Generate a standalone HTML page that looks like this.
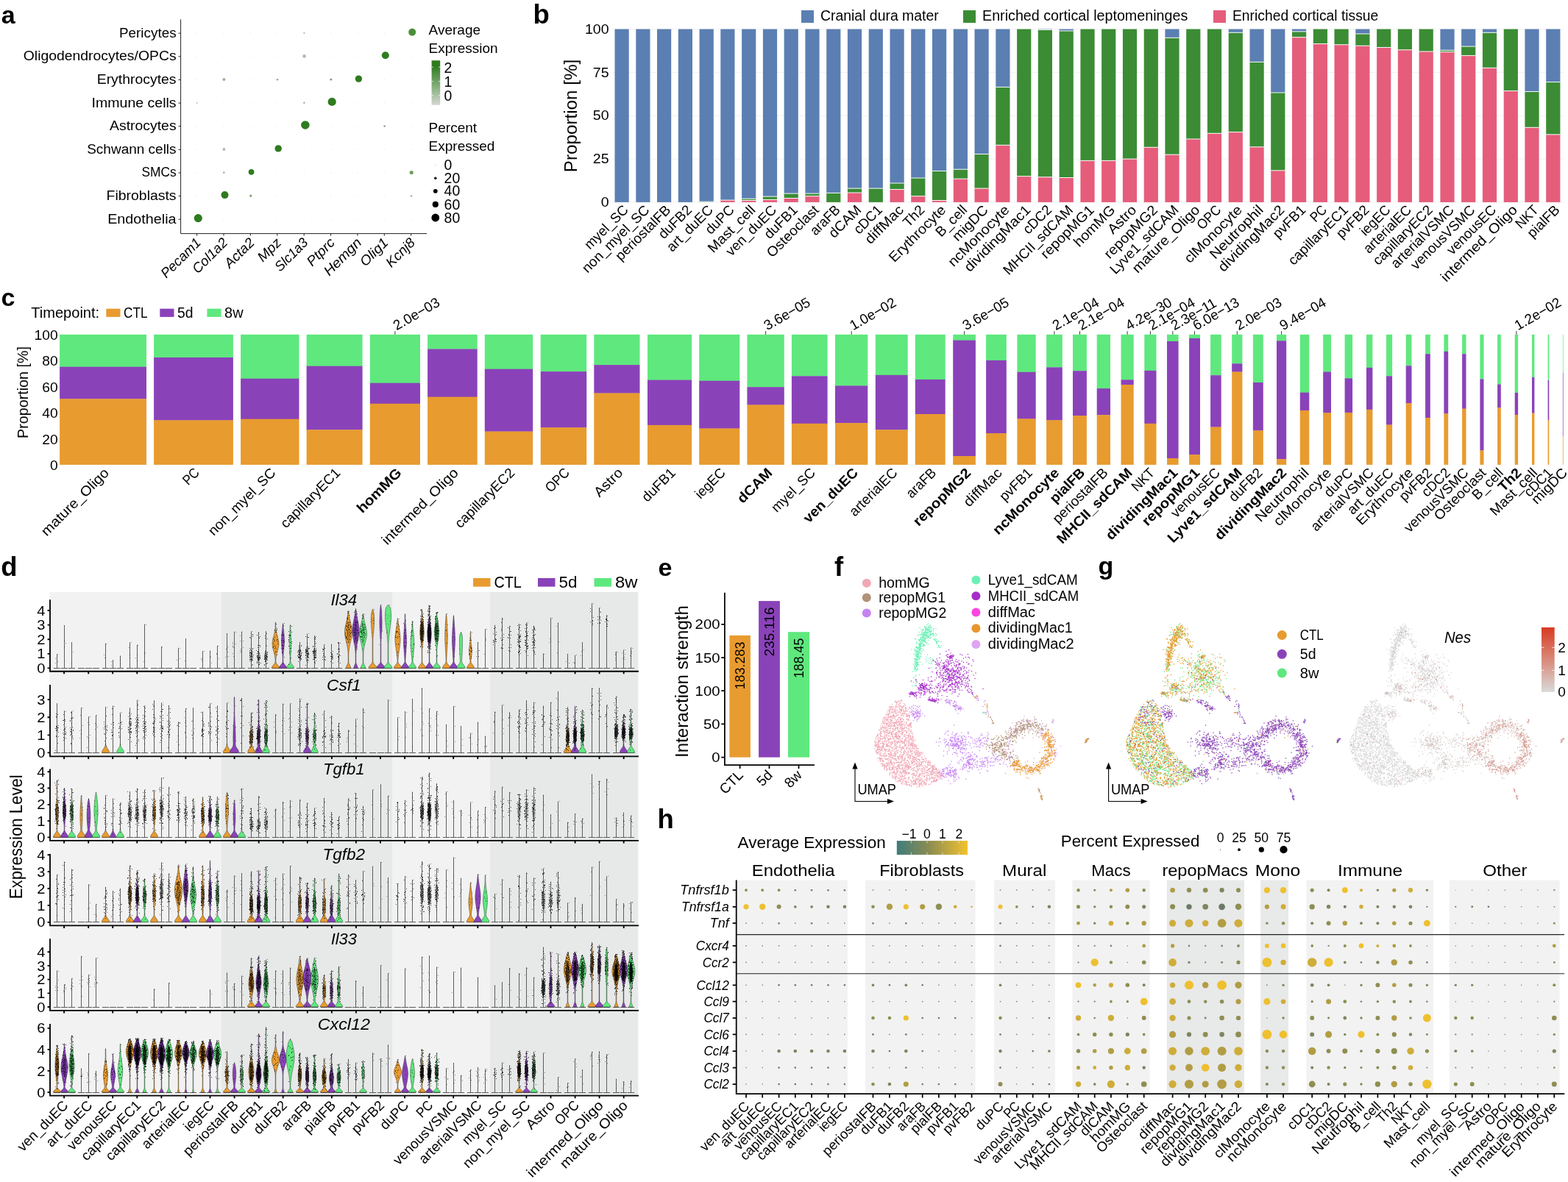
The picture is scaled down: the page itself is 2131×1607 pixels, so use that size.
<!DOCTYPE html><html><head><meta charset="utf-8"><title>Figure</title><style>html,body{margin:0;padding:0;background:#fff}svg{display:block}text{font-family:'Liberation Sans', sans-serif;fill:#000}</style></head><body><svg width="2131" height="1607" viewBox="0 0 2131 1607"><rect width="2131" height="1607" fill="#fff"/><g><text x="1.8" y="32" font-size="34" font-weight="bold">a</text><path d="M267.6 45.2h0M304 45.2h0M340.4 45.2h0M376.8 45.2h0M413.2 45.2h0M449.6 45.2h0M485.9 45.2h0M522.3 45.2h0M558.7 45.2h0M267.6 76.8h0M304 76.8h0M340.4 76.8h0M376.8 76.8h0M413.2 76.8h0M449.6 76.8h0M485.9 76.8h0M522.3 76.8h0M558.7 76.8h0M267.6 108.5h0M304 108.5h0M340.4 108.5h0M376.8 108.5h0M413.2 108.5h0M449.6 108.5h0M485.9 108.5h0M522.3 108.5h0M558.7 108.5h0M267.6 140.1h0M304 140.1h0M340.4 140.1h0M376.8 140.1h0M413.2 140.1h0M449.6 140.1h0M485.9 140.1h0M522.3 140.1h0M558.7 140.1h0M267.6 171.7h0M304 171.7h0M340.4 171.7h0M376.8 171.7h0M413.2 171.7h0M449.6 171.7h0M485.9 171.7h0M522.3 171.7h0M558.7 171.7h0M267.6 203.4h0M304 203.4h0M340.4 203.4h0M376.8 203.4h0M413.2 203.4h0M449.6 203.4h0M485.9 203.4h0M522.3 203.4h0M558.7 203.4h0M267.6 235h0M304 235h0M340.4 235h0M376.8 235h0M413.2 235h0M449.6 235h0M485.9 235h0M522.3 235h0M558.7 235h0M267.6 266.6h0M304 266.6h0M340.4 266.6h0M376.8 266.6h0M413.2 266.6h0M449.6 266.6h0M485.9 266.6h0M522.3 266.6h0M558.7 266.6h0M267.6 298.2h0M304 298.2h0M340.4 298.2h0M376.8 298.2h0M413.2 298.2h0M449.6 298.2h0M485.9 298.2h0M522.3 298.2h0M558.7 298.2h0" stroke="#e4e4e4" stroke-width="1.3" stroke-linecap="round" fill="none"/><circle cx="413.4" cy="45" r="1" fill="#a3a8a1"/><circle cx="413.6" cy="76.4" r="2.3" fill="#abbfa5"/><circle cx="304.4" cy="108.1" r="2" fill="#9fb296"/><circle cx="377" cy="108.2" r="1.3" fill="#98a593"/><circle cx="449.8" cy="108.2" r="1.4" fill="#80997a"/><circle cx="267.8" cy="139.9" r="0.9" fill="#b5b5b5"/><circle cx="413.4" cy="139.8" r="1.2" fill="#a5aaa2"/><circle cx="522.6" cy="171.5" r="1.2" fill="#8f948c"/><circle cx="304.4" cy="203" r="1.9" fill="#b0b6ad"/><circle cx="304.3" cy="234.7" r="1.4" fill="#b4b8b2"/><circle cx="559.2" cy="234.5" r="2.6" fill="#6fa061"/><circle cx="340.7" cy="266.3" r="1.7" fill="#8ba781"/><circle cx="559" cy="266.4" r="1.2" fill="#9aa596"/><circle cx="269.3" cy="296.6" r="5.6" fill="#2f7b1f"/><circle cx="305.5" cy="265.1" r="5" fill="#2f7b1f"/><circle cx="341.6" cy="233.8" r="3.9" fill="#2f7b1f"/><circle cx="378.2" cy="201.9" r="4.7" fill="#2f7b1f"/><circle cx="414.9" cy="170" r="5.8" fill="#2f7b1f"/><circle cx="451.2" cy="138.4" r="5.6" fill="#2f7b1f"/><circle cx="487.4" cy="107.1" r="4.7" fill="#2f7b1f"/><circle cx="523.8" cy="75.3" r="5" fill="#2f7b1f"/><circle cx="560.2" cy="43.7" r="5" fill="#4a8f38"/><path d="M245.6 26.4V317.6H580" stroke="#222" stroke-width="1" fill="none"/><path d="M245.6 45.2h-3M245.6 76.8h-3M245.6 108.5h-3M245.6 140.1h-3M245.6 171.7h-3M245.6 203.4h-3M245.6 235h-3M245.6 266.6h-3M245.6 298.2h-3M267.6 317.6v3M304 317.6v3M340.4 317.6v3M376.8 317.6v3M413.2 317.6v3M449.6 317.6v3M485.9 317.6v3M522.3 317.6v3M558.7 317.6v3" stroke="#222" stroke-width="1" fill="none"/><text x="239.6" y="50.6" font-size="18.8" text-anchor="end" textLength="77.6" lengthAdjust="spacingAndGlyphs">Pericytes</text><text x="239.6" y="82.2" font-size="18.8" text-anchor="end" textLength="207.8" lengthAdjust="spacingAndGlyphs">Oligodendrocytes/OPCs</text><text x="239.6" y="113.9" font-size="18.8" text-anchor="end" textLength="107.9" lengthAdjust="spacingAndGlyphs">Erythrocytes</text><text x="239.6" y="145.5" font-size="18.8" text-anchor="end" textLength="115" lengthAdjust="spacingAndGlyphs">Immune cells</text><text x="239.6" y="177.1" font-size="18.8" text-anchor="end" textLength="90.5" lengthAdjust="spacingAndGlyphs">Astrocytes</text><text x="239.6" y="208.8" font-size="18.8" text-anchor="end" textLength="121.4" lengthAdjust="spacingAndGlyphs">Schwann cells</text><text x="239.6" y="240.4" font-size="18.8" text-anchor="end" textLength="47.2" lengthAdjust="spacingAndGlyphs">SMCs</text><text x="239.6" y="272" font-size="18.8" text-anchor="end" textLength="95" lengthAdjust="spacingAndGlyphs">Fibroblasts</text><text x="239.6" y="303.6" font-size="18.8" text-anchor="end" textLength="93.4" lengthAdjust="spacingAndGlyphs">Endothelia</text><text x="274.1" y="331" font-size="18.6" text-anchor="end" transform="rotate(-45 274.1 331)" font-style="italic" textLength="67.9" lengthAdjust="spacingAndGlyphs">Pecam1</text><text x="310.5" y="331" font-size="18.6" text-anchor="end" transform="rotate(-45 310.5 331)" font-style="italic" textLength="58.9" lengthAdjust="spacingAndGlyphs">Col1a2</text><text x="346.9" y="331" font-size="18.6" text-anchor="end" transform="rotate(-45 346.9 331)" font-style="italic" textLength="48.9" lengthAdjust="spacingAndGlyphs">Acta2</text><text x="383.3" y="331" font-size="18.6" text-anchor="end" transform="rotate(-45 383.3 331)" font-style="italic" textLength="36.9" lengthAdjust="spacingAndGlyphs">Mpz</text><text x="419.7" y="331" font-size="18.6" text-anchor="end" transform="rotate(-45 419.7 331)" font-style="italic" textLength="55" lengthAdjust="spacingAndGlyphs">Slc1a3</text><text x="456.1" y="331" font-size="18.6" text-anchor="end" transform="rotate(-45 456.1 331)" font-style="italic" textLength="45.2" lengthAdjust="spacingAndGlyphs">Ptprc</text><text x="492.4" y="331" font-size="18.6" text-anchor="end" transform="rotate(-45 492.4 331)" font-style="italic" textLength="63.6" lengthAdjust="spacingAndGlyphs">Hemgn</text><text x="528.8" y="331" font-size="18.6" text-anchor="end" transform="rotate(-45 528.8 331)" font-style="italic" textLength="45.7" lengthAdjust="spacingAndGlyphs">Olig1</text><text x="565.2" y="331" font-size="18.6" text-anchor="end" transform="rotate(-45 565.2 331)" font-style="italic" textLength="47.2" lengthAdjust="spacingAndGlyphs">Kcnj8</text><text x="582.6" y="47" font-size="19">Average</text><text x="582.6" y="71.8" font-size="19">Expression</text><defs><linearGradient id="ga" x1="0" y1="0" x2="0" y2="1"><stop offset="0" stop-color="#2f7b1f"/><stop offset="0.12" stop-color="#2f7b1f"/><stop offset="0.78" stop-color="#a9c3a3"/><stop offset="1" stop-color="#d6d6d6"/></linearGradient></defs><rect x="586.6" y="82.2" width="11.6" height="60.6" fill="url(#ga)"/><path d="M586.6 91.2h2.3M598.2 91.2h-2.3M586.6 110.6h2.3M598.2 110.6h-2.3M586.6 129.6h2.3M598.2 129.6h-2.3" stroke="#fff" stroke-width="0.7" fill="none"/><text x="603.6" y="98.6" font-size="19.4">2</text><text x="603.6" y="117.5" font-size="19.4">1</text><text x="603.6" y="137.1" font-size="19.4">0</text><text x="582.6" y="180.3" font-size="19">Percent</text><text x="582.6" y="205.3" font-size="19">Expressed</text><circle cx="591.8" cy="224.1" r="0.6" fill="#aaa"/><text x="603.6" y="230.7" font-size="19.4">0</text><circle cx="591.8" cy="242.2" r="1.7" fill="#000"/><text x="603.6" y="248.8" font-size="19.4">20</text><circle cx="591.8" cy="259.8" r="2.9" fill="#000"/><text x="603.6" y="266.4" font-size="19.4">40</text><circle cx="591.8" cy="277.9" r="4.1" fill="#000"/><text x="603.6" y="284.5" font-size="19.4">60</text><circle cx="591.8" cy="296" r="5.4" fill="#000"/><text x="603.6" y="302.6" font-size="19.4">80</text></g>
<g><text x="724.6" y="32" font-size="36.5" font-weight="bold">b</text><path d="M832 274.9H2126M832 216.1H2126M832 157.2H2126M832 98.4H2126M832 39.6H2126" stroke="#ececec" stroke-width="0.8" fill="none"/><rect x="835.5" y="39.6" width="19.2" height="235.3" fill="#5b7fb2"/><rect x="864.3" y="39.6" width="19.2" height="235.3" fill="#5b7fb2"/><rect x="893" y="39.6" width="19.2" height="235.3" fill="#5b7fb2"/><rect x="921.8" y="39.6" width="19.2" height="235.3" fill="#5b7fb2"/><rect x="950.6" y="39.6" width="19.2" height="234.6" fill="#5b7fb2"/><rect x="950.6" y="274.2" width="19.2" height="0.7" fill="#3b8c34"/><path d="M950.6 274.2h19.2" stroke="#fff" stroke-width="1" fill="none" opacity="0.95"/><rect x="979.3" y="39.6" width="19.2" height="232.5" fill="#5b7fb2"/><rect x="979.3" y="272.1" width="19.2" height="2.8" fill="#e55d7b"/><path d="M979.3 272.1h19.2" stroke="#fff" stroke-width="1" fill="none" opacity="0.95"/><rect x="1008.1" y="39.6" width="19.2" height="230.6" fill="#5b7fb2"/><rect x="1008.1" y="270.2" width="19.2" height="2.4" fill="#3b8c34"/><rect x="1008.1" y="272.5" width="19.2" height="2.4" fill="#e55d7b"/><path d="M1008.1 270.2h19.2M1008.1 272.5h19.2" stroke="#fff" stroke-width="1" fill="none" opacity="0.95"/><rect x="1036.9" y="39.6" width="19.2" height="227.5" fill="#5b7fb2"/><rect x="1036.9" y="267.1" width="19.2" height="4.2" fill="#3b8c34"/><rect x="1036.9" y="271.4" width="19.2" height="3.5" fill="#e55d7b"/><path d="M1036.9 267.1h19.2M1036.9 271.4h19.2" stroke="#fff" stroke-width="1" fill="none" opacity="0.95"/><rect x="1065.6" y="39.6" width="19.2" height="223.5" fill="#5b7fb2"/><rect x="1065.6" y="263.1" width="19.2" height="6.4" fill="#3b8c34"/><rect x="1065.6" y="269.5" width="19.2" height="5.4" fill="#e55d7b"/><path d="M1065.6 263.1h19.2M1065.6 269.5h19.2" stroke="#fff" stroke-width="1" fill="none" opacity="0.95"/><rect x="1094.4" y="39.6" width="19.2" height="223.5" fill="#5b7fb2"/><rect x="1094.4" y="263.1" width="19.2" height="3.5" fill="#3b8c34"/><rect x="1094.4" y="266.7" width="19.2" height="8.2" fill="#e55d7b"/><path d="M1094.4 263.1h19.2M1094.4 266.7h19.2" stroke="#fff" stroke-width="1" fill="none" opacity="0.95"/><rect x="1123.2" y="39.6" width="19.2" height="222.8" fill="#5b7fb2"/><rect x="1123.2" y="262.4" width="19.2" height="12.5" fill="#3b8c34"/><path d="M1123.2 262.4h19.2" stroke="#fff" stroke-width="1" fill="none" opacity="0.95"/><rect x="1151.9" y="39.6" width="19.2" height="216.5" fill="#5b7fb2"/><rect x="1151.9" y="256.1" width="19.2" height="5.9" fill="#3b8c34"/><rect x="1151.9" y="262" width="19.2" height="12.9" fill="#e55d7b"/><path d="M1151.9 256.1h19.2M1151.9 262h19.2" stroke="#fff" stroke-width="1" fill="none" opacity="0.95"/><rect x="1180.7" y="39.6" width="19.2" height="216.5" fill="#5b7fb2"/><rect x="1180.7" y="256.1" width="19.2" height="18.8" fill="#3b8c34"/><path d="M1180.7 256.1h19.2" stroke="#fff" stroke-width="1" fill="none" opacity="0.95"/><rect x="1209.5" y="39.6" width="19.2" height="209.4" fill="#5b7fb2"/><rect x="1209.5" y="249" width="19.2" height="8.5" fill="#3b8c34"/><rect x="1209.5" y="257.5" width="19.2" height="17.4" fill="#e55d7b"/><path d="M1209.5 249h19.2M1209.5 257.5h19.2" stroke="#fff" stroke-width="1" fill="none" opacity="0.95"/><rect x="1238.2" y="39.6" width="19.2" height="202.4" fill="#5b7fb2"/><rect x="1238.2" y="242" width="19.2" height="24.7" fill="#3b8c34"/><rect x="1238.2" y="266.7" width="19.2" height="8.2" fill="#e55d7b"/><path d="M1238.2 242h19.2M1238.2 266.7h19.2" stroke="#fff" stroke-width="1" fill="none" opacity="0.95"/><rect x="1267" y="39.6" width="19.2" height="192.9" fill="#5b7fb2"/><rect x="1267" y="232.5" width="19.2" height="40" fill="#3b8c34"/><rect x="1267" y="272.5" width="19.2" height="2.4" fill="#e55d7b"/><path d="M1267 232.5h19.2M1267 272.5h19.2" stroke="#fff" stroke-width="1" fill="none" opacity="0.95"/><rect x="1295.8" y="39.6" width="19.2" height="190.6" fill="#5b7fb2"/><rect x="1295.8" y="230.2" width="19.2" height="12.9" fill="#3b8c34"/><rect x="1295.8" y="243.1" width="19.2" height="31.8" fill="#e55d7b"/><path d="M1295.8 230.2h19.2M1295.8 243.1h19.2" stroke="#fff" stroke-width="1" fill="none" opacity="0.95"/><rect x="1324.5" y="39.6" width="19.2" height="169.9" fill="#5b7fb2"/><rect x="1324.5" y="209.5" width="19.2" height="46.6" fill="#3b8c34"/><rect x="1324.5" y="256.1" width="19.2" height="18.8" fill="#e55d7b"/><path d="M1324.5 209.5h19.2M1324.5 256.1h19.2" stroke="#fff" stroke-width="1" fill="none" opacity="0.95"/><rect x="1353.3" y="39.6" width="19.2" height="78.8" fill="#5b7fb2"/><rect x="1353.3" y="118.4" width="19.2" height="78.8" fill="#3b8c34"/><rect x="1353.3" y="197.3" width="19.2" height="77.6" fill="#e55d7b"/><path d="M1353.3 118.4h19.2M1353.3 197.3h19.2" stroke="#fff" stroke-width="1" fill="none" opacity="0.95"/><rect x="1382.1" y="39.6" width="19.2" height="200" fill="#3b8c34"/><rect x="1382.1" y="239.6" width="19.2" height="35.3" fill="#e55d7b"/><path d="M1382.1 239.6h19.2" stroke="#fff" stroke-width="1" fill="none" opacity="0.95"/><rect x="1410.8" y="39.6" width="19.2" height="0.9" fill="#5b7fb2"/><rect x="1410.8" y="40.5" width="19.2" height="200.2" fill="#3b8c34"/><rect x="1410.8" y="240.8" width="19.2" height="34.1" fill="#e55d7b"/><path d="M1410.8 40.5h19.2M1410.8 240.8h19.2" stroke="#fff" stroke-width="1" fill="none" opacity="0.95"/><rect x="1439.6" y="39.6" width="19.2" height="2.4" fill="#5b7fb2"/><rect x="1439.6" y="42" width="19.2" height="199.5" fill="#3b8c34"/><rect x="1439.6" y="241.5" width="19.2" height="33.4" fill="#e55d7b"/><path d="M1439.6 42h19.2M1439.6 241.5h19.2" stroke="#fff" stroke-width="1" fill="none" opacity="0.95"/><rect x="1468.4" y="39.6" width="19.2" height="178.8" fill="#3b8c34"/><rect x="1468.4" y="218.4" width="19.2" height="56.5" fill="#e55d7b"/><path d="M1468.4 218.4h19.2" stroke="#fff" stroke-width="1" fill="none" opacity="0.95"/><rect x="1497.1" y="39.6" width="19.2" height="178.8" fill="#3b8c34"/><rect x="1497.1" y="218.4" width="19.2" height="56.5" fill="#e55d7b"/><path d="M1497.1 218.4h19.2" stroke="#fff" stroke-width="1" fill="none" opacity="0.95"/><rect x="1525.9" y="39.6" width="19.2" height="176.5" fill="#3b8c34"/><rect x="1525.9" y="216.1" width="19.2" height="58.8" fill="#e55d7b"/><path d="M1525.9 216.1h19.2" stroke="#fff" stroke-width="1" fill="none" opacity="0.95"/><rect x="1554.7" y="39.6" width="19.2" height="160.7" fill="#3b8c34"/><rect x="1554.7" y="200.3" width="19.2" height="74.6" fill="#e55d7b"/><path d="M1554.7 200.3h19.2" stroke="#fff" stroke-width="1" fill="none" opacity="0.95"/><rect x="1583.4" y="39.6" width="19.2" height="11.8" fill="#5b7fb2"/><rect x="1583.4" y="51.4" width="19.2" height="158.8" fill="#3b8c34"/><rect x="1583.4" y="210.2" width="19.2" height="64.7" fill="#e55d7b"/><path d="M1583.4 51.4h19.2M1583.4 210.2h19.2" stroke="#fff" stroke-width="1" fill="none" opacity="0.95"/><rect x="1612.2" y="39.6" width="19.2" height="149.4" fill="#3b8c34"/><rect x="1612.2" y="189" width="19.2" height="85.9" fill="#e55d7b"/><path d="M1612.2 189h19.2" stroke="#fff" stroke-width="1" fill="none" opacity="0.95"/><rect x="1640.9" y="39.6" width="19.2" height="141.7" fill="#3b8c34"/><rect x="1640.9" y="181.3" width="19.2" height="93.6" fill="#e55d7b"/><path d="M1640.9 181.3h19.2" stroke="#fff" stroke-width="1" fill="none" opacity="0.95"/><rect x="1669.7" y="39.6" width="19.2" height="4.7" fill="#5b7fb2"/><rect x="1669.7" y="44.3" width="19.2" height="135.3" fill="#3b8c34"/><rect x="1669.7" y="179.6" width="19.2" height="95.3" fill="#e55d7b"/><path d="M1669.7 44.3h19.2M1669.7 179.6h19.2" stroke="#fff" stroke-width="1" fill="none" opacity="0.95"/><rect x="1698.5" y="39.6" width="19.2" height="44.7" fill="#5b7fb2"/><rect x="1698.5" y="84.3" width="19.2" height="115.5" fill="#3b8c34"/><rect x="1698.5" y="199.8" width="19.2" height="75.1" fill="#e55d7b"/><path d="M1698.5 84.3h19.2M1698.5 199.8h19.2" stroke="#fff" stroke-width="1" fill="none" opacity="0.95"/><rect x="1727.2" y="39.6" width="19.2" height="86.4" fill="#5b7fb2"/><rect x="1727.2" y="126" width="19.2" height="105.9" fill="#3b8c34"/><rect x="1727.2" y="231.8" width="19.2" height="43.1" fill="#e55d7b"/><path d="M1727.2 126h19.2M1727.2 231.8h19.2" stroke="#fff" stroke-width="1" fill="none" opacity="0.95"/><rect x="1756" y="39.6" width="19.2" height="3.3" fill="#5b7fb2"/><rect x="1756" y="42.9" width="19.2" height="7.8" fill="#3b8c34"/><rect x="1756" y="50.7" width="19.2" height="224.2" fill="#e55d7b"/><path d="M1756 42.9h19.2M1756 50.7h19.2" stroke="#fff" stroke-width="1" fill="none" opacity="0.95"/><rect x="1784.8" y="39.6" width="19.2" height="20" fill="#3b8c34"/><rect x="1784.8" y="59.6" width="19.2" height="215.3" fill="#e55d7b"/><path d="M1784.8 59.6h19.2" stroke="#fff" stroke-width="1" fill="none" opacity="0.95"/><rect x="1813.5" y="39.6" width="19.2" height="21.2" fill="#3b8c34"/><rect x="1813.5" y="60.8" width="19.2" height="214.1" fill="#e55d7b"/><path d="M1813.5 60.8h19.2" stroke="#fff" stroke-width="1" fill="none" opacity="0.95"/><rect x="1842.3" y="39.6" width="19.2" height="6.4" fill="#5b7fb2"/><rect x="1842.3" y="46" width="19.2" height="16.2" fill="#3b8c34"/><rect x="1842.3" y="62.2" width="19.2" height="212.7" fill="#e55d7b"/><path d="M1842.3 46h19.2M1842.3 62.2h19.2" stroke="#fff" stroke-width="1" fill="none" opacity="0.95"/><rect x="1871.1" y="39.6" width="19.2" height="24.9" fill="#3b8c34"/><rect x="1871.1" y="64.5" width="19.2" height="210.4" fill="#e55d7b"/><path d="M1871.1 64.5h19.2" stroke="#fff" stroke-width="1" fill="none" opacity="0.95"/><rect x="1899.8" y="39.6" width="19.2" height="28.2" fill="#3b8c34"/><rect x="1899.8" y="67.8" width="19.2" height="207.1" fill="#e55d7b"/><path d="M1899.8 67.8h19.2" stroke="#fff" stroke-width="1" fill="none" opacity="0.95"/><rect x="1928.6" y="39.6" width="19.2" height="30.4" fill="#3b8c34"/><rect x="1928.6" y="70" width="19.2" height="204.9" fill="#e55d7b"/><path d="M1928.6 70h19.2" stroke="#fff" stroke-width="1" fill="none" opacity="0.95"/><rect x="1957.4" y="39.6" width="19.2" height="28.7" fill="#5b7fb2"/><rect x="1957.4" y="68.3" width="19.2" height="2.4" fill="#3b8c34"/><rect x="1957.4" y="70.7" width="19.2" height="204.2" fill="#e55d7b"/><path d="M1957.4 68.3h19.2M1957.4 70.7h19.2" stroke="#fff" stroke-width="1" fill="none" opacity="0.95"/><rect x="1986.1" y="39.6" width="19.2" height="23.5" fill="#5b7fb2"/><rect x="1986.1" y="63.1" width="19.2" height="12.5" fill="#3b8c34"/><rect x="1986.1" y="75.6" width="19.2" height="199.3" fill="#e55d7b"/><path d="M1986.1 63.1h19.2M1986.1 75.6h19.2" stroke="#fff" stroke-width="1" fill="none" opacity="0.95"/><rect x="2014.9" y="39.6" width="19.2" height="4.7" fill="#5b7fb2"/><rect x="2014.9" y="44.3" width="19.2" height="48" fill="#3b8c34"/><rect x="2014.9" y="92.3" width="19.2" height="182.6" fill="#e55d7b"/><path d="M2014.9 44.3h19.2M2014.9 92.3h19.2" stroke="#fff" stroke-width="1" fill="none" opacity="0.95"/><rect x="2043.7" y="39.6" width="19.2" height="84" fill="#3b8c34"/><rect x="2043.7" y="123.6" width="19.2" height="151.3" fill="#e55d7b"/><path d="M2043.7 123.6h19.2" stroke="#fff" stroke-width="1" fill="none" opacity="0.95"/><rect x="2072.4" y="39.6" width="19.2" height="84.9" fill="#5b7fb2"/><rect x="2072.4" y="124.5" width="19.2" height="48.7" fill="#3b8c34"/><rect x="2072.4" y="173.3" width="19.2" height="101.6" fill="#e55d7b"/><path d="M2072.4 124.5h19.2M2072.4 173.3h19.2" stroke="#fff" stroke-width="1" fill="none" opacity="0.95"/><rect x="2101.2" y="39.6" width="19.2" height="72" fill="#5b7fb2"/><rect x="2101.2" y="111.6" width="19.2" height="71.3" fill="#3b8c34"/><rect x="2101.2" y="182.9" width="19.2" height="92" fill="#e55d7b"/><path d="M2101.2 111.6h19.2M2101.2 182.9h19.2" stroke="#fff" stroke-width="1" fill="none" opacity="0.95"/><text x="827.6" y="281.1" font-size="18.2" text-anchor="end" textLength="10.9" lengthAdjust="spacingAndGlyphs">0</text><text x="827.6" y="222.3" font-size="18.2" text-anchor="end" textLength="21.8" lengthAdjust="spacingAndGlyphs">25</text><text x="827.6" y="163.4" font-size="18.2" text-anchor="end" textLength="21.8" lengthAdjust="spacingAndGlyphs">50</text><text x="827.6" y="104.6" font-size="18.2" text-anchor="end" textLength="21.8" lengthAdjust="spacingAndGlyphs">75</text><text x="827.6" y="45.8" font-size="18.2" text-anchor="end" textLength="32.7" lengthAdjust="spacingAndGlyphs">100</text><text x="784" y="157.5" font-size="24.2" text-anchor="middle" transform="rotate(-90 784 157.5)">Proportion [%]</text><text x="855.1" y="286.6" font-size="18.9" text-anchor="end" transform="rotate(-45 855.1 286.6)" textLength="75.6" lengthAdjust="spacingAndGlyphs">myel_SC</text><text x="883.9" y="286.6" font-size="18.9" text-anchor="end" transform="rotate(-45 883.9 286.6)" textLength="120.7" lengthAdjust="spacingAndGlyphs">non_myel_SC</text><text x="912.6" y="286.6" font-size="18.9" text-anchor="end" transform="rotate(-45 912.6 286.6)" textLength="97.3" lengthAdjust="spacingAndGlyphs">periostalFB</text><text x="941.4" y="286.6" font-size="18.9" text-anchor="end" transform="rotate(-45 941.4 286.6)" textLength="55.5" lengthAdjust="spacingAndGlyphs">duFB2</text><text x="970.2" y="286.6" font-size="18.9" text-anchor="end" transform="rotate(-45 970.2 286.6)" textLength="80" lengthAdjust="spacingAndGlyphs">art_duEC</text><text x="998.9" y="286.6" font-size="18.9" text-anchor="end" transform="rotate(-45 998.9 286.6)" textLength="46.5" lengthAdjust="spacingAndGlyphs">duPC</text><text x="1027.7" y="286.6" font-size="18.9" text-anchor="end" transform="rotate(-45 1027.7 286.6)" textLength="82.2" lengthAdjust="spacingAndGlyphs">Mast_cell</text><text x="1056.5" y="286.6" font-size="18.9" text-anchor="end" transform="rotate(-45 1056.5 286.6)" textLength="88.3" lengthAdjust="spacingAndGlyphs">ven_duEC</text><text x="1085.2" y="286.6" font-size="18.9" text-anchor="end" transform="rotate(-45 1085.2 286.6)" textLength="55.5" lengthAdjust="spacingAndGlyphs">duFB1</text><text x="1114" y="286.6" font-size="18.9" text-anchor="end" transform="rotate(-45 1114 286.6)" textLength="91.1" lengthAdjust="spacingAndGlyphs">Osteoclast</text><text x="1142.8" y="286.6" font-size="18.9" text-anchor="end" transform="rotate(-45 1142.8 286.6)" textLength="48.5" lengthAdjust="spacingAndGlyphs">araFB</text><text x="1171.5" y="286.6" font-size="18.9" text-anchor="end" transform="rotate(-45 1171.5 286.6)" textLength="53.5" lengthAdjust="spacingAndGlyphs">dCAM</text><text x="1200.3" y="286.6" font-size="18.9" text-anchor="end" transform="rotate(-45 1200.3 286.6)" textLength="46.1" lengthAdjust="spacingAndGlyphs">cDC1</text><text x="1229.1" y="286.6" font-size="18.9" text-anchor="end" transform="rotate(-45 1229.1 286.6)" textLength="65.1" lengthAdjust="spacingAndGlyphs">diffMac</text><text x="1257.8" y="286.6" font-size="18.9" text-anchor="end" transform="rotate(-45 1257.8 286.6)" textLength="32.7" lengthAdjust="spacingAndGlyphs">Th2</text><text x="1286.6" y="286.6" font-size="18.9" text-anchor="end" transform="rotate(-45 1286.6 286.6)" textLength="100.4" lengthAdjust="spacingAndGlyphs">Erythrocyte</text><text x="1315.4" y="286.6" font-size="18.9" text-anchor="end" transform="rotate(-45 1315.4 286.6)" textLength="51.5" lengthAdjust="spacingAndGlyphs">B_cell</text><text x="1344.1" y="286.6" font-size="18.9" text-anchor="end" transform="rotate(-45 1344.1 286.6)" textLength="60" lengthAdjust="spacingAndGlyphs">migDC</text><text x="1372.9" y="286.6" font-size="18.9" text-anchor="end" transform="rotate(-45 1372.9 286.6)" textLength="108.9" lengthAdjust="spacingAndGlyphs">ncMonocyte</text><text x="1401.7" y="286.6" font-size="18.9" text-anchor="end" transform="rotate(-45 1401.7 286.6)" textLength="118.5" lengthAdjust="spacingAndGlyphs">dividingMac1</text><text x="1430.4" y="286.6" font-size="18.9" text-anchor="end" transform="rotate(-45 1430.4 286.6)" textLength="46.1" lengthAdjust="spacingAndGlyphs">cDC2</text><text x="1459.2" y="286.6" font-size="18.9" text-anchor="end" transform="rotate(-45 1459.2 286.6)" textLength="124.8" lengthAdjust="spacingAndGlyphs">MHCII_sdCAM</text><text x="1488" y="286.6" font-size="18.9" text-anchor="end" transform="rotate(-45 1488 286.6)" textLength="93.6" lengthAdjust="spacingAndGlyphs">repopMG1</text><text x="1516.7" y="286.6" font-size="18.9" text-anchor="end" transform="rotate(-45 1516.7 286.6)" textLength="70.8" lengthAdjust="spacingAndGlyphs">homMG</text><text x="1545.5" y="286.6" font-size="18.9" text-anchor="end" transform="rotate(-45 1545.5 286.6)" textLength="46.3" lengthAdjust="spacingAndGlyphs">Astro</text><text x="1574.2" y="286.6" font-size="18.9" text-anchor="end" transform="rotate(-45 1574.2 286.6)" textLength="93.6" lengthAdjust="spacingAndGlyphs">repopMG2</text><text x="1603" y="286.6" font-size="18.9" text-anchor="end" transform="rotate(-45 1603 286.6)" textLength="123.2" lengthAdjust="spacingAndGlyphs">Lyve1_sdCAM</text><text x="1631.8" y="286.6" font-size="18.9" text-anchor="end" transform="rotate(-45 1631.8 286.6)" textLength="121.1" lengthAdjust="spacingAndGlyphs">mature_Oligo</text><text x="1660.5" y="286.6" font-size="18.9" text-anchor="end" transform="rotate(-45 1660.5 286.6)" textLength="37.6" lengthAdjust="spacingAndGlyphs">OPC</text><text x="1689.3" y="286.6" font-size="18.9" text-anchor="end" transform="rotate(-45 1689.3 286.6)" textLength="102.2" lengthAdjust="spacingAndGlyphs">clMonocyte</text><text x="1718.1" y="286.6" font-size="18.9" text-anchor="end" transform="rotate(-45 1718.1 286.6)" textLength="94.3" lengthAdjust="spacingAndGlyphs">Neutrophil</text><text x="1746.8" y="286.6" font-size="18.9" text-anchor="end" transform="rotate(-45 1746.8 286.6)" textLength="118.5" lengthAdjust="spacingAndGlyphs">dividingMac2</text><text x="1775.6" y="286.6" font-size="18.9" text-anchor="end" transform="rotate(-45 1775.6 286.6)" textLength="54.2" lengthAdjust="spacingAndGlyphs">pvFB1</text><text x="1804.4" y="286.6" font-size="18.9" text-anchor="end" transform="rotate(-45 1804.4 286.6)" textLength="23.2" lengthAdjust="spacingAndGlyphs">PC</text><text x="1833.1" y="286.6" font-size="18.9" text-anchor="end" transform="rotate(-45 1833.1 286.6)" textLength="106" lengthAdjust="spacingAndGlyphs">capillaryEC1</text><text x="1861.9" y="286.6" font-size="18.9" text-anchor="end" transform="rotate(-45 1861.9 286.6)" textLength="54.2" lengthAdjust="spacingAndGlyphs">pvFB2</text><text x="1890.7" y="286.6" font-size="18.9" text-anchor="end" transform="rotate(-45 1890.7 286.6)" textLength="49.4" lengthAdjust="spacingAndGlyphs">iegEC</text><text x="1919.4" y="286.6" font-size="18.9" text-anchor="end" transform="rotate(-45 1919.4 286.6)" textLength="83.4" lengthAdjust="spacingAndGlyphs">arterialEC</text><text x="1948.2" y="286.6" font-size="18.9" text-anchor="end" transform="rotate(-45 1948.2 286.6)" textLength="106" lengthAdjust="spacingAndGlyphs">capillaryEC2</text><text x="1977" y="286.6" font-size="18.9" text-anchor="end" transform="rotate(-45 1977 286.6)" textLength="111.9" lengthAdjust="spacingAndGlyphs">arterialVSMC</text><text x="2005.7" y="286.6" font-size="18.9" text-anchor="end" transform="rotate(-45 2005.7 286.6)" textLength="114.3" lengthAdjust="spacingAndGlyphs">venousVSMC</text><text x="2034.5" y="286.6" font-size="18.9" text-anchor="end" transform="rotate(-45 2034.5 286.6)" textLength="85.8" lengthAdjust="spacingAndGlyphs">venousEC</text><text x="2063.3" y="286.6" font-size="18.9" text-anchor="end" transform="rotate(-45 2063.3 286.6)" textLength="138.2" lengthAdjust="spacingAndGlyphs">intermed_Oligo</text><text x="2092" y="286.6" font-size="18.9" text-anchor="end" transform="rotate(-45 2092 286.6)" textLength="35.5" lengthAdjust="spacingAndGlyphs">NKT</text><text x="2120.8" y="286.6" font-size="18.9" text-anchor="end" transform="rotate(-45 2120.8 286.6)" textLength="53.3" lengthAdjust="spacingAndGlyphs">pialFB</text><rect x="1089" y="14" width="17" height="17" fill="#5b7fb2"/><text x="1115" y="28.4" font-size="19.3" textLength="160.7" lengthAdjust="spacingAndGlyphs">Cranial dura mater</text><rect x="1309" y="14" width="17" height="17" fill="#3b8c34"/><text x="1335" y="28.4" font-size="19.3" textLength="279.3" lengthAdjust="spacingAndGlyphs">Enriched cortical leptomeninges</text><rect x="1649" y="14" width="17" height="17" fill="#e55d7b"/><text x="1675" y="28.4" font-size="19.3" textLength="198.3" lengthAdjust="spacingAndGlyphs">Enriched cortical tissue</text></g>
<g><text x="1.5" y="415.5" font-size="34" font-weight="bold">c</text><rect x="81.1" y="454.8" width="117.9" height="44.2" fill="#5fe87e"/><rect x="81.1" y="498.7" width="117.9" height="43.9" fill="#8a42b9"/><rect x="81.1" y="542.3" width="117.9" height="89.6" fill="#e89b2f"/><text x="149.2" y="644" font-size="18.9" text-anchor="end" transform="rotate(-45 149.2 644)" textLength="121.1" lengthAdjust="spacingAndGlyphs">mature_Oligo</text><rect x="209.1" y="454.8" width="107.8" height="31.5" fill="#5fe87e"/><rect x="209.1" y="486" width="107.8" height="85.7" fill="#8a42b9"/><rect x="209.1" y="571.3" width="107.8" height="60.6" fill="#e89b2f"/><text x="272.1" y="644" font-size="18.9" text-anchor="end" transform="rotate(-45 272.1 644)" textLength="23.2" lengthAdjust="spacingAndGlyphs">PC</text><rect x="327.1" y="454.8" width="79.4" height="60.2" fill="#5fe87e"/><rect x="327.1" y="514.7" width="79.4" height="55.4" fill="#8a42b9"/><rect x="327.1" y="569.7" width="79.4" height="62.2" fill="#e89b2f"/><text x="375.9" y="644" font-size="18.9" text-anchor="end" transform="rotate(-45 375.9 644)" textLength="120.7" lengthAdjust="spacingAndGlyphs">non_myel_SC</text><rect x="416.6" y="454.8" width="76" height="43.2" fill="#5fe87e"/><rect x="416.6" y="497.7" width="76" height="86.9" fill="#8a42b9"/><rect x="416.6" y="584.3" width="76" height="47.6" fill="#e89b2f"/><text x="463.7" y="644" font-size="18.9" text-anchor="end" transform="rotate(-45 463.7 644)" textLength="106" lengthAdjust="spacingAndGlyphs">capillaryEC1</text><rect x="502.8" y="454.8" width="68.2" height="66.2" fill="#5fe87e"/><rect x="502.8" y="520.7" width="68.2" height="28.5" fill="#8a42b9"/><rect x="502.8" y="548.8" width="68.2" height="83.1" fill="#e89b2f"/><text x="547" y="644" font-size="18.9" text-anchor="end" transform="rotate(-45 547 644)" font-weight="bold" textLength="77.2" lengthAdjust="spacingAndGlyphs">homMG</text><path d="M536.9 450.2L536.9 454.8" stroke="#222" stroke-width="0.9" fill="none"/><text x="539.1" y="449.6" font-size="19" transform="rotate(-30 539.1 449.6)">2.0e−03</text><rect x="581.1" y="454.8" width="67.6" height="20" fill="#5fe87e"/><rect x="581.1" y="474.5" width="67.6" height="65.5" fill="#8a42b9"/><rect x="581.1" y="539.6" width="67.6" height="92.3" fill="#e89b2f"/><text x="624" y="644" font-size="18.9" text-anchor="end" transform="rotate(-45 624 644)" textLength="138.2" lengthAdjust="spacingAndGlyphs">intermed_Oligo</text><rect x="658.8" y="454.8" width="65.4" height="47.2" fill="#5fe87e"/><rect x="658.8" y="501.7" width="65.4" height="85.1" fill="#8a42b9"/><rect x="658.8" y="586.6" width="65.4" height="45.3" fill="#e89b2f"/><text x="700.6" y="644" font-size="18.9" text-anchor="end" transform="rotate(-45 700.6 644)" textLength="106" lengthAdjust="spacingAndGlyphs">capillaryEC2</text><rect x="734.7" y="454.8" width="62.5" height="50.6" fill="#5fe87e"/><rect x="734.7" y="505.1" width="62.5" height="76.5" fill="#8a42b9"/><rect x="734.7" y="581.2" width="62.5" height="50.7" fill="#e89b2f"/><text x="775.1" y="644" font-size="18.9" text-anchor="end" transform="rotate(-45 775.1 644)" textLength="37.6" lengthAdjust="spacingAndGlyphs">OPC</text><rect x="807.3" y="454.8" width="62.2" height="41.6" fill="#5fe87e"/><rect x="807.3" y="496.1" width="62.2" height="38.7" fill="#8a42b9"/><rect x="807.3" y="534.5" width="62.2" height="97.4" fill="#e89b2f"/><text x="847.5" y="644" font-size="18.9" text-anchor="end" transform="rotate(-45 847.5 644)" textLength="46.3" lengthAdjust="spacingAndGlyphs">Astro</text><rect x="880" y="454.8" width="60.1" height="62.1" fill="#5fe87e"/><rect x="880" y="516.6" width="60.1" height="61.6" fill="#8a42b9"/><rect x="880" y="577.9" width="60.1" height="54" fill="#e89b2f"/><text x="919.1" y="644" font-size="18.9" text-anchor="end" transform="rotate(-45 919.1 644)" textLength="55.5" lengthAdjust="spacingAndGlyphs">duFB1</text><rect x="950.2" y="454.8" width="55.1" height="63.2" fill="#5fe87e"/><rect x="950.2" y="517.7" width="55.1" height="65.1" fill="#8a42b9"/><rect x="950.2" y="582.5" width="55.1" height="49.4" fill="#e89b2f"/><text x="986.9" y="644" font-size="18.9" text-anchor="end" transform="rotate(-45 986.9 644)" textLength="49.4" lengthAdjust="spacingAndGlyphs">iegEC</text><rect x="1015.4" y="454.8" width="50.4" height="71.7" fill="#5fe87e"/><rect x="1015.4" y="526.2" width="50.4" height="24.6" fill="#8a42b9"/><rect x="1015.4" y="550.4" width="50.4" height="81.5" fill="#e89b2f"/><text x="1050.7" y="644" font-size="18.9" text-anchor="end" transform="rotate(-45 1050.7 644)" font-weight="bold" textLength="58.3" lengthAdjust="spacingAndGlyphs">dCAM</text><path d="M1040.6 450.2L1040.6 454.8" stroke="#222" stroke-width="0.9" fill="none"/><text x="1042.8" y="449.6" font-size="19" transform="rotate(-30 1042.8 449.6)">3.6e−05</text><rect x="1075.9" y="454.8" width="48.7" height="56.8" fill="#5fe87e"/><rect x="1075.9" y="511.3" width="48.7" height="64.8" fill="#8a42b9"/><rect x="1075.9" y="575.8" width="48.7" height="56.1" fill="#e89b2f"/><text x="1109.3" y="644" font-size="18.9" text-anchor="end" transform="rotate(-45 1109.3 644)" textLength="75.6" lengthAdjust="spacingAndGlyphs">myel_SC</text><rect x="1135" y="454.8" width="44.3" height="69.9" fill="#5fe87e"/><rect x="1135" y="524.4" width="44.3" height="51" fill="#8a42b9"/><rect x="1135" y="575.1" width="44.3" height="56.8" fill="#e89b2f"/><text x="1167.2" y="644" font-size="18.9" text-anchor="end" transform="rotate(-45 1167.2 644)" font-weight="bold" textLength="96.2" lengthAdjust="spacingAndGlyphs">ven_duEC</text><path d="M1157.2 450.2L1157.2 454.8" stroke="#222" stroke-width="0.9" fill="none"/><text x="1159.4" y="449.6" font-size="19" transform="rotate(-30 1159.4 449.6)">1.0e−02</text><rect x="1189.8" y="454.8" width="43.9" height="55.4" fill="#5fe87e"/><rect x="1189.8" y="509.9" width="43.9" height="74.7" fill="#8a42b9"/><rect x="1189.8" y="584.3" width="43.9" height="47.6" fill="#e89b2f"/><text x="1220.8" y="644" font-size="18.9" text-anchor="end" transform="rotate(-45 1220.8 644)" textLength="83.4" lengthAdjust="spacingAndGlyphs">arterialEC</text><rect x="1243.8" y="454.8" width="40.9" height="61.4" fill="#5fe87e"/><rect x="1243.8" y="515.9" width="40.9" height="47.4" fill="#8a42b9"/><rect x="1243.8" y="563" width="40.9" height="68.9" fill="#e89b2f"/><text x="1273.3" y="644" font-size="18.9" text-anchor="end" transform="rotate(-45 1273.3 644)" textLength="48.5" lengthAdjust="spacingAndGlyphs">araFB</text><rect x="1295.2" y="454.8" width="30.7" height="8.1" fill="#5fe87e"/><rect x="1295.2" y="462.6" width="30.7" height="157.7" fill="#8a42b9"/><rect x="1295.2" y="620" width="30.7" height="11.9" fill="#e89b2f"/><text x="1320.7" y="644" font-size="18.9" text-anchor="end" transform="rotate(-45 1320.7 644)" font-weight="bold" textLength="102" lengthAdjust="spacingAndGlyphs">repopMG2</text><path d="M1310.6 450.2L1310.6 454.8" stroke="#222" stroke-width="0.9" fill="none"/><text x="1312.8" y="449.6" font-size="19" transform="rotate(-30 1312.8 449.6)">3.6e−05</text><rect x="1340.1" y="454.8" width="27.7" height="35.4" fill="#5fe87e"/><rect x="1340.1" y="489.9" width="27.7" height="99.5" fill="#8a42b9"/><rect x="1340.1" y="589" width="27.7" height="42.9" fill="#e89b2f"/><text x="1363" y="644" font-size="18.9" text-anchor="end" transform="rotate(-45 1363 644)" textLength="65.1" lengthAdjust="spacingAndGlyphs">diffMac</text><rect x="1382.4" y="454.8" width="25.3" height="51.3" fill="#5fe87e"/><rect x="1382.4" y="505.8" width="25.3" height="63.9" fill="#8a42b9"/><rect x="1382.4" y="569.4" width="25.3" height="62.5" fill="#e89b2f"/><text x="1404.2" y="644" font-size="18.9" text-anchor="end" transform="rotate(-45 1404.2 644)" textLength="54.2" lengthAdjust="spacingAndGlyphs">pvFB1</text><rect x="1422.1" y="454.8" width="21.7" height="44.9" fill="#5fe87e"/><rect x="1422.1" y="499.4" width="21.7" height="72.2" fill="#8a42b9"/><rect x="1422.1" y="571.3" width="21.7" height="60.6" fill="#e89b2f"/><text x="1440.8" y="644" font-size="18.9" text-anchor="end" transform="rotate(-45 1440.8 644)" font-weight="bold" textLength="118.7" lengthAdjust="spacingAndGlyphs">ncMonocyte</text><path d="M1432.9 450.2L1432.9 454.8" stroke="#222" stroke-width="0.9" fill="none"/><text x="1435.1" y="449.6" font-size="19" transform="rotate(-30 1435.1 449.6)">2.1e−04</text><rect x="1458" y="454.8" width="18.9" height="49.7" fill="#5fe87e"/><rect x="1458" y="504.2" width="18.9" height="61" fill="#8a42b9"/><rect x="1458" y="565" width="18.9" height="66.9" fill="#e89b2f"/><text x="1475.4" y="644" font-size="18.9" text-anchor="end" transform="rotate(-45 1475.4 644)" font-weight="bold" textLength="58.1" lengthAdjust="spacingAndGlyphs">pialFB</text><path d="M1467.5 450.2L1467.5 454.8" stroke="#222" stroke-width="0.9" fill="none"/><text x="1469.7" y="449.6" font-size="19" transform="rotate(-30 1469.7 449.6)">2.1e−04</text><rect x="1490.7" y="454.8" width="18.3" height="73.6" fill="#5fe87e"/><rect x="1490.7" y="528.1" width="18.3" height="36.4" fill="#8a42b9"/><rect x="1490.7" y="564.2" width="18.3" height="67.7" fill="#e89b2f"/><text x="1506.8" y="644" font-size="18.9" text-anchor="end" transform="rotate(-45 1506.8 644)" textLength="97.3" lengthAdjust="spacingAndGlyphs">periostalFB</text><rect x="1523.5" y="454.8" width="17.2" height="61.8" fill="#5fe87e"/><rect x="1523.5" y="516.3" width="17.2" height="7" fill="#8a42b9"/><rect x="1523.5" y="523" width="17.2" height="108.9" fill="#e89b2f"/><text x="1540" y="644" font-size="18.9" text-anchor="end" transform="rotate(-45 1540 644)" font-weight="bold" textLength="136" lengthAdjust="spacingAndGlyphs">MHCII_sdCAM</text><path d="M1532.1 450.2L1532.1 454.8" stroke="#222" stroke-width="0.9" fill="none"/><text x="1534.3" y="449.6" font-size="19" transform="rotate(-30 1534.3 449.6)">4.2e−30</text><rect x="1555.3" y="454.8" width="16.2" height="49.4" fill="#5fe87e"/><rect x="1555.3" y="503.9" width="16.2" height="72.2" fill="#8a42b9"/><rect x="1555.3" y="575.8" width="16.2" height="56.1" fill="#e89b2f"/><text x="1570.3" y="644" font-size="18.9" text-anchor="end" transform="rotate(-45 1570.3 644)" textLength="35.5" lengthAdjust="spacingAndGlyphs">NKT</text><path d="M1563.4 450.2L1563.4 454.8" stroke="#222" stroke-width="0.9" fill="none"/><text x="1565.6" y="449.6" font-size="19" transform="rotate(-30 1565.6 449.6)">2.1e−04</text><rect x="1586" y="454.8" width="15.6" height="9.5" fill="#5fe87e"/><rect x="1586" y="464" width="15.6" height="159.3" fill="#8a42b9"/><rect x="1586" y="623" width="15.6" height="8.9" fill="#e89b2f"/><text x="1601.7" y="644" font-size="18.9" text-anchor="end" transform="rotate(-45 1601.7 644)" font-weight="bold" textLength="129.2" lengthAdjust="spacingAndGlyphs">dividingMac1</text><path d="M1593.8 450.2L1593.8 454.8" stroke="#222" stroke-width="0.9" fill="none"/><text x="1596" y="449.6" font-size="19" transform="rotate(-30 1596 449.6)">2.3e−11</text><rect x="1616.1" y="454.8" width="14.9" height="5.4" fill="#5fe87e"/><rect x="1616.1" y="459.9" width="14.9" height="158.5" fill="#8a42b9"/><rect x="1616.1" y="618.1" width="14.9" height="13.8" fill="#e89b2f"/><text x="1631.5" y="644" font-size="18.9" text-anchor="end" transform="rotate(-45 1631.5 644)" font-weight="bold" textLength="102" lengthAdjust="spacingAndGlyphs">repopMG1</text><path d="M1623.5 450.2L1623.5 454.8" stroke="#222" stroke-width="0.9" fill="none"/><text x="1625.8" y="449.6" font-size="19" transform="rotate(-30 1625.8 449.6)">6.0e−13</text><rect x="1645.1" y="454.8" width="14.6" height="55.7" fill="#5fe87e"/><rect x="1645.1" y="510.2" width="14.6" height="70.6" fill="#8a42b9"/><rect x="1645.1" y="580.5" width="14.6" height="51.4" fill="#e89b2f"/><text x="1659.3" y="644" font-size="18.9" text-anchor="end" transform="rotate(-45 1659.3 644)" textLength="85.8" lengthAdjust="spacingAndGlyphs">venousEC</text><rect x="1674.2" y="454.8" width="14.2" height="39.8" fill="#5fe87e"/><rect x="1674.2" y="494.3" width="14.2" height="11.5" fill="#8a42b9"/><rect x="1674.2" y="505.5" width="14.2" height="126.4" fill="#e89b2f"/><text x="1689.2" y="644" font-size="18.9" text-anchor="end" transform="rotate(-45 1689.2 644)" font-weight="bold" textLength="134.3" lengthAdjust="spacingAndGlyphs">Lyve1_sdCAM</text><path d="M1681.3 450.2L1681.3 454.8" stroke="#222" stroke-width="0.9" fill="none"/><text x="1683.5" y="449.6" font-size="19" transform="rotate(-30 1683.5 449.6)">2.0e−03</text><rect x="1702.9" y="454.8" width="13.9" height="65.5" fill="#5fe87e"/><rect x="1702.9" y="520" width="13.9" height="65.6" fill="#8a42b9"/><rect x="1702.9" y="585.3" width="13.9" height="46.6" fill="#e89b2f"/><text x="1716.8" y="644" font-size="18.9" text-anchor="end" transform="rotate(-45 1716.8 644)" textLength="55.5" lengthAdjust="spacingAndGlyphs">duFB2</text><rect x="1735" y="454.8" width="13.2" height="8.8" fill="#5fe87e"/><rect x="1735" y="463.3" width="13.2" height="161.1" fill="#8a42b9"/><rect x="1735" y="624.1" width="13.2" height="7.8" fill="#e89b2f"/><text x="1749.5" y="644" font-size="18.9" text-anchor="end" transform="rotate(-45 1749.5 644)" font-weight="bold" textLength="129.2" lengthAdjust="spacingAndGlyphs">dividingMac2</text><path d="M1741.6 450.2L1741.6 454.8" stroke="#222" stroke-width="0.9" fill="none"/><text x="1743.8" y="449.6" font-size="19" transform="rotate(-30 1743.8 449.6)">9.4e−04</text><rect x="1766.8" y="454.8" width="12.5" height="79.1" fill="#5fe87e"/><rect x="1766.8" y="533.6" width="12.5" height="24.6" fill="#8a42b9"/><rect x="1766.8" y="557.9" width="12.5" height="74" fill="#e89b2f"/><text x="1780" y="644" font-size="18.9" text-anchor="end" transform="rotate(-45 1780 644)" textLength="94.3" lengthAdjust="spacingAndGlyphs">Neutrophil</text><rect x="1798.2" y="454.8" width="10.8" height="51" fill="#5fe87e"/><rect x="1798.2" y="505.5" width="10.8" height="56.1" fill="#8a42b9"/><rect x="1798.2" y="561.2" width="10.8" height="70.7" fill="#e89b2f"/><text x="1810.5" y="644" font-size="18.9" text-anchor="end" transform="rotate(-45 1810.5 644)" textLength="102.2" lengthAdjust="spacingAndGlyphs">clMonocyte</text><rect x="1827.6" y="454.8" width="10.5" height="59.8" fill="#5fe87e"/><rect x="1827.6" y="514.3" width="10.5" height="46.9" fill="#8a42b9"/><rect x="1827.6" y="560.9" width="10.5" height="71" fill="#e89b2f"/><text x="1839.8" y="644" font-size="18.9" text-anchor="end" transform="rotate(-45 1839.8 644)" textLength="46.5" lengthAdjust="spacingAndGlyphs">duPC</text><rect x="1857" y="454.8" width="8.4" height="45.3" fill="#5fe87e"/><rect x="1857" y="499.8" width="8.4" height="57.3" fill="#8a42b9"/><rect x="1857" y="556.8" width="8.4" height="75.1" fill="#e89b2f"/><text x="1868.1" y="644" font-size="18.9" text-anchor="end" transform="rotate(-45 1868.1 644)" textLength="111.9" lengthAdjust="spacingAndGlyphs">arterialVSMC</text><rect x="1884" y="454.8" width="8.1" height="56.8" fill="#5fe87e"/><rect x="1884" y="511.3" width="8.1" height="66.5" fill="#8a42b9"/><rect x="1884" y="577.5" width="8.1" height="54.4" fill="#e89b2f"/><text x="1895" y="644" font-size="18.9" text-anchor="end" transform="rotate(-45 1895 644)" textLength="80" lengthAdjust="spacingAndGlyphs">art_duEC</text><rect x="1910.7" y="454.8" width="7.8" height="42.8" fill="#5fe87e"/><rect x="1910.7" y="497.3" width="7.8" height="51.1" fill="#8a42b9"/><rect x="1910.7" y="548.1" width="7.8" height="83.8" fill="#e89b2f"/><text x="1921.5" y="644" font-size="18.9" text-anchor="end" transform="rotate(-45 1921.5 644)" textLength="100.4" lengthAdjust="spacingAndGlyphs">Erythrocyte</text><rect x="1937.1" y="454.8" width="6.7" height="26.7" fill="#5fe87e"/><rect x="1937.1" y="481.2" width="6.7" height="87.1" fill="#8a42b9"/><rect x="1937.1" y="568" width="6.7" height="63.9" fill="#e89b2f"/><text x="1947.3" y="644" font-size="18.9" text-anchor="end" transform="rotate(-45 1947.3 644)" textLength="54.2" lengthAdjust="spacingAndGlyphs">pvFB2</text><rect x="1962.4" y="454.8" width="5.8" height="23.3" fill="#5fe87e"/><rect x="1962.4" y="477.8" width="5.8" height="84.8" fill="#8a42b9"/><rect x="1962.4" y="562.3" width="5.8" height="69.6" fill="#e89b2f"/><text x="1972.2" y="644" font-size="18.9" text-anchor="end" transform="rotate(-45 1972.2 644)" textLength="46.1" lengthAdjust="spacingAndGlyphs">cDC2</text><rect x="1987.1" y="454.8" width="5.4" height="26.7" fill="#5fe87e"/><rect x="1987.1" y="481.2" width="5.4" height="74.7" fill="#8a42b9"/><rect x="1987.1" y="555.6" width="5.4" height="76.3" fill="#e89b2f"/><text x="1996.7" y="644" font-size="18.9" text-anchor="end" transform="rotate(-45 1996.7 644)" textLength="114.3" lengthAdjust="spacingAndGlyphs">venousVSMC</text><rect x="2011.4" y="454.8" width="5.1" height="60.9" fill="#5fe87e"/><rect x="2011.4" y="515.4" width="5.1" height="97.2" fill="#8a42b9"/><rect x="2011.4" y="612.2" width="5.1" height="19.7" fill="#e89b2f"/><text x="2020.9" y="644" font-size="18.9" text-anchor="end" transform="rotate(-45 2020.9 644)" textLength="91.1" lengthAdjust="spacingAndGlyphs">Osteoclast</text><rect x="2035.1" y="454.8" width="4.7" height="68" fill="#5fe87e"/><rect x="2035.1" y="522.5" width="4.7" height="32" fill="#8a42b9"/><rect x="2035.1" y="554.2" width="4.7" height="77.7" fill="#e89b2f"/><text x="2044.3" y="644" font-size="18.9" text-anchor="end" transform="rotate(-45 2044.3 644)" textLength="51.5" lengthAdjust="spacingAndGlyphs">B_cell</text><rect x="2058.7" y="454.8" width="4.4" height="79.5" fill="#5fe87e"/><rect x="2058.7" y="534" width="4.4" height="30.2" fill="#8a42b9"/><rect x="2058.7" y="563.9" width="4.4" height="68" fill="#e89b2f"/><text x="2068.8" y="644" font-size="18.9" text-anchor="end" transform="rotate(-45 2068.8 644)" font-weight="bold" textLength="35.7" lengthAdjust="spacingAndGlyphs">Th2</text><path d="M2060.9 450.2L2060.9 454.8" stroke="#222" stroke-width="0.9" fill="none"/><text x="2063.1" y="449.6" font-size="19" transform="rotate(-30 2063.1 449.6)">1.2e−02</text><rect x="2082" y="454.8" width="3.4" height="58.4" fill="#5fe87e"/><rect x="2082" y="512.9" width="3.4" height="49" fill="#8a42b9"/><rect x="2082" y="561.6" width="3.4" height="70.3" fill="#e89b2f"/><text x="2090.6" y="644" font-size="18.9" text-anchor="end" transform="rotate(-45 2090.6 644)" textLength="82.2" lengthAdjust="spacingAndGlyphs">Mast_cell</text><rect x="2103.6" y="454.8" width="1.7" height="62.5" fill="#5fe87e"/><rect x="2103.6" y="517" width="1.7" height="54.1" fill="#8a42b9"/><rect x="2103.6" y="570.8" width="1.7" height="61.1" fill="#e89b2f"/><text x="2111.3" y="644" font-size="18.9" text-anchor="end" transform="rotate(-45 2111.3 644)" textLength="46.1" lengthAdjust="spacingAndGlyphs">cDC1</text><rect x="2123.9" y="454.8" width="0.7" height="52.4" fill="#5fe87e"/><rect x="2123.9" y="506.9" width="0.7" height="86.2" fill="#8a42b9"/><rect x="2123.9" y="592.8" width="0.7" height="39.1" fill="#e89b2f"/><text x="2131.2" y="644" font-size="18.9" text-anchor="end" transform="rotate(-45 2131.2 644)" textLength="60" lengthAdjust="spacingAndGlyphs">migDC</text><text x="78.6" y="639.1" font-size="18.2" text-anchor="end" textLength="10.7" lengthAdjust="spacingAndGlyphs">0</text><text x="78.6" y="603.7" font-size="18.2" text-anchor="end" textLength="21.4" lengthAdjust="spacingAndGlyphs">20</text><text x="78.6" y="568.3" font-size="18.2" text-anchor="end" textLength="21.4" lengthAdjust="spacingAndGlyphs">40</text><text x="78.6" y="532.8" font-size="18.2" text-anchor="end" textLength="21.4" lengthAdjust="spacingAndGlyphs">60</text><text x="78.6" y="497.4" font-size="18.2" text-anchor="end" textLength="21.4" lengthAdjust="spacingAndGlyphs">80</text><text x="78.6" y="462" font-size="18.2" text-anchor="end" textLength="32.1" lengthAdjust="spacingAndGlyphs">100</text><text x="38" y="533.5" font-size="19.7" text-anchor="middle" transform="rotate(-90 38 533.5)">Proportion [%]</text><text x="42.2" y="431.5" font-size="19.8" textLength="93" lengthAdjust="spacingAndGlyphs">Timepoint:</text><rect x="144.3" y="419.7" width="19.2" height="11.2" fill="#e89b2f"/><text x="168" y="431.5" font-size="19.4" textLength="32.5" lengthAdjust="spacingAndGlyphs">CTL</text><rect x="217.3" y="419.7" width="19.2" height="11.2" fill="#8a42b9"/><text x="241" y="431.5" font-size="19.4" textLength="21.5" lengthAdjust="spacingAndGlyphs">5d</text><rect x="281.4" y="419.7" width="19.2" height="11.2" fill="#5fe87e"/><text x="305.1" y="431.5" font-size="19.4" textLength="25.5" lengthAdjust="spacingAndGlyphs">8w</text></g>
<g><text x="1.2" y="782.5" font-size="36.5" font-weight="bold">d</text><rect x="67.5" y="805" width="233.3" height="685.2" fill="#f2f2f2"/><rect x="300.8" y="805" width="232.2" height="685.2" fill="#e7e8e8"/><rect x="533" y="805" width="132.7" height="685.2" fill="#f2f2f2"/><rect x="665.7" y="805" width="201.6" height="685.2" fill="#e7e8e8"/><path d="M77.5 908.4V889.4M87.5 908.4V850.2M97.5 908.4V873.5M143.5 908.4V874.7M153.5 908.4V897.2M163.5 908.4V891.5M176.5 908.4V873.3M186.5 908.4V876.5M196.5 908.4V848.4M219.5 908.4V879M242.5 908.4V880.8M252.5 908.4V868.4M275.5 908.4V885.1M285.5 908.4V884.5M295.5 908.4V877.8M308.5 908.4V861.2M318.5 908.4V858.6M328.5 908.4V858.6M341.5 908.4V858.6M351.5 908.4V859M361.5 908.4V858.2M407.5 908.4V873.1M417.5 908.4V861.6M427.5 908.4V863.9M440.5 908.4V876.5M450.5 908.4V875.7M460.5 908.4V873.5M649.5 908.4V873.1M659.5 908.4V855.1M672.5 908.4V849.8M682.5 908.4V839.8M692.5 908.4V850.8M705.5 908.4V848M715.5 908.4V846.3M725.5 908.4V850.8M738.5 908.4V888.4M748.5 908.4V839.8M758.5 908.4V846.7M771.5 908.4V889M781.5 908.4V890.6M791.5 908.4V873.5M804.5 908.4V820.2M814.5 908.4V826.3M824.5 908.4V836.1M837.5 908.4V885.5M847.5 908.4V883.5M857.5 908.4V880.2M77.5 1023.4V956.6M87.5 1023.4V966M97.5 1023.4V966.8M110.5 1023.4V961.9M120.5 1023.4V974M130.5 1023.4V972.3M143.5 1023.4V961M153.5 1023.4V959.5M163.5 1023.4V968.7M176.5 1023.4V962.7M186.5 1023.4V951.6M196.5 1023.4V959.8M209.5 1023.4V952.3M219.5 1023.4V955.4M229.5 1023.4V958.8M242.5 1023.4V981.2M252.5 1023.4V963.1M262.5 1023.4V962.7M275.5 1023.4V967.5M285.5 1023.4V956.2M295.5 1023.4V959.5M308.5 1023.4V955.4M328.5 1023.4V948.9M374.5 1023.4V970.9M384.5 1023.4V956.6M394.5 1023.4V956.6M407.5 1023.4V949.7M440.5 1023.4V966.5M450.5 1023.4V973M460.5 1023.4V982.9M473.5 1023.4V992.3M483.5 1023.4V977.4M493.5 1023.4V963.1M527.5 1023.4V951.1M540.5 1023.4V975.2M550.5 1023.4V967M560.5 1023.4V950.4M573.5 1023.4V935.2M583.5 1023.4V963.1M593.5 1023.4V966.8M606.5 1023.4V985.1M616.5 1023.4V959.8M626.5 1023.4V987.2M639.5 1023.4V996.4M649.5 1023.4V981.7M659.5 1023.4V1000.5M672.5 1023.4V967.5M682.5 1023.4V958.3M692.5 1023.4V968.2M705.5 1023.4V964.4M715.5 1023.4V952.3M725.5 1023.4V954.5M738.5 1023.4V959.5M748.5 1023.4V954.7M758.5 1023.4V940.3M804.5 1023.4V935.2M814.5 1023.4V935.2M824.5 1023.4V958.8M837.5 1023.4V946.8M143.5 1138.4V1080.9M153.5 1138.4V1085.5M163.5 1138.4V1091.3M176.5 1138.4V1076.4M186.5 1138.4V1071.7M196.5 1138.4V1073.7M219.5 1138.4V1057.2M229.5 1138.4V1069.7M242.5 1138.4V1076M252.5 1138.4V1082.9M262.5 1138.4V1085.5M328.5 1138.4V1071.5M341.5 1138.4V1098.3M351.5 1138.4V1082.2M361.5 1138.4V1098.7M374.5 1138.4V1099.6M384.5 1138.4V1090M394.5 1138.4V1087.6M407.5 1138.4V1086.7M417.5 1138.4V1091.6M427.5 1138.4V1098.3M440.5 1138.4V1084.9M450.5 1138.4V1104.1M460.5 1138.4V1110.5M473.5 1138.4V1085.5M483.5 1138.4V1078.4M493.5 1138.4V1095.8M506.5 1138.4V1073.7M517.5 1138.4V1066.4M527.5 1138.4V1081.8M540.5 1138.4V1090M550.5 1138.4V1088.4M560.5 1138.4V1076.6M573.5 1138.4V1056.3M583.5 1138.4V1050.5M593.5 1138.4V1065M606.5 1138.4V1076.2M616.5 1138.4V1088.4M626.5 1138.4V1101.4M639.5 1138.4V1090.5M649.5 1138.4V1102.1M659.5 1138.4V1097.1M672.5 1138.4V1075.1M682.5 1138.4V1069.7M692.5 1138.4V1077.1M705.5 1138.4V1079.3M715.5 1138.4V1073.1M725.5 1138.4V1070.4M738.5 1138.4V1080.6M748.5 1138.4V1107.2M758.5 1138.4V1089.6M771.5 1138.4V1117.9M781.5 1138.4V1106.3M791.5 1138.4V1112.5M804.5 1138.4V1052.8M814.5 1138.4V1061.7M824.5 1138.4V1058.6M837.5 1138.4V1111.6M847.5 1138.4V1104.7M857.5 1138.4V1108.5M77.5 1253.8V1189M87.5 1253.8V1171.4M97.5 1253.8V1181.4M120.5 1253.8V1202M130.5 1253.8V1229.3M143.5 1253.8V1206.4M153.5 1253.8V1211.4M163.5 1253.8V1208M219.5 1253.8V1172.3M229.5 1253.8V1187.4M308.5 1253.8V1209.8M318.5 1253.8V1190.1M328.5 1253.8V1187.4M374.5 1253.8V1193.3M384.5 1253.8V1187.4M394.5 1253.8V1177.1M473.5 1253.8V1189M483.5 1253.8V1196.1M493.5 1253.8V1184M506.5 1253.8V1177.8M517.5 1253.8V1172M527.5 1253.8V1193.3M540.5 1253.8V1201.6M550.5 1253.8V1190.8M560.5 1253.8V1196.1M573.5 1253.8V1170.9M583.5 1253.8V1174.8M593.5 1253.8V1180.3M606.5 1253.8V1182.1M616.5 1253.8V1165.4M626.5 1253.8V1193.8M672.5 1253.8V1214.9M682.5 1253.8V1195.2M692.5 1253.8V1207.1M705.5 1253.8V1189.7M715.5 1253.8V1186.2M725.5 1253.8V1193.3M738.5 1253.8V1180.7M748.5 1253.8V1198.8M758.5 1253.8V1185.1M771.5 1253.8V1227.2M781.5 1253.8V1219.9M791.5 1253.8V1228.8M804.5 1253.8V1178.5M814.5 1253.8V1170.9M824.5 1253.8V1191.3M837.5 1253.8V1222.4M847.5 1253.8V1228.4M857.5 1253.8V1226.1M77.5 1369V1319.4M87.5 1369V1338.3M97.5 1369V1330.1M110.5 1369V1299.8M120.5 1369V1324.9M130.5 1369V1302.1M209.5 1369V1344.5M229.5 1369V1336.1M285.5 1369V1345.4M308.5 1369V1322.4M318.5 1369V1337.2M328.5 1369V1326.4M374.5 1369V1319.4M384.5 1369V1319.8M394.5 1369V1315.5M483.5 1369V1332.9M493.5 1369V1341.1M517.5 1369V1312.3M527.5 1369V1323.2M550.5 1369V1316.6M573.5 1369V1300.7M583.5 1369V1299.2M593.5 1369V1314.4M616.5 1369V1320.9M626.5 1369V1315.5M649.5 1369V1328.6M672.5 1369V1339.5M682.5 1369V1335.5M692.5 1369V1315.9M705.5 1369V1323.2M715.5 1369V1315.1M725.5 1369V1328.6M738.5 1369V1287.7M758.5 1369V1296.6M110.5 1485V1452.5M120.5 1485V1432M130.5 1485V1456.2M473.5 1485V1440M483.5 1485V1444.3M506.5 1485V1431.2M517.5 1485V1438.9M527.5 1485V1420.3M606.5 1485V1452M616.5 1485V1445.3M626.5 1485V1462M639.5 1485V1454.2M649.5 1485V1451M659.5 1485V1453.2M672.5 1485V1452M682.5 1485V1444.6M692.5 1485V1448.2M738.5 1485V1431.2M758.5 1485V1464.4M771.5 1485V1472.1M781.5 1485V1439.4M791.5 1485V1454.2M804.5 1485V1429.8M814.5 1485V1429.2M824.5 1485V1433.4M837.5 1485V1466.8M847.5 1485V1470M857.5 1485V1469" stroke="#5e5e5e" stroke-width="1" fill="none"/><path d="M72.9 908.5h9.2M82.9 908.5h9.2M92.9 908.5h9.2M105.9 908.5h9.2M115.9 908.5h9.2M125.9 908.5h9.2M138.9 908.5h9.2M148.9 908.5h9.2M158.9 908.5h9.2M171.9 908.5h9.2M181.9 908.5h9.2M191.9 908.5h9.2M204.9 908.5h9.2M214.9 908.5h9.2M224.9 908.5h9.2M237.9 908.5h9.2M247.9 908.5h9.2M257.9 908.5h9.2M270.9 908.5h9.2M280.9 908.5h9.2M290.9 908.5h9.2M303.9 908.5h9.2M313.9 908.5h9.2M323.9 908.5h9.2M336.9 908.5h9.2M346.9 908.5h9.2M356.9 908.5h9.2M369.9 908.5h9.2M379.9 908.5h9.2M389.9 908.5h9.2M402.9 908.5h9.2M412.9 908.5h9.2M422.9 908.5h9.2M435.9 908.5h9.2M445.9 908.5h9.2M455.9 908.5h9.2M468.9 908.5h9.2M478.9 908.5h9.2M488.9 908.5h9.2M501.9 908.5h9.2M512.9 908.5h9.2M522.9 908.5h9.2M535.9 908.5h9.2M545.9 908.5h9.2M555.9 908.5h9.2M568.9 908.5h9.2M578.9 908.5h9.2M588.9 908.5h9.2M601.9 908.5h9.2M611.9 908.5h9.2M621.9 908.5h9.2M634.9 908.5h9.2M644.9 908.5h9.2M654.9 908.5h9.2M667.9 908.5h9.2M677.9 908.5h9.2M687.9 908.5h9.2M700.9 908.5h9.2M710.9 908.5h9.2M720.9 908.5h9.2M733.9 908.5h9.2M743.9 908.5h9.2M753.9 908.5h9.2M766.9 908.5h9.2M776.9 908.5h9.2M786.9 908.5h9.2M799.9 908.5h9.2M809.9 908.5h9.2M819.9 908.5h9.2M832.9 908.5h9.2M842.9 908.5h9.2M852.9 908.5h9.2M72.9 1023.5h9.2M82.9 1023.5h9.2M92.9 1023.5h9.2M105.9 1023.5h9.2M115.9 1023.5h9.2M125.9 1023.5h9.2M138.9 1023.5h9.2M148.9 1023.5h9.2M158.9 1023.5h9.2M171.9 1023.5h9.2M181.9 1023.5h9.2M191.9 1023.5h9.2M204.9 1023.5h9.2M214.9 1023.5h9.2M224.9 1023.5h9.2M237.9 1023.5h9.2M247.9 1023.5h9.2M257.9 1023.5h9.2M270.9 1023.5h9.2M280.9 1023.5h9.2M290.9 1023.5h9.2M303.9 1023.5h9.2M313.9 1023.5h9.2M323.9 1023.5h9.2M336.9 1023.5h9.2M346.9 1023.5h9.2M356.9 1023.5h9.2M369.9 1023.5h9.2M379.9 1023.5h9.2M389.9 1023.5h9.2M402.9 1023.5h9.2M412.9 1023.5h9.2M422.9 1023.5h9.2M435.9 1023.5h9.2M445.9 1023.5h9.2M455.9 1023.5h9.2M468.9 1023.5h9.2M478.9 1023.5h9.2M488.9 1023.5h9.2M501.9 1023.5h9.2M512.9 1023.5h9.2M522.9 1023.5h9.2M535.9 1023.5h9.2M545.9 1023.5h9.2M555.9 1023.5h9.2M568.9 1023.5h9.2M578.9 1023.5h9.2M588.9 1023.5h9.2M601.9 1023.5h9.2M611.9 1023.5h9.2M621.9 1023.5h9.2M634.9 1023.5h9.2M644.9 1023.5h9.2M654.9 1023.5h9.2M667.9 1023.5h9.2M677.9 1023.5h9.2M687.9 1023.5h9.2M700.9 1023.5h9.2M710.9 1023.5h9.2M720.9 1023.5h9.2M733.9 1023.5h9.2M743.9 1023.5h9.2M753.9 1023.5h9.2M766.9 1023.5h9.2M776.9 1023.5h9.2M786.9 1023.5h9.2M799.9 1023.5h9.2M809.9 1023.5h9.2M819.9 1023.5h9.2M832.9 1023.5h9.2M842.9 1023.5h9.2M852.9 1023.5h9.2M72.9 1138.5h9.2M82.9 1138.5h9.2M92.9 1138.5h9.2M105.9 1138.5h9.2M115.9 1138.5h9.2M125.9 1138.5h9.2M138.9 1138.5h9.2M148.9 1138.5h9.2M158.9 1138.5h9.2M171.9 1138.5h9.2M181.9 1138.5h9.2M191.9 1138.5h9.2M204.9 1138.5h9.2M214.9 1138.5h9.2M224.9 1138.5h9.2M237.9 1138.5h9.2M247.9 1138.5h9.2M257.9 1138.5h9.2M270.9 1138.5h9.2M280.9 1138.5h9.2M290.9 1138.5h9.2M303.9 1138.5h9.2M313.9 1138.5h9.2M323.9 1138.5h9.2M336.9 1138.5h9.2M346.9 1138.5h9.2M356.9 1138.5h9.2M369.9 1138.5h9.2M379.9 1138.5h9.2M389.9 1138.5h9.2M402.9 1138.5h9.2M412.9 1138.5h9.2M422.9 1138.5h9.2M435.9 1138.5h9.2M445.9 1138.5h9.2M455.9 1138.5h9.2M468.9 1138.5h9.2M478.9 1138.5h9.2M488.9 1138.5h9.2M501.9 1138.5h9.2M512.9 1138.5h9.2M522.9 1138.5h9.2M535.9 1138.5h9.2M545.9 1138.5h9.2M555.9 1138.5h9.2M568.9 1138.5h9.2M578.9 1138.5h9.2M588.9 1138.5h9.2M601.9 1138.5h9.2M611.9 1138.5h9.2M621.9 1138.5h9.2M634.9 1138.5h9.2M644.9 1138.5h9.2M654.9 1138.5h9.2M667.9 1138.5h9.2M677.9 1138.5h9.2M687.9 1138.5h9.2M700.9 1138.5h9.2M710.9 1138.5h9.2M720.9 1138.5h9.2M733.9 1138.5h9.2M743.9 1138.5h9.2M753.9 1138.5h9.2M766.9 1138.5h9.2M776.9 1138.5h9.2M786.9 1138.5h9.2M799.9 1138.5h9.2M809.9 1138.5h9.2M819.9 1138.5h9.2M832.9 1138.5h9.2M842.9 1138.5h9.2M852.9 1138.5h9.2M72.9 1253.5h9.2M82.9 1253.5h9.2M92.9 1253.5h9.2M105.9 1253.5h9.2M115.9 1253.5h9.2M125.9 1253.5h9.2M138.9 1253.5h9.2M148.9 1253.5h9.2M158.9 1253.5h9.2M171.9 1253.5h9.2M181.9 1253.5h9.2M191.9 1253.5h9.2M204.9 1253.5h9.2M214.9 1253.5h9.2M224.9 1253.5h9.2M237.9 1253.5h9.2M247.9 1253.5h9.2M257.9 1253.5h9.2M270.9 1253.5h9.2M280.9 1253.5h9.2M290.9 1253.5h9.2M303.9 1253.5h9.2M313.9 1253.5h9.2M323.9 1253.5h9.2M336.9 1253.5h9.2M346.9 1253.5h9.2M356.9 1253.5h9.2M369.9 1253.5h9.2M379.9 1253.5h9.2M389.9 1253.5h9.2M402.9 1253.5h9.2M412.9 1253.5h9.2M422.9 1253.5h9.2M435.9 1253.5h9.2M445.9 1253.5h9.2M455.9 1253.5h9.2M468.9 1253.5h9.2M478.9 1253.5h9.2M488.9 1253.5h9.2M501.9 1253.5h9.2M512.9 1253.5h9.2M522.9 1253.5h9.2M535.9 1253.5h9.2M545.9 1253.5h9.2M555.9 1253.5h9.2M568.9 1253.5h9.2M578.9 1253.5h9.2M588.9 1253.5h9.2M601.9 1253.5h9.2M611.9 1253.5h9.2M621.9 1253.5h9.2M634.9 1253.5h9.2M644.9 1253.5h9.2M654.9 1253.5h9.2M667.9 1253.5h9.2M677.9 1253.5h9.2M687.9 1253.5h9.2M700.9 1253.5h9.2M710.9 1253.5h9.2M720.9 1253.5h9.2M733.9 1253.5h9.2M743.9 1253.5h9.2M753.9 1253.5h9.2M766.9 1253.5h9.2M776.9 1253.5h9.2M786.9 1253.5h9.2M799.9 1253.5h9.2M809.9 1253.5h9.2M819.9 1253.5h9.2M832.9 1253.5h9.2M842.9 1253.5h9.2M852.9 1253.5h9.2M72.9 1369.5h9.2M82.9 1369.5h9.2M92.9 1369.5h9.2M105.9 1369.5h9.2M115.9 1369.5h9.2M125.9 1369.5h9.2M138.9 1369.5h9.2M148.9 1369.5h9.2M158.9 1369.5h9.2M171.9 1369.5h9.2M181.9 1369.5h9.2M191.9 1369.5h9.2M204.9 1369.5h9.2M214.9 1369.5h9.2M224.9 1369.5h9.2M237.9 1369.5h9.2M247.9 1369.5h9.2M257.9 1369.5h9.2M270.9 1369.5h9.2M280.9 1369.5h9.2M290.9 1369.5h9.2M303.9 1369.5h9.2M313.9 1369.5h9.2M323.9 1369.5h9.2M336.9 1369.5h9.2M346.9 1369.5h9.2M356.9 1369.5h9.2M369.9 1369.5h9.2M379.9 1369.5h9.2M389.9 1369.5h9.2M402.9 1369.5h9.2M412.9 1369.5h9.2M422.9 1369.5h9.2M435.9 1369.5h9.2M445.9 1369.5h9.2M455.9 1369.5h9.2M468.9 1369.5h9.2M478.9 1369.5h9.2M488.9 1369.5h9.2M501.9 1369.5h9.2M512.9 1369.5h9.2M522.9 1369.5h9.2M535.9 1369.5h9.2M545.9 1369.5h9.2M555.9 1369.5h9.2M568.9 1369.5h9.2M578.9 1369.5h9.2M588.9 1369.5h9.2M601.9 1369.5h9.2M611.9 1369.5h9.2M621.9 1369.5h9.2M634.9 1369.5h9.2M644.9 1369.5h9.2M654.9 1369.5h9.2M667.9 1369.5h9.2M677.9 1369.5h9.2M687.9 1369.5h9.2M700.9 1369.5h9.2M710.9 1369.5h9.2M720.9 1369.5h9.2M733.9 1369.5h9.2M743.9 1369.5h9.2M753.9 1369.5h9.2M766.9 1369.5h9.2M776.9 1369.5h9.2M786.9 1369.5h9.2M799.9 1369.5h9.2M809.9 1369.5h9.2M819.9 1369.5h9.2M832.9 1369.5h9.2M842.9 1369.5h9.2M852.9 1369.5h9.2M72.9 1485.5h9.2M82.9 1485.5h9.2M92.9 1485.5h9.2M105.9 1485.5h9.2M115.9 1485.5h9.2M125.9 1485.5h9.2M138.9 1485.5h9.2M148.9 1485.5h9.2M158.9 1485.5h9.2M171.9 1485.5h9.2M181.9 1485.5h9.2M191.9 1485.5h9.2M204.9 1485.5h9.2M214.9 1485.5h9.2M224.9 1485.5h9.2M237.9 1485.5h9.2M247.9 1485.5h9.2M257.9 1485.5h9.2M270.9 1485.5h9.2M280.9 1485.5h9.2M290.9 1485.5h9.2M303.9 1485.5h9.2M313.9 1485.5h9.2M323.9 1485.5h9.2M336.9 1485.5h9.2M346.9 1485.5h9.2M356.9 1485.5h9.2M369.9 1485.5h9.2M379.9 1485.5h9.2M389.9 1485.5h9.2M402.9 1485.5h9.2M412.9 1485.5h9.2M422.9 1485.5h9.2M435.9 1485.5h9.2M445.9 1485.5h9.2M455.9 1485.5h9.2M468.9 1485.5h9.2M478.9 1485.5h9.2M488.9 1485.5h9.2M501.9 1485.5h9.2M512.9 1485.5h9.2M522.9 1485.5h9.2M535.9 1485.5h9.2M545.9 1485.5h9.2M555.9 1485.5h9.2M568.9 1485.5h9.2M578.9 1485.5h9.2M588.9 1485.5h9.2M601.9 1485.5h9.2M611.9 1485.5h9.2M621.9 1485.5h9.2M634.9 1485.5h9.2M644.9 1485.5h9.2M654.9 1485.5h9.2M667.9 1485.5h9.2M677.9 1485.5h9.2M687.9 1485.5h9.2M700.9 1485.5h9.2M710.9 1485.5h9.2M720.9 1485.5h9.2M733.9 1485.5h9.2M743.9 1485.5h9.2M753.9 1485.5h9.2M766.9 1485.5h9.2M776.9 1485.5h9.2M786.9 1485.5h9.2M799.9 1485.5h9.2M809.9 1485.5h9.2M819.9 1485.5h9.2M832.9 1485.5h9.2M842.9 1485.5h9.2M852.9 1485.5h9.2" stroke="#5c5c5c" stroke-width="1" fill="none"/><path d="M369.3 908.4l.7-2.3l1.9-2.3l1.7-2.3l.6-2.4l-.1-2.3l-.2-2.3l-.4-2.3l-.4-2.3l-.6-2.3l-.6-2.4l-.6-2.3l-.6-2.3l-.4-2.3l-.2-2.3l0-2.3l.3-2.4l.5-2.3l.5-2.3l.7-2.3l.6-2.3l.5-2.3l.4-2.3l.3-2.4l.3-2.3l0-2.3l0-2.3l.3-2.3l.3 2.3l0 2.3l0 2.3l.3 2.3l.3 2.4l.4 2.3l.5 2.3l.6 2.3l.7 2.3l.5 2.3l.5 2.3l.3 2.4l0 2.3l-.2 2.3l-.4 2.3l-.6 2.3l-.6 2.3l-.6 2.4l-.6 2.3l-.4 2.3l-.4 2.3l-.2 2.3l-.1 2.3l.6 2.4l1.7 2.3l1.9 2.3l.7 2.3zM470.4 908.4l.4-2.3l1.1-2.3l1.1-2.3l.2-2.3l0-2.3l0-2.3l0-2.3l0-2.3l-.1-2.3l-.2-2.3l-.3-2.3l-.3-2.3l-.4-2.3l-.5-2.3l-.5-2.3l-.6-2.3l-.5-2.3l-.5-2.3l-.4-2.3l-.3-2.3l-.1-2.3l0-2.3l.2-2.3l.4-2.3l.4-2.3l.5-2.3l.6-2.3l.5-2.3l.5-2.3l.4-2.3l.4-2.3l.4-2.3l.4-2.3l.3-2.3l.3 2.3l.4 2.3l.4 2.3l.4 2.3l.4 2.3l.5 2.3l.5 2.3l.6 2.3l.5 2.3l.4 2.3l.4 2.3l.2 2.3l0 2.3l-.1 2.3l-.3 2.3l-.4 2.3l-.5 2.3l-.5 2.3l-.6 2.3l-.5 2.3l-.5 2.3l-.4 2.3l-.3 2.3l-.3 2.3l-.2 2.3l-.1 2.3l0 2.3l0 2.3l0 2.3l0 2.3l.2 2.3l1.1 2.3l1.1 2.3l.4 2.3zM500.8 908.4l.9-2.4l2.1-2.3l2-2.4l.4-2.4l0-2.3l0-2.4l0-2.3l0-2.4l0-2.4l0-2.3l0-2.4l0-2.4l0-2.3l0-2.4l0-2.4l0-2.3l-.1-2.4l-.2-2.3l-.2-2.4l-.2-2.4l-.2-2.3l-.2-2.4l-.3-2.4l-.2-2.3l-.1-2.4l-.1-2.4l-.1-2.3l0-2.4l.1-2.3l.1-2.4l.2-2.4l.3-2.3l.6-2.4l.9-2.4l.9 2.4l.6 2.4l.3 2.3l.2 2.4l.1 2.4l.1 2.3l0 2.4l-.1 2.3l-.1 2.4l-.1 2.4l-.2 2.3l-.3 2.4l-.2 2.4l-.2 2.3l-.2 2.4l-.2 2.4l-.2 2.3l-.1 2.4l0 2.3l0 2.4l0 2.4l0 2.3l0 2.4l0 2.4l0 2.3l0 2.4l0 2.4l0 2.3l0 2.4l0 2.3l.4 2.4l2 2.4l2.1 2.3l.9 2.4zM535.2 908.4l.8-2.3l1.8-2.4l1.8-2.3l.6-2.4l-.2-2.3l-.2-2.4l-.2-2.3l-.3-2.4l-.3-2.3l-.4-2.4l-.3-2.3l-.4-2.3l-.3-2.4l-.3-2.3l-.2-2.4l-.2-2.3l0-2.4l.1-2.3l.2-2.4l.2-2.3l.3-2.4l.4-2.3l.4-2.3l.3-2.4l.4-2.3l.3-2.4l.3-2.3l.3-2.4l.4-2.3l.4 2.3l.3 2.4l.3 2.3l.3 2.4l.4 2.3l.3 2.4l.4 2.3l.4 2.3l.3 2.4l.2 2.3l.2 2.4l.1 2.3l0 2.4l-.2 2.3l-.2 2.4l-.3 2.3l-.3 2.4l-.4 2.3l-.3 2.3l-.4 2.4l-.3 2.3l-.3 2.4l-.2 2.3l-.2 2.4l-.2 2.3l.6 2.4l1.8 2.3l1.8 2.4l.8 2.3zM568.3 908.4l.8-2.4l1.9-2.3l1.8-2.4l.4-2.3l0-2.4l0-2.3l0-2.4l0-2.3l0-2.4l0-2.3l-.1-2.4l-.2-2.3l-.2-2.4l-.3-2.3l-.3-2.4l-.4-2.3l-.3-2.4l-.3-2.3l-.2-2.4l-.2-2.3l0-2.4l.1-2.3l.2-2.4l.2-2.3l.3-2.4l.4-2.4l.3-2.3l.3-2.4l.3-2.3l.2-2.4l.1-2.3l.1-2.4l0-2.3l.3-2.4l.3 2.4l0 2.3l.1 2.4l.1 2.3l.2 2.4l.3 2.3l.3 2.4l.3 2.3l.4 2.4l.3 2.4l.2 2.3l.2 2.4l.1 2.3l0 2.4l-.2 2.3l-.2 2.4l-.3 2.3l-.3 2.4l-.4 2.3l-.3 2.4l-.3 2.3l-.2 2.4l-.2 2.3l-.1 2.4l0 2.3l0 2.4l0 2.3l0 2.4l0 2.3l0 2.4l.4 2.3l1.8 2.4l1.9 2.3l.8 2.4zM601.2 908.4l.7-2.3l1.8-2.3l1.8-2.3l.7-2.3l-.1-2.3l-.1-2.4l-.1-2.3l-.1-2.3l-.1-2.3l-.1-2.3l-.2-2.3l-.1-2.3l-.2-2.3l-.1-2.3l-.1-2.3l-.1-2.3l-.1-2.4l0-2.3l0-2.3l0-2.3l.1-2.3l.1-2.3l.1-2.3l.1-2.3l.1-2.3l.2-2.3l.1-2.3l.1-2.4l.2-2.3l.1-2.3l.3-2.3l.3-2.3l.3 2.3l.3 2.3l.1 2.3l.2 2.3l.1 2.4l.1 2.3l.2 2.3l.1 2.3l.1 2.3l.1 2.3l.1 2.3l.1 2.3l0 2.3l0 2.3l0 2.3l-.1 2.4l-.1 2.3l-.1 2.3l-.1 2.3l-.2 2.3l-.1 2.3l-.2 2.3l-.1 2.3l-.1 2.3l-.1 2.3l-.1 2.3l-.1 2.4l-.1 2.3l.7 2.3l1.8 2.3l1.8 2.3l.7 2.3zM634.3 908.4l.8-2.4l1.8-2.4l1.8-2.4l.4-2.4l-.3-2.3l-.3-2.4l-.4-2.4l-.3-2.4l-.2-2.4l-.1-2.4l.1-2.4l.3-2.4l.3-2.4l.4-2.4l.3-2.3l.3-2.4l0-2.4l0-2.4l0-2.4l0-2.4l.3-2.4l.3 2.4l0 2.4l0 2.4l0 2.4l0 2.4l.3 2.4l.3 2.3l.4 2.4l.3 2.4l.3 2.4l.1 2.4l-.1 2.4l-.2 2.4l-.3 2.4l-.4 2.4l-.3 2.4l-.3 2.3l.4 2.4l1.8 2.4l1.8 2.4l.8 2.4zM138.3 1023.4l.4-2l1-2l1.4-2l1.3-2l.8-2l0-2l.6 0l0 2l.8 2l1.3 2l1.4 2l1 2l.4 2zM303.3 1023.4l.4-2l1-2l1.4-2l1.3-2l.8-2l0-2l.6 0l0 2l.8 2l1.3 2l1.4 2l1 2l.4 2zM336.7 1023.4l.4-2.4l1.1-2.4l1.4-2.3l.9-2.4l0-2.4l-.2-2.4l-.2-2.3l-.1-2.4l-.1-2.4l0-2.4l.2-2.4l.2-2.3l.2-2.4l.2-2.4l.2-2.4l.2-2.4l.1-2.3l0-2.4l0-2.4l0-2.4l0-2.3l0-2.4l.3-2.4l.3 2.4l0 2.4l0 2.3l0 2.4l0 2.4l0 2.4l.1 2.3l.2 2.4l.2 2.4l.2 2.4l.2 2.4l.2 2.3l.2 2.4l0 2.4l-.1 2.4l-.1 2.4l-.2 2.3l-.2 2.4l0 2.4l.9 2.4l1.4 2.3l1.1 2.4l.4 2.4zM766.2 1023.4l.4-2.4l1.3-2.3l1.5-2.4l1-2.4l.1-2.3l-.2-2.4l-.2-2.3l-.1-2.4l-.1-2.4l0-2.3l.2-2.4l.1-2.4l.3-2.3l.2-2.4l.2-2.4l.2-2.3l.1-2.4l0-2.3l0-2.4l0-2.4l0-2.3l0-2.4l0-2.4l0-2.3l0-2.4l.3-2.4l.3 2.4l0 2.4l0 2.3l0 2.4l0 2.4l0 2.3l0 2.4l0 2.4l0 2.3l.1 2.4l.2 2.3l.2 2.4l.2 2.4l.3 2.3l.1 2.4l.2 2.4l0 2.3l-.1 2.4l-.1 2.4l-.2 2.3l-.2 2.4l.1 2.3l1 2.4l1.5 2.4l1.3 2.3l.4 2.4zM72.3 1138.4l.6-2.4l1.5-2.3l1.7-2.4l1.1-2.3l0-2.4l-.1-2.4l-.1-2.3l-.2-2.4l-.2-2.3l-.2-2.4l-.2-2.3l-.1-2.4l-.2-2.4l0-2.3l0-2.4l.1-2.3l.1-2.4l.2-2.4l.2-2.3l.2-2.4l.2-2.3l.2-2.4l.1-2.3l0-2.4l0-2.4l0-2.3l0-2.4l0-2.3l0-2.4l0-2.4l0-2.3l0-2.4l.3-2.3l.3 2.3l0 2.4l0 2.3l0 2.4l0 2.4l0 2.3l0 2.4l0 2.3l0 2.4l0 2.4l.1 2.3l.2 2.4l.2 2.3l.2 2.4l.2 2.3l.2 2.4l.1 2.4l.1 2.3l0 2.4l0 2.3l-.2 2.4l-.1 2.4l-.2 2.3l-.2 2.4l-.2 2.3l-.2 2.4l-.1 2.3l-.1 2.4l0 2.4l1.1 2.3l1.7 2.4l1.5 2.3l.6 2.4zM105 1138.4l.6-2.4l1.4-2.4l1.7-2.3l1-2.4l-.1-2.4l-.1-2.4l-.2-2.4l-.1-2.3l-.1-2.4l-.1-2.4l-.1-2.4l0-2.3l0-2.4l.1-2.4l0-2.4l.1-2.4l.2-2.3l.1-2.4l.2-2.4l.1-2.4l.2-2.4l.1-2.3l.2-2.4l.3-2.4l.3 2.4l.2 2.4l.1 2.3l.2 2.4l.1 2.4l.2 2.4l.1 2.4l.2 2.3l.1 2.4l0 2.4l.1 2.4l0 2.4l0 2.3l-.1 2.4l-.1 2.4l-.1 2.4l-.1 2.3l-.2 2.4l-.1 2.4l-.1 2.4l1 2.4l1.7 2.3l1.4 2.4l.6 2.4zM138.3 1138.4l.5-2.2l1.4-2.3l1.6-2.2l1.2-2.2l.2-2.3l.6 0l.2 2.3l1.2 2.2l1.6 2.2l1.4 2.3l.5 2.2zM204.3 1138.4l.6-2.4l1.6-2.4l1.7-2.3l1-2.4l0-2.4l0-2.4l-.1-2.4l-.2-2.3l-.2-2.4l-.2-2.4l-.2-2.4l-.2-2.3l-.2-2.4l0-2.4l0-2.4l.2-2.4l.1-2.3l.2-2.4l.3-2.4l.2-2.4l.2-2.4l.1-2.3l0-2.4l0-2.4l0-2.4l0-2.3l.3-2.4l.3 2.4l0 2.3l0 2.4l0 2.4l0 2.4l.1 2.3l.2 2.4l.2 2.4l.3 2.4l.2 2.4l.1 2.3l.2 2.4l0 2.4l0 2.4l-.2 2.4l-.2 2.3l-.2 2.4l-.2 2.4l-.2 2.4l-.2 2.3l-.1 2.4l0 2.4l0 2.4l1 2.4l1.7 2.3l1.6 2.4l.6 2.4zM270.3 1138.4l.6-2.4l1.6-2.4l1.7-2.4l1-2.4l0-2.4l-.2-2.4l-.2-2.4l-.2-2.4l-.2-2.4l-.2-2.3l-.2-2.4l-.1-2.4l0-2.4l.1-2.4l.1-2.4l.2-2.4l.3-2.4l.2-2.4l.2-2.4l.1-2.4l.1-2.4l0-2.4l.3-2.4l.3 2.4l0 2.4l.1 2.4l.1 2.4l.2 2.4l.2 2.4l.3 2.4l.2 2.4l.1 2.4l.1 2.4l0 2.4l-.1 2.4l-.2 2.4l-.2 2.3l-.2 2.4l-.2 2.4l-.2 2.4l-.2 2.4l0 2.4l1 2.4l1.7 2.4l1.6 2.4l.6 2.4zM303.3 1138.4l.6-2.3l1.5-2.4l1.7-2.3l1.1-2.4l0-2.3l-.1-2.3l-.1-2.4l-.2-2.3l-.2-2.4l-.2-2.3l-.2-2.4l-.2-2.3l-.2-2.3l-.2-2.4l-.1-2.3l0-2.4l0-2.3l.1-2.3l.1-2.4l.2-2.3l.2-2.4l.2-2.3l.2-2.4l.2-2.3l.4-2.3l.4-2.4l.4 2.4l.4 2.3l.2 2.3l.2 2.4l.2 2.3l.2 2.4l.2 2.3l.1 2.4l.1 2.3l0 2.3l0 2.4l-.1 2.3l-.2 2.4l-.2 2.3l-.2 2.3l-.2 2.4l-.2 2.3l-.2 2.4l-.2 2.3l-.1 2.4l-.1 2.3l0 2.3l1.1 2.4l1.7 2.3l1.5 2.4l.6 2.3zM138.3 1253.8l.3-1.9l1.1-1.9l1.4-1.9l1.2-1.9l.8-1.9l.1-2l.6 0l.1 2l.8 1.9l1.2 1.9l1.4 1.9l1.1 1.9l.3 1.9zM171.3 1253.8l.5-2.3l1.5-2.4l1.7-2.3l1.1-2.4l.1-2.3l-.1-2.3l-.1-2.4l-.1-2.3l-.2-2.3l-.2-2.4l-.1-2.3l-.2-2.4l-.1-2.3l-.1-2.3l-.1-2.4l0-2.3l0-2.4l.1-2.3l.2-2.3l.1-2.4l.2-2.3l.1-2.3l.2-2.4l.2-2.3l.1-2.4l.1-2.3l0-2.3l0-2.4l0-2.3l0-2.4l0-2.3l0-2.3l.3-2.4l.3 2.4l0 2.3l0 2.3l0 2.4l0 2.3l0 2.4l0 2.3l.1 2.3l.1 2.4l.2 2.3l.2 2.4l.1 2.3l.2 2.3l.1 2.4l.2 2.3l.1 2.3l0 2.4l0 2.3l-.1 2.4l-.1 2.3l-.1 2.3l-.2 2.4l-.1 2.3l-.2 2.4l-.2 2.3l-.1 2.3l-.1 2.4l-.1 2.3l.1 2.3l1.1 2.4l1.7 2.3l1.5 2.4l.5 2.3zM204.3 1253.8l.6-2.4l1.5-2.3l1.7-2.4l1.1-2.4l0-2.4l0-2.3l0-2.4l-.1-2.4l-.1-2.3l-.2-2.4l-.2-2.4l-.2-2.4l-.2-2.3l-.1-2.4l-.1-2.4l-.1-2.3l0-2.4l.1-2.4l.1-2.4l.2-2.3l.2-2.4l.1-2.4l.2-2.4l.2-2.3l.1-2.4l.1-2.4l0-2.3l.3-2.4l.3 2.4l0 2.3l.1 2.4l.1 2.4l.2 2.3l.2 2.4l.1 2.4l.2 2.4l.2 2.3l.1 2.4l.1 2.4l0 2.4l-.1 2.3l-.1 2.4l-.1 2.4l-.2 2.3l-.2 2.4l-.2 2.4l-.2 2.4l-.1 2.3l-.1 2.4l0 2.4l0 2.3l0 2.4l1.1 2.4l1.7 2.4l1.5 2.3l.6 2.4zM237.3 1253.8l.5-2.3l1.4-2.3l1.7-2.3l1.1-2.3l.2-2.3l-.2-2.3l-.2-2.3l-.3-2.3l-.3-2.3l-.4-2.3l-.5-2.3l-.5-2.3l-.5-2.3l-.5-2.3l-.5-2.4l-.4-2.3l-.3-2.3l-.2-2.3l-.1-2.3l.1-2.3l.2-2.3l.4-2.3l.4-2.3l.5-2.3l.5-2.3l.5-2.3l.5-2.3l.5-2.3l.4-2.3l.3-2.3l.2-2.3l.3-2.3l.1-2.3l.3-2.3l.3 2.3l.1 2.3l.3 2.3l.2 2.3l.3 2.3l.4 2.3l.5 2.3l.5 2.3l.5 2.3l.5 2.3l.5 2.3l.4 2.3l.4 2.3l.2 2.3l.1 2.3l-.1 2.3l-.2 2.3l-.3 2.3l-.4 2.3l-.5 2.4l-.5 2.3l-.5 2.3l-.5 2.3l-.5 2.3l-.4 2.3l-.3 2.3l-.3 2.3l-.2 2.3l-.2 2.3l.2 2.3l1.1 2.3l1.7 2.3l1.4 2.3l.5 2.3zM270.2 1253.8l.6-2.3l1.4-2.4l1.7-2.3l1.1-2.4l.1-2.3l-.1-2.3l-.1-2.4l-.1-2.3l-.2-2.3l-.2-2.4l-.1-2.3l-.1-2.4l-.2-2.3l0-2.3l-.1-2.4l0-2.3l0-2.4l.1-2.3l.1-2.3l.1-2.4l.2-2.3l.2-2.3l.1-2.4l.2-2.3l.1-2.4l.1-2.3l.1-2.3l0-2.4l0-2.3l0-2.4l0-2.3l0-2.3l.3-2.4l.3 2.4l0 2.3l0 2.3l0 2.4l0 2.3l0 2.4l.1 2.3l.1 2.3l.1 2.4l.2 2.3l.1 2.4l.2 2.3l.2 2.3l.1 2.4l.1 2.3l.1 2.3l0 2.4l0 2.3l-.1 2.4l0 2.3l-.2 2.3l-.1 2.4l-.1 2.3l-.2 2.4l-.2 2.3l-.1 2.3l-.1 2.4l-.1 2.3l.1 2.3l1.1 2.4l1.7 2.3l1.4 2.4l.6 2.3zM336.1 1253.8l.5-2.4l1.4-2.3l1.6-2.4l1-2.4l0-2.3l-.2-2.4l-.2-2.4l-.2-2.4l-.1-2.3l0-2.4l0-2.4l.1-2.3l.1-2.4l.2-2.4l.2-2.3l.2-2.4l.2-2.4l.1-2.3l.2-2.4l0-2.4l0-2.3l0-2.4l0-2.4l0-2.4l0-2.3l0-2.4l0-2.4l0-2.3l.3-2.4l.3 2.4l0 2.3l0 2.4l0 2.4l0 2.3l0 2.4l0 2.4l0 2.4l0 2.3l0 2.4l.2 2.4l.1 2.3l.2 2.4l.2 2.4l.2 2.3l.2 2.4l.1 2.4l.1 2.3l0 2.4l0 2.4l-.1 2.3l-.2 2.4l-.2 2.4l-.2 2.4l0 2.3l1 2.4l1.6 2.4l1.4 2.3l.5 2.4zM402.1 1253.8l.6-2.4l1.4-2.4l1.6-2.3l1-2.4l-.1-2.4l-.1-2.4l-.2-2.3l-.2-2.4l-.1-2.4l-.1-2.4l0-2.4l.1-2.3l.1-2.4l.1-2.4l.2-2.4l.2-2.3l.2-2.4l.2-2.4l.1-2.4l.1-2.4l0-2.3l0-2.4l0-2.4l0-2.4l0-2.4l.3-2.3l.3 2.3l0 2.4l0 2.4l0 2.4l0 2.4l0 2.3l.1 2.4l.1 2.4l.2 2.4l.2 2.4l.2 2.3l.2 2.4l.1 2.4l.1 2.4l.1 2.3l0 2.4l-.1 2.4l-.1 2.4l-.2 2.4l-.2 2.3l-.1 2.4l-.1 2.4l1 2.4l1.6 2.3l1.4 2.4l.6 2.4zM435.1 1253.8l.5-2.4l1.4-2.3l1.6-2.4l.9-2.4l0-2.4l-.2-2.3l-.2-2.4l-.1-2.4l-.1-2.4l0-2.3l.1-2.4l.2-2.4l.2-2.3l.2-2.4l.2-2.4l.2-2.4l.2-2.3l0-2.4l0-2.4l0-2.3l0-2.4l0-2.4l0-2.4l0-2.3l.3-2.4l.3 2.4l0 2.3l0 2.4l0 2.4l0 2.4l0 2.3l0 2.4l0 2.4l.2 2.3l.2 2.4l.2 2.4l.2 2.4l.2 2.3l.2 2.4l.1 2.4l0 2.3l-.1 2.4l-.1 2.4l-.2 2.4l-.2 2.3l0 2.4l.9 2.4l1.6 2.4l1.4 2.3l.5 2.4zM634.2 1253.8l.5-2.4l1.3-2.3l1.6-2.4l1-2.3l-.1-2.4l-.3-2.4l-.3-2.3l-.4-2.4l-.2-2.3l-.3-2.4l-.1-2.4l0-2.3l.1-2.4l.2-2.3l.3-2.4l.3-2.4l.3-2.3l.3-2.4l.3-2.3l.2-2.4l.2-2.4l.1-2.3l.3-2.4l.3 2.4l.1 2.3l.2 2.4l.2 2.4l.3 2.3l.3 2.4l.3 2.3l.3 2.4l.3 2.4l.2 2.3l.1 2.4l0 2.3l-.1 2.4l-.3 2.4l-.2 2.3l-.4 2.4l-.3 2.3l-.3 2.4l-.1 2.4l1 2.3l1.6 2.4l1.3 2.3l.5 2.4zM336.2 1369l.9-2.4l1.9-2.4l1.7-2.3l.3-2.4l-.2-2.4l-.4-2.4l-.3-2.3l-.5-2.4l-.4-2.4l-.5-2.4l-.4-2.4l-.3-2.3l-.1-2.4l0-2.4l.2-2.4l.3-2.3l.4-2.4l.5-2.4l.4-2.4l.5-2.4l.3-2.3l.3-2.4l.3-2.4l.1-2.4l0-2.3l0-2.4l0-2.4l.3-2.4l.3 2.4l0 2.4l0 2.4l0 2.3l.1 2.4l.3 2.4l.3 2.4l.3 2.3l.5 2.4l.4 2.4l.5 2.4l.4 2.4l.3 2.3l.2 2.4l0 2.4l-.1 2.4l-.3 2.3l-.4 2.4l-.5 2.4l-.4 2.4l-.5 2.4l-.3 2.3l-.4 2.4l-.2 2.4l.3 2.4l1.7 2.3l1.9 2.4l.9 2.4zM402.2 1369l.7-2.3l1.9-2.3l1.7-2.3l.4-2.3l-.2-2.3l-.3-2.3l-.4-2.3l-.3-2.4l-.5-2.3l-.4-2.3l-.5-2.3l-.4-2.3l-.4-2.3l-.3-2.3l-.2-2.3l-.1-2.3l0-2.3l.2-2.3l.3-2.3l.3-2.3l.4-2.3l.5-2.3l.4-2.3l.5-2.4l.4-2.3l.3-2.3l.3-2.3l.3-2.3l.4-2.3l.3-2.3l.3 2.3l.4 2.3l.3 2.3l.3 2.3l.3 2.3l.4 2.3l.5 2.4l.4 2.3l.5 2.3l.4 2.3l.3 2.3l.3 2.3l.2 2.3l0 2.3l-.1 2.3l-.2 2.3l-.3 2.3l-.4 2.3l-.4 2.3l-.5 2.3l-.4 2.3l-.5 2.3l-.3 2.4l-.4 2.3l-.3 2.3l-.2 2.3l.4 2.3l1.7 2.3l1.9 2.3l.7 2.3zM435.2 1369l.8-2.3l1.8-2.3l1.7-2.4l.4-2.3l-.3-2.3l-.2-2.3l-.2-2.4l-.2-2.3l-.1-2.3l0-2.3l.1-2.4l.1-2.3l.2-2.3l.3-2.3l.2-2.3l.2-2.4l.2-2.3l0-2.3l.3-2.3l.3 2.3l0 2.3l.2 2.3l.2 2.4l.2 2.3l.3 2.3l.2 2.3l.1 2.3l.1 2.4l0 2.3l-.1 2.3l-.2 2.3l-.2 2.4l-.2 2.3l-.3 2.3l.4 2.3l1.7 2.4l1.8 2.3l.8 2.3zM769.2 1369l.4-2.3l.9-2.4l.7-2.3l0-2.3l0-2.4l0-2.3l0-2.4l0-2.3l0-2.3l-.1-2.4l-.3-2.3l-.2-2.3l-.4-2.4l-.5-2.3l-.5-2.4l-.6-2.3l-.6-2.3l-.6-2.4l-.5-2.3l-.4-2.4l-.2-2.3l0-2.3l.2-2.4l.3-2.3l.5-2.3l.6-2.4l.6-2.3l.6-2.4l.5-2.3l.5-2.3l.8-2.4l.6-2.3l.6 2.3l.8 2.4l.5 2.3l.5 2.3l.6 2.4l.6 2.3l.6 2.4l.5 2.3l.3 2.3l.2 2.4l0 2.3l-.2 2.3l-.4 2.4l-.5 2.3l-.6 2.4l-.6 2.3l-.6 2.3l-.5 2.4l-.5 2.3l-.4 2.4l-.2 2.3l-.3 2.3l-.1 2.4l0 2.3l0 2.3l0 2.4l0 2.3l0 2.4l0 2.3l.7 2.3l.9 2.4l.4 2.3zM798.8 1369l.9-2.3l2.2-2.3l2-2.3l.3-2.3l0-2.3l0-2.3l0-2.4l0-2.3l0-2.3l0-2.3l0-2.3l0-2.3l0-2.3l0-2.3l0-2.3l-.1-2.3l-.2-2.3l-.1-2.3l-.2-2.4l-.2-2.3l-.1-2.3l-.2-2.3l-.1-2.3l-.1-2.3l0-2.3l0-2.3l.1-2.3l.1-2.3l.1-2.3l.2-2.3l.2-2.3l.2-2.4l.1-2.3l.1-2.3l.2-2.3l0-2.3l0-2.3l.3-2.3l.3 2.3l0 2.3l0 2.3l.2 2.3l.1 2.3l.1 2.3l.2 2.4l.2 2.3l.2 2.3l.1 2.3l.1 2.3l.1 2.3l0 2.3l0 2.3l-.1 2.3l-.1 2.3l-.2 2.3l-.1 2.3l-.2 2.3l-.2 2.4l-.1 2.3l-.2 2.3l-.1 2.3l0 2.3l0 2.3l0 2.3l0 2.3l0 2.3l0 2.3l0 2.3l0 2.3l0 2.4l0 2.3l0 2.3l.3 2.3l2 2.3l2.2 2.3l.9 2.3zM835 1369l.4-2.3l1-2.3l.8-2.4l0-2.3l0-2.3l0-2.3l0-2.4l0-2.3l0-2.3l-.1-2.3l-.3-2.3l-.3-2.4l-.5-2.3l-.5-2.3l-.6-2.3l-.7-2.4l-.7-2.3l-.7-2.3l-.5-2.3l-.3-2.3l-.1-2.4l.1-2.3l.4-2.3l.5-2.3l.7-2.4l.7-2.3l.7-2.3l.6-2.3l.6-2.4l.7-2.3l.6-2.3l.6 2.3l.7 2.3l.6 2.4l.6 2.3l.7 2.3l.7 2.3l.7 2.4l.5 2.3l.4 2.3l.1 2.3l-.1 2.4l-.3 2.3l-.5 2.3l-.7 2.3l-.7 2.3l-.7 2.4l-.6 2.3l-.5 2.3l-.5 2.3l-.3 2.4l-.3 2.3l-.1 2.3l0 2.3l0 2.3l0 2.4l0 2.3l0 2.3l0 2.3l.8 2.4l1 2.3l.4 2.3zM72.2 1485l1.4-2.4l2.7-2.4l.9-2.3l0-2.4l-.2-2.4l-.1-2.4l-.2-2.4l-.3-2.3l-.3-2.4l-.2-2.4l-.3-2.4l-.3-2.3l-.2-2.4l-.1-2.4l-.1-2.4l0-2.4l.1-2.3l.2-2.4l.2-2.4l.3-2.4l.3-2.4l.3-2.3l.2-2.4l.3-2.4l.2-2.4l.2-2.3l.3-2.4l.3 2.4l.2 2.3l.2 2.4l.3 2.4l.2 2.4l.3 2.3l.3 2.4l.3 2.4l.2 2.4l.2 2.4l.1 2.3l0 2.4l-.1 2.4l-.1 2.4l-.2 2.4l-.3 2.3l-.3 2.4l-.2 2.4l-.3 2.4l-.3 2.3l-.2 2.4l-.1 2.4l-.2 2.4l0 2.4l.9 2.3l2.7 2.4l1.4 2.4zM137.9 1485l1.2-2.4l2.4-2.3l.9-2.4l-.4-2.4l-.4-2.4l-.3-2.3l-.3-2.4l-.3-2.4l-.2-2.3l0-2.4l.1-2.4l.2-2.4l.3-2.3l.3-2.4l.4-2.4l.4-2.3l.3-2.4l.3-2.4l.2-2.4l.2-2.3l0-2.4l0-2.4l0-2.3l0-2.4l.3-2.4l.3 2.4l0 2.4l0 2.3l0 2.4l0 2.4l.2 2.3l.2 2.4l.3 2.4l.3 2.4l.4 2.3l.4 2.4l.3 2.4l.3 2.3l.2 2.4l.1 2.4l0 2.4l-.2 2.3l-.3 2.4l-.3 2.4l-.3 2.3l-.4 2.4l-.4 2.4l.9 2.4l2.4 2.3l1.2 2.4zM174.4 1485l.6-2.4l1-2.3l.2-2.4l0-2.3l0-2.4l0-2.3l0-2.4l0-2.4l0-2.3l0-2.4l0-2.3l0-2.4l0-2.3l-.2-2.4l-.3-2.4l-.4-2.3l-.5-2.4l-.7-2.3l-.7-2.4l-.7-2.4l-.6-2.3l-.5-2.4l-.3-2.3l0-2.4l.3-2.3l.6-2.4l.6-2.4l.7-2.3l.8-2.4l1.2-2.3l1-2.4l1 2.4l1.2 2.3l.8 2.4l.7 2.3l.6 2.4l.6 2.4l.3 2.3l0 2.4l-.3 2.3l-.5 2.4l-.6 2.3l-.7 2.4l-.7 2.4l-.7 2.3l-.5 2.4l-.4 2.3l-.3 2.4l-.2 2.4l0 2.3l0 2.4l0 2.3l0 2.4l0 2.3l0 2.4l0 2.4l0 2.3l0 2.4l0 2.3l.2 2.4l1 2.3l.6 2.4zM207 1485l.7-2.4l1.3-2.3l.2-2.4l0-2.3l0-2.4l0-2.3l0-2.4l0-2.4l0-2.3l0-2.4l0-2.3l0-2.4l-.2-2.3l-.3-2.4l-.4-2.4l-.5-2.3l-.6-2.4l-.6-2.3l-.7-2.4l-.6-2.4l-.4-2.3l-.3-2.4l-.1-2.3l.2-2.4l.3-2.3l.6-2.4l.6-2.4l.6-2.3l.7-2.4l1.1-2.3l.9-2.4l.9 2.4l1.1 2.3l.7 2.4l.6 2.3l.6 2.4l.6 2.4l.3 2.3l.2 2.4l-.1 2.3l-.3 2.4l-.4 2.3l-.6 2.4l-.7 2.4l-.6 2.3l-.6 2.4l-.5 2.3l-.4 2.4l-.3 2.4l-.2 2.3l0 2.4l0 2.3l0 2.4l0 2.3l0 2.4l0 2.4l0 2.3l0 2.4l0 2.3l.2 2.4l1.3 2.3l.7 2.4zM241.3 1485l.3-2.4l.6-2.3l0-2.4l0-2.4l0-2.4l0-2.3l0-2.4l0-2.4l0-2.4l0-2.3l0-2.4l0-2.4l0-2.4l-.2-2.3l-.3-2.4l-.4-2.4l-.6-2.3l-.7-2.4l-.8-2.4l-.7-2.4l-.6-2.3l-.3-2.4l-.1-2.4l.3-2.4l.5-2.3l.7-2.4l.7-2.4l.8-2.4l1.1-2.3l.9-2.4l.9 2.4l1.1 2.3l.8 2.4l.7 2.4l.7 2.4l.5 2.3l.3 2.4l-.1 2.4l-.3 2.4l-.6 2.3l-.7 2.4l-.8 2.4l-.7 2.4l-.6 2.3l-.4 2.4l-.3 2.4l-.2 2.3l0 2.4l0 2.4l0 2.4l0 2.3l0 2.4l0 2.4l0 2.4l0 2.3l0 2.4l0 2.4l0 2.4l.6 2.3l.3 2.4zM273.2 1485l.6-2.3l1.2-2.3l.2-2.4l0-2.3l0-2.3l0-2.3l0-2.4l0-2.3l0-2.3l0-2.3l0-2.4l0-2.3l0-2.3l-.3-2.3l-.3-2.4l-.5-2.3l-.7-2.3l-.7-2.3l-.8-2.4l-.7-2.3l-.6-2.3l-.3-2.3l0-2.4l.3-2.3l.6-2.3l.7-2.3l.8-2.4l.8-2.3l1.1-2.3l.9-2.3l.9 2.3l1.1 2.3l.8 2.3l.8 2.4l.7 2.3l.6 2.3l.3 2.3l0 2.4l-.3 2.3l-.6 2.3l-.7 2.3l-.8 2.4l-.7 2.3l-.7 2.3l-.5 2.3l-.3 2.4l-.3 2.3l0 2.3l0 2.3l0 2.4l0 2.3l0 2.3l0 2.3l0 2.4l0 2.3l0 2.3l0 2.3l.2 2.4l1.2 2.3l.6 2.3zM303.2 1485l1.3-2.3l2.5-2.3l1.1-2.3l-.2-2.4l-.2-2.3l-.2-2.3l-.2-2.3l-.2-2.3l-.2-2.3l0-2.3l0-2.3l.2-2.4l.1-2.3l.2-2.3l.3-2.3l.2-2.3l.2-2.3l.1-2.3l0-2.3l0-2.4l0-2.3l0-2.3l0-2.3l.3-2.3l.3 2.3l0 2.3l0 2.3l0 2.3l0 2.4l0 2.3l.1 2.3l.2 2.3l.2 2.3l.3 2.3l.2 2.3l.1 2.3l.2 2.4l0 2.3l0 2.3l-.2 2.3l-.2 2.3l-.2 2.3l-.2 2.3l-.2 2.3l-.2 2.4l1.1 2.3l2.5 2.3l1.3 2.3zM336.2 1485l1.2-2.4l2.6-2.3l.9-2.4l-.3-2.4l-.4-2.3l-.4-2.4l-.5-2.4l-.4-2.3l-.4-2.4l-.4-2.4l-.2-2.3l0-2.4l.1-2.4l.3-2.3l.4-2.4l.5-2.4l.5-2.3l.4-2.4l.4-2.4l.3-2.3l.2-2.4l.2-2.4l0-2.3l0-2.4l0-2.4l0-2.3l0-2.4l.3-2.4l.3 2.4l0 2.4l0 2.3l0 2.4l0 2.4l0 2.3l.2 2.4l.2 2.4l.3 2.3l.4 2.4l.4 2.4l.5 2.3l.5 2.4l.4 2.4l.3 2.3l.1 2.4l0 2.4l-.2 2.3l-.4 2.4l-.4 2.4l-.4 2.3l-.5 2.4l-.4 2.4l-.4 2.3l-.3 2.4l.9 2.4l2.6 2.3l1.2 2.4zM372.8 1485l.5-2.3l.8-2.3l.1-2.3l0-2.3l0-2.3l0-2.3l0-2.4l0-2.3l0-2.3l0-2.3l-.3-2.3l-.3-2.3l-.6-2.3l-.7-2.3l-.7-2.3l-.8-2.3l-.7-2.3l-.5-2.3l-.1-2.3l.2-2.4l.5-2.3l.7-2.3l.8-2.3l.8-2.3l.6-2.3l.5-2.3l.4-2.3l.2-2.3l0-2.3l0-2.3l0-2.3l0-2.3l0-2.4l.3-2.3l.3 2.3l0 2.4l0 2.3l0 2.3l0 2.3l0 2.3l.2 2.3l.4 2.3l.5 2.3l.6 2.3l.8 2.3l.8 2.3l.7 2.3l.5 2.3l.2 2.4l-.1 2.3l-.5 2.3l-.7 2.3l-.8 2.3l-.7 2.3l-.7 2.3l-.6 2.3l-.3 2.3l-.3 2.3l0 2.3l0 2.3l0 2.3l0 2.4l0 2.3l0 2.3l0 2.3l.1 2.3l.8 2.3l.5 2.3zM402.2 1485l1.3-2.3l2.6-2.4l1-2.3l-.3-2.3l-.3-2.4l-.4-2.3l-.4-2.4l-.3-2.3l-.2-2.3l-.1-2.4l.1-2.3l.2-2.3l.4-2.4l.4-2.3l.3-2.4l.4-2.3l.2-2.3l.1-2.4l0-2.3l0-2.3l0-2.4l0-2.3l.3-2.4l.3 2.4l0 2.3l0 2.4l0 2.3l0 2.3l.1 2.4l.2 2.3l.4 2.3l.3 2.4l.4 2.3l.4 2.4l.2 2.3l.1 2.3l-.1 2.4l-.2 2.3l-.3 2.3l-.4 2.4l-.4 2.3l-.3 2.4l-.3 2.3l1 2.3l2.6 2.4l1.3 2.3zM435.2 1485l1.2-2.3l2.4-2.3l1-2.3l-.4-2.3l-.5-2.4l-.6-2.3l-.4-2.3l-.3-2.3l-.1-2.3l.2-2.3l.3-2.3l.5-2.3l.6-2.3l.4-2.3l.4-2.4l.3-2.3l0-2.3l0-2.3l0-2.3l.3-2.3l.3 2.3l0 2.3l0 2.3l0 2.3l.3 2.3l.4 2.4l.4 2.3l.6 2.3l.5 2.3l.3 2.3l.2 2.3l-.1 2.3l-.3 2.3l-.4 2.3l-.6 2.3l-.5 2.4l-.4 2.3l1 2.3l2.4 2.3l1.2 2.3zM536.3 1485l1.1-2.4l2.2-2.3l.6-2.4l0-2.4l-.2-2.4l-.4-2.3l-.7-2.4l-.9-2.4l-.9-2.3l-.9-2.4l-.6-2.4l-.1-2.3l.5-2.4l.8-2.4l1-2.4l.9-2.3l.7-2.4l.7-2.4l.4-2.3l.4 2.3l.7 2.4l.7 2.4l.9 2.3l1 2.4l.8 2.4l.5 2.4l-.1 2.3l-.6 2.4l-.9 2.4l-.9 2.3l-.9 2.4l-.7 2.4l-.4 2.3l-.2 2.4l0 2.4l.6 2.4l2.2 2.3l1.1 2.4zM568.3 1485l1.3-2.3l2.6-2.4l1-2.3l0-2.4l-.2-2.3l-.1-2.4l-.3-2.3l-.2-2.4l-.2-2.3l-.2-2.4l-.1-2.3l0-2.4l.1-2.3l.1-2.4l.2-2.3l.2-2.4l.2-2.3l.3-2.4l.1-2.3l.1-2.4l0-2.3l0-2.4l0-2.3l0-2.4l.3-2.3l.3 2.3l0 2.4l0 2.3l0 2.4l0 2.3l.1 2.4l.1 2.3l.3 2.4l.2 2.3l.2 2.4l.2 2.3l.1 2.4l.1 2.3l0 2.4l-.1 2.3l-.2 2.4l-.2 2.3l-.2 2.4l-.3 2.3l-.1 2.4l-.2 2.3l0 2.4l1 2.3l2.6 2.4l1.3 2.3zM700.3 1485l1.3-2.3l2.7-2.4l.9-2.3l0-2.4l0-2.3l-.1-2.4l-.2-2.3l-.2-2.3l-.2-2.4l-.2-2.3l-.2-2.4l-.2-2.3l0-2.4l0-2.3l.2-2.3l.1-2.4l.3-2.3l.2-2.4l.2-2.3l.2-2.4l.1-2.3l0-2.3l0-2.4l.3-2.3l.3 2.3l0 2.4l0 2.3l.1 2.3l.2 2.4l.2 2.3l.2 2.4l.3 2.3l.1 2.4l.2 2.3l0 2.3l0 2.4l-.2 2.3l-.2 2.4l-.2 2.3l-.2 2.4l-.2 2.3l-.2 2.3l-.1 2.4l0 2.3l0 2.4l.9 2.3l2.7 2.4l1.3 2.3z" fill="#e89b2f" stroke="#111" stroke-width="0.4" stroke-linejoin="round"/><path d="M379.3 908.4l.8-2.3l1.8-2.4l1.8-2.3l.5-2.3l0-2.4l0-2.3l-.1-2.4l-.2-2.3l-.2-2.3l-.2-2.4l-.2-2.3l-.3-2.3l-.2-2.4l-.2-2.3l-.1-2.4l0-2.3l0-2.3l.2-2.4l.1-2.3l.3-2.3l.2-2.4l.2-2.3l.3-2.3l.2-2.4l.2-2.3l.3-2.4l.3 2.4l.2 2.3l.2 2.4l.3 2.3l.2 2.3l.2 2.4l.3 2.3l.1 2.3l.2 2.4l0 2.3l0 2.3l-.1 2.4l-.2 2.3l-.2 2.4l-.3 2.3l-.2 2.3l-.2 2.4l-.2 2.3l-.2 2.3l-.1 2.4l0 2.3l0 2.4l.5 2.3l1.8 2.3l1.8 2.4l.8 2.3zM480.9 908.4l.4-2.3l.9-2.3l.9-2.3l.1-2.4l0-2.3l0-2.3l0-2.3l0-2.3l-.1-2.3l-.2-2.3l-.2-2.3l-.3-2.4l-.3-2.3l-.4-2.3l-.5-2.3l-.4-2.3l-.5-2.3l-.5-2.3l-.3-2.3l-.3-2.4l-.2-2.3l-.1-2.3l.1-2.3l.1-2.3l.3-2.3l.4-2.3l.5-2.3l.4-2.4l.5-2.3l.4-2.3l.4-2.3l.4-2.3l.3-2.3l.4-2.3l.4-2.3l.4 2.3l.4 2.3l.3 2.3l.4 2.3l.4 2.3l.4 2.3l.5 2.3l.4 2.4l.5 2.3l.4 2.3l.3 2.3l.1 2.3l.1 2.3l-.1 2.3l-.2 2.3l-.3 2.4l-.3 2.3l-.5 2.3l-.5 2.3l-.4 2.3l-.5 2.3l-.4 2.3l-.3 2.3l-.3 2.4l-.2 2.3l-.2 2.3l-.1 2.3l0 2.3l0 2.3l0 2.3l0 2.3l.1 2.4l.9 2.3l.9 2.3l.4 2.3zM511.8 908.4l.8-2.3l2.1-2.4l2-2.3l.5-2.3l0-2.4l0-2.3l0-2.3l0-2.3l0-2.4l0-2.3l0-2.3l0-2.4l0-2.3l0-2.3l0-2.4l-.1-2.3l-.1-2.3l-.2-2.4l-.1-2.3l-.1-2.3l-.2-2.3l-.1-2.4l-.2-2.3l-.1-2.3l0-2.4l-.1-2.3l0-2.3l0-2.4l.1-2.3l.1-2.3l.1-2.4l.1-2.3l.1-2.3l.2-2.3l.2-2.4l.3-2.3l.4-2.3l.4 2.3l.3 2.3l.2 2.4l.2 2.3l.1 2.3l.1 2.3l.1 2.4l.1 2.3l.1 2.3l0 2.4l0 2.3l-.1 2.3l0 2.4l-.1 2.3l-.2 2.3l-.1 2.4l-.2 2.3l-.1 2.3l-.1 2.3l-.2 2.4l-.1 2.3l-.1 2.3l0 2.4l0 2.3l0 2.3l0 2.4l0 2.3l0 2.3l0 2.4l0 2.3l0 2.3l0 2.3l0 2.4l.5 2.3l2 2.3l2.1 2.4l.8 2.3zM545.2 908.4l.7-2.3l1.8-2.3l1.7-2.3l.7-2.3l-.1-2.3l-.2-2.4l-.1-2.3l-.2-2.3l-.2-2.3l-.1-2.3l-.2-2.3l-.2-2.3l-.1-2.3l-.1-2.3l-.1-2.3l0-2.3l0-2.4l.1-2.3l.1-2.3l.1-2.3l.2-2.3l.1-2.3l.2-2.3l.2-2.3l.1-2.3l.2-2.3l.1-2.3l.2-2.4l.1-2.3l0-2.3l0-2.3l.3-2.3l.3 2.3l0 2.3l0 2.3l.1 2.3l.2 2.4l.1 2.3l.2 2.3l.1 2.3l.2 2.3l.2 2.3l.1 2.3l.2 2.3l.1 2.3l.1 2.3l.1 2.3l0 2.4l0 2.3l-.1 2.3l-.1 2.3l-.1 2.3l-.2 2.3l-.2 2.3l-.1 2.3l-.2 2.3l-.2 2.3l-.1 2.3l-.2 2.4l-.1 2.3l.7 2.3l1.7 2.3l1.8 2.3l.7 2.3zM578.3 908.4l.8-2.3l1.8-2.3l1.8-2.3l.5-2.3l0-2.3l0-2.4l0-2.3l0-2.3l0-2.3l-.1-2.3l-.1-2.3l-.2-2.3l-.3-2.3l-.3-2.3l-.3-2.3l-.3-2.4l-.4-2.3l-.2-2.3l-.2-2.3l-.1-2.3l0-2.3l.1-2.3l.3-2.3l.2-2.3l.3-2.3l.4-2.4l.3-2.3l.3-2.3l.2-2.3l.2-2.3l.2-2.3l0-2.3l0-2.3l0-2.3l0-2.3l0-2.3l.3-2.4l.3 2.4l0 2.3l0 2.3l0 2.3l0 2.3l0 2.3l.2 2.3l.2 2.3l.2 2.3l.3 2.3l.3 2.3l.4 2.4l.3 2.3l.2 2.3l.3 2.3l.1 2.3l0 2.3l-.1 2.3l-.2 2.3l-.2 2.3l-.4 2.3l-.3 2.4l-.3 2.3l-.3 2.3l-.3 2.3l-.2 2.3l-.1 2.3l-.1 2.3l0 2.3l0 2.3l0 2.3l0 2.4l0 2.3l.5 2.3l1.8 2.3l1.8 2.3l.8 2.3zM611.1 908.4l.7-2.3l1.8-2.3l1.8-2.3l.6-2.4l-.1-2.3l-.1-2.3l-.2-2.3l-.1-2.3l-.2-2.3l-.1-2.3l-.2-2.4l-.1-2.3l-.1-2.3l-.2-2.3l0-2.3l-.1-2.3l0-2.3l0-2.4l.1-2.3l.1-2.3l.1-2.3l.1-2.3l.1-2.3l.2-2.3l.2-2.4l.1-2.3l.2-2.3l.1-2.3l.2-2.3l.2-2.3l.3-2.3l.3 2.3l.2 2.3l.2 2.3l.1 2.3l.2 2.3l.1 2.3l.2 2.4l.2 2.3l.1 2.3l.1 2.3l.1 2.3l.1 2.3l.1 2.3l0 2.4l0 2.3l-.1 2.3l0 2.3l-.2 2.3l-.1 2.3l-.1 2.3l-.2 2.4l-.1 2.3l-.2 2.3l-.1 2.3l-.2 2.3l-.1 2.3l-.1 2.3l.6 2.4l1.8 2.3l1.8 2.3l.7 2.3zM312.3 1023.4l.4-2.3l1.2-2.3l1.6-2.3l1.2-2.3l.3-2.3l0-2.3l-.1-2.3l0-2.3l0-2.3l0-2.3l.1-2.3l0-2.3l.1-2.3l.1-2.3l.1-2.3l.1-2.3l.2-2.3l.1-2.3l.1-2.3l.1-2.3l.1-2.3l.1-2.3l.1-2.3l0-2.3l0-2.3l0-2.3l0-2.3l0-2.3l0-2.3l0-2.3l0-2.3l0-2.3l.3-2.3l.3 2.3l0 2.3l0 2.3l0 2.3l0 2.3l0 2.3l0 2.3l0 2.3l0 2.3l0 2.3l.1 2.3l.1 2.3l.1 2.3l.1 2.3l.1 2.3l.1 2.3l.2 2.3l.1 2.3l.1 2.3l.1 2.3l.1 2.3l0 2.3l.1 2.3l0 2.3l0 2.3l0 2.3l-.1 2.3l0 2.3l.3 2.3l1.2 2.3l1.6 2.3l1.2 2.3l.4 2.3zM346.6 1023.4l.4-2.3l1.1-2.4l1.3-2.3l1-2.3l.1-2.4l-.2-2.3l-.1-2.3l-.2-2.4l-.1-2.3l0-2.3l0-2.4l.2-2.3l.1-2.3l.2-2.4l.2-2.3l.2-2.3l.2-2.3l.1-2.4l.1-2.3l0-2.3l0-2.4l0-2.3l0-2.3l0-2.4l0-2.3l0-2.3l0-2.4l0-2.3l0-2.3l0-2.4l.3-2.3l.3 2.3l0 2.4l0 2.3l0 2.3l0 2.4l0 2.3l0 2.3l0 2.4l0 2.3l0 2.3l0 2.4l0 2.3l.1 2.3l.1 2.4l.2 2.3l.2 2.3l.2 2.3l.2 2.4l.1 2.3l.2 2.3l0 2.4l0 2.3l-.1 2.3l-.2 2.4l-.1 2.3l-.2 2.3l.1 2.4l1 2.3l1.3 2.3l1.1 2.4l.4 2.3zM412.2 1023.4l.5-2.3l1.2-2.4l1.5-2.3l1.1-2.4l.2-2.3l-.3-2.4l-.2-2.3l-.2-2.3l-.1-2.4l0-2.3l.1-2.4l.1-2.3l.2-2.4l.3-2.3l.2-2.4l.2-2.3l.2-2.3l0-2.4l0-2.3l0-2.4l0-2.3l0-2.4l0-2.3l0-2.3l0-2.4l0-2.3l0-2.4l0-2.3l.3-2.4l.3 2.4l0 2.3l0 2.4l0 2.3l0 2.4l0 2.3l0 2.3l0 2.4l0 2.3l0 2.4l0 2.3l0 2.4l.2 2.3l.2 2.3l.2 2.4l.3 2.3l.2 2.4l.1 2.3l.1 2.4l0 2.3l-.1 2.4l-.2 2.3l-.2 2.3l-.3 2.4l.2 2.3l1.1 2.4l1.5 2.3l1.2 2.4l.5 2.3zM776.2 1023.4l.5-2.4l1.3-2.3l1.5-2.4l1.1-2.3l.2-2.4l-.2-2.3l-.3-2.4l-.2-2.4l-.1-2.3l-.1-2.4l0-2.3l.1-2.4l.2-2.3l.2-2.4l.3-2.3l.2-2.4l.2-2.4l.1-2.3l0-2.4l0-2.3l0-2.4l0-2.3l0-2.4l0-2.4l0-2.3l0-2.4l.3-2.3l.3 2.3l0 2.4l0 2.3l0 2.4l0 2.4l0 2.3l0 2.4l0 2.3l0 2.4l.1 2.3l.2 2.4l.2 2.4l.3 2.3l.2 2.4l.2 2.3l.1 2.4l0 2.3l-.1 2.4l-.1 2.3l-.2 2.4l-.3 2.4l-.2 2.3l.2 2.4l1.1 2.3l1.5 2.4l1.3 2.3l.5 2.4zM842.3 1023.4l.5-2.4l1.4-2.4l1.7-2.4l1.1-2.4l.2-2.3l-.1-2.4l-.3-2.4l-.2-2.4l-.3-2.4l-.2-2.4l-.2-2.4l0-2.4l.1-2.3l.2-2.4l.3-2.4l.3-2.4l.2-2.4l.2-2.4l0-2.4l0-2.4l0-2.3l.3-2.4l.3 2.4l0 2.3l0 2.4l0 2.4l.2 2.4l.2 2.4l.3 2.4l.3 2.4l.2 2.4l.1 2.3l0 2.4l-.2 2.4l-.2 2.4l-.3 2.4l-.2 2.4l-.3 2.4l-.1 2.4l.2 2.3l1.1 2.4l1.7 2.4l1.4 2.4l.5 2.4zM82.3 1138.4l.6-2.4l1.6-2.4l1.7-2.3l1-2.4l0-2.4l0-2.4l-.2-2.4l-.2-2.4l-.2-2.3l-.2-2.4l-.3-2.4l-.2-2.4l-.2-2.4l-.2-2.3l0-2.4l0-2.4l.2-2.4l.2-2.4l.2-2.3l.3-2.4l.2-2.4l.2-2.4l.2-2.4l.2-2.4l0-2.3l0-2.4l0-2.4l.3-2.4l.3 2.4l0 2.4l0 2.4l0 2.3l.2 2.4l.2 2.4l.2 2.4l.2 2.4l.3 2.4l.2 2.3l.2 2.4l.2 2.4l0 2.4l0 2.4l-.2 2.3l-.2 2.4l-.2 2.4l-.3 2.4l-.2 2.4l-.2 2.3l-.2 2.4l-.2 2.4l0 2.4l0 2.4l1 2.4l1.7 2.3l1.6 2.4l.6 2.4zM114.9 1138.4l.5-2.4l1.4-2.4l1.6-2.4l.9-2.4l-.1-2.4l-.3-2.4l-.2-2.4l-.2-2.4l-.1-2.4l-.2-2.4l-.1-2.4l0-2.4l0-2.4l.1-2.4l.1-2.4l.2-2.4l.2-2.4l.2-2.4l.2-2.4l.3-2.4l.5-2.4l.6-2.5l.6 2.5l.5 2.4l.3 2.4l.2 2.4l.2 2.4l.2 2.4l.2 2.4l.1 2.4l.1 2.4l0 2.4l0 2.4l-.1 2.4l-.2 2.4l-.1 2.4l-.2 2.4l-.2 2.4l-.3 2.4l-.1 2.4l.9 2.4l1.6 2.4l1.4 2.4l.5 2.4zM149.3 1138.4l.4-2.2l1.2-2.3l1.3-2.2l.9-2.2l.1-2.3l.6 0l.1 2.3l.9 2.2l1.3 2.2l1.2 2.3l.4 2.2zM280.3 1138.4l.6-2.4l1.5-2.3l1.7-2.4l1.1-2.3l0-2.4l-.2-2.3l-.2-2.4l-.2-2.3l-.2-2.4l-.2-2.3l-.2-2.4l-.1-2.3l0-2.4l.1-2.3l.1-2.4l.2-2.3l.2-2.4l.2-2.3l.2-2.4l.2-2.3l.1-2.4l0-2.3l0-2.4l.3-2.3l.3 2.3l0 2.4l0 2.3l.1 2.4l.2 2.3l.2 2.4l.2 2.3l.2 2.4l.2 2.3l.1 2.4l.1 2.3l0 2.4l-.1 2.3l-.2 2.4l-.2 2.3l-.2 2.4l-.2 2.3l-.2 2.4l-.2 2.3l0 2.4l1.1 2.3l1.7 2.4l1.5 2.3l.6 2.4zM313.2 1138.4l.5-2.3l1.5-2.3l1.6-2.3l1.1-2.3l0-2.4l-.1-2.3l-.2-2.3l-.1-2.3l-.2-2.3l-.1-2.3l-.1-2.3l0-2.3l0-2.3l0-2.4l.1-2.3l.1-2.3l.2-2.3l.1-2.3l.1-2.3l.2-2.3l.3-2.3l.3-2.3l.3 2.3l.3 2.3l.2 2.3l.1 2.3l.1 2.3l.2 2.3l.1 2.3l.1 2.3l0 2.4l0 2.3l0 2.3l-.1 2.3l-.1 2.3l-.2 2.3l-.1 2.3l-.2 2.3l-.1 2.3l0 2.4l1.1 2.3l1.6 2.3l1.5 2.3l.5 2.3zM181.3 1253.8l.6-2.4l1.5-2.3l1.7-2.4l1.1-2.3l0-2.4l0-2.4l-.1-2.3l-.1-2.4l-.2-2.3l-.2-2.4l-.2-2.3l-.1-2.4l-.2-2.4l-.1-2.3l-.1-2.4l0-2.3l.1-2.4l.1-2.4l.1-2.3l.2-2.4l.2-2.3l.2-2.4l.2-2.4l.1-2.3l.1-2.4l0-2.3l0-2.4l0-2.3l0-2.4l.3-2.4l.3 2.4l0 2.4l0 2.3l0 2.4l0 2.3l.1 2.4l.1 2.3l.2 2.4l.2 2.4l.2 2.3l.2 2.4l.1 2.3l.1 2.4l.1 2.4l0 2.3l-.1 2.4l-.1 2.3l-.2 2.4l-.1 2.4l-.2 2.3l-.2 2.4l-.2 2.3l-.1 2.4l-.1 2.3l0 2.4l0 2.4l1.1 2.3l1.7 2.4l1.5 2.3l.6 2.4zM247.3 1253.8l.6-2.3l1.4-2.3l1.7-2.4l1.2-2.3l0-2.3l0-2.3l0-2.4l0-2.3l-.2-2.3l-.2-2.3l-.2-2.4l-.3-2.3l-.3-2.3l-.3-2.3l-.3-2.4l-.4-2.3l-.3-2.3l-.3-2.3l-.2-2.3l-.1-2.4l0-2.3l.1-2.3l.1-2.3l.3-2.4l.3-2.3l.3-2.3l.4-2.3l.3-2.4l.3-2.3l.3-2.3l.3-2.3l.2-2.4l.2-2.3l.3-2.3l.3 2.3l.2 2.3l.2 2.4l.3 2.3l.3 2.3l.3 2.3l.3 2.4l.4 2.3l.3 2.3l.3 2.3l.3 2.4l.1 2.3l.1 2.3l0 2.3l-.1 2.4l-.2 2.3l-.3 2.3l-.3 2.3l-.4 2.3l-.3 2.4l-.3 2.3l-.3 2.3l-.3 2.3l-.2 2.4l-.2 2.3l-.2 2.3l0 2.3l0 2.4l0 2.3l0 2.3l1.2 2.3l1.7 2.4l1.4 2.3l.6 2.3zM280.3 1253.8l.5-2.3l1.5-2.4l1.6-2.3l1.2-2.3l.1-2.3l-.1-2.4l-.1-2.3l-.1-2.3l-.1-2.4l-.2-2.3l-.1-2.3l-.2-2.3l-.1-2.4l-.2-2.3l0-2.3l-.1-2.4l0-2.3l0-2.3l.1-2.3l.1-2.4l.1-2.3l.2-2.3l.1-2.3l.2-2.4l.1-2.3l.2-2.3l.1-2.4l.1-2.3l0-2.3l0-2.3l0-2.4l0-2.3l0-2.3l0-2.4l0-2.3l.3-2.3l.3 2.3l0 2.3l0 2.4l0 2.3l0 2.3l0 2.4l0 2.3l0 2.3l.1 2.3l.1 2.4l.2 2.3l.1 2.3l.2 2.4l.1 2.3l.2 2.3l.1 2.3l.1 2.4l.1 2.3l0 2.3l0 2.3l-.1 2.4l0 2.3l-.2 2.3l-.1 2.4l-.2 2.3l-.1 2.3l-.2 2.3l-.1 2.4l-.1 2.3l-.1 2.3l-.1 2.4l.1 2.3l1.2 2.3l1.6 2.3l1.5 2.4l.5 2.3zM346.1 1253.8l.5-2.4l1.4-2.3l1.6-2.4l1-2.3l0-2.4l-.2-2.4l-.2-2.3l-.2-2.4l-.1-2.3l0-2.4l0-2.3l.1-2.4l.1-2.4l.2-2.3l.2-2.4l.2-2.3l.2-2.4l.1-2.4l.2-2.3l0-2.4l0-2.3l0-2.4l0-2.4l0-2.3l0-2.4l0-2.3l0-2.4l0-2.3l0-2.4l.3-2.4l.3 2.4l0 2.4l0 2.3l0 2.4l0 2.3l0 2.4l0 2.3l0 2.4l0 2.4l0 2.3l0 2.4l.2 2.3l.1 2.4l.2 2.4l.2 2.3l.2 2.4l.2 2.3l.1 2.4l.1 2.4l0 2.3l0 2.4l-.1 2.3l-.2 2.4l-.2 2.3l-.2 2.4l0 2.4l1 2.3l1.6 2.4l1.4 2.3l.5 2.4zM412.2 1253.8l.5-2.3l1.4-2.4l1.6-2.3l1.1-2.4l0-2.3l-.2-2.3l-.2-2.4l-.2-2.3l-.2-2.4l-.1-2.3l0-2.3l.1-2.4l.1-2.3l.2-2.4l.2-2.3l.2-2.3l.2-2.4l.2-2.3l.1-2.4l0-2.3l0-2.3l0-2.4l.3-2.3l.3 2.3l0 2.4l0 2.3l0 2.3l.1 2.4l.2 2.3l.2 2.4l.2 2.3l.2 2.3l.2 2.4l.1 2.3l.1 2.4l0 2.3l-.1 2.3l-.2 2.4l-.2 2.3l-.2 2.4l-.2 2.3l0 2.3l1.1 2.4l1.6 2.3l1.4 2.4l.5 2.3zM445.1 1253.8l.4-2.4l1.4-2.4l1.6-2.4l.9-2.4l0-2.3l-.2-2.4l-.2-2.4l-.1-2.4l0-2.4l.1-2.4l.1-2.4l.2-2.4l.2-2.3l.2-2.4l.2-2.4l.2-2.4l.1-2.4l0-2.4l0-2.4l0-2.4l.3-2.4l.3 2.4l0 2.4l0 2.4l0 2.4l.1 2.4l.2 2.4l.2 2.4l.2 2.4l.2 2.3l.2 2.4l.1 2.4l.1 2.4l0 2.4l-.1 2.4l-.2 2.4l-.2 2.4l0 2.3l.9 2.4l1.6 2.4l1.4 2.4l.4 2.4zM644.1 1253.8l.5-2.3l1.4-2.4l1.6-2.3l1-2.4l0-2.3l-.3-2.3l-.3-2.4l-.4-2.3l-.4-2.4l-.3-2.3l-.4-2.3l-.2-2.4l-.3-2.3l-.1-2.3l0-2.4l.1-2.3l.2-2.4l.2-2.3l.4-2.3l.3-2.4l.4-2.3l.3-2.4l.4-2.3l.3-2.3l.2-2.4l.3-2.3l.2-2.4l.3-2.3l.3 2.3l.2 2.4l.3 2.3l.2 2.4l.3 2.3l.4 2.3l.3 2.4l.4 2.3l.3 2.4l.4 2.3l.2 2.3l.2 2.4l.1 2.3l0 2.4l-.1 2.3l-.3 2.3l-.2 2.4l-.4 2.3l-.3 2.3l-.4 2.4l-.4 2.3l-.3 2.4l-.3 2.3l0 2.3l1 2.4l1.6 2.3l1.4 2.4l.5 2.3zM346.3 1369l.8-2.3l1.9-2.3l1.7-2.3l.5-2.4l-.2-2.3l-.3-2.3l-.3-2.3l-.3-2.3l-.5-2.3l-.4-2.3l-.5-2.3l-.3-2.4l-.3-2.3l-.2-2.3l0-2.3l.2-2.3l.2-2.3l.4-2.3l.4-2.3l.5-2.4l.4-2.3l.4-2.3l.3-2.3l.3-2.3l.1-2.3l.1-2.3l0-2.3l0-2.4l0-2.3l.3-2.3l.3 2.3l0 2.3l0 2.4l0 2.3l.1 2.3l.1 2.3l.3 2.3l.3 2.3l.4 2.3l.4 2.3l.5 2.4l.4 2.3l.4 2.3l.2 2.3l.2 2.3l0 2.3l-.2 2.3l-.3 2.3l-.3 2.4l-.5 2.3l-.4 2.3l-.5 2.3l-.3 2.3l-.3 2.3l-.3 2.3l-.2 2.3l.5 2.4l1.7 2.3l1.9 2.3l.8 2.3zM412.2 1369l.9-2.4l2-2.4l1.7-2.3l.3-2.4l-.2-2.4l-.3-2.4l-.4-2.3l-.4-2.4l-.5-2.4l-.6-2.4l-.6-2.4l-.6-2.3l-.6-2.4l-.4-2.4l-.4-2.4l-.2-2.3l0-2.4l.2-2.4l.3-2.4l.5-2.4l.6-2.3l.6-2.4l.6-2.4l.6-2.4l.5-2.3l.5-2.4l.6-2.4l.6-2.4l.6 2.4l.6 2.4l.5 2.4l.5 2.3l.6 2.4l.6 2.4l.6 2.4l.6 2.3l.5 2.4l.3 2.4l.2 2.4l0 2.4l-.2 2.3l-.4 2.4l-.4 2.4l-.6 2.4l-.6 2.3l-.6 2.4l-.6 2.4l-.5 2.4l-.4 2.4l-.4 2.3l-.3 2.4l-.2 2.4l.3 2.4l1.7 2.3l2 2.4l.9 2.4zM445.1 1369l.8-2.4l1.9-2.3l1.7-2.4l.2-2.4l-.2-2.3l-.2-2.4l-.2-2.4l-.1-2.3l-.1-2.4l0-2.4l.1-2.4l.1-2.3l.2-2.4l.2-2.4l.2-2.3l.2-2.4l.2-2.4l.1-2.3l0-2.4l0-2.4l.3-2.3l.3 2.3l0 2.4l0 2.4l.1 2.3l.2 2.4l.2 2.4l.2 2.3l.2 2.4l.2 2.4l.1 2.3l.1 2.4l0 2.4l-.1 2.4l-.1 2.3l-.2 2.4l-.2 2.4l-.2 2.3l.2 2.4l1.7 2.4l1.9 2.3l.8 2.4zM743.1 1369l.8-2.3l2-2.4l1.7-2.3l.3-2.3l-.1-2.4l-.2-2.3l-.2-2.4l-.1-2.3l-.2-2.3l-.1-2.4l-.1-2.3l0-2.3l0-2.4l.1-2.3l.1-2.4l.2-2.3l.1-2.3l.2-2.4l.2-2.3l.1-2.4l.2-2.3l.1-2.3l0-2.4l0-2.3l0-2.3l0-2.4l0-2.3l0-2.4l0-2.3l0-2.3l0-2.4l.3-2.3l.3 2.3l0 2.4l0 2.3l0 2.3l0 2.4l0 2.3l0 2.4l0 2.3l0 2.3l0 2.4l.1 2.3l.2 2.3l.1 2.4l.2 2.3l.2 2.4l.1 2.3l.2 2.3l.1 2.4l.1 2.3l0 2.4l0 2.3l-.1 2.3l-.1 2.4l-.2 2.3l-.1 2.3l-.2 2.4l-.2 2.3l-.1 2.4l.3 2.3l1.7 2.3l2 2.4l.8 2.3zM779.2 1369l.4-2.3l.9-2.4l.7-2.3l0-2.4l0-2.3l0-2.4l0-2.3l0-2.4l-.1-2.3l-.2-2.4l-.2-2.3l-.4-2.4l-.4-2.3l-.4-2.4l-.5-2.3l-.6-2.4l-.5-2.3l-.5-2.4l-.4-2.3l-.3-2.4l-.2-2.3l0-2.4l.2-2.3l.3-2.4l.4-2.3l.5-2.4l.5-2.3l.6-2.4l.5-2.3l.5-2.4l.8-2.3l.7-2.4l.7 2.4l.8 2.3l.5 2.4l.5 2.3l.6 2.4l.5 2.3l.5 2.4l.4 2.3l.3 2.4l.2 2.3l0 2.4l-.2 2.3l-.3 2.4l-.4 2.3l-.5 2.4l-.5 2.3l-.6 2.4l-.5 2.3l-.4 2.4l-.4 2.3l-.4 2.4l-.2 2.3l-.2 2.4l-.1 2.3l0 2.4l0 2.3l0 2.4l0 2.3l0 2.4l.7 2.3l.9 2.4l.4 2.3zM808.8 1369l.9-2.3l2.2-2.4l2-2.3l.3-2.4l0-2.3l0-2.4l0-2.3l0-2.3l0-2.4l0-2.3l0-2.4l0-2.3l0-2.4l0-2.3l-.1-2.3l-.1-2.4l-.2-2.3l-.1-2.4l-.2-2.3l-.2-2.4l-.1-2.3l-.1-2.3l-.1-2.4l-.1-2.3l0-2.4l0-2.3l.1-2.4l.1-2.3l.2-2.3l.1-2.4l.2-2.3l.1-2.4l.2-2.3l.1-2.4l.2-2.3l.3-2.3l.3 2.3l.2 2.3l.1 2.4l.2 2.3l.1 2.4l.2 2.3l.1 2.4l.2 2.3l.1 2.3l.1 2.4l0 2.3l0 2.4l-.1 2.3l-.1 2.4l-.1 2.3l-.1 2.3l-.2 2.4l-.2 2.3l-.1 2.4l-.2 2.3l-.1 2.4l-.1 2.3l0 2.3l0 2.4l0 2.3l0 2.4l0 2.3l0 2.4l0 2.3l0 2.3l0 2.4l0 2.3l.3 2.4l2 2.3l2.2 2.4l.9 2.3zM845.2 1369l.4-2.3l.9-2.3l.7-2.4l0-2.3l0-2.3l0-2.3l0-2.4l0-2.3l0-2.3l0-2.3l-.1-2.4l-.3-2.3l-.3-2.3l-.4-2.3l-.6-2.3l-.6-2.4l-.6-2.3l-.7-2.3l-.5-2.3l-.5-2.4l-.2-2.3l-.1-2.3l.2-2.3l.3-2.4l.6-2.3l.6-2.3l.6-2.3l.7-2.4l.5-2.3l.5-2.3l.4-2.3l.5-2.3l.3-2.4l.3 2.4l.5 2.3l.4 2.3l.5 2.3l.5 2.3l.7 2.4l.6 2.3l.6 2.3l.6 2.3l.3 2.4l.2 2.3l-.1 2.3l-.2 2.3l-.5 2.4l-.5 2.3l-.7 2.3l-.6 2.3l-.6 2.4l-.6 2.3l-.4 2.3l-.3 2.3l-.3 2.3l-.1 2.4l0 2.3l0 2.3l0 2.3l0 2.4l0 2.3l0 2.3l0 2.3l.7 2.4l.9 2.3l.4 2.3zM82.1 1485l1.3-2.4l2.6-2.3l.9-2.4l-.3-2.4l-.3-2.3l-.4-2.4l-.4-2.4l-.5-2.3l-.5-2.4l-.5-2.4l-.4-2.3l-.4-2.4l-.2-2.4l-.1-2.3l.1-2.4l.2-2.4l.3-2.3l.4-2.4l.5-2.4l.5-2.3l.5-2.4l.4-2.4l.4-2.3l.4-2.4l.2-2.4l.3-2.3l.1-2.4l.3-2.4l.3 2.4l.1 2.4l.3 2.3l.2 2.4l.4 2.4l.4 2.3l.4 2.4l.5 2.4l.5 2.3l.5 2.4l.4 2.4l.3 2.3l.2 2.4l.1 2.4l-.1 2.3l-.2 2.4l-.4 2.4l-.4 2.3l-.5 2.4l-.5 2.4l-.5 2.3l-.4 2.4l-.4 2.4l-.3 2.3l-.3 2.4l.9 2.4l2.6 2.3l1.3 2.4zM148.1 1485l1.2-2.4l2.5-2.4l.8-2.3l-.3-2.4l-.4-2.4l-.4-2.4l-.4-2.3l-.4-2.4l-.2-2.4l0-2.4l.1-2.4l.3-2.3l.3-2.4l.5-2.4l.4-2.4l.4-2.3l.3-2.4l.2-2.4l.2-2.4l0-2.4l0-2.3l.3-2.4l.3 2.4l0 2.3l0 2.4l.2 2.4l.2 2.4l.3 2.4l.4 2.3l.4 2.4l.5 2.4l.3 2.4l.3 2.3l.1 2.4l0 2.4l-.2 2.4l-.4 2.4l-.4 2.3l-.4 2.4l-.4 2.4l-.3 2.4l.8 2.3l2.5 2.4l1.2 2.4zM184 1485l.7-2.4l1.3-2.3l.2-2.4l0-2.4l0-2.4l0-2.3l0-2.4l0-2.4l0-2.3l0-2.4l0-2.4l-.1-2.4l-.2-2.3l-.3-2.4l-.4-2.4l-.5-2.3l-.6-2.4l-.7-2.4l-.7-2.4l-.6-2.3l-.5-2.4l-.2-2.4l-.1-2.3l.2-2.4l.4-2.4l.6-2.4l.7-2.3l.6-2.4l.8-2.4l1-2.4l.9-2.3l.9 2.3l1 2.4l.8 2.4l.6 2.4l.7 2.3l.6 2.4l.4 2.4l.2 2.4l-.1 2.3l-.2 2.4l-.5 2.4l-.6 2.3l-.7 2.4l-.7 2.4l-.6 2.4l-.5 2.3l-.4 2.4l-.3 2.4l-.2 2.3l-.1 2.4l0 2.4l0 2.4l0 2.3l0 2.4l0 2.4l0 2.3l0 2.4l0 2.4l.2 2.4l1.3 2.3l.7 2.4zM216.8 1485l.7-2.3l1.4-2.3l.3-2.3l0-2.4l0-2.3l0-2.3l0-2.3l0-2.3l0-2.3l0-2.4l0-2.3l-.1-2.3l-.3-2.3l-.3-2.3l-.4-2.3l-.6-2.4l-.6-2.3l-.6-2.3l-.7-2.3l-.6-2.3l-.4-2.3l-.3-2.3l0-2.4l.2-2.3l.4-2.3l.6-2.3l.6-2.3l.7-2.3l.6-2.4l.7-2.3l.7-2.3l.7-2.3l.7 2.3l.7 2.3l.7 2.3l.6 2.4l.7 2.3l.6 2.3l.6 2.3l.4 2.3l.2 2.3l0 2.4l-.3 2.3l-.4 2.3l-.6 2.3l-.7 2.3l-.6 2.3l-.6 2.3l-.6 2.4l-.4 2.3l-.3 2.3l-.3 2.3l-.1 2.3l0 2.3l0 2.4l0 2.3l0 2.3l0 2.3l0 2.3l0 2.3l0 2.4l.3 2.3l1.4 2.3l.7 2.3zM251 1485l.4-2.3l.8-2.3l0-2.3l0-2.4l0-2.3l0-2.3l0-2.3l0-2.3l0-2.3l0-2.4l0-2.3l0-2.3l0-2.3l0-2.3l-.1-2.3l-.3-2.3l-.5-2.4l-.6-2.3l-.7-2.3l-.7-2.3l-.7-2.3l-.5-2.3l-.2-2.3l.1-2.4l.4-2.3l.6-2.3l.7-2.3l.8-2.3l1.1-2.3l.9-2.4l.9 2.4l1.1 2.3l.8 2.3l.7 2.3l.6 2.3l.4 2.3l.1 2.4l-.2 2.3l-.5 2.3l-.7 2.3l-.7 2.3l-.7 2.3l-.6 2.3l-.5 2.4l-.3 2.3l-.1 2.3l0 2.3l0 2.3l0 2.3l0 2.3l0 2.4l0 2.3l0 2.3l0 2.3l0 2.3l0 2.3l0 2.4l0 2.3l.8 2.3l.4 2.3zM283.6 1485l.5-2.3l1-2.3l.1-2.4l0-2.3l0-2.3l0-2.3l0-2.4l0-2.3l0-2.3l0-2.3l0-2.4l0-2.3l0-2.3l-.3-2.3l-.3-2.4l-.5-2.3l-.6-2.3l-.7-2.3l-.7-2.4l-.7-2.3l-.6-2.3l-.3-2.3l0-2.4l.3-2.3l.6-2.3l.7-2.3l.7-2.4l.7-2.3l.7-2.3l.7-2.3l.6-2.4l.6 2.4l.7 2.3l.7 2.3l.7 2.3l.7 2.4l.7 2.3l.6 2.3l.3 2.3l0 2.4l-.3 2.3l-.6 2.3l-.7 2.3l-.7 2.4l-.7 2.3l-.6 2.3l-.5 2.3l-.3 2.4l-.3 2.3l0 2.3l0 2.3l0 2.4l0 2.3l0 2.3l0 2.3l0 2.4l0 2.3l0 2.3l0 2.3l.1 2.4l1 2.3l.5 2.3zM313.1 1485l1.3-2.4l2.5-2.4l.9-2.3l-.2-2.4l-.3-2.4l-.3-2.4l-.2-2.3l-.3-2.4l-.1-2.4l-.1-2.4l0-2.3l.1-2.4l.2-2.4l.2-2.4l.3-2.3l.7-2.4l.7-2.4l.7 2.4l.7 2.4l.3 2.3l.2 2.4l.2 2.4l.1 2.4l0 2.3l-.1 2.4l-.1 2.4l-.3 2.4l-.2 2.3l-.3 2.4l-.3 2.4l-.2 2.4l.9 2.3l2.5 2.4l1.3 2.4zM346.1 1485l1.3-2.4l2.4-2.3l.9-2.4l-.4-2.3l-.4-2.4l-.5-2.3l-.5-2.4l-.4-2.3l-.4-2.4l-.2-2.3l0-2.4l.2-2.3l.3-2.4l.5-2.3l.5-2.4l.5-2.3l.4-2.4l.4-2.3l.3-2.4l.2-2.3l0-2.4l0-2.3l0-2.4l0-2.3l0-2.4l0-2.3l0-2.4l0-2.3l0-2.4l0-2.3l0-2.4l0-2.3l0-2.4l.3-2.3l.3 2.3l0 2.4l0 2.3l0 2.4l0 2.3l0 2.4l0 2.3l0 2.4l0 2.3l0 2.4l0 2.3l0 2.4l0 2.3l0 2.4l.2 2.3l.3 2.4l.4 2.3l.4 2.4l.5 2.3l.5 2.4l.5 2.3l.3 2.4l.2 2.3l0 2.4l-.2 2.3l-.4 2.4l-.4 2.3l-.5 2.4l-.5 2.3l-.4 2.4l-.4 2.3l.9 2.4l2.4 2.3l1.3 2.4zM382.8 1485l.5-2.3l.8-2.3l.1-2.3l0-2.3l0-2.3l0-2.3l0-2.3l0-2.3l0-2.3l0-2.3l-.1-2.3l-.2-2.3l-.4-2.3l-.6-2.3l-.6-2.3l-.7-2.3l-.7-2.3l-.6-2.3l-.3-2.3l-.1-2.3l.3-2.3l.5-2.3l.7-2.3l.8-2.3l.6-2.3l.6-2.3l.4-2.3l.3-2.3l.1-2.3l0-2.3l0-2.3l0-2.3l0-2.3l0-2.3l0-2.3l.3-2.3l.3 2.3l0 2.3l0 2.3l0 2.3l0 2.3l0 2.3l0 2.3l.1 2.3l.3 2.3l.4 2.3l.6 2.3l.6 2.3l.8 2.3l.7 2.3l.5 2.3l.3 2.3l-.1 2.3l-.3 2.3l-.6 2.3l-.7 2.3l-.7 2.3l-.6 2.3l-.6 2.3l-.4 2.3l-.2 2.3l-.1 2.3l0 2.3l0 2.3l0 2.3l0 2.3l0 2.3l0 2.3l0 2.3l.1 2.3l.8 2.3l.5 2.3zM412.2 1485l1.3-2.4l2.6-2.4l.9-2.3l-.3-2.4l-.4-2.4l-.3-2.4l-.4-2.4l-.2-2.4l-.1-2.3l.1-2.4l.2-2.4l.3-2.4l.3-2.4l.4-2.4l.3-2.3l.2-2.4l.1-2.4l0-2.4l0-2.4l.3-2.4l.3 2.4l0 2.4l0 2.4l.1 2.4l.2 2.4l.3 2.3l.4 2.4l.3 2.4l.3 2.4l.2 2.4l.1 2.4l-.1 2.3l-.2 2.4l-.4 2.4l-.3 2.4l-.4 2.4l-.3 2.4l.9 2.3l2.6 2.4l1.3 2.4zM445 1485l1.2-2.4l2.4-2.4l.7-2.3l-.5-2.4l-.5-2.4l-.4-2.4l-.3-2.3l-.1-2.4l.1-2.4l.3-2.4l.5-2.4l.5-2.3l.4-2.4l.4-2.4l.3-2.4l.2-2.3l0-2.4l0-2.4l0-2.4l0-2.4l0-2.3l.3-2.4l.3 2.4l0 2.3l0 2.4l0 2.4l0 2.4l0 2.4l.2 2.3l.3 2.4l.4 2.4l.4 2.4l.5 2.3l.5 2.4l.3 2.4l.1 2.4l-.1 2.4l-.3 2.3l-.4 2.4l-.5 2.4l-.5 2.4l.7 2.3l2.4 2.4l1.2 2.4zM544.9 1485l1.2-2.4l2.4-2.3l.7-2.4l-.4-2.4l-.5-2.4l-.5-2.3l-.4-2.4l-.4-2.4l-.3-2.4l-.2-2.3l0-2.4l.2-2.4l.3-2.4l.4-2.3l.5-2.4l.5-2.4l.5-2.3l.4-2.4l.4-2.4l.4-2.4l.4-2.3l.4 2.3l.4 2.4l.4 2.4l.4 2.4l.5 2.3l.5 2.4l.5 2.4l.4 2.3l.3 2.4l.2 2.4l0 2.4l-.2 2.3l-.3 2.4l-.4 2.4l-.4 2.4l-.5 2.3l-.5 2.4l-.4 2.4l.7 2.4l2.4 2.3l1.2 2.4zM578.3 1485l1.3-2.3l2.6-2.3l1-2.3l0-2.3l-.2-2.3l-.2-2.3l-.2-2.3l-.2-2.3l-.2-2.4l-.2-2.3l-.1-2.3l0-2.3l.1-2.3l.2-2.3l.2-2.3l.3-2.3l.2-2.3l.2-2.3l.1-2.3l0-2.3l0-2.3l0-2.3l.3-2.3l.3 2.3l0 2.3l0 2.3l0 2.3l.1 2.3l.2 2.3l.2 2.3l.3 2.3l.2 2.3l.2 2.3l.1 2.3l0 2.3l-.1 2.3l-.2 2.3l-.2 2.4l-.2 2.3l-.2 2.3l-.2 2.3l-.2 2.3l0 2.3l1 2.3l2.6 2.3l1.3 2.3zM710.3 1485l1.3-2.3l2.7-2.4l.9-2.3l0-2.4l-.1-2.3l-.1-2.4l-.2-2.3l-.2-2.3l-.3-2.4l-.2-2.3l-.1-2.4l-.1-2.3l0-2.4l.1-2.3l.2-2.3l.2-2.4l.2-2.3l.2-2.4l.2-2.3l.2-2.4l0-2.3l0-2.3l0-2.4l.3-2.3l.3 2.3l0 2.4l0 2.3l0 2.3l.2 2.4l.2 2.3l.2 2.4l.2 2.3l.2 2.4l.2 2.3l.1 2.3l0 2.4l-.1 2.3l-.1 2.4l-.2 2.3l-.3 2.4l-.2 2.3l-.2 2.3l-.1 2.4l-.1 2.3l0 2.4l.9 2.3l2.7 2.4l1.3 2.3z" fill="#8a42b9" stroke="#111" stroke-width="0.4" stroke-linejoin="round"/><path d="M389.3 908.4l.8-2.4l1.8-2.3l1.8-2.4l.5-2.3l0-2.4l0-2.3l-.1-2.4l-.2-2.3l-.1-2.4l-.1-2.3l-.2-2.4l-.1-2.3l-.1-2.4l0-2.3l0-2.4l.1-2.3l.1-2.4l.1-2.3l.1-2.4l.2-2.3l.1-2.4l.1-2.3l.1-2.4l0-2.3l.3-2.4l.3 2.4l0 2.3l.1 2.4l.1 2.3l.1 2.4l.2 2.3l.1 2.4l.1 2.3l.1 2.4l.1 2.3l0 2.4l0 2.3l-.1 2.4l-.1 2.3l-.2 2.4l-.1 2.3l-.1 2.4l-.2 2.3l-.1 2.4l0 2.3l0 2.4l.5 2.3l1.8 2.4l1.8 2.3l.8 2.4zM490.4 908.4l.4-2.3l1.2-2.4l1.1-2.3l.1-2.3l0-2.3l0-2.4l0-2.3l0-2.3l-.1-2.3l-.2-2.4l-.3-2.3l-.4-2.3l-.5-2.4l-.5-2.3l-.6-2.3l-.6-2.3l-.6-2.4l-.4-2.3l-.4-2.3l-.1-2.3l.1-2.4l.2-2.3l.4-2.3l.5-2.4l.6-2.3l.6-2.3l.6-2.3l.5-2.4l.4-2.3l.4-2.3l.4-2.4l.3-2.3l.3 2.3l.4 2.4l.4 2.3l.4 2.3l.5 2.4l.6 2.3l.6 2.3l.6 2.3l.5 2.4l.4 2.3l.2 2.3l.1 2.4l-.1 2.3l-.4 2.3l-.4 2.3l-.6 2.4l-.6 2.3l-.6 2.3l-.5 2.3l-.5 2.4l-.4 2.3l-.3 2.3l-.2 2.4l-.1 2.3l0 2.3l0 2.3l0 2.4l0 2.3l.1 2.3l1.1 2.3l1.2 2.4l.4 2.3zM521.8 908.4l.8-2.3l2.1-2.4l2-2.3l.5-2.3l0-2.4l0-2.3l0-2.3l0-2.3l0-2.4l0-2.3l0-2.3l0-2.4l0-2.3l-.1-2.3l-.1-2.4l-.2-2.3l-.2-2.3l-.2-2.4l-.2-2.3l-.3-2.3l-.3-2.3l-.3-2.4l-.3-2.3l-.3-2.3l-.3-2.4l-.3-2.3l-.2-2.3l-.2-2.4l-.1-2.3l-.1-2.3l0-2.4l.1-2.3l.2-2.3l.2-2.3l.3-2.4l1.3-2.3l1.9-2.3l1.9 2.3l1.3 2.3l.3 2.4l.2 2.3l.2 2.3l.1 2.3l0 2.4l-.1 2.3l-.1 2.3l-.2 2.4l-.2 2.3l-.3 2.3l-.3 2.4l-.3 2.3l-.3 2.3l-.3 2.4l-.3 2.3l-.3 2.3l-.2 2.3l-.2 2.4l-.2 2.3l-.2 2.3l-.1 2.4l-.1 2.3l0 2.3l0 2.4l0 2.3l0 2.3l0 2.4l0 2.3l0 2.3l0 2.3l0 2.4l.5 2.3l2 2.3l2.1 2.4l.8 2.3zM555.2 908.4l.7-2.4l1.9-2.3l1.7-2.4l.5-2.4l-.2-2.4l-.2-2.3l-.2-2.4l-.3-2.4l-.2-2.4l-.3-2.3l-.2-2.4l-.2-2.4l-.1-2.4l0-2.3l0-2.4l.1-2.4l.2-2.4l.2-2.3l.2-2.4l.3-2.4l.2-2.3l.3-2.4l.2-2.4l.2-2.4l.1-2.3l.1-2.4l.3-2.4l.3 2.4l.1 2.4l.1 2.3l.2 2.4l.2 2.4l.3 2.4l.2 2.3l.3 2.4l.2 2.4l.2 2.3l.2 2.4l.1 2.4l0 2.4l0 2.3l-.1 2.4l-.2 2.4l-.2 2.4l-.3 2.3l-.2 2.4l-.3 2.4l-.2 2.4l-.2 2.3l-.2 2.4l.5 2.4l1.7 2.4l1.9 2.3l.7 2.4zM588.3 908.4l.8-2.3l1.8-2.3l1.9-2.3l.4-2.4l0-2.3l0-2.3l0-2.3l0-2.3l0-2.3l0-2.4l-.1-2.3l-.2-2.3l-.3-2.3l-.3-2.3l-.3-2.3l-.4-2.4l-.4-2.3l-.3-2.3l-.3-2.3l-.2-2.3l-.1-2.3l0-2.4l.2-2.3l.3-2.3l.3-2.3l.4-2.3l.4-2.3l.3-2.4l.3-2.3l.3-2.3l.2-2.3l.2-2.3l.3-2.3l.3 2.3l.2 2.3l.2 2.3l.3 2.3l.3 2.3l.3 2.4l.4 2.3l.4 2.3l.3 2.3l.3 2.3l.2 2.3l0 2.4l-.1 2.3l-.2 2.3l-.3 2.3l-.3 2.3l-.4 2.3l-.4 2.4l-.3 2.3l-.3 2.3l-.3 2.3l-.2 2.3l-.1 2.3l0 2.4l0 2.3l0 2.3l0 2.3l0 2.3l0 2.3l.4 2.4l1.9 2.3l1.8 2.3l.8 2.3zM620.7 908.4l.6-2.3l1.8-2.4l1.7-2.3l.6-2.3l-.1-2.4l-.1-2.3l-.1-2.3l-.2-2.4l-.1-2.3l-.1-2.3l0-2.4l-.1-2.3l-.1-2.3l0-2.4l0-2.3l0-2.3l0-2.4l.1-2.3l.1-2.3l.7-2.4l1.1-2.3l1.1 2.3l.7 2.4l.1 2.3l.1 2.3l0 2.4l0 2.3l0 2.3l0 2.4l-.1 2.3l-.1 2.3l0 2.4l-.1 2.3l-.1 2.3l-.2 2.4l-.1 2.3l-.1 2.3l-.1 2.4l.6 2.3l1.7 2.3l1.8 2.4l.6 2.3zM158.3 1023.4l.4-2l1.1-2l1.4-2l1.3-2l.7-2l0-2l.6 0l0 2l.7 2l1.3 2l1.4 2l1.1 2l.4 2zM356.6 1023.4l.4-2.4l1.1-2.3l1.3-2.4l.9-2.4l.1-2.3l-.2-2.4l-.1-2.4l-.2-2.4l0-2.3l0-2.4l.1-2.4l.2-2.3l.2-2.4l.2-2.4l.2-2.3l.2-2.4l.1-2.4l.1-2.4l0-2.3l0-2.4l0-2.4l0-2.3l0-2.4l0-2.4l0-2.3l0-2.4l0-2.4l0-2.4l0-2.3l.3-2.4l.3 2.4l0 2.3l0 2.4l0 2.4l0 2.4l0 2.3l0 2.4l0 2.4l0 2.3l0 2.4l0 2.4l0 2.3l.1 2.4l.1 2.4l.2 2.4l.2 2.3l.2 2.4l.2 2.4l.2 2.3l.1 2.4l0 2.4l0 2.3l-.2 2.4l-.1 2.4l-.2 2.4l.1 2.3l.9 2.4l1.3 2.4l1.1 2.3l.4 2.4zM422.8 1023.4l.4-2.3l1.1-2.4l1.4-2.3l.9-2.3l.1-2.4l-.2-2.3l-.3-2.4l-.2-2.3l-.1-2.3l0-2.4l.2-2.3l.2-2.3l.3-2.4l.2-2.3l.3-2.3l.1-2.4l0-2.3l0-2.4l0-2.3l0-2.3l0-2.4l0-2.3l.3-2.3l.3 2.3l0 2.3l0 2.4l0 2.3l0 2.3l0 2.4l0 2.3l.1 2.4l.3 2.3l.2 2.3l.3 2.4l.2 2.3l.2 2.3l0 2.4l-.1 2.3l-.2 2.3l-.3 2.4l-.2 2.3l.1 2.4l.9 2.3l1.4 2.3l1.1 2.4l.4 2.3zM786.2 1023.4l.5-2.3l1.3-2.4l1.5-2.3l1.1-2.4l.2-2.3l-.2-2.4l-.3-2.3l-.2-2.3l-.1-2.4l-.1-2.3l0-2.4l.1-2.3l.2-2.4l.2-2.3l.3-2.3l.2-2.4l.2-2.3l.1-2.4l0-2.3l0-2.4l0-2.3l0-2.3l0-2.4l0-2.3l.3-2.4l.3 2.4l0 2.3l0 2.4l0 2.3l0 2.3l0 2.4l0 2.3l.1 2.4l.2 2.3l.2 2.4l.3 2.3l.2 2.3l.2 2.4l.1 2.3l0 2.4l-.1 2.3l-.1 2.4l-.2 2.3l-.3 2.3l-.2 2.4l.2 2.3l1.1 2.4l1.5 2.3l1.3 2.4l.5 2.3zM852.3 1023.4l.5-2.4l1.4-2.3l1.6-2.4l1.2-2.3l.2-2.4l-.2-2.4l-.3-2.3l-.3-2.4l-.2-2.4l-.2-2.3l-.1-2.4l0-2.3l.2-2.4l.2-2.4l.3-2.3l.3-2.4l.2-2.4l.1-2.3l0-2.4l0-2.3l0-2.4l0-2.4l0-2.3l0-2.4l.3-2.3l.3 2.3l0 2.4l0 2.3l0 2.4l0 2.4l0 2.3l0 2.4l.1 2.3l.2 2.4l.3 2.4l.3 2.3l.2 2.4l.2 2.4l0 2.3l-.1 2.4l-.2 2.3l-.2 2.4l-.3 2.4l-.3 2.3l-.2 2.4l.2 2.4l1.2 2.3l1.6 2.4l1.4 2.3l.5 2.4zM92.3 1138.4l.6-2.4l1.5-2.3l1.8-2.4l1-2.4l0-2.3l-.1-2.4l-.1-2.4l-.2-2.3l-.2-2.4l-.2-2.4l-.2-2.3l-.2-2.4l-.1-2.4l0-2.3l0-2.4l.1-2.3l.2-2.4l.1-2.4l.2-2.3l.2-2.4l.2-2.4l.2-2.3l.1-2.4l0-2.4l0-2.3l0-2.4l0-2.4l.3-2.3l.3 2.3l0 2.4l0 2.4l0 2.3l0 2.4l.1 2.4l.2 2.3l.2 2.4l.2 2.4l.2 2.3l.1 2.4l.2 2.4l.1 2.3l0 2.4l0 2.3l-.1 2.4l-.2 2.4l-.2 2.3l-.2 2.4l-.2 2.4l-.2 2.3l-.1 2.4l-.1 2.4l0 2.3l1 2.4l1.8 2.4l1.5 2.3l.6 2.4zM125.1 1138.4l.6-2.4l1.4-2.3l1.7-2.4l.9-2.3l0-2.4l-.2-2.4l-.2-2.3l-.3-2.4l-.2-2.3l-.2-2.4l-.2-2.3l-.2-2.4l-.2-2.4l-.1-2.3l0-2.4l0-2.3l.1-2.4l.1-2.4l.2-2.3l.2-2.4l.2-2.3l.3-2.4l.2-2.3l.3-2.4l.5-2.4l.5-2.3l.5 2.3l.5 2.4l.3 2.4l.2 2.3l.3 2.4l.2 2.3l.2 2.4l.2 2.3l.1 2.4l.1 2.4l0 2.3l0 2.4l-.1 2.3l-.2 2.4l-.2 2.4l-.2 2.3l-.2 2.4l-.2 2.3l-.3 2.4l-.2 2.3l-.2 2.4l0 2.4l.9 2.3l1.7 2.4l1.4 2.3l.6 2.4zM158.3 1138.4l.5-2.2l1.4-2.3l1.6-2.2l1.2-2.2l.2-2.3l.6 0l.2 2.3l1.2 2.2l1.6 2.2l1.4 2.3l.5 2.2zM290.3 1138.4l.6-2.4l1.6-2.4l1.7-2.4l.9-2.4l0-2.4l-.2-2.4l-.2-2.4l-.2-2.4l-.2-2.4l-.2-2.3l-.1-2.4l-.1-2.4l0-2.4l.1-2.4l.2-2.4l.2-2.4l.3-2.4l.2-2.4l.2-2.4l.1-2.4l0-2.4l0-2.4l.3-2.4l.3 2.4l0 2.4l0 2.4l.1 2.4l.2 2.4l.2 2.4l.3 2.4l.2 2.4l.2 2.4l.1 2.4l0 2.4l-.1 2.4l-.1 2.4l-.2 2.3l-.2 2.4l-.2 2.4l-.2 2.4l-.2 2.4l0 2.4l.9 2.4l1.7 2.4l1.6 2.4l.6 2.4zM323.3 1138.4l.5-2.2l1.5-2.3l1.7-2.2l1.2-2.2l0-2.3l.6 0l0 2.3l1.2 2.2l1.7 2.2l1.5 2.3l.5 2.2zM191.3 1253.8l.6-2.4l1.5-2.3l1.7-2.4l1.1-2.4l0-2.4l0-2.3l-.1-2.4l-.2-2.4l-.1-2.4l-.3-2.3l-.2-2.4l-.2-2.4l-.1-2.3l-.1-2.4l0-2.4l.1-2.4l.1-2.3l.2-2.4l.2-2.4l.3-2.3l.2-2.4l.1-2.4l.1-2.4l0-2.3l.3-2.4l.3 2.4l0 2.3l.1 2.4l.1 2.4l.2 2.4l.3 2.3l.2 2.4l.2 2.4l.1 2.3l.1 2.4l0 2.4l-.1 2.4l-.1 2.3l-.2 2.4l-.2 2.4l-.3 2.3l-.1 2.4l-.2 2.4l-.1 2.4l0 2.3l0 2.4l1.1 2.4l1.7 2.4l1.5 2.3l.6 2.4zM257.2 1253.8l.6-2.4l1.4-2.3l1.7-2.4l1-2.3l0-2.4l-.2-2.4l-.3-2.3l-.4-2.4l-.4-2.4l-.4-2.3l-.5-2.4l-.4-2.3l-.4-2.4l-.2-2.4l-.2-2.3l0-2.4l.2-2.3l.2-2.4l.4-2.4l.4-2.3l.4-2.4l.5-2.4l.4-2.3l.4-2.4l.3-2.3l.2-2.4l.2-2.4l.1-2.3l0-2.4l0-2.3l0-2.4l.3-2.4l.3 2.4l0 2.4l0 2.3l0 2.4l.1 2.3l.2 2.4l.2 2.4l.3 2.3l.4 2.4l.4 2.3l.5 2.4l.4 2.4l.4 2.3l.4 2.4l.2 2.4l.2 2.3l0 2.4l-.2 2.3l-.2 2.4l-.4 2.4l-.4 2.3l-.5 2.4l-.4 2.3l-.4 2.4l-.4 2.4l-.3 2.3l-.2 2.4l0 2.4l1 2.3l1.7 2.4l1.4 2.3l.6 2.4zM290.3 1253.8l.5-2.3l1.5-2.4l1.7-2.3l1.1-2.4l.1-2.3l-.1-2.4l-.1-2.3l-.1-2.3l-.2-2.4l-.2-2.3l-.1-2.4l-.2-2.3l-.1-2.4l-.1-2.3l-.1-2.4l0-2.3l0-2.3l.1-2.4l.2-2.3l.1-2.4l.2-2.3l.2-2.4l.1-2.3l.2-2.3l.1-2.4l.1-2.3l0-2.4l0-2.3l0-2.4l.3-2.3l.3 2.3l0 2.4l0 2.3l0 2.4l.1 2.3l.1 2.4l.2 2.3l.1 2.3l.2 2.4l.2 2.3l.1 2.4l.2 2.3l.1 2.4l0 2.3l0 2.3l-.1 2.4l-.1 2.3l-.1 2.4l-.2 2.3l-.1 2.4l-.2 2.3l-.2 2.4l-.1 2.3l-.1 2.3l-.1 2.4l.1 2.3l1.1 2.4l1.7 2.3l1.5 2.4l.5 2.3zM356 1253.8l.5-2.4l1.4-2.3l1.6-2.4l1-2.3l0-2.4l-.1-2.4l-.2-2.3l-.1-2.4l-.1-2.4l-.1-2.3l0-2.4l0-2.3l.1-2.4l.2-2.4l.1-2.3l.2-2.4l.2-2.3l.1-2.4l.2-2.4l.1-2.3l.1-2.4l0-2.4l0-2.3l0-2.4l0-2.3l0-2.4l0-2.4l0-2.3l0-2.4l0-2.3l0-2.4l.3-2.4l.3 2.4l0 2.4l0 2.3l0 2.4l0 2.3l0 2.4l0 2.4l0 2.3l0 2.4l0 2.3l0 2.4l.1 2.4l.1 2.3l.2 2.4l.1 2.4l.2 2.3l.2 2.4l.1 2.3l.2 2.4l.1 2.4l0 2.3l0 2.4l-.1 2.3l-.1 2.4l-.1 2.4l-.2 2.3l-.1 2.4l0 2.4l1 2.3l1.6 2.4l1.4 2.3l.5 2.4zM422.1 1253.8l.5-2.3l1.4-2.3l1.5-2.3l1.1-2.3l.1-2.3l-.2-2.3l-.2-2.4l-.2-2.3l-.1-2.3l-.1-2.3l0-2.3l0-2.3l.1-2.3l.2-2.3l.1-2.3l.2-2.3l.2-2.3l.2-2.3l.1-2.3l.2-2.4l0-2.3l0-2.3l0-2.3l0-2.3l0-2.3l.3-2.3l.3 2.3l0 2.3l0 2.3l0 2.3l0 2.3l0 2.3l.2 2.4l.1 2.3l.2 2.3l.2 2.3l.2 2.3l.1 2.3l.2 2.3l.1 2.3l0 2.3l0 2.3l-.1 2.3l-.1 2.3l-.2 2.3l-.2 2.4l-.2 2.3l.1 2.3l1.1 2.3l1.5 2.3l1.4 2.3l.5 2.3zM455.1 1253.8l.4-2.4l1.4-2.3l1.5-2.4l1-2.3l0-2.4l-.2-2.3l-.2-2.4l-.1-2.3l0-2.4l.1-2.4l.1-2.3l.2-2.4l.2-2.3l.2-2.4l.2-2.3l.2-2.4l.1-2.3l0-2.4l0-2.4l0-2.3l0-2.4l0-2.3l0-2.4l0-2.3l0-2.4l0-2.3l0-2.4l.3-2.4l.3 2.4l0 2.4l0 2.3l0 2.4l0 2.3l0 2.4l0 2.3l0 2.4l0 2.3l0 2.4l0 2.4l.1 2.3l.2 2.4l.2 2.3l.2 2.4l.2 2.3l.2 2.4l.1 2.3l.1 2.4l0 2.4l-.1 2.3l-.2 2.4l-.2 2.3l0 2.4l1 2.3l1.5 2.4l1.4 2.3l.4 2.4zM654.1 1253.8l.5-2.4l1.4-2.3l1.6-2.4l.9-2.4l-.1-2.4l-.3-2.3l-.3-2.4l-.4-2.4l-.3-2.4l-.3-2.3l-.2-2.4l-.1-2.4l0-2.4l.1-2.3l.2-2.4l.3-2.4l.3-2.4l.3-2.3l.4-2.4l.3-2.4l.3-2.4l.2-2.3l.2-2.4l.1-2.4l0-2.4l0-2.3l.3-2.4l.3 2.4l0 2.3l0 2.4l.1 2.4l.2 2.4l.2 2.3l.3 2.4l.3 2.4l.4 2.4l.3 2.3l.3 2.4l.3 2.4l.2 2.4l.1 2.3l0 2.4l-.1 2.4l-.2 2.4l-.3 2.3l-.3 2.4l-.4 2.4l-.3 2.4l-.3 2.3l-.1 2.4l.9 2.4l1.6 2.4l1.4 2.3l.5 2.4zM356.2 1369l.9-2.4l2-2.4l1.7-2.3l.2-2.4l-.2-2.4l-.3-2.4l-.4-2.4l-.4-2.4l-.4-2.3l-.4-2.4l-.4-2.4l-.3-2.4l-.1-2.4l0-2.4l.2-2.3l.3-2.4l.4-2.4l.4-2.4l.4-2.4l.4-2.4l.4-2.3l.3-2.4l.2-2.4l.1-2.4l0-2.4l0-2.3l.3-2.4l.3 2.4l0 2.3l0 2.4l.1 2.4l.2 2.4l.3 2.4l.4 2.3l.4 2.4l.4 2.4l.4 2.4l.4 2.4l.3 2.4l.2 2.3l0 2.4l-.1 2.4l-.3 2.4l-.4 2.4l-.4 2.4l-.4 2.3l-.4 2.4l-.4 2.4l-.3 2.4l-.2 2.4l.2 2.4l1.7 2.3l2 2.4l.9 2.4zM422.2 1369l.7-2.3l1.9-2.3l1.7-2.3l.3-2.4l-.2-2.3l-.3-2.3l-.4-2.3l-.4-2.3l-.5-2.3l-.5-2.3l-.5-2.4l-.5-2.3l-.4-2.3l-.3-2.3l-.2-2.3l-.1-2.3l0-2.4l.2-2.3l.3-2.3l.4-2.3l.5-2.3l.5-2.3l.5-2.3l.4-2.4l.5-2.3l.4-2.3l.3-2.3l.5-2.3l.5-2.3l.5 2.3l.5 2.3l.3 2.3l.4 2.3l.5 2.3l.4 2.4l.5 2.3l.5 2.3l.5 2.3l.4 2.3l.3 2.3l.2 2.3l0 2.4l-.1 2.3l-.2 2.3l-.3 2.3l-.4 2.3l-.5 2.3l-.5 2.4l-.5 2.3l-.5 2.3l-.4 2.3l-.4 2.3l-.3 2.3l-.2 2.3l.3 2.4l1.7 2.3l1.9 2.3l.7 2.3zM455.2 1369l.8-2.4l2-2.4l1.6-2.4l.3-2.4l-.2-2.4l-.2-2.3l-.2-2.4l-.2-2.4l-.1-2.4l-.1-2.4l0-2.4l.1-2.4l.2-2.4l.2-2.4l.2-2.4l.2-2.3l.2-2.4l.1-2.4l.1-2.4l0-2.4l0-2.4l0-2.4l.3-2.4l.3 2.4l0 2.4l0 2.4l0 2.4l.1 2.4l.1 2.4l.2 2.4l.2 2.3l.2 2.4l.2 2.4l.2 2.4l.1 2.4l0 2.4l-.1 2.4l-.1 2.4l-.2 2.4l-.2 2.4l-.2 2.3l-.2 2.4l.3 2.4l1.6 2.4l2 2.4l.8 2.4zM789.2 1369l.4-2.4l.9-2.3l.7-2.4l0-2.3l0-2.4l0-2.4l0-2.3l0-2.4l0-2.4l0-2.3l-.2-2.4l-.2-2.3l-.4-2.4l-.4-2.4l-.5-2.3l-.6-2.4l-.7-2.4l-.6-2.3l-.5-2.4l-.4-2.3l-.2-2.4l0-2.4l.3-2.3l.4-2.4l.6-2.4l.6-2.3l.6-2.4l.7-2.3l.9-2.4l.9-2.4l.9 2.4l.9 2.4l.7 2.3l.6 2.4l.6 2.3l.6 2.4l.4 2.4l.3 2.3l0 2.4l-.2 2.4l-.4 2.3l-.5 2.4l-.6 2.3l-.7 2.4l-.6 2.4l-.5 2.3l-.4 2.4l-.4 2.4l-.2 2.3l-.2 2.4l0 2.3l0 2.4l0 2.4l0 2.3l0 2.4l0 2.4l0 2.3l.7 2.4l.9 2.3l.4 2.4zM818.8 1369l.9-2.3l2.2-2.3l2-2.4l.3-2.3l0-2.3l0-2.3l0-2.4l0-2.3l0-2.3l0-2.3l0-2.4l0-2.3l-.1-2.3l-.1-2.3l-.1-2.4l-.1-2.3l-.2-2.3l-.1-2.3l-.2-2.4l-.1-2.3l-.1-2.3l-.1-2.3l-.1-2.4l0-2.3l0-2.3l.1-2.3l0-2.4l.2-2.3l.1-2.3l.1-2.3l.2-2.3l.1-2.4l.2-2.3l.3-2.3l.3-2.3l.3 2.3l.3 2.3l.2 2.3l.1 2.4l.2 2.3l.1 2.3l.1 2.3l.2 2.3l0 2.4l.1 2.3l0 2.3l0 2.3l-.1 2.4l-.1 2.3l-.1 2.3l-.1 2.3l-.2 2.4l-.1 2.3l-.2 2.3l-.1 2.3l-.1 2.4l-.1 2.3l-.1 2.3l0 2.3l0 2.4l0 2.3l0 2.3l0 2.3l0 2.4l0 2.3l0 2.3l.3 2.3l2 2.4l2.2 2.3l.9 2.3zM855.2 1369l.4-2.3l.9-2.3l.7-2.4l0-2.3l0-2.3l0-2.3l0-2.3l0-2.4l0-2.3l-.1-2.3l-.2-2.3l-.4-2.3l-.4-2.4l-.5-2.3l-.6-2.3l-.7-2.3l-.7-2.3l-.6-2.4l-.5-2.3l-.3-2.3l-.1-2.3l.1-2.3l.4-2.4l.5-2.3l.6-2.3l.7-2.3l.6-2.3l.6-2.4l.5-2.3l.5-2.3l.5-2.3l.4-2.3l.4 2.3l.5 2.3l.5 2.3l.5 2.3l.6 2.4l.6 2.3l.7 2.3l.6 2.3l.5 2.3l.4 2.4l.1 2.3l-.1 2.3l-.3 2.3l-.5 2.3l-.6 2.4l-.7 2.3l-.7 2.3l-.6 2.3l-.5 2.3l-.4 2.4l-.4 2.3l-.2 2.3l-.1 2.3l0 2.3l0 2.4l0 2.3l0 2.3l0 2.3l0 2.3l.7 2.4l.9 2.3l.4 2.3zM92.2 1485l1.3-2.3l2.6-2.4l1.1-2.3l-.1-2.4l-.2-2.3l-.2-2.4l-.3-2.3l-.4-2.3l-.3-2.4l-.4-2.3l-.4-2.4l-.4-2.3l-.3-2.4l-.2-2.3l-.1-2.3l0-2.4l.1-2.3l.2-2.4l.3-2.3l.4-2.3l.4-2.4l.4-2.3l.3-2.4l.4-2.3l.3-2.4l.2-2.3l.2-2.3l.1-2.4l0-2.3l0-2.4l0-2.3l0-2.4l.3-2.3l.3 2.3l0 2.4l0 2.3l0 2.4l0 2.3l.1 2.4l.2 2.3l.2 2.3l.3 2.4l.4 2.3l.3 2.4l.4 2.3l.4 2.4l.4 2.3l.3 2.3l.2 2.4l.1 2.3l0 2.4l-.1 2.3l-.2 2.3l-.3 2.4l-.4 2.3l-.4 2.4l-.4 2.3l-.3 2.4l-.4 2.3l-.3 2.3l-.2 2.4l-.2 2.3l-.1 2.4l1.1 2.3l2.6 2.4l1.3 2.3zM158 1485l1.3-2.4l2.5-2.3l.9-2.4l-.2-2.3l-.3-2.4l-.4-2.4l-.3-2.3l-.4-2.4l-.3-2.4l-.2-2.3l-.2-2.4l-.1-2.3l0-2.4l.1-2.4l.3-2.3l.2-2.4l.4-2.3l.3-2.4l.4-2.4l.3-2.3l.3-2.4l.2-2.3l.2-2.4l.2-2.4l0-2.3l0-2.4l0-2.4l.3-2.3l.3 2.3l0 2.4l0 2.4l0 2.3l.2 2.4l.2 2.4l.2 2.3l.3 2.4l.3 2.3l.4 2.4l.3 2.4l.4 2.3l.2 2.4l.3 2.3l.1 2.4l0 2.4l-.1 2.3l-.2 2.4l-.2 2.3l-.3 2.4l-.4 2.4l-.3 2.3l-.4 2.4l-.3 2.4l-.2 2.3l.9 2.4l2.5 2.3l1.3 2.4zM194.2 1485l.6-2.3l1.2-2.4l.2-2.3l0-2.4l0-2.3l0-2.3l0-2.4l0-2.3l0-2.3l0-2.4l0-2.3l0-2.4l-.1-2.3l-.2-2.3l-.3-2.4l-.5-2.3l-.5-2.4l-.7-2.3l-.7-2.3l-.6-2.4l-.6-2.3l-.4-2.4l-.1-2.3l.1-2.3l.4-2.4l.6-2.3l.6-2.3l.7-2.4l.8-2.3l.9-2.4l.9-2.3l.9 2.3l.9 2.4l.8 2.3l.7 2.4l.6 2.3l.6 2.3l.4 2.4l.1 2.3l-.1 2.3l-.4 2.4l-.6 2.3l-.6 2.4l-.7 2.3l-.7 2.3l-.5 2.4l-.5 2.3l-.3 2.4l-.2 2.3l-.1 2.3l0 2.4l0 2.3l0 2.4l0 2.3l0 2.3l0 2.4l0 2.3l0 2.3l0 2.4l.2 2.3l1.2 2.4l.6 2.3zM227 1485l.7-2.3l1.2-2.4l.3-2.3l0-2.4l0-2.3l0-2.3l0-2.4l0-2.3l0-2.3l0-2.4l0-2.3l-.1-2.4l-.3-2.3l-.3-2.3l-.5-2.4l-.5-2.3l-.7-2.4l-.7-2.3l-.6-2.3l-.6-2.4l-.4-2.3l-.2-2.4l0-2.3l.3-2.3l.5-2.4l.6-2.3l.6-2.3l.7-2.4l.7-2.3l.9-2.4l.9-2.3l.9 2.3l.9 2.4l.7 2.3l.7 2.4l.6 2.3l.6 2.3l.5 2.4l.3 2.3l0 2.3l-.2 2.4l-.4 2.3l-.6 2.4l-.6 2.3l-.7 2.3l-.7 2.4l-.5 2.3l-.5 2.4l-.3 2.3l-.3 2.3l-.1 2.4l0 2.3l0 2.4l0 2.3l0 2.3l0 2.4l0 2.3l0 2.3l0 2.4l.3 2.3l1.2 2.4l.7 2.3zM261.5 1485l.2-2.3l.5-2.3l0-2.3l0-2.4l0-2.3l0-2.3l0-2.3l0-2.3l0-2.3l0-2.4l0-2.3l0-2.3l0-2.3l0-2.3l-.3-2.3l-.4-2.3l-.5-2.4l-.7-2.3l-.7-2.3l-.7-2.3l-.6-2.3l-.3-2.3l-.1-2.3l.3-2.4l.5-2.3l.7-2.3l.8-2.3l.7-2.3l.9-2.3l.7-2.4l.7 2.4l.9 2.3l.7 2.3l.8 2.3l.7 2.3l.5 2.3l.3 2.4l-.1 2.3l-.3 2.3l-.6 2.3l-.7 2.3l-.7 2.3l-.7 2.3l-.5 2.4l-.4 2.3l-.3 2.3l0 2.3l0 2.3l0 2.3l0 2.3l0 2.4l0 2.3l0 2.3l0 2.3l0 2.3l0 2.3l0 2.4l0 2.3l.5 2.3l.2 2.3zM293.4 1485l.6-2.3l1-2.4l.2-2.3l0-2.4l0-2.3l0-2.4l0-2.3l0-2.4l0-2.3l0-2.3l0-2.4l0-2.3l-.1-2.4l-.2-2.3l-.4-2.4l-.5-2.3l-.7-2.4l-.7-2.3l-.8-2.3l-.7-2.4l-.5-2.3l-.3-2.4l.1-2.3l.3-2.4l.6-2.3l.8-2.3l.8-2.4l.8-2.3l1-2.4l.8-2.3l.8 2.3l1 2.4l.8 2.3l.8 2.4l.8 2.3l.6 2.3l.3 2.4l.1 2.3l-.3 2.4l-.5 2.3l-.7 2.4l-.8 2.3l-.7 2.3l-.7 2.4l-.5 2.3l-.4 2.4l-.2 2.3l-.1 2.4l0 2.3l0 2.4l0 2.3l0 2.3l0 2.4l0 2.3l0 2.4l0 2.3l0 2.4l.2 2.3l1 2.4l.6 2.3zM323.2 1485l1.3-2.3l2.5-2.3l1.1-2.3l-.2-2.3l-.2-2.4l-.2-2.3l-.2-2.3l-.2-2.3l-.2-2.3l0-2.3l0-2.3l.2-2.3l.1-2.4l.2-2.3l.3-2.3l.2-2.3l.2-2.3l.1-2.3l0-2.3l0-2.3l0-2.3l.3-2.4l.3 2.4l0 2.3l0 2.3l0 2.3l.1 2.3l.2 2.3l.2 2.3l.3 2.3l.2 2.3l.1 2.4l.2 2.3l0 2.3l0 2.3l-.2 2.3l-.2 2.3l-.2 2.3l-.2 2.3l-.2 2.4l-.2 2.3l1.1 2.3l2.5 2.3l1.3 2.3zM356 1485l1.2-2.3l2.5-2.4l.9-2.3l-.3-2.3l-.4-2.4l-.4-2.3l-.4-2.3l-.4-2.4l-.3-2.3l-.2-2.3l-.1-2.4l0-2.3l.2-2.3l.3-2.4l.4-2.3l.4-2.3l.4-2.4l.4-2.3l.3-2.3l.3-2.3l.2-2.4l.2-2.3l0-2.3l0-2.4l0-2.3l0-2.3l0-2.4l0-2.3l0-2.3l0-2.4l0-2.3l0-2.3l0-2.4l0-2.3l0-2.3l0-2.4l0-2.3l.3-2.3l.3 2.3l0 2.3l0 2.4l0 2.3l0 2.3l0 2.4l0 2.3l0 2.3l0 2.4l0 2.3l0 2.3l0 2.4l0 2.3l0 2.3l0 2.4l0 2.3l.2 2.3l.2 2.4l.3 2.3l.3 2.3l.4 2.3l.4 2.4l.4 2.3l.4 2.3l.3 2.4l.2 2.3l0 2.3l-.1 2.4l-.2 2.3l-.3 2.3l-.4 2.4l-.4 2.3l-.4 2.3l-.4 2.4l-.3 2.3l.9 2.3l2.5 2.4l1.2 2.3zM391.1 1485l.9-2.3l1.6-2.4l.6-2.3l0-2.4l-.1-2.3l-.2-2.4l-.2-2.3l-.3-2.3l-.3-2.4l-.3-2.3l-.4-2.4l-.5-2.3l-.5-2.4l-.5-2.3l-.5-2.4l-.4-2.3l-.4-2.3l-.3-2.4l-.3-2.3l-.1-2.4l0-2.3l.1-2.4l.3-2.3l.3-2.3l.4-2.4l.5-2.3l.5-2.4l.5-2.3l.5-2.4l1.2-2.3l1.3-2.4l1.3 2.4l1.2 2.3l.5 2.4l.5 2.3l.5 2.4l.5 2.3l.4 2.4l.3 2.3l.3 2.3l.1 2.4l0 2.3l-.1 2.4l-.3 2.3l-.3 2.4l-.4 2.3l-.4 2.3l-.5 2.4l-.5 2.3l-.5 2.4l-.5 2.3l-.4 2.4l-.3 2.3l-.3 2.4l-.3 2.3l-.2 2.3l-.2 2.4l-.1 2.3l0 2.4l.6 2.3l1.6 2.4l.9 2.3zM422.2 1485l1.3-2.3l2.5-2.4l1-2.3l-.3-2.3l-.3-2.4l-.4-2.3l-.3-2.3l-.3-2.4l-.1-2.3l0-2.3l.2-2.3l.3-2.4l.3-2.3l.4-2.3l.3-2.4l.2-2.3l.2-2.3l0-2.4l0-2.3l0-2.3l0-2.4l.3-2.3l.3 2.3l0 2.4l0 2.3l0 2.3l0 2.4l.2 2.3l.2 2.3l.3 2.4l.4 2.3l.3 2.3l.3 2.4l.2 2.3l0 2.3l-.1 2.3l-.3 2.4l-.3 2.3l-.4 2.3l-.3 2.4l-.3 2.3l1 2.3l2.5 2.4l1.3 2.3zM455.2 1485l1.4-2.4l2.6-2.4l.8-2.5l-.4-2.4l-.5-2.4l-.5-2.4l-.4-2.5l-.3-2.4l.1-2.4l.2-2.4l.5-2.5l.5-2.4l.5-2.4l.4-2.4l.1-2.5l.3-2.4l.3 2.4l.1 2.5l.4 2.4l.5 2.4l.5 2.4l.5 2.5l.2 2.4l.1 2.4l-.3 2.4l-.4 2.5l-.5 2.4l-.5 2.4l-.4 2.4l.8 2.5l2.6 2.4l1.4 2.4zM488.3 1485l1.4-2.4l2.7-2.4l.8-2.4l0-2.4l-.1-2.3l-.2-2.4l-.2-2.4l-.3-2.4l-.3-2.4l-.1-2.4l-.1-2.4l.1-2.4l.2-2.4l.2-2.4l.3-2.3l.3-2.4l.2-2.4l.3-2.4l.3 2.4l.2 2.4l.3 2.4l.3 2.3l.2 2.4l.2 2.4l.1 2.4l-.1 2.4l-.1 2.4l-.3 2.4l-.3 2.4l-.2 2.4l-.2 2.4l-.1 2.3l0 2.4l.8 2.4l2.7 2.4l1.4 2.4zM555.1 1485l1.3-2.4l2.5-2.4l.8-2.4l-.3-2.4l-.3-2.4l-.4-2.4l-.4-2.4l-.3-2.4l-.3-2.4l-.1-2.4l-.1-2.4l.1-2.4l.2-2.4l.3-2.4l.3-2.4l.4-2.4l.4-2.4l.6-2.4l.7-2.4l.7 2.4l.6 2.4l.4 2.4l.4 2.4l.3 2.4l.3 2.4l.2 2.4l.1 2.4l-.1 2.4l-.1 2.4l-.3 2.4l-.3 2.4l-.4 2.4l-.4 2.4l-.3 2.4l-.3 2.4l.8 2.4l2.5 2.4l1.3 2.4zM588.3 1485l1.3-2.3l2.7-2.4l.9-2.3l0-2.3l-.1-2.4l-.1-2.3l-.3-2.4l-.2-2.3l-.2-2.3l-.2-2.4l-.2-2.3l0-2.3l.1-2.4l.1-2.3l.2-2.4l.3-2.3l.2-2.3l.2-2.4l.2-2.3l0-2.3l0-2.4l0-2.3l.3-2.4l.3 2.4l0 2.3l0 2.4l0 2.3l.2 2.3l.2 2.4l.2 2.3l.3 2.3l.2 2.4l.1 2.3l.1 2.4l0 2.3l-.2 2.3l-.2 2.4l-.2 2.3l-.2 2.3l-.3 2.4l-.1 2.3l-.1 2.4l0 2.3l.9 2.3l2.7 2.4l1.3 2.3zM720.3 1485l1.3-2.3l2.6-2.3l1-2.3l0-2.3l0-2.3l-.1-2.3l-.2-2.3l-.2-2.3l-.2-2.3l-.2-2.3l-.2-2.3l-.1-2.3l-.1-2.3l0-2.3l.1-2.3l.2-2.3l.2-2.3l.2-2.3l.2-2.3l.2-2.3l.2-2.3l0-2.3l0-2.3l.3-2.3l.3 2.3l0 2.3l0 2.3l.2 2.3l.2 2.3l.2 2.3l.2 2.3l.2 2.3l.2 2.3l.1 2.3l0 2.3l-.1 2.3l-.1 2.3l-.2 2.3l-.2 2.3l-.2 2.3l-.2 2.3l-.2 2.3l-.1 2.3l0 2.3l0 2.3l1 2.3l2.6 2.3l1.3 2.3z" fill="#5fe87e" stroke="#111" stroke-width="0.4" stroke-linejoin="round"/><ellipse cx="341.5" cy="892.7" rx="2.3" ry="7.1" fill="#000" opacity="0.22"/><ellipse cx="351.5" cy="892.7" rx="2.3" ry="7.1" fill="#000" opacity="0.22"/><ellipse cx="361.5" cy="892.7" rx="2.3" ry="7.1" fill="#000" opacity="0.22"/><ellipse cx="407.5" cy="888.8" rx="2.3" ry="7.1" fill="#000" opacity="0.22"/><ellipse cx="417.5" cy="888.8" rx="2.3" ry="7.1" fill="#000" opacity="0.22"/><ellipse cx="427.5" cy="888.8" rx="2.3" ry="7.1" fill="#000" opacity="0.22"/><ellipse cx="473.5" cy="859.4" rx="2.3" ry="14.1" fill="#000" opacity="0.22"/><ellipse cx="483.5" cy="857.4" rx="2.3" ry="14.1" fill="#000" opacity="0.27"/><ellipse cx="493.5" cy="861.4" rx="2.3" ry="14.1" fill="#000" opacity="0.22"/><ellipse cx="573.5" cy="859.4" rx="2.3" ry="12.9" fill="#000" opacity="0.65"/><ellipse cx="583.5" cy="861.4" rx="2.3" ry="12.9" fill="#000" opacity="0.85"/><ellipse cx="593.5" cy="859.4" rx="2.3" ry="12.9" fill="#000" opacity="0.55"/><ellipse cx="341.5" cy="1001.7" rx="2.3" ry="10.1" fill="#000" opacity="0.37"/><ellipse cx="351.5" cy="1000.5" rx="2.3" ry="11.6" fill="#000" opacity="0.47"/><ellipse cx="361.5" cy="1001.7" rx="2.3" ry="11.6" fill="#000" opacity="0.42"/><ellipse cx="407.5" cy="999.3" rx="2.3" ry="10.1" fill="#000" opacity="0.22"/><ellipse cx="417.5" cy="1000.5" rx="2.3" ry="10.1" fill="#000" opacity="0.27"/><ellipse cx="427.5" cy="1001.7" rx="2.3" ry="8.7" fill="#000" opacity="0.25"/><ellipse cx="771.5" cy="1001.7" rx="2.3" ry="10.1" fill="#000" opacity="0.60"/><ellipse cx="781.5" cy="999.3" rx="2.3" ry="10.1" fill="#000" opacity="0.70"/><ellipse cx="791.5" cy="999.3" rx="2.3" ry="10.1" fill="#000" opacity="0.60"/><ellipse cx="837.5" cy="995.7" rx="2.3" ry="8.7" fill="#000" opacity="0.65"/><ellipse cx="847.5" cy="995.7" rx="2.3" ry="8.7" fill="#000" opacity="0.65"/><ellipse cx="857.5" cy="996.9" rx="2.3" ry="8.7" fill="#000" opacity="0.60"/><ellipse cx="77.5" cy="1105" rx="2.3" ry="12" fill="#000" opacity="0.37"/><ellipse cx="87.5" cy="1102.7" rx="2.3" ry="12" fill="#000" opacity="0.40"/><ellipse cx="97.5" cy="1105" rx="2.3" ry="12" fill="#000" opacity="0.37"/><ellipse cx="176.5" cy="1106.1" rx="2.3" ry="10.7" fill="#000" opacity="0.35"/><ellipse cx="186.5" cy="1106.1" rx="2.3" ry="10.7" fill="#000" opacity="0.35"/><ellipse cx="196.5" cy="1106.1" rx="2.3" ry="10.7" fill="#000" opacity="0.35"/><ellipse cx="209.5" cy="1105" rx="2.3" ry="10.7" fill="#000" opacity="0.30"/><ellipse cx="219.5" cy="1100.5" rx="2.3" ry="12" fill="#000" opacity="0.40"/><ellipse cx="275.5" cy="1108.3" rx="2.3" ry="10.7" fill="#000" opacity="0.35"/><ellipse cx="285.5" cy="1108.3" rx="2.3" ry="10.7" fill="#000" opacity="0.40"/><ellipse cx="295.5" cy="1109.4" rx="2.3" ry="10.7" fill="#000" opacity="0.35"/><ellipse cx="341.5" cy="1120.6" rx="2.3" ry="6.7" fill="#000" opacity="0.22"/><ellipse cx="351.5" cy="1120.6" rx="2.3" ry="6.7" fill="#000" opacity="0.22"/><ellipse cx="361.5" cy="1120.6" rx="2.3" ry="6.7" fill="#000" opacity="0.22"/><ellipse cx="573.5" cy="1103.8" rx="2.3" ry="12" fill="#000" opacity="0.50"/><ellipse cx="583.5" cy="1103.8" rx="2.3" ry="13.4" fill="#000" opacity="0.75"/><ellipse cx="593.5" cy="1100.5" rx="2.3" ry="13.4" fill="#000" opacity="0.30"/><ellipse cx="705.5" cy="1102.7" rx="2.3" ry="13.4" fill="#000" opacity="0.22"/><ellipse cx="715.5" cy="1102.7" rx="2.3" ry="13.4" fill="#000" opacity="0.22"/><ellipse cx="725.5" cy="1102.7" rx="2.3" ry="13.4" fill="#000" opacity="0.22"/><ellipse cx="176.5" cy="1217.2" rx="2.3" ry="13.7" fill="#000" opacity="0.45"/><ellipse cx="186.5" cy="1217.2" rx="2.3" ry="12.4" fill="#000" opacity="0.60"/><ellipse cx="196.5" cy="1219.5" rx="2.3" ry="11" fill="#000" opacity="0.35"/><ellipse cx="209.5" cy="1214.9" rx="2.3" ry="12.4" fill="#000" opacity="0.25"/><ellipse cx="219.5" cy="1210.3" rx="2.3" ry="13.7" fill="#000" opacity="0.35"/><ellipse cx="242.5" cy="1212.6" rx="2.3" ry="15.1" fill="#000" opacity="0.35"/><ellipse cx="252.5" cy="1208" rx="2.3" ry="15.1" fill="#000" opacity="0.35"/><ellipse cx="262.5" cy="1214.9" rx="2.3" ry="13.7" fill="#000" opacity="0.30"/><ellipse cx="275.5" cy="1217.2" rx="2.3" ry="15.1" fill="#000" opacity="0.35"/><ellipse cx="285.5" cy="1214.9" rx="2.3" ry="15.1" fill="#000" opacity="0.35"/><ellipse cx="295.5" cy="1217.2" rx="2.3" ry="13.7" fill="#000" opacity="0.35"/><ellipse cx="341.5" cy="1229.8" rx="2.3" ry="12.4" fill="#000" opacity="0.55"/><ellipse cx="351.5" cy="1229.8" rx="2.3" ry="12.4" fill="#000" opacity="0.60"/><ellipse cx="361.5" cy="1228.6" rx="2.3" ry="13.7" fill="#000" opacity="0.55"/><ellipse cx="407.5" cy="1228.6" rx="2.3" ry="12.4" fill="#000" opacity="0.35"/><ellipse cx="417.5" cy="1228.6" rx="2.3" ry="11" fill="#000" opacity="0.35"/><ellipse cx="427.5" cy="1228.6" rx="2.3" ry="12.4" fill="#000" opacity="0.35"/><ellipse cx="440.5" cy="1232" rx="2.3" ry="11" fill="#000" opacity="0.25"/><ellipse cx="450.5" cy="1233.2" rx="2.3" ry="11" fill="#000" opacity="0.25"/><ellipse cx="460.5" cy="1233.2" rx="2.3" ry="11" fill="#000" opacity="0.22"/><ellipse cx="573.5" cy="1214.9" rx="2.3" ry="13.7" fill="#000" opacity="0.40"/><ellipse cx="583.5" cy="1217.2" rx="2.3" ry="12.4" fill="#000" opacity="0.50"/><ellipse cx="593.5" cy="1214.9" rx="2.3" ry="12.4" fill="#000" opacity="0.27"/><ellipse cx="738.5" cy="1222.9" rx="2.3" ry="12.4" fill="#000" opacity="0.35"/><ellipse cx="748.5" cy="1224" rx="2.3" ry="11" fill="#000" opacity="0.25"/><ellipse cx="758.5" cy="1221.7" rx="2.3" ry="13.7" fill="#000" opacity="0.22"/><ellipse cx="341.5" cy="1335.3" rx="2.3" ry="13.5" fill="#000" opacity="0.55"/><ellipse cx="351.5" cy="1333.5" rx="2.3" ry="13.5" fill="#000" opacity="0.65"/><ellipse cx="361.5" cy="1335.3" rx="2.3" ry="13.5" fill="#000" opacity="0.50"/><ellipse cx="407.5" cy="1331.6" rx="2.3" ry="15.7" fill="#000" opacity="0.30"/><ellipse cx="417.5" cy="1331.6" rx="2.3" ry="15.7" fill="#000" opacity="0.25"/><ellipse cx="427.5" cy="1331.6" rx="2.3" ry="15.7" fill="#000" opacity="0.35"/><ellipse cx="440.5" cy="1346.6" rx="2.3" ry="10.1" fill="#000" opacity="0.25"/><ellipse cx="450.5" cy="1346.6" rx="2.3" ry="11.2" fill="#000" opacity="0.25"/><ellipse cx="460.5" cy="1344.7" rx="2.3" ry="11.2" fill="#000" opacity="0.25"/><ellipse cx="738.5" cy="1342.8" rx="2.3" ry="11.2" fill="#000" opacity="0.65"/><ellipse cx="748.5" cy="1341" rx="2.3" ry="13.5" fill="#000" opacity="0.30"/><ellipse cx="758.5" cy="1342.8" rx="2.3" ry="11.2" fill="#000" opacity="0.35"/><ellipse cx="771.5" cy="1320.4" rx="2.3" ry="14.6" fill="#000" opacity="0.65"/><ellipse cx="781.5" cy="1320.4" rx="2.3" ry="14.6" fill="#000" opacity="0.75"/><ellipse cx="791.5" cy="1320.4" rx="2.3" ry="13.5" fill="#000" opacity="0.55"/><ellipse cx="804.5" cy="1311" rx="2.3" ry="13.5" fill="#000" opacity="0.50"/><ellipse cx="814.5" cy="1311" rx="2.3" ry="14.6" fill="#000" opacity="0.50"/><ellipse cx="824.5" cy="1312.9" rx="2.3" ry="15.7" fill="#000" opacity="0.22"/><ellipse cx="837.5" cy="1322.2" rx="2.3" ry="12.3" fill="#000" opacity="0.90"/><ellipse cx="847.5" cy="1320.4" rx="2.3" ry="13.5" fill="#000" opacity="0.85"/><ellipse cx="857.5" cy="1322.2" rx="2.3" ry="13.5" fill="#000" opacity="0.90"/><ellipse cx="77.5" cy="1448.7" rx="2.3" ry="14.8" fill="#000" opacity="0.45"/><ellipse cx="87.5" cy="1450.1" rx="2.3" ry="13.9" fill="#000" opacity="0.35"/><ellipse cx="97.5" cy="1447.2" rx="2.3" ry="15.7" fill="#000" opacity="0.50"/><ellipse cx="176.5" cy="1432.7" rx="2.3" ry="13.1" fill="#000" opacity="0.90"/><ellipse cx="186.5" cy="1434.1" rx="2.3" ry="13.9" fill="#000" opacity="0.90"/><ellipse cx="196.5" cy="1434.1" rx="2.3" ry="13.9" fill="#000" opacity="0.75"/><ellipse cx="209.5" cy="1434.1" rx="2.3" ry="13.9" fill="#000" opacity="0.85"/><ellipse cx="219.5" cy="1435.6" rx="2.3" ry="13.9" fill="#000" opacity="0.90"/><ellipse cx="229.5" cy="1435.6" rx="2.3" ry="13.9" fill="#000" opacity="0.75"/><ellipse cx="242.5" cy="1432.7" rx="2.3" ry="12.2" fill="#000" opacity="0.65"/><ellipse cx="252.5" cy="1432.7" rx="2.3" ry="12.2" fill="#000" opacity="0.75"/><ellipse cx="262.5" cy="1434.1" rx="2.3" ry="11.3" fill="#000" opacity="0.55"/><ellipse cx="275.5" cy="1434.1" rx="2.3" ry="12.2" fill="#000" opacity="0.75"/><ellipse cx="285.5" cy="1435.6" rx="2.3" ry="13.1" fill="#000" opacity="0.90"/><ellipse cx="295.5" cy="1435.6" rx="2.3" ry="12.2" fill="#000" opacity="0.65"/><ellipse cx="308.5" cy="1461.8" rx="2.3" ry="10.5" fill="#000" opacity="0.27"/><ellipse cx="328.5" cy="1461.8" rx="2.3" ry="10.5" fill="#000" opacity="0.25"/><ellipse cx="341.5" cy="1457.4" rx="2.3" ry="13.1" fill="#000" opacity="0.65"/><ellipse cx="351.5" cy="1458.8" rx="2.3" ry="13.1" fill="#000" opacity="0.85"/><ellipse cx="361.5" cy="1457.4" rx="2.3" ry="15.7" fill="#000" opacity="0.75"/><ellipse cx="407.5" cy="1461.8" rx="2.3" ry="10.5" fill="#000" opacity="0.50"/><ellipse cx="417.5" cy="1461.8" rx="2.3" ry="9.6" fill="#000" opacity="0.50"/><ellipse cx="427.5" cy="1461.8" rx="2.3" ry="10.5" fill="#000" opacity="0.45"/><ellipse cx="440.5" cy="1464.7" rx="2.3" ry="8.7" fill="#000" opacity="0.45"/><ellipse cx="450.5" cy="1464.7" rx="2.3" ry="9.6" fill="#000" opacity="0.35"/><ellipse cx="460.5" cy="1464.7" rx="2.3" ry="8.7" fill="#000" opacity="0.35"/><ellipse cx="573.5" cy="1457.4" rx="2.3" ry="10.5" fill="#000" opacity="0.75"/><ellipse cx="583.5" cy="1458.8" rx="2.3" ry="9.6" fill="#000" opacity="0.90"/><ellipse cx="593.5" cy="1457.4" rx="2.3" ry="9.6" fill="#000" opacity="0.50"/><ellipse cx="705.5" cy="1454.5" rx="2.3" ry="10.5" fill="#000" opacity="0.75"/><ellipse cx="715.5" cy="1455.9" rx="2.3" ry="10.5" fill="#000" opacity="0.55"/><ellipse cx="725.5" cy="1454.5" rx="2.3" ry="10.5" fill="#000" opacity="0.55"/><path d="M.5 .5m78 889h0m-3 6h0m3 4h0m-3 2h0m2 55h0m1 105h0m0 128h0m1 131h0m0 12h0m-2 4h0m-2 4h0m0 2h0m3 0h0m-3 4h0m3 0h0m-1 76h0m10-572h0m0 21h0m2 3h0m-2 5h0m2 88h0m-2 104h0m1 101h0m0 166h0m0 1h0m-1 3h0m2 0h0m0 2h0m-3 2h0m0 2h0m1 0h0m2 72h0m8-547h0m2 13h0m-2 16h0m2 64h0m-1 107h0m1 109h0m-1 148h0m0 6h0m-2 3h0m2 1h0m1 1h0m-3 2h0m0 1h0m1 2h0m1 63h0m14-447h0m-3 10h0m10 10h0m-7 4h0m-2 6h0m-2 1h0m2 4h0m0 1h0m8 3h0m-10 2h0m11 0h0m-1 13h0m-7 66h0m0 10h0m8 0h0m-1 3h0m-9 1h0m3 1h0m-2 1h0m8 2h0m-6 1h0m-2 5h0m0 2h0m0 6h0m9 121h0m-8 65h0m0 27h0m8 4h0m-11 1h0m2 0h0m2 0h0m6 3h0m-10 2h0m11 0h0m-9 2h0m1 2h0m0 13h0m-1 99h0m8 5h0m-6 2h0m7 0h0m-9 2h0m1 0h0m8 0h0m-10 1h0m1 0h0m1 0h0m7 2h0m-8 1h0m8 5h0m1 0h0m12-499h0m-9 2h0m7 9h0m1 1h0m-9 1h0m9 0h0m0 2h0m-1 4h0m-7 8h0m8 5h0m-10 3h0m10 70h0m-10 9h0m0 1h0m8 1h0m-8 8h0m1 0h0m8 0h0m1 6h0m0 3h0m-2 3h0m-8 4h0m0 5h0m9 0h0m0 1h0m-1 4h0m-6 81h0m0 24h0m9 2h0m-10 5h0m7 9h0m2 0h0m1 2h0m-9 80h0m6 3h0m-7 2h0m8 1h0m-8 2h0m0 2h0m10 0h0m-3 1h0m3 0h0m-3 2h0m-6 3h0m6 0h0m-7 91h0m9 24h0m-1 3h0m0 1h0m2 1h0m-2 1h0m-1 2h0m0 3h0m-6 3h0m19-580h0m1 4h0m-10 94h0m0 114h0m0 5h0m11 100h0m-11 95h0m0 34h0m11 90h0m-11 43h0m12-594h0m9 23h0m-2 1h0m0 5h0m4 56h0m-10 1h0m0 120h0m10 5h0m-2 125h0m1 221h0m9-540h0m0 5h0m0 5h0m2 66h0m-1 123h0m-1 117h0m1 212h0m14-547h0m-3 7h0m1 10h0m0 4h0m0 68h0m0 114h0m1 101h0m0 235h0m10-535h0m-1 13h0m-2 4h0m2 4h0m2 54h0m-2 120h0m2 111h0m0 228h0m10-562h0m-1 38h0m-1 2h0m-1 10h0m2 60h0m0 114h0m0 122h0m-1 218h0m13-460h0m2 122h0m0 113h0m-1 157h0m-2 14h0m1 54h0m11-534h0m1 76h0m0 103h0m0 115h0m0 238h0m8-452h0m1 112h0m0 117h0m0 148h0m0 14h0m0 63h0m14-532h0m0 14h0m-4 2h0m11 1h0m0 69h0m-1 8h0m-7 7h0m1 0h0m7 0h0m-7 1h0m-2 1h0m-2 2h0m1 0h0m2 1h0m8 8h0m0 1h0m-10 4h0m1 5h0m-2 3h0m3 4h0m0 64h0m1 100h0m0 238h0m8-546h0m0 19h0m10 75h0m-9 1h0m-1 16h0m8 1h0m1 0h0m-8 7h0m7 6h0m3 3h0m-1 1h0m-2 2h0m1 0h0m-8 3h0m8 1h0m1 1h0m-10 79h0m11 3h0m-9 88h0m8 5h0m-9 237h0m10 0h0m11-521h0m-1 1h0m1 2h0m1 70h0m-11 22h0m11 94h0m0 93h0m0 238h0m2-530h0m8 0h0m0 7h0m1 1h0m1 8h0m0 55h0m-1 127h0m-1 87h0m0 176h0m2 5h0m-2 63h0m11-536h0m-2 10h0m0 1h0m3 6h0m-2 65h0m0 123h0m2 101h0m-1 230h0m12-553h0m1 18h0m-2 3h0m1 0h0m1 4h0m-1 6h0m2 0h0m-4 1h0m2 9h0m1 3h0m1 50h0m-1 123h0m0 132h0m-2 2h0m2 0h0m0 7h0m-3 2h0m1 3h0m3 9h0m-2 90h0m2 10h0m-4 1h0m0 2h0m2 5h0m0 3h0m-2 3h0m3 0h0m-1 2h0m0 81h0m12-571h0m-4 14h0m0 2h0m4 0h0m-4 3h0m0 1h0m1 1h0m-1 8h0m1 4h0m1 56h0m1 11h0m-2 10h0m-1 17h0m4 2h0m-3 1h0m3 18h0m-1 81h0m-3 4h0m3 1h0m-3 13h0m1 7h0m2 4h0m-3 3h0m4 71h0m-2 11h0m-2 4h0m4 1h0m0 3h0m-1 1h0m0 4h0m-3 13h0m2 109h0m1 0h0m-3 4h0m2 0h0m-2 2h0m2 1h0m-1 1h0m2 0h0m-1 9h0m0 91h0m-2 2h0m3 10h0m0 6h0m-1 3h0m-1 1h0m-3 16h0m14-624h0m-2 5h0m0 7h0m4 0h0m0 9h0m-3 2h0m-1 2h0m1 1h0m1 1h0m-2 1h0m2 62h0m2 123h0m-2 115h0m-1 10h0m0 5h0m1 5h0m-2 3h0m2 0h0m1 7h0m-2 12h0m3 98h0m-2 7h0m1 3h0m1 0h0m-2 5h0m0 2h0m-2 4h0m4 4h0m-2 11h0m1 71h0m13-576h0m0 111h0m-1 130h0m1 86h0m0 118h0m0 116h0m9-559h0m0 91h0m1 132h0m1 101h0m-1 115h0m-1 107h0m10-547h0m1 93h0m0 148h0m0 78h0m1 126h0m-2 93h0m13-551h0m1 126h0m-1 6h0m9 1h0m-11 2h0m11 5h0m-11 2h0m2 6h0m1 0h0m8 0h0m-8 2h0m-1 14h0m0 2h0m1 88h0m-1 1h0m-1 1h0m1 4h0m-2 3h0m11 1h0m-9 2h0m2 82h0m-2 2h0m-2 1h0m4 5h0m7 5h0m-8 2h0m7 0h0m-10 9h0m3 4h0m8 0h0m-8 1h0m-2 24h0m2 73h0m7 4h0m-10 7h0m11 2h0m-11 2h0m10 1h0m0 1h0m-10 6h0m1 0h0m2 1h0m-1 4h0m1 1h0m8 0h0m-8 2h0m0 56h0m11-560h0m8 3h0m1 106h0m-10 1h0m-1 9h0m9 4h0m-8 6h0m8 0h0m-1 1h0m-6 3h0m7 8h0m-9 2h0m8 2h0m-6 5h0m-2 94h0m1 0h0m10 5h0m-2 1h0m-7 2h0m-2 1h0m2 5h0m7 7h0m-7 3h0m8 2h0m-2 13h0m3 47h0m-9 11h0m-1 7h0m1 7h0m9 4h0m-1 4h0m0 2h0m-1 1h0m-8 1h0m8 0h0m-9 9h0m1 7h0m10 86h0m-11 3h0m0 9h0m10 1h0m-1 6h0m-1 1h0m0 2h0m2 2h0m-1 3h0m-9 1h0m9 4h0m0 3h0m-7 1h0m-1 51h0m9 10h0m13-540h0m-11 108h0m0 7h0m0 8h0m0 93h0m0 22h0m0 97h0m0 3h0m0 15h0m23-365h0m-10 89h0m10 6h0m-11 132h0m10 4h0m-9 101h0m9 7h0m-10 100h0m10 3h0m-10 129h0m11 6h0m10-573h0m-2 105h0m2 128h0m-1 96h0m1 108h0m-1 132h0m13-558h0m0 90h0m-1 119h0m2 109h0m-1 132h0m1 113h0m8-563h0m1 98h0m-1 130h0m1 100h0m0 116h0m0 113h0m9-560h0m1 110h0m-1 128h0m0 77h0m2 126h0m0 132h0m12-615h0m0 162h0m0 1h0m-2 8h0m-1 2h0m2 3h0m-2 1h0m3 78h0m0 104h0m-1 250h0m10-612h0m2 149h0m-1 10h0m-3 12h0m0 12h0m4 3h0m-1 65h0m-1 118h0m1 137h0m0 27h0m-1 3h0m2 81h0m10-610h0m-2 128h0m1 2h0m0 3h0m1 0h0m-3 19h0m2 2h0m-1 108h0m2 87h0m-2 158h0m-1 8h0m1 3h0m2 90h0m13-615h0m-2 6h0m1 6h0m-3 1h0m2 2h0m1 0h0m-3 2h0m3 2h0m-2 12h0m10 17h0m-8 197h0m-1 16h0m-1 5h0m3 19h0m-2 65h0m0 11h0m1 12h0m1 3h0m7 30h0m0 121h0m-7 77h0m-1 1h0m-1 3h0m0 1h0m9 3h0m-8 1h0m10-619h0m1 9h0m7 4h0m1 5h0m-9 8h0m10 0h0m-9 3h0m0 2h0m1 3h0m7 1h0m-7 1h0m7 1h0m-1 1h0m-7 7h0m-1 200h0m0 21h0m1 5h0m0 3h0m8 4h0m-1 6h0m-7 66h0m9 21h0m-1 6h0m-8 6h0m7 13h0m-6 4h0m8 15h0m-9 75h0m7 20h0m2 22h0m-11 7h0m11 60h0m-2 17h0m-7 1h0m0 3h0m1 0h0m6 4h0m-6 3h0m10-627h0m-1 15h0m2 7h0m-1 108h0m-1 130h0m1 19h0m-1 222h0m1 115h0m0 1h0m21-604h0m-8 6h0m0 134h0m-2 16h0m2 10h0m9 1h0m-10 3h0m-1 86h0m1 110h0m10 116h0m0 118h0m-10 5h0m9 10h0m-1 2h0m1 3h0m1 6h0m-1 6h0m11-622h0m-1 105h0m2 16h0m-10 2h0m0 16h0m8 0h0m-8 4h0m8 27h0m0 62h0m-8 12h0m0 103h0m9 4h0m0 244h0m0 6h0m-9 6h0m8 2h0m-1 1h0m1 2h0m-1 1h0m2 1h0m-3 3h0m4 1h0m-1 1h0m-2 6h0m14-641h0m0 107h0m-1 27h0m2 6h0m-1 5h0m1 7h0m1 3h0m-2 7h0m-2 1h0m2 6h0m0 2h0m1 0h0m0 56h0m0 116h0m0 129h0m-3 12h0m2 4h0m0 5h0m2 1h0m0 10h0m-4 9h0m3 85h0m10-604h0m0 140h0m-1 3h0m2 10h0m-3 7h0m1 3h0m2 0h0m-1 1h0m1 2h0m0 4h0m-2 1h0m1 57h0m1 123h0m-2 126h0m-1 22h0m1 3h0m-1 7h0m0 14h0m2 2h0m0 1h0m0 84h0m11-601h0m-1 135h0m-1 2h0m2 2h0m-3 2h0m0 4h0m1 8h0m2 1h0m-2 7h0m0 2h0m-1 4h0m3 0h0m-2 67h0m1 115h0m1 134h0m0 11h0m-1 7h0m-2 2h0m2 2h0m-1 8h0m1 87h0m13-598h0m-2 14h0m3 1h0m-2 7h0m-1 1h0m1 0h0m0 4h0m1 3h0m-1 10h0m1 0h0m-1 111h0m1 22h0m1 7h0m0 62h0m-3 3h0m1 12h0m2 3h0m-1 2h0m-3 14h0m4 72h0m-1 15h0m0 8h0m-3 9h0m0 6h0m3 13h0m1 219h0m-2 4h0m-2 8h0m4 2h0m0 1h0m-1 7h0m9-637h0m0 12h0m0 5h0m1 6h0m-2 6h0m2 0h0m1 3h0m-3 2h0m0 11h0m2 3h0m0 7h0m1 68h0m0 27h0m0 21h0m-2 80h0m-2 2h0m0 9h0m1 4h0m0 3h0m2 5h0m1 55h0m-2 24h0m-2 10h0m0 8h0m2 11h0m1 0h0m1 102h0m-4 28h0m2 96h0m1 11h0m-2 2h0m3 3h0m0 7h0m-1 4h0m9-612h0m-2 22h0m0 7h0m2 98h0m2 18h0m0 8h0m-2 88h0m-2 1h0m3 0h0m-1 2h0m2 1h0m-1 3h0m-1 86h0m-1 8h0m2 7h0m-1 3h0m-1 2h0m-1 4h0m2 98h0m0 16h0m0 130h0m1 0h0m-1 2h0m0 3h0m0 1h0m2 1h0m13-610h0m6 27h0m0 6h0m-6 105h0m-3 5h0m-1 1h0m4 8h0m0 79h0m-4 18h0m3 3h0m0 1h0m1 2h0m-3 4h0m1 6h0m2 0h0m-1 76h0m1 12h0m0 2h0m-3 7h0m3 1h0m-2 2h0m-1 2h0m2 1h0m-2 3h0m9 4h0m-7 220h0m-2 2h0m9 0h0m-8 5h0m0 1h0m8 0h0m-10 3h0m2 0h0m0 3h0m1 0h0m-1 3h0m0 4h0m10-602h0m10 4h0m-10 4h0m1 3h0m1 0h0m-2 4h0m0 1h0m9 0h0m-9 3h0m1 0h0m-1 3h0m0 87h0m0 12h0m10 7h0m-9 4h0m-2 7h0m10 3h0m-8 87h0m8 5h0m-8 1h0m9 2h0m-11 4h0m1 0h0m8 0h0m2 1h0m-1 1h0m-1 2h0m-7 5h0m-2 2h0m0 6h0m2 58h0m8 16h0m1 8h0m-9 5h0m8 1h0m0 2h0m-10 1h0m3 5h0m-1 6h0m-1 1h0m1 0h0m-2 4h0m1 91h0m0 122h0m2 3h0m8 2h0m-11 2h0m10 2h0m-8 1h0m-2 2h0m3 1h0m6 0h0m2 2h0m0 1h0m-8 1h0m-1 2h0m7 2h0m4-617h0m-1 13h0m0 2h0m11 110h0m0 1h0m0 1h0m-1 14h0m-10 18h0m1 0h0m-1 83h0m1 15h0m-1 77h0m0 23h0m10 7h0m1 1h0m-11 1h0m0 3h0m0 1h0m1 228h0m0 2h0m-1 1h0m1 12h0m22-627h0m-11 10h0m10 115h0m-9 2h0m9 0h0m-10 5h0m11 5h0m-1 1h0m-10 6h0m11 85h0m-10 6h0m7 126h0m-6 13h0m7 0h0m2 5h0m-10 1h0m1 14h0m8 100h0m-10 5h0m10 6h0m0 9h0m-10 2h0m2 1h0m-1 94h0m20-601h0m-9 107h0m8 11h0m1 3h0m-1 2h0m-1 1h0m3 0h0m-3 1h0m-1 10h0m-6 4h0m0 7h0m9 80h0m-9 119h0m9 12h0m1 3h0m0 5h0m-10 4h0m10 6h0m0 7h0m-1 84h0m-2 21h0m3 8h0m-10 99h0m8 4h0m13-600h0m2 115h0m0 116h0m-1 110h0m0 134h0m1 22h0m-4 9h0m3 3h0m0 72h0m11-584h0m-2 107h0m2 121h0m-1 113h0m0 129h0m-3 9h0m4 29h0m-2 8h0m0 67h0m10-578h0m2 104h0m-1 116h0m-1 123h0m1 135h0m-2 17h0m-1 7h0m1 0h0m3 76h0m12-540h0m-1 7h0m0 3h0m0 62h0m0 120h0m0 9h0m1 4h0m-2 7h0m2 79h0m-1 108h0m2 143h0m0 27h0m-1 7h0m1 8h0m10-633h0m-3 28h0m1 3h0m-2 2h0m3 82h0m-1 153h0m2 11h0m-3 6h0m1 3h0m0 71h0m2 96h0m8-448h0m-2 4h0m3 21h0m-2 15h0m1 53h0m2 149h0m-4 14h0m2 5h0m2 7h0m-2 71h0m2 111h0m-1 167h0m-1 9h0m2 4h0m-4 5h0m15-593h0m0 6h0m-2 4h0m10 1h0m-6 1h0m-2 60h0m8 155h0m-8 2h0m1 0h0m7 2h0m-8 4h0m2 0h0m-2 2h0m1 4h0m1 97h0m-1 13h0m1 5h0m-1 2h0m0 47h0m7 149h0m-7 29h0m0 5h0m-2 1h0m1 0h0m20-605h0m-1 12h0m-7 5h0m6 1h0m-9 10h0m1 0h0m2 60h0m-1 145h0m7 10h0m1 0h0m-10 1h0m3 0h0m7 1h0m-9 3h0m9 3h0m-8 97h0m-1 4h0m10 5h0m-1 4h0m-1 3h0m-7 1h0m8 3h0m-9 3h0m2 50h0m8 4h0m-9 141h0m1 7h0m0 4h0m8 4h0m-2 9h0m0 1h0m4-581h0m-1 83h0m10 99h0m-10 48h0m1 6h0m10 66h0m-1 32h0m1 216h0m-1 2h0m1 0h0m-1 2h0m0 3h0m-10 33h0m14-653h0m9 6h0m-10 110h0m9 0h0m-10 117h0m9 9h0m2 0h0m-1 1h0m-1 3h0m-7 3h0m-2 2h0m10 0h0m-10 5h0m2 2h0m8 8h0m1 85h0m-9 8h0m9 26h0m-1 3h0m-10 73h0m1 149h0m9 0h0m-1 5h0m0 2h0m0 3h0m2 0h0m-1 1h0m1 2h0m-3 2h0m-7 4h0m20-612h0m0 123h0m-1 100h0m1 0h0m1 3h0m0 9h0m-4 4h0m3 4h0m1 111h0m-4 5h0m0 21h0m-6 69h0m9 2h0m1 145h0m-1 1h0m-1 2h0m-1 1h0m2 1h0m-1 3h0m-2 2h0m3 2h0m14-559h0m-3 1h0m0 2h0m0 1h0m0 4h0m0 3h0m2 50h0m-3 165h0m3 0h0m0 3h0m1 0h0m-4 2h0m3 2h0m1 0h0m-1 3h0m0 100h0m0 7h0m1 1h0m-2 1h0m2 5h0m0 61h0m-2 170h0m0 7h0m0 5h0m12-596h0m-4 4h0m4 2h0m-1 4h0m-2 2h0m3 1h0m-1 75h0m-1 134h0m-1 3h0m1 6h0m0 2h0m1 0h0m-1 1h0m1 4h0m-2 3h0m1 104h0m1 2h0m-1 2h0m1 0h0m-1 2h0m1 59h0m0 178h0m0 3h0m-3 5h0m14-598h0m-1 4h0m-1 1h0m1 2h0m-2 3h0m1 1h0m2 73h0m-1 144h0m-2 3h0m2 2h0m-3 1h0m3 1h0m0 1h0m1 1h0m0 5h0m0 103h0m0 1h0m-4 1h0m0 7h0m3 5h0m1 55h0m-1 175h0m-2 3h0m-1 5h0" stroke="#000" stroke-opacity="0.45" stroke-width="1" stroke-linecap="square" fill="none"/><path d="M.5 .5m76 970h0m2 1h0m-2 2h0m1 1h0m-1 1h0m3 11h0m-3 1h0m1 0h0m-1 1h0m1 0h0m0 1h0m1 0h0m1 0h0m-4 1h0m1 0h0m2 1h0m-2 1h0m0 1h0m2 0h0m1 2h0m-3 5h0m0 1h0m3 0h0m-1 9h0m-3 10h0m4 40h0m-2 2h0m-3 2h0m5 2h0m-4 1h0m1 4h0m2 5h0m-3 3h0m4 5h0m-3 2h0m1 1h0m0 1h0m1 0h0m1 0h0m1 0h0m-4 2h0m2 0h0m1 0h0m1 1h0m-2 1h0m-3 1h0m1 0h0m1 0h0m0 1h0m1 0h0m-3 1h0m1 0h0m1 2h0m1 0h0m1 0h0m-2 1h0m2 0h0m-4 1h0m1 0h0m1 0h0m2 0h0m-5 1h0m1 0h0m0 1h0m1 0h0m2 0h0m1 0h0m-4 1h0m4 0h0m-4 1h0m1 0h0m0 1h0m4 0h0m-4 1h0m2 0h0m-3 1h0m1 0h0m-1 1h0m1 0h0m1 0h0m0 1h0m-1 1h0m2 0h0m1 0h0m-3 1h0m2 1h0m-3 1h0m1 0h0m0 1h0m1 0h0m-2 1h0m1 0h0m3 1h0m-5 1h0m3 0h0m2 0h0m-2 1h0m1 0h0m-1 1h0m1 0h0m-3 1h0m2 0h0m1 0h0m-1 1h0m1 0h0m1 0h0m-3 6h0m0 69h0m3 6h0m0 1h0m-2 2h0m1 3h0m0 1h0m-1 2h0m1 1h0m0 2h0m-2 1h0m2 3h0m1 0h0m-3 2h0m1 0h0m1 0h0m1 3h0m-2 1h0m-2 5h0m1 0h0m0 1h0m1 15h0m-1 177h0m2 0h0m-1 1h0m1 0h0m0 2h0m1 1h0m-3 1h0m1 0h0m2 2h0m-3 1h0m1 0h0m1 0h0m-2 2h0m1 0h0m1 0h0m1 0h0m-4 2h0m1 0h0m1 0h0m1 0h0m1 0h0m-3 2h0m1 0h0m0 1h0m-1 1h0m-1 1h0m2 1h0m1 0h0m-1 1h0m1 0h0m1 0h0m-3 1h0m1 0h0m2 1h0m-2 1h0m1 0h0m1 1h0m4 0h0m-6 1h0m1 0h0m1 0h0m-4 1h0m1 0h0m1 0h0m1 0h0m-2 1h0m1 0h0m2 0h0m-1 1h0m-3 1h0m1 0h0m2 0h0m1 0h0m-4 1h0m3 0h0m1 0h0m-3 1h0m2 0h0m1 0h0m0 1h0m-3 1h0m1 0h0m1 0h0m-3 1h0m3 0h0m5 0h0m-8 1h0m1 1h0m7 0h0m-6 1h0m1 0h0m1 0h0m-2 1h0m-2 1h0m1 0h0m1 0h0m1 0h0m1 0h0m-2 1h0m1 0h0m1 0h0m-3 1h0m1 0h0m1 0h0m1 0h0m-3 1h0m2 0h0m-1 1h0m-1 1h0m2 1h0m-1 1h0m-1 2h0m2 0h0m1 3h0m-1 1h0m1 1h0m-4 4h0m2 3h0m1 0h0m8-509h0m1 7h0m1 0h0m-3 1h0m1 0h0m9 0h0m-7 1h0m7 0h0m-8 3h0m-1 2h0m3 3h0m6 1h0m-7 1h0m0 1h0m-2 1h0m1 0h0m1 2h0m7 0h0m-6 1h0m-4 1h0m3 1h0m1 0h0m-3 1h0m1 0h0m2 0h0m6 1h0m-9 3h0m1 1h0m2 0h0m-2 1h0m-1 2h0m1 66h0m-1 1h0m2 1h0m-3 2h0m3 2h0m0 1h0m-2 1h0m8 0h0m-9 3h0m2 0h0m1 0h0m-3 1h0m2 0h0m-1 1h0m1 0h0m-1 1h0m0 1h0m3 0h0m6 0h0m0 1h0m-9 1h0m1 0h0m1 0h0m-3 1h0m1 0h0m1 0h0m-2 1h0m2 0h0m8 0h0m-9 1h0m1 0h0m-2 1h0m1 1h0m1 0h0m2 0h0m-2 1h0m2 0h0m6 0h0m-10 1h0m1 0h0m1 0h0m1 0h0m7 0h0m-9 1h0m1 0h0m1 0h0m7 0h0m-8 1h0m1 1h0m7 0h0m-10 1h0m2 0h0m2 0h0m-3 1h0m1 0h0m8 0h0m-9 1h0m2 0h0m1 0h0m5 0h0m-7 1h0m2 0h0m-4 1h0m1 0h0m1 0h0m-2 1h0m1 0h0m1 0h0m8 0h0m-9 1h0m1 0h0m1 0h0m1 0h0m5 0h0m1 0h0m-9 1h0m1 0h0m1 0h0m-2 1h0m2 0h0m1 0h0m-4 1h0m4 0h0m-3 1h0m1 0h0m1 0h0m-2 1h0m1 0h0m1 0h0m-1 1h0m-1 1h0m0 1h0m1 0h0m8 0h0m-10 1h0m1 1h0m9 0h0m0 1h0m-8 1h0m2 5h0m6 2h0m-9 8h0m-1 43h0m2 0h0m0 6h0m1 11h0m-1 1h0m8 1h0m-9 4h0m2 0h0m-2 3h0m9 1h0m-10 3h0m2 2h0m1 0h0m-3 2h0m3 1h0m-3 2h0m4 3h0m-4 1h0m10 0h0m-7 2h0m-1 4h0m0 6h0m8 0h0m-10 5h0m2 1h0m8 4h0m0 179h0m-10 1h0m2 0h0m-1 1h0m3 0h0m-2 4h0m1 0h0m7 2h0m-7 2h0m-2 1h0m0 1h0m0 1h0m9 1h0m-9 1h0m9 0h0m-10 1h0m2 0h0m1 0h0m7 0h0m-10 1h0m3 0h0m0 1h0m-2 2h0m9 0h0m-7 1h0m7 0h0m-11 1h0m4 0h0m-2 1h0m1 0h0m2 0h0m-5 1h0m4 0h0m7 0h0m-10 1h0m3 0h0m-2 1h0m2 1h0m-2 1h0m1 1h0m1 0h0m6 0h0m-9 1h0m5 0h0m5 0h0m-10 1h0m1 0h0m8 0h0m-6 1h0m3 0h0m4 0h0m-11 1h0m3 0h0m2 0h0m2 0h0m-7 1h0m1 0h0m1 0h0m-2 1h0m4 0h0m1 0h0m6 1h0m-9 1h0m9 0h0m-11 1h0m2 0h0m2 0h0m7 0h0m-11 1h0m4 0h0m2 0h0m-3 1h0m2 0h0m-4 1h0m3 1h0m-1 1h0m2 0h0m-2 2h0m1 0h0m1 0h0m0 2h0m-4 1h0m3 1h0m-3 1h0m3 1h0m-1 2h0m2 0h0m6 5h0m1-508h0m1 1h0m2 6h0m-3 1h0m2 0h0m-1 1h0m0 6h0m1 5h0m-2 3h0m0 1h0m3 0h0m0 1h0m-3 1h0m0 1h0m1 1h0m0 1h0m-1 1h0m2 2h0m0 2h0m1 2h0m-3 6h0m0 1h0m0 61h0m2 5h0m1 0h0m-3 6h0m4 5h0m-1 1h0m-2 2h0m1 0h0m-1 2h0m1 0h0m-1 1h0m2 0h0m-3 1h0m3 0h0m-3 1h0m2 0h0m1 0h0m-3 1h0m1 0h0m1 0h0m0 1h0m-2 1h0m1 0h0m2 0h0m-3 1h0m1 0h0m1 0h0m-2 1h0m1 0h0m-1 1h0m1 0h0m1 0h0m0 1h0m1 0h0m0 1h0m-1 1h0m-2 1h0m1 1h0m1 0h0m-1 1h0m1 0h0m1 0h0m-3 1h0m2 0h0m-1 1h0m2 0h0m-2 1h0m2 0h0m-1 1h0m1 1h0m-3 1h0m2 0h0m1 0h0m0 4h0m0 2h0m-2 1h0m2 2h0m-3 2h0m3 1h0m-2 3h0m1 54h0m0 6h0m-1 4h0m1 0h0m0 6h0m-1 3h0m2 3h0m0 3h0m-2 1h0m-1 1h0m1 3h0m0 3h0m2 0h0m-3 1h0m2 0h0m-2 7h0m0 11h0m1 173h0m1 0h0m-1 1h0m2 1h0m-3 1h0m0 2h0m1 2h0m1 1h0m1 0h0m0 4h0m-3 2h0m1 1h0m1 0h0m1 1h0m-3 1h0m3 1h0m-3 1h0m1 0h0m1 0h0m-1 1h0m1 0h0m1 0h0m-3 1h0m1 0h0m-1 1h0m3 0h0m-1 4h0m-2 1h0m1 0h0m1 0h0m1 0h0m-1 1h0m-2 2h0m1 0h0m0 1h0m2 0h0m0 1h0m-3 1h0m2 0h0m1 0h0m-3 1h0m1 0h0m2 0h0m-3 1h0m0 1h0m1 0h0m-1 1h0m3 0h0m-2 1h0m1 0h0m1 0h0m1 0h0m-3 1h0m2 0h0m-3 2h0m1 0h0m-1 1h0m3 0h0m-3 1h0m4 0h0m-4 1h0m1 0h0m1 0h0m1 0h0m-3 1h0m3 0h0m-3 1h0m1 0h0m0 1h0m1 0h0m1 0h0m-2 1h0m1 0h0m2 0h0m-1 1h0m-3 1h0m2 0h0m1 0h0m-3 1h0m2 0h0m1 0h0m-3 1h0m1 0h0m1 0h0m-2 1h0m2 0h0m-1 1h0m0 1h0m1 0h0m-1 1h0m1 1h0m1 1h0m-2 1h0m-1 3h0m0 1h0m2 1h0m0 2h0m-2 1h0m0 2h0m45-496h0m0 3h0m1 3h0m1 0h0m-2 2h0m2 0h0m-2 2h0m0 6h0m1 1h0m0 9h0m1 78h0m-1 9h0m-1 4h0m0 1h0m2 6h0m-2 1h0m2 4h0m-2 1h0m1 1h0m0 3h0m1 0h0m-1 3h0m0 2h0m1 4h0m0 82h0m-1 12h0m1 0h0m-1 2h0m1 0h0m-2 1h0m0 7h0m2 3h0m-2 1h0m0 1h0m2 1h0m-2 2h0m1 0h0m1 0h0m-2 4h0m1 1h0m1 4h0m0 3h0m0 194h0m-1 1h0m1 4h0m-2 2h0m0 3h0m1 2h0m-1 1h0m0 2h0m2 1h0m-2 3h0m2 1h0m-1 3h0m-1 1h0m2 15h0m9-518h0m0 8h0m-8 2h0m9 9h0m1 0h0m-3 2h0m3 1h0m-9 1h0m0 2h0m9 1h0m-10 2h0m1 1h0m6 0h0m-6 1h0m6 2h0m1 0h0m-8 1h0m8 3h0m1 0h0m-1 1h0m-8 3h0m7 1h0m-7 10h0m10 78h0m0 6h0m-3 3h0m-7 1h0m1 0h0m0 1h0m9 1h0m-3 1h0m4 0h0m-2 2h0m2 2h0m-4 1h0m2 0h0m-8 9h0m6 0h0m1 0h0m-7 2h0m6 0h0m2 2h0m-9 1h0m9 3h0m0 7h0m-9 76h0m0 1h0m1 2h0m10 0h0m-11 2h0m1 0h0m-1 3h0m9 0h0m-9 2h0m10 1h0m-10 3h0m8 0h0m1 1h0m-9 3h0m0 1h0m1 1h0m9 0h0m-10 3h0m10 0h0m-9 1h0m0 2h0m7 1h0m1 0h0m-9 1h0m1 2h0m8 3h0m-2 3h0m1 187h0m-8 9h0m0 1h0m0 1h0m11 0h0m-3 3h0m2 1h0m-1 2h0m-1 2h0m-8 1h0m7 0h0m2 0h0m-9 1h0m8 0h0m-1 1h0m-6 1h0m9 0h0m1 0h0m-11 1h0m7 0h0m4 0h0m-9 1h0m6 0h0m3 0h0m-11 1h0m8 1h0m-7 1h0m7 0h0m-8 2h0m10 1h0m-3 3h0m3 0h0m-9 1h0m9 2h0m-9 3h0m-1 1h0m19-501h0m2 8h0m-2 1h0m1 0h0m-3 1h0m4 1h0m-3 3h0m0 2h0m-1 1h0m4 0h0m-2 1h0m-2 4h0m0 1h0m0 4h0m1 2h0m2 91h0m-2 1h0m0 6h0m2 1h0m0 4h0m1 0h0m-1 1h0m-2 5h0m3 1h0m-3 3h0m2 1h0m0 2h0m1 1h0m-4 1h0m1 0h0m1 0h0m0 6h0m0 5h0m-1 79h0m-1 5h0m1 2h0m-1 4h0m0 2h0m3 6h0m1 0h0m-4 1h0m2 5h0m-1 1h0m3 3h0m-2 1h0m-1 4h0m1 4h0m0 179h0m1 2h0m-2 2h0m3 8h0m-3 3h0m2 0h0m-3 4h0m3 3h0m1 1h0m-3 1h0m0 1h0m4 1h0m-5 3h0m4 1h0m-9 2h0m6 0h0m1 1h0m-7 1h0m5 0h0m2 0h0m-7 2h0m6 2h0m2 0h0m-1 9h0m12-505h0m3 1h0m-2 2h0m0 1h0m-2 1h0m3 2h0m-2 1h0m2 0h0m1 0h0m-3 3h0m1 0h0m1 1h0m1 0h0m-3 1h0m0 1h0m2 0h0m1 0h0m-1 1h0m1 0h0m-3 1h0m2 0h0m0 1h0m1 0h0m-2 1h0m-2 1h0m2 0h0m-2 1h0m2 1h0m1 0h0m1 0h0m-4 1h0m3 0h0m-3 1h0m1 0h0m0 2h0m2 0h0m1 0h0m-4 1h0m3 0h0m1 0h0m-3 1h0m3 0h0m-1 2h0m-1 4h0m1 0h0m-3 3h0m4 3h0m-5 68h0m2 6h0m0 4h0m3 2h0m-1 1h0m1 0h0m-4 1h0m2 0h0m-2 2h0m1 0h0m2 1h0m-3 1h0m1 0h0m-1 1h0m4 0h0m-3 1h0m-1 1h0m4 0h0m-3 1h0m1 0h0m1 0h0m2 0h0m-5 1h0m1 0h0m-1 1h0m1 0h0m1 0h0m1 0h0m1 0h0m-4 1h0m1 1h0m3 0h0m-4 1h0m1 0h0m1 0h0m3 0h0m-5 1h0m2 0h0m1 0h0m1 0h0m-4 1h0m2 0h0m2 0h0m-5 1h0m1 0h0m1 0h0m1 0h0m1 0h0m-3 1h0m1 0h0m1 0h0m2 0h0m-4 1h0m4 0h0m-4 1h0m3 0h0m-3 1h0m2 1h0m1 0h0m2 0h0m-3 1h0m1 1h0m1 0h0m-3 1h0m1 0h0m2 0h0m-1 1h0m-3 1h0m2 0h0m2 0h0m-4 2h0m1 0h0m1 0h0m-3 1h0m3 1h0m0 1h0m-2 2h0m2 0h0m1 1h0m0 53h0m-1 3h0m3 1h0m-5 2h0m2 1h0m-1 6h0m-2 3h0m1 0h0m3 0h0m-4 1h0m5 1h0m-3 3h0m1 1h0m-1 1h0m3 0h0m-4 1h0m1 1h0m1 2h0m1 0h0m-1 1h0m2 0h0m-4 1h0m1 0h0m3 0h0m-3 1h0m1 0h0m3 0h0m-5 1h0m1 0h0m1 0h0m3 0h0m-5 1h0m2 0h0m-1 1h0m1 0h0m2 0h0m-4 1h0m1 0h0m1 0h0m2 0h0m-5 1h0m1 0h0m1 0h0m1 0h0m2 0h0m-3 1h0m1 0h0m2 0h0m-1 1h0m1 0h0m1 0h0m-6 1h0m1 0h0m4 0h0m-4 1h0m3 0h0m1 0h0m-2 1h0m2 0h0m-2 1h0m1 0h0m1 0h0m-4 1h0m1 0h0m1 0h0m1 0h0m-2 1h0m4 0h0m-5 1h0m1 0h0m2 0h0m1 0h0m-2 1h0m1 0h0m0 1h0m1 0h0m1 0h0m-4 1h0m2 0h0m1 1h0m-4 2h0m1 0h0m0 1h0m1 0h0m0 1h0m1 2h0m-1 1h0m2 0h0m-4 1h0m3 1h0m0 2h0m1 0h0m-3 1h0m0 3h0m1 3h0m3 1h0m-4 1h0m2 2h0m-2 4h0m1 161h0m-2 1h0m1 0h0m1 0h0m-2 1h0m1 0h0m2 0h0m-2 1h0m2 0h0m1 0h0m-4 1h0m1 0h0m2 0h0m-3 1h0m2 0h0m1 0h0m-2 1h0m2 0h0m1 0h0m-5 1h0m2 0h0m2 0h0m1 0h0m-5 1h0m2 0h0m3 0h0m1 0h0m0 1h0m-6 1h0m1 0h0m2 0h0m1 0h0m1 0h0m-6 1h0m1 0h0m1 0h0m1 0h0m3 0h0m1 0h0m-5 1h0m2 0h0m1 0h0m2 0h0m-5 1h0m1 0h0m1 0h0m1 0h0m1 0h0m1 0h0m-7 1h0m1 0h0m1 0h0m3 0h0m2 0h0m-5 1h0m-1 1h0m1 0h0m1 0h0m2 0h0m2 0h0m-7 1h0m1 0h0m1 0h0m2 0h0m1 0h0m1 0h0m-3 1h0m3 0h0m-6 1h0m1 0h0m2 0h0m1 0h0m-3 1h0m1 0h0m2 0h0m1 0h0m1 0h0m1 0h0m-6 1h0m1 0h0m1 0h0m4 0h0m-7 1h0m2 0h0m3 0h0m2 0h0m-6 1h0m1 0h0m1 0h0m1 0h0m1 0h0m1 0h0m-6 1h0m3 0h0m1 0h0m3 0h0m-5 1h0m1 0h0m1 0h0m1 0h0m1 0h0m1 0h0m-6 1h0m2 0h0m1 0h0m1 0h0m-3 1h0m2 0h0m1 0h0m1 0h0m1 0h0m-5 1h0m1 0h0m1 0h0m1 0h0m1 0h0m1 0h0m-4 1h0m1 0h0m1 0h0m-2 1h0m2 0h0m1 0h0m-4 1h0m1 0h0m1 0h0m1 0h0m1 0h0m-1 1h0m1 0h0m-3 1h0m1 0h0m1 0h0m-3 1h0m1 0h0m-1 1h0m1 0h0m-1 1h0m1 0h0m2 0h0m-1 1h0m1 0h0m-3 1h0m1 0h0m2 0h0m-1 2h0m-1 1h0m1 0h0m-1 1h0m2 0h0m-2 2h0m2 6h0m10-505h0m0 2h0m0 5h0m0 8h0m-2 3h0m3 0h0m-4 2h0m3 0h0m-1 1h0m1 0h0m-2 1h0m3 0h0m-3 2h0m1 0h0m-2 1h0m3 0h0m1 0h0m-1 1h0m-1 1h0m-1 1h0m1 0h0m-2 1h0m3 0h0m-2 1h0m1 0h0m2 0h0m-3 1h0m-1 1h0m2 0h0m2 0h0m-4 1h0m2 1h0m0 1h0m-2 1h0m1 0h0m1 1h0m2 0h0m-2 1h0m-2 1h0m2 0h0m0 3h0m0 1h0m-1 1h0m3 4h0m-2 2h0m2 0h0m-3 3h0m-1 3h0m3 60h0m-3 2h0m1 1h0m0 10h0m2 0h0m-1 1h0m-1 1h0m3 1h0m-3 2h0m1 0h0m2 0h0m-5 2h0m2 0h0m1 0h0m-1 1h0m-1 1h0m3 0h0m1 1h0m-4 1h0m1 0h0m1 0h0m1 0h0m-3 1h0m0 1h0m1 1h0m2 0h0m1 0h0m-4 1h0m1 0h0m1 0h0m1 0h0m-3 1h0m2 1h0m0 1h0m1 0h0m-3 1h0m3 0h0m1 0h0m-3 1h0m1 0h0m1 0h0m-3 1h0m1 0h0m3 0h0m-5 1h0m3 0h0m1 0h0m1 0h0m-3 1h0m1 0h0m-3 1h0m1 1h0m1 0h0m1 0h0m2 0h0m-5 1h0m1 0h0m1 0h0m1 0h0m-2 1h0m2 0h0m2 0h0m-1 1h0m-2 2h0m2 0h0m-1 1h0m2 1h0m0 1h0m-4 1h0m4 2h0m-3 8h0m1 56h0m1 0h0m-2 1h0m2 0h0m-2 1h0m1 1h0m1 3h0m2 1h0m-5 1h0m4 0h0m-3 1h0m3 0h0m-3 1h0m3 0h0m-3 1h0m1 1h0m1 0h0m1 0h0m-1 1h0m-3 1h0m0 1h0m0 1h0m1 0h0m0 1h0m3 0h0m-5 1h0m3 0h0m1 0h0m2 0h0m-6 1h0m5 0h0m-3 1h0m1 0h0m1 0h0m-2 1h0m1 0h0m1 0h0m1 0h0m-5 1h0m2 0h0m1 0h0m2 0h0m-4 1h0m1 1h0m1 0h0m1 0h0m-3 1h0m1 0h0m1 0h0m1 0h0m1 0h0m-2 1h0m1 0h0m-3 1h0m1 0h0m2 0h0m-2 1h0m2 0h0m1 0h0m-4 1h0m1 0h0m1 0h0m1 0h0m-3 1h0m1 0h0m2 0h0m1 0h0m-4 1h0m2 0h0m1 0h0m-2 1h0m2 0h0m-1 1h0m1 0h0m1 0h0m-5 1h0m1 0h0m2 0h0m1 0h0m1 0h0m1 0h0m-5 1h0m1 0h0m1 0h0m1 0h0m-1 1h0m2 0h0m1 0h0m-5 1h0m1 0h0m1 0h0m1 0h0m1 0h0m-4 1h0m1 0h0m1 0h0m1 0h0m1 0h0m-1 1h0m1 0h0m-3 1h0m2 0h0m-3 1h0m1 0h0m3 0h0m1 0h0m-2 1h0m1 1h0m-1 1h0m1 0h0m1 0h0m-5 1h0m0 1h0m-1 2h0m3 0h0m2 0h0m-3 2h0m1 0h0m-1 1h0m4 4h0m-3 6h0m-2 164h0m2 0h0m-2 1h0m2 0h0m1 0h0m1 0h0m-4 1h0m1 0h0m1 0h0m1 0h0m1 0h0m-3 1h0m1 0h0m1 0h0m1 0h0m-3 1h0m1 0h0m2 0h0m-3 1h0m1 0h0m2 0h0m-2 1h0m1 0h0m1 0h0m-4 1h0m1 0h0m1 0h0m1 0h0m1 0h0m-3 1h0m1 0h0m1 0h0m1 0h0m-4 1h0m1 0h0m1 0h0m1 0h0m1 0h0m-4 1h0m1 0h0m1 0h0m1 0h0m2 0h0m-6 1h0m1 0h0m1 0h0m2 0h0m2 0h0m-6 1h0m3 0h0m1 0h0m1 0h0m1 0h0m-6 1h0m1 0h0m1 0h0m2 0h0m1 0h0m1 0h0m1 0h0m-8 1h0m1 0h0m1 0h0m1 0h0m2 0h0m1 0h0m1 0h0m1 0h0m-10 1h0m2 0h0m1 0h0m1 0h0m1 0h0m1 0h0m1 0h0m1 0h0m1 0h0m-9 1h0m2 0h0m1 0h0m1 0h0m1 0h0m1 0h0m1 0h0m1 0h0m1 0h0m1 0h0m-8 1h0m1 0h0m1 0h0m1 0h0m1 0h0m1 0h0m1 0h0m1 0h0m1 0h0m-10 1h0m2 0h0m1 0h0m1 0h0m1 0h0m1 0h0m1 0h0m1 0h0m1 0h0m-7 1h0m1 0h0m1 0h0m1 0h0m2 0h0m1 0h0m1 0h0m1 0h0m-7 1h0m1 0h0m1 0h0m1 0h0m1 0h0m2 0h0m-7 1h0m1 0h0m1 0h0m1 0h0m1 0h0m1 0h0m1 0h0m1 0h0m-6 1h0m1 0h0m1 0h0m1 0h0m2 0h0m1 0h0m1 0h0m-10 1h0m2 0h0m1 0h0m1 0h0m1 0h0m1 0h0m2 0h0m1 0h0m-7 1h0m1 0h0m1 0h0m1 0h0m1 0h0m3 0h0m-6 1h0m1 0h0m1 0h0m2 0h0m1 0h0m-5 1h0m1 0h0m1 0h0m1 0h0m1 0h0m3 0h0m-8 1h0m1 0h0m1 0h0m1 0h0m3 0h0m1 0h0m1 0h0m-7 1h0m3 0h0m1 0h0m1 0h0m1 0h0m-6 1h0m1 0h0m2 0h0m1 0h0m1 0h0m1 0h0m-6 1h0m1 0h0m1 0h0m1 0h0m1 0h0m1 0h0m1 0h0m-6 1h0m2 0h0m1 0h0m1 0h0m-3 1h0m1 0h0m1 0h0m1 0h0m1 0h0m-3 1h0m2 0h0m1 0h0m-4 1h0m1 0h0m1 0h0m1 0h0m1 0h0m-4 1h0m1 0h0m1 0h0m1 0h0m1 0h0m-3 1h0m1 0h0m1 0h0m1 0h0m-3 1h0m1 0h0m1 0h0m-2 1h0m1 0h0m-2 1h0m1 0h0m1 0h0m-2 1h0m1 0h0m1 0h0m2 0h0m-2 1h0m-2 1h0m3 0h0m-2 1h0m1 0h0m-1 2h0m1 0h0m1 0h0m1 0h0m-3 1h0m0 1h0m2 0h0m0 3h0m0 4h0m-3 1h0m3 0h0m8-506h0m2 2h0m0 5h0m-3 5h0m2 0h0m1 1h0m-1 1h0m0 1h0m-2 1h0m2 2h0m-1 2h0m-1 1h0m3 0h0m1 0h0m-3 2h0m1 0h0m1 0h0m0 1h0m-3 1h0m0 2h0m3 0h0m1 0h0m-2 1h0m1 0h0m-1 1h0m-2 1h0m1 0h0m3 0h0m-1 1h0m1 1h0m-4 1h0m1 0h0m1 0h0m2 1h0m-3 1h0m2 0h0m-1 1h0m0 2h0m0 1h0m2 0h0m-3 2h0m-1 1h0m3 1h0m-3 1h0m2 7h0m0 64h0m-2 2h0m3 0h0m-2 5h0m2 0h0m-2 3h0m3 0h0m-4 1h0m-1 2h0m4 3h0m-2 1h0m1 2h0m1 0h0m2 0h0m-5 1h0m3 0h0m-1 1h0m1 0h0m1 0h0m-4 1h0m4 0h0m-2 1h0m2 0h0m-4 1h0m3 1h0m1 0h0m-4 1h0m1 0h0m2 0h0m1 0h0m-4 1h0m2 0h0m1 0h0m1 0h0m-4 1h0m1 0h0m2 0h0m-2 1h0m1 0h0m2 0h0m-2 1h0m1 0h0m-2 1h0m-1 1h0m3 0h0m1 0h0m-3 1h0m1 0h0m1 0h0m-2 1h0m1 0h0m1 0h0m-2 1h0m2 0h0m-2 1h0m1 0h0m1 0h0m1 1h0m-3 2h0m1 0h0m2 0h0m-3 1h0m2 0h0m1 0h0m-3 2h0m1 0h0m1 1h0m-4 1h0m1 0h0m5 0h0m-5 1h0m0 3h0m1 2h0m1 70h0m-1 1h0m1 0h0m-2 1h0m1 1h0m1 0h0m2 6h0m-4 1h0m3 0h0m-1 1h0m1 0h0m-3 1h0m1 0h0m0 1h0m1 0h0m1 0h0m-3 1h0m1 0h0m-1 1h0m2 0h0m1 1h0m1 0h0m-4 1h0m2 0h0m2 0h0m-3 1h0m2 0h0m-3 1h0m1 0h0m1 0h0m1 0h0m1 0h0m-3 1h0m1 0h0m1 0h0m1 0h0m-3 1h0m3 0h0m1 0h0m-4 1h0m1 0h0m2 0h0m-5 1h0m3 0h0m2 0h0m-4 1h0m1 0h0m1 0h0m2 0h0m-4 1h0m3 1h0m1 0h0m-4 1h0m1 0h0m-1 1h0m1 0h0m1 0h0m2 0h0m-4 1h0m1 0h0m2 0h0m-2 1h0m2 0h0m-2 1h0m1 0h0m1 0h0m1 0h0m0 1h0m-3 2h0m0 2h0m2 0h0m-2 1h0m2 0h0m-3 2h0m3 1h0m-1 7h0m1 7h0m-1 164h0m1 0h0m1 0h0m-4 1h0m2 1h0m-2 1h0m3 0h0m1 0h0m-3 1h0m1 0h0m1 0h0m1 0h0m-1 1h0m-3 1h0m1 0h0m2 0h0m-3 1h0m1 0h0m2 0h0m-2 1h0m3 0h0m-5 1h0m1 0h0m2 0h0m1 0h0m2 0h0m-5 1h0m2 0h0m3 0h0m-3 1h0m1 0h0m1 0h0m-5 1h0m1 0h0m1 0h0m1 0h0m2 0h0m2 0h0m-7 1h0m2 0h0m1 0h0m3 0h0m-5 1h0m1 0h0m1 0h0m1 0h0m1 0h0m1 0h0m1 0h0m-7 1h0m2 0h0m2 0h0m1 0h0m1 0h0m-7 1h0m2 0h0m1 0h0m2 0h0m1 0h0m-1 1h0m1 0h0m1 0h0m-5 1h0m1 0h0m3 0h0m2 0h0m-7 1h0m2 0h0m4 0h0m-7 1h0m2 0h0m1 0h0m2 0h0m1 0h0m2 0h0m-8 1h0m1 0h0m1 0h0m1 0h0m1 0h0m1 0h0m2 0h0m-4 1h0m1 0h0m3 0h0m-7 1h0m1 0h0m4 0h0m1 0h0m1 0h0m1 0h0m-5 1h0m1 0h0m1 0h0m2 0h0m-6 1h0m2 0h0m2 0h0m1 0h0m-3 1h0m1 0h0m1 0h0m2 0h0m-5 1h0m1 0h0m1 0h0m1 0h0m1 0h0m-5 1h0m2 0h0m1 0h0m-2 1h0m1 0h0m1 0h0m2 0h0m-3 1h0m1 0h0m1 0h0m1 0h0m-2 1h0m1 0h0m-3 1h0m2 0h0m1 0h0m1 0h0m-2 1h0m1 0h0m1 0h0m-2 1h0m1 0h0m-1 2h0m1 0h0m1 0h0m-2 1h0m1 0h0m1 0h0m-3 1h0m0 1h0m0 1h0m1 0h0m1 1h0m1 0h0m-3 1h0m1 1h0m-1 2h0m2 0h0m0 6h0m10-507h0m1 2h0m1 1h0m-2 4h0m1 7h0m1 1h0m-1 3h0m2 0h0m1 2h0m-1 2h0m-2 2h0m2 0h0m-3 2h0m1 0h0m1 0h0m-1 1h0m0 4h0m0 1h0m2 0h0m-1 1h0m-1 1h0m2 1h0m-2 1h0m0 1h0m0 1h0m2 0h0m-3 2h0m2 1h0m-1 1h0m2 2h0m-2 73h0m-1 1h0m-1 11h0m2 0h0m2 0h0m-3 2h0m4 0h0m-1 1h0m-1 1h0m2 0h0m-3 1h0m1 1h0m-2 1h0m4 0h0m-4 1h0m-1 2h0m2 0h0m3 0h0m-4 1h0m3 0h0m1 0h0m-3 1h0m1 0h0m1 0h0m-2 1h0m0 1h0m3 0h0m-3 1h0m1 0h0m1 0h0m1 0h0m-4 1h0m2 0h0m-2 2h0m2 1h0m1 0h0m1 0h0m-3 1h0m-1 1h0m2 0h0m2 0h0m-4 1h0m1 0h0m1 0h0m1 0h0m-3 1h0m3 0h0m1 0h0m-2 1h0m1 0h0m0 1h0m-3 1h0m3 0h0m1 0h0m-3 1h0m1 0h0m-3 1h0m4 0h0m-3 1h0m1 0h0m2 2h0m-1 1h0m-1 1h0m2 1h0m-3 6h0m4 2h0m-1 62h0m-3 1h0m2 0h0m2 0h0m-3 2h0m4 1h0m-1 2h0m-2 1h0m1 1h0m-3 1h0m3 0h0m-2 1h0m-1 2h0m2 0h0m-2 1h0m3 0h0m-2 1h0m1 0h0m2 0h0m1 1h0m-1 2h0m-1 1h0m0 1h0m-3 1h0m1 0h0m3 0h0m-4 1h0m2 0h0m1 0h0m2 0h0m-5 1h0m2 0h0m1 0h0m-3 2h0m1 0h0m3 0h0m-2 1h0m-1 1h0m2 0h0m-2 1h0m1 0h0m2 0h0m-3 1h0m1 0h0m1 0h0m1 1h0m-3 2h0m1 0h0m1 0h0m-3 1h0m1 0h0m2 1h0m1 0h0m0 1h0m-4 1h0m4 0h0m0 3h0m0 2h0m-3 2h0m2 4h0m-2 176h0m1 0h0m2 0h0m-4 1h0m3 0h0m-1 1h0m1 0h0m-3 1h0m1 0h0m1 0h0m1 0h0m-1 1h0m-2 1h0m3 0h0m-3 1h0m1 0h0m1 0h0m1 0h0m-3 1h0m0 1h0m1 0h0m1 1h0m1 0h0m1 0h0m1 0h0m-6 1h0m1 0h0m1 0h0m1 0h0m1 0h0m1 0h0m1 0h0m-4 1h0m2 0h0m2 0h0m-5 1h0m1 0h0m1 0h0m1 0h0m1 0h0m1 0h0m-6 1h0m2 0h0m1 0h0m1 0h0m1 0h0m1 0h0m-6 1h0m1 0h0m1 0h0m1 0h0m1 0h0m1 0h0m4 0h0m-8 1h0m2 0h0m1 0h0m1 0h0m-6 1h0m1 0h0m2 0h0m1 0h0m2 0h0m2 0h0m-6 1h0m1 0h0m1 0h0m2 0h0m1 0h0m3 0h0m-10 1h0m3 0h0m1 0h0m1 0h0m2 0h0m1 0h0m-8 1h0m2 0h0m1 0h0m2 0h0m5 0h0m-8 1h0m1 0h0m2 0h0m1 0h0m1 0h0m3 0h0m-9 1h0m2 0h0m3 0h0m1 0h0m1 0h0m2 0h0m-9 1h0m1 0h0m1 0h0m1 0h0m1 0h0m2 0h0m-5 1h0m1 0h0m1 0h0m2 0h0m1 0h0m3 0h0m-10 1h0m2 0h0m1 0h0m1 0h0m1 0h0m2 0h0m1 0h0m-7 1h0m1 0h0m3 0h0m2 0h0m1 0h0m2 0h0m-9 1h0m1 0h0m1 0h0m2 0h0m1 0h0m1 0h0m3 0h0m-9 1h0m3 0h0m1 0h0m1 0h0m1 0h0m3 0h0m-8 1h0m3 0h0m-2 1h0m1 0h0m1 0h0m2 0h0m-5 1h0m1 0h0m1 0h0m2 0h0m-4 1h0m2 0h0m1 0h0m1 0h0m-4 1h0m3 0h0m1 0h0m-3 1h0m1 0h0m1 0h0m1 0h0m-2 1h0m-2 1h0m2 0h0m1 0h0m0 1h0m-3 1h0m1 0h0m2 0h0m1 0h0m-2 1h0m1 0h0m0 2h0m1 0h0m-2 1h0m1 1h0m-3 1h0m2 1h0m0 1h0m-1 1h0m3 0h0m-3 4h0m1 3h0m-2 1h0m14-508h0m-2 2h0m1 4h0m1 0h0m-3 3h0m2 0h0m1 5h0m6 0h0m-10 1h0m1 1h0m-1 2h0m4 0h0m0 3h0m6 1h0m-10 1h0m0 1h0m2 0h0m0 2h0m-1 2h0m1 1h0m1 0h0m1 0h0m6 1h0m-9 1h0m2 0h0m1 0h0m-1 1h0m1 0h0m-4 1h0m4 0h0m-1 2h0m0 1h0m-2 3h0m9 1h0m-7 1h0m-2 2h0m2 2h0m-2 3h0m-1 3h0m5 48h0m-5 13h0m2 1h0m2 0h0m-5 1h0m1 1h0m0 1h0m0 2h0m10 4h0m-6 1h0m-3 2h0m1 0h0m-1 2h0m4 0h0m-1 1h0m-4 1h0m1 0h0m-1 1h0m2 0h0m1 0h0m-3 1h0m4 0h0m-2 1h0m1 0h0m-3 1h0m1 0h0m3 0h0m-4 1h0m1 0h0m-1 1h0m5 0h0m-3 1h0m1 0h0m-3 1h0m2 0h0m1 0h0m-3 1h0m1 0h0m1 0h0m1 0h0m1 0h0m-3 1h0m1 0h0m2 0h0m-3 1h0m0 1h0m2 0h0m1 0h0m1 0h0m-6 1h0m2 0h0m2 0h0m2 0h0m-5 1h0m2 0h0m0 1h0m2 0h0m-3 1h0m1 0h0m8 0h0m-10 1h0m1 0h0m1 1h0m1 0h0m7 0h0m-9 1h0m1 0h0m2 0h0m-2 1h0m1 0h0m7 1h0m-8 1h0m1 0h0m1 0h0m-4 2h0m0 1h0m1 0h0m1 0h0m-2 1h0m4 0h0m-4 1h0m1 1h0m1 1h0m-2 2h0m3 0h0m-3 1h0m3 0h0m1 0h0m-2 3h0m2 2h0m0 2h0m-2 1h0m0 47h0m1 3h0m-1 2h0m-2 2h0m4 0h0m0 2h0m-3 5h0m2 0h0m-2 2h0m3 0h0m-4 1h0m3 1h0m-4 1h0m1 0h0m2 0h0m0 1h0m0 1h0m1 0h0m2 0h0m-4 1h0m3 0h0m-2 1h0m-1 1h0m3 0h0m-3 2h0m2 0h0m1 1h0m-4 1h0m1 0h0m3 0h0m-3 1h0m3 0h0m-5 2h0m2 0h0m1 0h0m-2 1h0m1 0h0m-1 1h0m2 0h0m1 0h0m7 0h0m-10 1h0m1 0h0m2 1h0m-1 1h0m2 0h0m-1 1h0m-2 1h0m3 0h0m-4 1h0m4 0h0m-4 1h0m1 0h0m1 0h0m1 0h0m-2 1h0m3 0h0m6 0h0m-10 1h0m2 0h0m8 0h0m-9 1h0m2 0h0m7 0h0m-9 1h0m0 1h0m2 0h0m1 0h0m-3 1h0m2 0h0m1 0h0m6 0h0m-10 1h0m1 0h0m9 0h0m-11 1h0m1 0h0m2 3h0m-2 1h0m3 0h0m7 0h0m-9 3h0m3 3h0m6 0h0m-7 5h0m1 0h0m-4 6h0m1 168h0m1 0h0m2 0h0m-1 1h0m-2 1h0m1 0h0m1 0h0m-2 1h0m1 0h0m1 0h0m1 0h0m-3 1h0m1 0h0m1 0h0m1 0h0m-3 1h0m1 0h0m2 0h0m-4 1h0m1 0h0m1 0h0m1 0h0m-2 1h0m1 0h0m1 0h0m0 1h0m7 0h0m-11 1h0m1 0h0m1 0h0m1 0h0m1 0h0m1 0h0m-5 1h0m1 0h0m1 0h0m1 0h0m2 0h0m6 0h0m-9 1h0m1 0h0m2 0h0m1 0h0m5 0h0m-11 1h0m1 0h0m1 0h0m1 0h0m1 0h0m2 0h0m-5 1h0m2 0h0m1 0h0m1 0h0m1 0h0m5 0h0m-11 1h0m1 0h0m1 0h0m2 0h0m1 0h0m1 0h0m4 0h0m-10 1h0m1 0h0m1 0h0m1 0h0m1 0h0m1 0h0m2 0h0m2 0h0m2 0h0m-11 1h0m1 0h0m1 0h0m1 0h0m2 0h0m1 0h0m1 0h0m4 0h0m-11 1h0m1 0h0m1 0h0m1 0h0m1 0h0m1 0h0m1 0h0m1 0h0m3 0h0m1 0h0m-11 1h0m2 0h0m1 0h0m1 0h0m2 0h0m1 0h0m3 0h0m1 0h0m-11 1h0m1 0h0m1 0h0m1 0h0m1 0h0m2 0h0m4 0h0m1 0h0m-10 1h0m1 0h0m1 0h0m1 0h0m1 0h0m-5 1h0m1 0h0m1 0h0m2 0h0m1 0h0m-5 1h0m1 0h0m1 0h0m1 0h0m1 0h0m1 0h0m1 0h0m1 0h0m3 0h0m1 0h0m-10 1h0m1 0h0m1 0h0m2 0h0m1 0h0m1 0h0m3 0h0m-9 1h0m1 0h0m1 0h0m2 0h0m1 0h0m1 0h0m2 0h0m1 0h0m1 0h0m-11 1h0m1 0h0m1 0h0m1 0h0m3 0h0m1 0h0m4 0h0m-11 1h0m1 0h0m1 0h0m3 0h0m1 0h0m1 0h0m3 0h0m1 0h0m-11 1h0m3 0h0m2 0h0m1 0h0m3 0h0m1 0h0m1 0h0m-11 1h0m1 0h0m1 0h0m1 0h0m1 0h0m1 0h0m1 0h0m4 0h0m1 0h0m-11 1h0m1 0h0m1 0h0m2 0h0m1 0h0m1 0h0m4 0h0m1 0h0m-11 1h0m1 0h0m1 0h0m1 0h0m1 0h0m2 0h0m4 0h0m-10 1h0m1 0h0m1 0h0m2 0h0m2 0h0m4 0h0m1 0h0m-11 1h0m1 0h0m1 0h0m1 0h0m1 0h0m1 0h0m-4 1h0m1 0h0m1 0h0m1 0h0m7 0h0m-10 1h0m1 0h0m1 0h0m1 0h0m1 0h0m-4 1h0m1 0h0m1 0h0m1 0h0m1 0h0m-2 1h0m1 0h0m1 0h0m-2 1h0m2 0h0m-4 1h0m3 0h0m-2 1h0m1 0h0m1 0h0m1 0h0m-3 1h0m2 0h0m1 0h0m-4 1h0m1 0h0m1 0h0m-1 1h0m1 0h0m-2 1h0m2 0h0m1 0h0m-3 1h0m1 0h0m2 0h0m1 0h0m-4 1h0m1 0h0m1 0h0m1 0h0m-3 1h0m1 1h0m1 0h0m2 0h0m-1 1h0m-3 2h0m2 1h0m0 1h0m0 2h0m1 0h0m-2 2h0m11-504h0m2 0h0m0 5h0m-2 1h0m2 7h0m-2 3h0m0 1h0m0 1h0m2 0h0m-1 2h0m-2 1h0m3 1h0m-1 1h0m0 1h0m-1 2h0m2 2h0m-2 1h0m1 0h0m-2 2h0m0 1h0m1 0h0m1 3h0m0 1h0m-1 2h0m1 1h0m-2 14h0m3 64h0m-3 1h0m1 5h0m1 3h0m-2 3h0m2 2h0m-2 1h0m1 2h0m1 0h0m1 4h0m-3 1h0m1 0h0m-1 1h0m1 1h0m1 2h0m1 1h0m-3 2h0m0 1h0m0 1h0m2 0h0m1 1h0m-1 2h0m1 78h0m-2 3h0m0 1h0m1 1h0m-2 1h0m1 1h0m0 1h0m1 0h0m9 0h0m-10 1h0m2 0h0m8 1h0m-11 1h0m2 0h0m-2 1h0m1 1h0m1 0h0m-1 1h0m2 0h0m-2 1h0m-1 1h0m10 0h0m-8 1h0m8 0h0m-7 2h0m-2 1h0m1 0h0m9 0h0m-10 2h0m10 0h0m-11 1h0m11 0h0m-9 2h0m8 0h0m1 0h0m-10 1h0m2 0h0m8 0h0m-11 1h0m1 0h0m9 0h0m-9 1h0m10 0h0m-11 1h0m0 1h0m1 1h0m-1 2h0m1 0h0m1 0h0m-1 1h0m2 9h0m-1 178h0m1 0h0m-1 1h0m1 0h0m-3 1h0m2 0h0m-2 1h0m1 0h0m-1 1h0m1 0h0m-1 1h0m0 1h0m3 1h0m-3 1h0m1 0h0m-1 2h0m1 0h0m2 0h0m8 0h0m-10 1h0m1 0h0m9 0h0m-11 1h0m2 0h0m9 0h0m-10 1h0m2 0h0m-2 1h0m1 0h0m1 0h0m1 0h0m1 0h0m-5 1h0m1 0h0m2 0h0m1 0h0m-3 1h0m1 0h0m1 0h0m7 0h0m-9 1h0m2 0h0m8 0h0m-11 1h0m2 1h0m2 0h0m7 0h0m-9 1h0m1 0h0m1 0h0m1 0h0m-5 1h0m3 0h0m-3 1h0m3 0h0m7 0h0m1 0h0m-10 1h0m2 0h0m8 0h0m-10 1h0m1 0h0m1 0h0m1 0h0m6 0h0m-10 1h0m2 0h0m1 0h0m1 0h0m1 0h0m-5 1h0m1 0h0m10 0h0m-11 1h0m1 0h0m2 0h0m2 0h0m-4 1h0m1 0h0m1 0h0m1 0h0m-2 1h0m1 0h0m1 0h0m-3 1h0m1 0h0m0 1h0m-2 1h0m2 0h0m-2 1h0m1 0h0m2 0h0m-3 1h0m2 0h0m-1 1h0m1 0h0m1 0h0m-3 1h0m1 0h0m2 0h0m-3 1h0m1 0h0m1 0h0m0 1h0m-1 1h0m1 0h0m-2 1h0m1 1h0m2 1h0m-3 1h0m2 0h0m-2 1h0m1 0h0m1 1h0m1 1h0m-2 3h0m1 1h0m11-386h0m2 1h0m7 6h0m0 3h0m1 2h0m-9 2h0m0 1h0m1 0h0m1 0h0m6 1h0m-10 2h0m2 0h0m1 0h0m8 0h0m-9 2h0m1 0h0m0 2h0m1 0h0m6 0h0m-10 1h0m1 0h0m3 0h0m7 0h0m-11 1h0m1 0h0m1 0h0m1 0h0m7 0h0m1 0h0m-10 1h0m2 0h0m-2 1h0m3 0h0m7 0h0m-10 1h0m2 0h0m1 0h0m6 0h0m-8 1h0m8 0h0m1 0h0m-10 1h0m1 0h0m8 0h0m-9 1h0m1 0h0m1 0h0m-3 1h0m1 0h0m1 0h0m9 0h0m-9 1h0m2 0h0m7 0h0m-1 1h0m-9 1h0m2 0h0m-1 1h0m1 0h0m7 0h0m1 0h0m-11 2h0m2 0h0m2 0h0m7 0h0m-11 1h0m3 0h0m0 2h0m8 1h0m0 3h0m0 56h0m-10 1h0m2 0h0m-1 2h0m9 3h0m0 2h0m-8 2h0m7 1h0m-9 3h0m-1 1h0m4 2h0m-4 1h0m11 0h0m-6 2h0m-3 1h0m8 0h0m1 0h0m-10 1h0m1 0h0m1 0h0m1 0h0m-4 1h0m11 0h0m-11 1h0m1 0h0m2 0h0m6 0h0m-9 1h0m1 0h0m2 0h0m6 0h0m2 0h0m-8 1h0m8 0h0m-7 1h0m5 0h0m2 0h0m-10 1h0m0 1h0m4 0h0m4 0h0m1 0h0m-9 1h0m1 0h0m4 0h0m4 0h0m1 0h0m-2 1h0m-9 1h0m1 0h0m4 0h0m6 0h0m-1 1h0m-10 1h0m4 0h0m1 0h0m-2 2h0m1 0h0m1 0h0m5 0h0m-5 1h0m-1 1h0m7 0h0m-11 1h0m4 0h0m6 0h0m1 0h0m-8 1h0m2 0h0m-2 1h0m-2 1h0m2 0h0m3 0h0m-6 1h0m2 0h0m-2 1h0m3 0h0m2 0h0m-4 1h0m1 1h0m1 0h0m2 0h0m6 0h0m-10 1h0m9 0h0m1 0h0m0 1h0m-8 1h0m-2 1h0m1 0h0m2 0h0m-2 1h0m1 0h0m8 0h0m-8 1h0m1 0h0m-2 1h0m9 2h0m-7 5h0m-3 2h0m-1 175h0m1 0h0m1 0h0m1 0h0m-3 1h0m1 0h0m2 0h0m-2 1h0m2 0h0m8 0h0m-11 1h0m1 0h0m1 0h0m9 0h0m-8 1h0m8 0h0m-10 1h0m1 0h0m9 0h0m-11 1h0m3 0h0m7 0h0m-10 1h0m1 0h0m1 0h0m1 0h0m1 0h0m1 0h0m6 0h0m-11 1h0m2 0h0m1 0h0m1 0h0m1 0h0m5 0h0m1 0h0m-11 1h0m2 0h0m1 0h0m1 0h0m7 0h0m-10 1h0m1 0h0m1 0h0m1 0h0m5 0h0m2 0h0m-10 1h0m1 0h0m7 0h0m1 0h0m1 0h0m-11 1h0m3 0h0m2 0h0m4 0h0m2 0h0m-11 1h0m5 0h0m6 0h0m-10 1h0m4 0h0m1 0h0m2 0h0m1 0h0m1 0h0m-9 1h0m1 0h0m2 0h0m1 0h0m1 0h0m3 0h0m1 0h0m1 0h0m-10 1h0m2 0h0m2 0h0m4 0h0m-9 1h0m1 0h0m1 0h0m1 0h0m2 0h0m1 0h0m4 0h0m1 0h0m-11 1h0m1 0h0m1 0h0m1 0h0m1 0h0m1 0h0m3 0h0m1 0h0m1 0h0m1 0h0m-9 1h0m6 0h0m1 0h0m1 0h0m1 0h0m-11 1h0m2 0h0m1 0h0m1 0h0m1 0h0m1 0h0m3 0h0m1 0h0m1 0h0m-9 1h0m1 0h0m1 0h0m1 0h0m1 0h0m5 0h0m-11 1h0m1 0h0m4 0h0m6 0h0m-11 1h0m1 0h0m2 0h0m1 0h0m5 0h0m-5 1h0m5 0h0m1 0h0m1 0h0m-11 1h0m2 0h0m3 0h0m5 0h0m1 0h0m-11 1h0m1 0h0m1 0h0m2 0h0m1 0h0m6 0h0m-11 1h0m1 0h0m2 0h0m7 0h0m1 0h0m-11 1h0m1 0h0m1 0h0m1 0h0m8 0h0m-7 1h0m7 0h0m-10 1h0m3 0h0m-1 1h0m8 0h0m-11 1h0m10 0h0m1 0h0m-10 1h0m1 0h0m1 0h0m8 0h0m-10 1h0m1 0h0m9 0h0m0 1h0m0 2h0m-9 1h0m1 0h0m-3 1h0m11 0h0m-10 1h0m10 2h0m0 1h0m-9 1h0m8 6h0m12-377h0m-1 1h0m1 1h0m-10 2h0m10 1h0m-9 3h0m10 1h0m-10 1h0m1 0h0m-2 1h0m11 0h0m-11 1h0m9 0h0m2 0h0m-11 1h0m1 0h0m8 0h0m-1 1h0m-8 1h0m9 0h0m-9 1h0m2 0h0m6 0h0m2 0h0m-10 1h0m2 0h0m7 0h0m1 0h0m1 0h0m-11 1h0m1 0h0m8 0h0m2 0h0m-10 1h0m1 0h0m-2 1h0m1 1h0m1 0h0m8 0h0m-10 1h0m8 0h0m2 0h0m1 0h0m0 1h0m-10 1h0m10 0h0m-9 1h0m7 0h0m2 0h0m-9 1h0m-2 1h0m11 1h0m-1 1h0m-9 1h0m1 5h0m6 0h0m0 6h0m-6 52h0m7 1h0m1 0h0m-10 2h0m1 0h0m1 0h0m-2 1h0m1 1h0m7 1h0m2 0h0m0 1h0m-8 1h0m-1 1h0m1 0h0m-1 1h0m-1 1h0m8 0h0m2 1h0m1 0h0m-1 1h0m-10 1h0m10 0h0m-9 1h0m-1 1h0m1 0h0m8 0h0m1 0h0m-10 1h0m2 1h0m0 1h0m9 0h0m-11 1h0m10 0h0m-10 1h0m1 0h0m7 0h0m1 0h0m0 1h0m-9 1h0m8 0h0m-6 1h0m7 0h0m2 0h0m-11 1h0m1 0h0m8 0h0m1 0h0m-10 1h0m10 0h0m-9 1h0m8 1h0m-8 1h0m7 0h0m1 0h0m1 0h0m-10 1h0m1 0h0m1 0h0m8 0h0m1 0h0m-11 1h0m2 0h0m1 0h0m4 0h0m2 1h0m1 0h0m-9 1h0m-1 1h0m1 0h0m7 0h0m3 0h0m-10 1h0m6 0h0m-7 1h0m7 0h0m-6 1h0m0 1h0m1 0h0m6 0h0m1 0h0m-9 1h0m9 0h0m2 0h0m-1 1h0m1 0h0m-10 1h0m-1 2h0m1 0h0m7 0h0m0 1h0m-1 1h0m3 0h0m-1 1h0m2 0h0m-3 1h0m0 1h0m2 0h0m1 2h0m-1 2h0m-1 2h0m1 4h0m1 0h0m0 3h0m-10 174h0m10 0h0m-11 1h0m1 0h0m7 0h0m-6 1h0m6 0h0m2 0h0m1 0h0m-11 1h0m1 0h0m7 0h0m1 0h0m2 0h0m-11 1h0m1 0h0m9 0h0m-10 1h0m9 0h0m1 0h0m-9 1h0m1 0h0m7 0h0m1 0h0m1 0h0m-11 1h0m1 0h0m1 0h0m6 0h0m3 0h0m-11 1h0m1 0h0m1 0h0m9 0h0m-11 1h0m1 0h0m1 0h0m6 0h0m2 0h0m1 0h0m-8 1h0m5 0h0m3 0h0m-11 1h0m2 0h0m1 0h0m4 0h0m3 0h0m1 0h0m-11 1h0m1 0h0m2 0h0m4 0h0m1 0h0m3 0h0m-11 1h0m1 0h0m2 0h0m1 0h0m3 0h0m3 0h0m-9 1h0m1 0h0m2 0h0m6 0h0m-10 1h0m2 0h0m1 0h0m3 0h0m-6 1h0m1 0h0m2 0h0m1 0h0m2 0h0m1 0h0m3 0h0m-10 1h0m2 0h0m1 0h0m4 0h0m3 0h0m-10 1h0m1 0h0m1 0h0m1 0h0m4 0h0m1 0h0m1 0h0m1 0h0m1 0h0m-11 1h0m1 0h0m2 0h0m3 0h0m2 0h0m1 0h0m-8 1h0m1 0h0m1 0h0m1 0h0m6 0h0m1 0h0m-10 1h0m1 0h0m5 0h0m3 0h0m1 0h0m-11 1h0m2 0h0m1 0h0m5 0h0m-7 1h0m1 0h0m7 0h0m1 0h0m-10 1h0m2 0h0m7 0h0m1 0h0m1 0h0m-9 1h0m6 0h0m2 0h0m1 0h0m-11 1h0m1 0h0m6 0h0m1 0h0m2 0h0m1 0h0m-11 1h0m1 0h0m7 0h0m1 0h0m1 0h0m1 0h0m-10 1h0m7 0h0m1 0h0m2 0h0m-10 1h0m7 0h0m1 0h0m-8 1h0m1 0h0m6 0h0m1 0h0m1 0h0m1 0h0m-10 1h0m9 0h0m-10 1h0m9 0h0m-8 1h0m8 0h0m-9 1h0m1 0h0m8 0h0m-9 1h0m10 0h0m-2 1h0m2 1h0m1 0h0m-11 1h0m1 0h0m1 0h0m-1 1h0m10 0h0m-11 1h0m10 0h0m-9 3h0m-1 2h0m0 9h0m21-501h0m2 8h0m-1 3h0m1 11h0m-1 1h0m1 0h0m-1 1h0m1 0h0m-1 1h0m0 1h0m0 1h0m0 3h0m0 1h0m-1 1h0m1 0h0m1 11h0m0 76h0m-11 3h0m10 2h0m-1 1h0m-9 1h0m10 0h0m1 0h0m-11 2h0m0 2h0m10 0h0m1 0h0m-2 1h0m2 0h0m-11 1h0m11 0h0m-11 1h0m9 0h0m1 0h0m-1 1h0m1 0h0m1 0h0m-11 1h0m9 0h0m2 0h0m-11 1h0m10 0h0m0 1h0m1 0h0m-2 1h0m1 0h0m1 0h0m-1 1h0m-10 1h0m0 1h0m10 0h0m-10 1h0m10 0h0m1 0h0m-11 1h0m10 1h0m1 0h0m-1 1h0m1 0h0m0 1h0m-1 1h0m1 0h0m-2 1h0m1 0h0m-10 1h0m10 1h0m1 0h0m-11 1h0m9 0h0m2 3h0m-1 1h0m-1 5h0m2 3h0m-1 47h0m1 4h0m-1 2h0m0 3h0m-1 1h0m1 1h0m-1 9h0m1 0h0m-10 1h0m10 0h0m0 1h0m-1 1h0m0 4h0m0 1h0m2 0h0m-2 2h0m2 0h0m-10 1h0m8 0h0m1 0h0m1 0h0m-11 1h0m11 0h0m0 1h0m-11 1h0m1 0h0m9 0h0m-10 1h0m9 0h0m2 0h0m-1 2h0m1 0h0m-11 1h0m2 0h0m8 2h0m1 1h0m0 1h0m-10 1h0m8 0h0m1 0h0m0 1h0m1 0h0m0 1h0m-2 1h0m2 0h0m-11 1h0m9 0h0m2 0h0m-11 1h0m9 0h0m1 0h0m-10 1h0m9 0h0m1 0h0m0 1h0m-1 2h0m1 0h0m-1 1h0m2 0h0m0 2h0m-1 2h0m-10 1h0m9 0h0m2 2h0m0 3h0m-1 174h0m0 1h0m1 0h0m0 1h0m0 1h0m-1 1h0m1 0h0m-2 1h0m1 0h0m1 0h0m-11 1h0m9 0h0m0 1h0m1 0h0m1 0h0m-11 1h0m8 0h0m1 0h0m1 0h0m-1 1h0m2 0h0m-11 1h0m8 0h0m1 0h0m1 0h0m1 0h0m-11 1h0m7 0h0m2 0h0m1 0h0m1 0h0m-11 1h0m1 0h0m7 0h0m2 0h0m-9 1h0m1 0h0m6 0h0m2 0h0m-9 1h0m6 0h0m1 0h0m1 0h0m1 0h0m1 0h0m-10 1h0m1 0h0m6 0h0m1 0h0m1 0h0m-10 1h0m1 0h0m6 0h0m1 0h0m3 0h0m-11 1h0m2 0h0m5 0h0m2 0h0m-8 1h0m7 0h0m2 0h0m1 0h0m-2 1h0m1 0h0m1 0h0m-11 1h0m9 0h0m2 0h0m-11 1h0m2 0h0m5 0h0m1 0h0m1 0h0m-9 1h0m8 0h0m1 0h0m1 0h0m-10 1h0m8 0h0m3 0h0m-11 1h0m9 0h0m2 0h0m-3 1h0m1 0h0m1 0h0m1 0h0m-3 1h0m2 0h0m1 0h0m-11 1h0m9 0h0m1 0h0m0 2h0m1 0h0m-2 1h0m1 0h0m1 0h0m0 1h0m-1 1h0m1 0h0m-1 1h0m-1 2h0m2 2h0m-1 1h0m-10 1h0m10 2h0m0 6h0m9-501h0m1 0h0m2 8h0m1 5h0m-1 6h0m-10 1h0m7 1h0m0 1h0m-7 1h0m1 0h0m6 1h0m-7 1h0m9 0h0m-8 1h0m6 0h0m3 0h0m1 1h0m-2 2h0m1 1h0m-9 1h0m-1 1h0m7 1h0m2 0h0m-2 1h0m4 0h0m-3 1h0m-8 1h0m7 0h0m3 0h0m-10 1h0m9 1h0m-9 2h0m9 2h0m2 3h0m-4 76h0m2 0h0m-1 4h0m3 0h0m0 1h0m-5 1h0m2 0h0m1 1h0m-2 1h0m-7 1h0m8 0h0m1 0h0m-8 2h0m10 0h0m-3 1h0m2 0h0m-1 1h0m-8 1h0m1 0h0m-2 2h0m1 0h0m8 0h0m2 0h0m-4 1h0m1 1h0m2 0h0m1 0h0m-9 1h0m5 0h0m1 0h0m2 0h0m1 0h0m-11 1h0m7 0h0m1 0h0m3 0h0m-3 1h0m1 0h0m1 0h0m-9 1h0m7 0h0m2 0h0m1 0h0m-11 1h0m7 0h0m1 0h0m1 0h0m-2 1h0m2 0h0m-9 1h0m8 0h0m1 0h0m1 0h0m-10 1h0m1 0h0m6 0h0m1 0h0m2 0h0m1 0h0m-11 1h0m1 0h0m5 0h0m1 0h0m-6 1h0m6 0h0m1 0h0m1 0h0m1 0h0m1 0h0m-11 1h0m7 0h0m2 0h0m0 1h0m1 0h0m1 0h0m-11 1h0m1 0h0m6 0h0m1 0h0m1 0h0m2 0h0m-11 1h0m1 0h0m8 0h0m1 0h0m1 0h0m-10 1h0m6 0h0m1 0h0m1 0h0m1 0h0m1 0h0m-10 1h0m6 0h0m2 0h0m2 0h0m-10 1h0m0 1h0m6 0h0m-6 1h0m9 0h0m-10 1h0m9 0h0m-9 1h0m7 0h0m2 2h0m0 1h0m2 1h0m-2 2h0m0 52h0m-2 2h0m3 0h0m-4 1h0m-5 1h0m8 0h0m-1 2h0m-1 2h0m1 0h0m-7 2h0m-1 1h0m11 0h0m-2 3h0m-8 2h0m0 1h0m7 0h0m2 1h0m-3 1h0m1 1h0m2 0h0m-9 1h0m7 0h0m3 0h0m-4 1h0m2 0h0m2 1h0m-10 1h0m7 1h0m1 0h0m1 0h0m-9 1h0m7 0h0m2 0h0m1 1h0m-2 1h0m1 1h0m1 0h0m-10 1h0m10 0h0m-11 1h0m7 0h0m1 0h0m-8 1h0m8 0h0m-7 1h0m8 0h0m2 0h0m-11 1h0m11 0h0m-10 1h0m7 0h0m1 0h0m1 0h0m-10 1h0m1 0h0m7 0h0m2 0h0m1 0h0m-11 1h0m1 0h0m7 0h0m1 0h0m1 0h0m-3 1h0m4 0h0m-10 1h0m6 0h0m4 0h0m0 1h0m-11 1h0m1 0h0m6 0h0m3 0h0m1 0h0m-11 1h0m1 0h0m9 0h0m-9 1h0m6 1h0m1 0h0m1 0h0m1 0h0m-3 1h0m-1 1h0m1 0h0m1 0h0m1 0h0m2 0h0m-11 1h0m1 0h0m8 1h0m1 0h0m-10 1h0m7 0h0m-6 1h0m6 1h0m4 0h0m-10 1h0m8 1h0m1 4h0m-3 10h0m1 167h0m2 0h0m-1 1h0m-9 1h0m8 0h0m1 0h0m1 1h0m-10 1h0m7 0h0m2 0h0m2 0h0m-11 1h0m1 0h0m7 0h0m2 0h0m0 1h0m1 0h0m-3 1h0m1 0h0m-1 1h0m-8 1h0m1 0h0m6 0h0m1 0h0m1 0h0m1 0h0m-10 1h0m1 0h0m7 0h0m-7 1h0m5 0h0m2 0h0m2 0h0m-8 1h0m4 0h0m1 0h0m1 0h0m2 0h0m1 0h0m-10 1h0m5 0h0m3 0h0m1 0h0m-3 1h0m1 0h0m2 0h0m1 0h0m-10 1h0m1 0h0m4 0h0m1 0h0m1 0h0m1 0h0m1 0h0m-10 1h0m1 0h0m1 0h0m5 0h0m1 0h0m-7 1h0m1 0h0m3 0h0m1 0h0m1 0h0m1 0h0m1 0h0m-9 1h0m2 0h0m5 0h0m2 0h0m1 0h0m1 0h0m-9 1h0m4 0h0m1 0h0m1 0h0m1 0h0m1 0h0m-9 1h0m1 0h0m1 0h0m3 0h0m1 0h0m2 0h0m1 0h0m1 0h0m-11 1h0m1 0h0m1 0h0m1 0h0m3 0h0m2 0h0m1 0h0m1 0h0m-10 1h0m1 0h0m1 0h0m1 0h0m2 0h0m1 0h0m1 0h0m1 0h0m1 0h0m1 0h0m1 0h0m-9 1h0m1 0h0m2 0h0m1 0h0m1 0h0m2 0h0m1 0h0m1 0h0m-11 1h0m2 0h0m3 0h0m1 0h0m2 0h0m1 0h0m2 0h0m-11 1h0m6 0h0m1 0h0m1 0h0m3 0h0m-10 1h0m5 0h0m1 0h0m3 0h0m-9 1h0m1 0h0m4 0h0m1 0h0m1 0h0m2 0h0m1 0h0m-11 1h0m8 0h0m1 0h0m1 0h0m-10 1h0m1 0h0m1 0h0m6 0h0m1 0h0m2 0h0m-10 1h0m8 0h0m1 0h0m-2 1h0m1 0h0m2 0h0m-4 1h0m1 0h0m1 0h0m2 0h0m-3 1h0m1 0h0m1 0h0m1 0h0m-4 1h0m1 0h0m1 0h0m1 0h0m-10 1h0m8 0h0m1 0h0m1 0h0m1 0h0m-11 1h0m1 0h0m8 0h0m1 0h0m1 0h0m-4 1h0m1 0h0m-8 1h0m8 0h0m2 0h0m-10 1h0m7 1h0m1 0h0m1 0h0m0 1h0m1 3h0m-3 1h0m1 0h0m1 0h0m-1 1h0m1 2h0m-2 1h0m4 2h0m6-502h0m1 5h0m2 6h0m-2 4h0m2 2h0m1 0h0m-2 2h0m1 6h0m-3 1h0m3 2h0m-2 1h0m2 0h0m-3 2h0m1 0h0m1 1h0m2 0h0m-1 2h0m-3 2h0m0 1h0m1 3h0m1 2h0m2 0h0m-2 4h0m-1 1h0m1 3h0m2 74h0m-3 4h0m-1 3h0m1 0h0m2 0h0m-3 1h0m0 2h0m3 1h0m1 0h0m-3 1h0m0 2h0m1 0h0m-2 1h0m1 0h0m2 0h0m-3 1h0m3 0h0m-3 1h0m1 0h0m2 0h0m1 0h0m-2 1h0m1 0h0m-2 1h0m1 0h0m-1 1h0m0 1h0m2 0h0m1 0h0m-4 1h0m1 0h0m3 0h0m-9 1h0m5 0h0m2 0h0m1 0h0m1 0h0m-9 1h0m4 0h0m2 0h0m2 0h0m-3 1h0m1 0h0m1 0h0m1 0h0m1 0h0m-3 1h0m1 0h0m2 0h0m-3 1h0m3 0h0m0 1h0m-5 2h0m1 0h0m2 0h0m-2 1h0m1 0h0m1 0h0m1 1h0m-3 1h0m3 0h0m1 0h0m-4 1h0m1 0h0m1 0h0m-2 2h0m1 0h0m1 0h0m1 0h0m-4 1h0m5 0h0m0 5h0m0 56h0m-4 3h0m3 2h0m-2 2h0m0 1h0m-1 1h0m1 0h0m2 4h0m-2 1h0m2 0h0m1 0h0m-9 1h0m7 0h0m-3 1h0m4 1h0m-2 1h0m-1 1h0m2 0h0m-2 1h0m4 0h0m-2 1h0m2 0h0m-2 1h0m2 0h0m-4 1h0m2 1h0m1 0h0m1 0h0m-2 1h0m-3 1h0m1 0h0m1 0h0m3 0h0m-4 1h0m3 0h0m-2 1h0m1 0h0m1 0h0m-3 1h0m2 0h0m0 1h0m1 0h0m-2 1h0m1 0h0m1 0h0m-2 1h0m1 0h0m-2 1h0m3 0h0m1 0h0m-4 1h0m3 0h0m1 0h0m-2 1h0m-3 1h0m2 0h0m-6 1h0m6 0h0m2 0h0m1 0h0m-4 1h0m2 0h0m1 0h0m1 0h0m-4 1h0m1 0h0m1 1h0m1 0h0m1 0h0m-2 1h0m2 0h0m-1 2h0m1 0h0m-3 1h0m1 2h0m-1 1h0m1 0h0m1 2h0m0 1h0m-1 2h0m1 1h0m1 0h0m-3 2h0m-1 4h0m1 171h0m3 1h0m-3 1h0m0 1h0m3 0h0m-3 1h0m1 0h0m2 0h0m-4 1h0m2 0h0m-2 1h0m1 0h0m3 0h0m-2 2h0m0 1h0m1 0h0m1 0h0m-2 1h0m1 0h0m1 0h0m-4 1h0m1 0h0m4 0h0m-10 1h0m8 0h0m-5 1h0m2 0h0m2 0h0m2 0h0m2 0h0m-11 1h0m1 0h0m3 0h0m1 0h0m1 0h0m2 0h0m1 0h0m-9 1h0m1 0h0m2 0h0m1 0h0m2 0h0m1 0h0m3 0h0m-10 1h0m1 0h0m6 0h0m1 0h0m1 0h0m-9 1h0m1 0h0m3 0h0m2 0h0m2 0h0m1 0h0m1 0h0m-10 1h0m3 0h0m3 0h0m1 0h0m1 0h0m2 0h0m-10 1h0m5 0h0m4 0h0m1 0h0m1 0h0m-8 1h0m2 0h0m1 0h0m2 0h0m2 0h0m-4 1h0m2 0h0m1 0h0m-9 1h0m5 0h0m1 0h0m1 0h0m2 0h0m2 0h0m-6 1h0m2 0h0m4 0h0m-11 1h0m1 0h0m5 0h0m2 0h0m1 0h0m1 0h0m1 0h0m-11 1h0m4 0h0m1 0h0m1 0h0m2 0h0m1 0h0m-9 1h0m4 0h0m2 0h0m1 0h0m1 0h0m2 0h0m-5 1h0m1 0h0m1 0h0m3 0h0m-2 1h0m1 0h0m1 0h0m-5 1h0m2 0h0m2 0h0m-4 1h0m1 0h0m2 0h0m-3 1h0m1 0h0m1 0h0m1 0h0m1 0h0m-3 1h0m1 0h0m1 0h0m1 0h0m-4 1h0m1 0h0m2 0h0m-2 1h0m2 0h0m-2 1h0m1 1h0m-1 2h0m1 2h0m-1 2h0m-1 1h0m0 7h0m1 2h0m3 0h0m11-500h0m1 0h0m0 1h0m-2 7h0m3 5h0m-3 2h0m0 1h0m1 0h0m-1 2h0m1 1h0m-2 2h0m1 2h0m2 1h0m1 0h0m-3 1h0m0 6h0m0 4h0m-1 18h0m2 59h0m1 2h0m0 1h0m1 0h0m-3 1h0m2 3h0m1 0h0m-1 2h0m-3 6h0m2 1h0m1 1h0m-2 1h0m0 2h0m1 0h0m-1 1h0m1 0h0m1 0h0m1 0h0m-2 3h0m-1 1h0m3 1h0m-3 3h0m3 0h0m-4 2h0m1 0h0m-1 3h0m1 4h0m0 3h0m-1 311h0m2 8h0m-2 2h0m1 2h0m1 1h0m-2 3h0m1 3h0m3 0h0m-4 1h0m2 0h0m2 0h0m-2 1h0m1 0h0m-1 1h0m-2 1h0m1 0h0m-1 1h0m3 0h0m-2 1h0m-2 1h0m1 0h0m2 0h0m1 0h0m2 0h0m-5 1h0m1 0h0m1 0h0m2 0h0m-5 1h0m1 0h0m2 0h0m1 0h0m-3 1h0m3 0h0m-1 1h0m1 0h0m-3 1h0m1 0h0m2 0h0m-3 1h0m2 0h0m1 0h0m1 0h0m1 0h0m-6 1h0m1 0h0m1 1h0m0 1h0m1 1h0m-1 1h0m2 0h0m-3 1h0m4 0h0m-4 1h0m1 1h0m0 1h0m4 0h0m-2 1h0m0 1h0m-3 7h0m21-529h0m-1 1h0m1 0h0m3 8h0m-2 8h0m-1 5h0m2 0h0m-2 10h0m3 3h0m-3 3h0m3 11h0m-3 10h0m0 63h0m1 10h0m2 2h0m-4 2h0m3 1h0m-3 3h0m2 4h0m2 0h0m0 1h0m-1 2h0m1 0h0m-2 3h0m-1 1h0m2 0h0m1 0h0m-2 3h0m2 0h0m-3 1h0m-1 3h0m3 2h0m-3 1h0m3 0h0m-1 3h0m-1 5h0m2 1h0m-1 1h0m0 2h0m-1 2h0m3 5h0m-2 303h0m3 0h0m-4 1h0m0 1h0m2 0h0m0 6h0m-3 1h0m3 0h0m-1 1h0m1 1h0m-3 4h0m1 0h0m1 0h0m2 2h0m-4 1h0m1 1h0m2 0h0m-3 1h0m2 0h0m-2 1h0m1 0h0m3 0h0m-4 1h0m3 0h0m-3 1h0m1 0h0m3 0h0m0 1h0m-3 1h0m0 1h0m2 0h0m1 0h0m-4 1h0m1 0h0m1 0h0m1 1h0m1 0h0m-3 1h0m2 0h0m-4 1h0m2 0h0m2 1h0m-2 1h0m3 0h0m-3 1h0m1 0h0m2 0h0m-4 1h0m2 0h0m-2 1h0m1 1h0m2 0h0m-2 1h0m1 1h0m-2 1h0m4 0h0m-3 1h0m2 1h0m1 1h0m0 1h0m13-615h0m0 1h0m0 2h0m-4 1h0m1 1h0m1 9h0m-2 5h0m2 0h0m2 0h0m0 1h0m-3 1h0m-1 1h0m3 0h0m0 1h0m-3 1h0m4 0h0m-4 1h0m1 0h0m1 0h0m1 0h0m-3 1h0m2 0h0m1 0h0m0 1h0m-3 1h0m3 0h0m2 0h0m-5 1h0m2 0h0m-1 1h0m1 0h0m1 0h0m1 0h0m-4 1h0m2 0h0m2 1h0m-2 1h0m-2 1h0m1 0h0m1 0h0m1 0h0m0 1h0m1 0h0m-4 1h0m2 1h0m2 4h0m-1 1h0m1 65h0m-2 2h0m1 3h0m0 1h0m-1 2h0m1 2h0m-1 1h0m0 1h0m-3 1h0m1 3h0m2 0h0m2 2h0m-1 1h0m1 0h0m-1 1h0m-2 1h0m3 1h0m0 1h0m-2 1h0m1 0h0m-3 1h0m1 0h0m3 0h0m-4 1h0m4 0h0m1 0h0m-5 1h0m1 0h0m1 1h0m1 0h0m-2 1h0m1 0h0m1 0h0m1 0h0m-3 1h0m2 0h0m1 0h0m-5 1h0m2 0h0m1 0h0m1 0h0m-3 1h0m2 0h0m2 0h0m1 0h0m-5 1h0m2 0h0m1 0h0m-1 1h0m2 0h0m-4 1h0m1 0h0m3 0h0m-4 1h0m1 0h0m2 0h0m1 0h0m-3 1h0m2 0h0m-3 1h0m1 0h0m1 0h0m-3 1h0m1 0h0m3 0h0m1 0h0m-4 1h0m1 0h0m1 0h0m1 0h0m1 0h0m-4 1h0m1 0h0m-1 1h0m3 0h0m-1 1h0m0 2h0m1 0h0m-3 1h0m5 0h0m-4 1h0m0 83h0m0 4h0m0 2h0m-1 1h0m1 0h0m1 0h0m0 4h0m-2 1h0m1 0h0m1 0h0m1 0h0m1 0h0m-2 1h0m-1 1h0m-1 1h0m1 0h0m2 0h0m-3 1h0m2 1h0m1 0h0m1 0h0m-4 1h0m4 0h0m-1 1h0m1 1h0m-3 1h0m1 0h0m1 0h0m2 0h0m-5 1h0m1 0h0m2 0h0m1 1h0m-3 1h0m1 0h0m1 0h0m1 0h0m1 0h0m-4 1h0m2 0h0m1 0h0m-3 1h0m-1 1h0m1 0h0m3 0h0m-3 1h0m1 0h0m1 0h0m0 2h0m1 0h0m-2 56h0m0 3h0m0 1h0m0 2h0m-1 7h0m2 0h0m0 2h0m1 2h0m-3 3h0m3 0h0m-1 1h0m-1 1h0m2 0h0m-4 1h0m3 0h0m1 0h0m-2 3h0m1 0h0m-3 1h0m2 0h0m-1 1h0m1 0h0m-2 1h0m0 1h0m0 1h0m1 0h0m3 0h0m-3 1h0m1 1h0m1 0h0m0 1h0m-3 1h0m1 0h0m2 0h0m-3 2h0m3 0h0m-3 1h0m1 0h0m1 0h0m2 0h0m-4 1h0m1 0h0m1 0h0m1 0h0m1 0h0m-2 1h0m1 0h0m-2 1h0m3 0h0m-4 1h0m2 0h0m1 0h0m-3 1h0m1 0h0m1 0h0m2 0h0m-4 1h0m1 0h0m3 0h0m-1 1h0m1 0h0m-4 1h0m1 0h0m1 0h0m1 0h0m-3 1h0m1 0h0m1 0h0m1 0h0m1 0h0m-2 1h0m1 0h0m-2 1h0m2 0h0m-3 1h0m1 0h0m1 0h0m1 0h0m1 0h0m-5 1h0m1 0h0m1 0h0m1 0h0m1 0h0m1 0h0m-4 1h0m4 0h0m-2 1h0m1 0h0m1 0h0m1 0h0m-3 1h0m1 0h0m1 0h0m-2 1h0m3 0h0m-4 1h0m2 0h0m-3 1h0m4 0h0m-1 1h0m0 1h0m-3 2h0m2 0h0m0 1h0m2 1h0m-2 1h0m-2 1h0m2 53h0m1 5h0m-1 2h0m-1 4h0m1 0h0m2 0h0m-3 1h0m1 0h0m1 0h0m1 0h0m-2 1h0m-1 2h0m2 0h0m-3 1h0m2 1h0m1 0h0m-3 1h0m4 0h0m-1 1h0m-2 1h0m2 0h0m-3 1h0m1 0h0m1 0h0m1 0h0m1 0h0m-3 1h0m2 0h0m-2 1h0m1 0h0m1 0h0m-1 1h0m-2 1h0m3 0h0m1 0h0m-4 1h0m2 0h0m2 0h0m-4 1h0m3 0h0m1 0h0m-5 1h0m1 0h0m2 0h0m1 0h0m-3 1h0m2 0h0m2 0h0m-4 1h0m1 0h0m1 0h0m3 0h0m-5 1h0m2 0h0m3 0h0m-5 1h0m-1 1h0m1 0h0m1 0h0m1 0h0m1 0h0m2 0h0m-5 1h0m2 0h0m3 0h0m-6 1h0m2 0h0m2 0h0m1 0h0m-5 1h0m1 0h0m1 0h0m1 0h0m1 0h0m2 0h0m-2 1h0m1 0h0m1 0h0m-5 1h0m2 0h0m1 0h0m1 0h0m-2 1h0m2 0h0m1 0h0m-3 1h0m1 0h0m1 0h0m-5 1h0m1 0h0m4 0h0m-4 1h0m2 0h0m2 0h0m-1 1h0m-3 1h0m1 0h0m3 0h0m-3 1h0m2 0h0m0 2h0m-3 1h0m1 0h0m2 1h0m-3 2h0m0 1h0m3 2h0m-3 3h0m3 0h0m-3 1h0m2 3h0m1 56h0m1 0h0m-3 2h0m2 5h0m-2 2h0m1 0h0m1 0h0m0 1h0m-2 2h0m3 0h0m-1 1h0m-3 1h0m0 1h0m4 0h0m-3 1h0m2 0h0m-3 1h0m2 0h0m-1 1h0m1 0h0m-1 1h0m1 0h0m1 0h0m-2 1h0m1 0h0m2 0h0m-3 1h0m2 1h0m-3 1h0m3 0h0m-2 1h0m1 0h0m1 0h0m-3 1h0m1 0h0m3 0h0m-4 1h0m1 0h0m2 0h0m-3 1h0m2 0h0m2 0h0m-4 1h0m1 0h0m2 0h0m-3 1h0m2 0h0m1 0h0m1 0h0m-4 1h0m1 0h0m1 0h0m1 0h0m1 0h0m-4 1h0m1 0h0m3 0h0m0 1h0m-5 1h0m3 0h0m-2 1h0m3 0h0m1 0h0m-4 1h0m2 0h0m1 0h0m-3 1h0m4 0h0m1 0h0m-6 1h0m3 0h0m1 0h0m2 0h0m-5 1h0m2 0h0m1 0h0m1 0h0m1 0h0m-4 1h0m2 0h0m-2 1h0m-1 1h0m2 0h0m2 0h0m1 0h0m-4 1h0m1 0h0m2 0h0m1 0h0m-5 1h0m3 0h0m1 0h0m1 0h0m-5 1h0m1 0h0m1 0h0m1 0h0m-3 1h0m1 0h0m1 0h0m1 0h0m1 0h0m-4 1h0m1 0h0m1 0h0m2 0h0m-4 1h0m1 0h0m1 0h0m1 0h0m1 0h0m-2 1h0m-1 1h0m2 0h0m-1 1h0m1 0h0m-2 1h0m1 0h0m2 1h0m-4 1h0m3 0h0m-3 1h0m1 0h0m1 0h0m0 1h0m2 1h0m-1 4h0m-3 2h0m10-619h0m4 2h0m-2 1h0m1 1h0m-2 10h0m2 0h0m1 0h0m0 2h0m-3 1h0m1 3h0m-3 1h0m2 1h0m0 1h0m1 0h0m-2 2h0m2 0h0m1 0h0m-1 1h0m8 1h0m-10 1h0m1 0h0m1 0h0m2 0h0m-4 1h0m10 0h0m-10 1h0m1 0h0m1 0h0m1 0h0m1 0h0m6 0h0m-9 1h0m1 0h0m1 0h0m1 0h0m-3 1h0m1 0h0m2 0h0m6 0h0m-9 1h0m1 0h0m1 0h0m7 0h0m-9 1h0m1 0h0m-2 2h0m0 1h0m3 0h0m-3 1h0m5 0h0m-2 1h0m-1 1h0m1 0h0m7 0h0m0 1h0m-9 48h0m9 4h0m-9 1h0m-1 1h0m2 0h0m8 3h0m-9 3h0m1 1h0m0 2h0m-2 1h0m3 0h0m-1 4h0m1 2h0m-1 1h0m1 1h0m6 1h0m-7 2h0m2 0h0m-3 1h0m1 0h0m0 1h0m1 0h0m-1 2h0m8 1h0m-7 1h0m-1 1h0m1 1h0m1 0h0m-4 1h0m3 0h0m7 0h0m-8 1h0m2 0h0m-5 1h0m1 0h0m10 0h0m-8 1h0m2 0h0m-2 1h0m2 0h0m-4 1h0m4 0h0m1 0h0m-5 1h0m2 0h0m2 0h0m-3 1h0m1 0h0m1 0h0m1 0h0m6 0h0m-10 1h0m0 1h0m1 0h0m1 0h0m1 0h0m1 0h0m-4 1h0m1 0h0m3 0h0m6 0h0m-7 1h0m7 0h0m-10 1h0m1 0h0m1 0h0m1 0h0m7 0h0m-10 1h0m1 0h0m1 0h0m2 0h0m1 0h0m5 0h0m-10 1h0m2 0h0m2 0h0m6 0h0m-11 1h0m1 0h0m1 0h0m1 0h0m8 0h0m-11 1h0m1 0h0m1 0h0m1 0h0m-1 1h0m2 0h0m0 1h0m-2 1h0m2 0h0m2 0h0m5 0h0m-8 1h0m2 0h0m0 1h0m6 0h0m-10 1h0m1 0h0m3 1h0m-4 1h0m3 1h0m1 0h0m-1 1h0m1 2h0m-2 1h0m-2 1h0m1 1h0m9 0h0m-10 1h0m2 0h0m1 64h0m1 8h0m-3 1h0m3 4h0m6 1h0m-6 2h0m-3 1h0m0 1h0m9 2h0m-7 2h0m7 1h0m0 4h0m-7 1h0m-3 2h0m2 0h0m1 0h0m7 0h0m-9 1h0m9 0h0m-9 1h0m1 0h0m-1 1h0m2 0h0m1 0h0m6 0h0m-6 1h0m6 0h0m-8 1h0m2 0h0m0 1h0m6 0h0m-8 1h0m2 0h0m6 0h0m-9 1h0m1 0h0m1 0h0m1 0h0m-4 1h0m2 0h0m1 0h0m1 0h0m-5 1h0m1 0h0m2 0h0m-1 1h0m1 0h0m1 0h0m7 0h0m-10 1h0m1 0h0m2 0h0m-3 1h0m1 0h0m-2 2h0m1 0h0m1 1h0m2 2h0m1 0h0m6 50h0m-10 2h0m4 4h0m-1 1h0m1 0h0m6 3h0m-6 3h0m0 1h0m-1 1h0m-1 1h0m-1 1h0m2 1h0m1 2h0m6 0h0m-10 2h0m1 1h0m0 2h0m1 0h0m0 1h0m-1 1h0m3 0h0m-4 1h0m1 0h0m9 0h0m-10 1h0m3 0h0m6 0h0m-7 1h0m2 0h0m-2 2h0m1 0h0m7 0h0m-8 1h0m1 0h0m1 1h0m-4 1h0m3 0h0m-2 1h0m2 0h0m1 0h0m-4 1h0m1 0h0m2 0h0m-3 1h0m1 0h0m3 0h0m1 0h0m-5 1h0m2 0h0m1 0h0m7 0h0m-10 1h0m2 0h0m-2 1h0m10 0h0m-9 1h0m2 0h0m1 0h0m-3 1h0m1 0h0m1 0h0m2 0h0m-5 1h0m1 0h0m1 0h0m1 0h0m1 0h0m1 0h0m-4 1h0m2 0h0m1 0h0m-1 1h0m1 0h0m6 0h0m-10 1h0m1 0h0m1 0h0m1 0h0m7 0h0m-10 1h0m1 0h0m2 0h0m2 0h0m5 0h0m-10 1h0m1 0h0m1 0h0m1 0h0m2 0h0m4 0h0m1 0h0m-10 1h0m1 0h0m1 0h0m1 0h0m1 0h0m5 0h0m1 0h0m-10 1h0m1 0h0m1 0h0m1 0h0m7 0h0m-10 1h0m1 0h0m1 0h0m1 0h0m1 0h0m6 0h0m-10 1h0m1 0h0m2 0h0m7 0h0m-7 1h0m1 0h0m6 0h0m-9 1h0m1 1h0m2 0h0m-3 1h0m9 0h0m-10 1h0m2 0h0m2 0h0m-3 1h0m2 0h0m-2 1h0m2 0h0m-3 1h0m10 0h0m-9 1h0m3 0h0m-4 1h0m1 1h0m1 0h0m1 0h0m-2 1h0m0 1h0m9 1h0m-10 1h0m2 51h0m-1 1h0m2 0h0m-2 1h0m-1 1h0m2 2h0m2 0h0m6 0h0m-8 1h0m2 0h0m-4 1h0m4 1h0m6 0h0m-7 1h0m-2 1h0m1 0h0m-1 1h0m1 0h0m8 0h0m-9 1h0m9 0h0m-9 1h0m2 0h0m-2 1h0m1 0h0m-1 1h0m-1 1h0m1 0h0m1 0h0m-1 1h0m-1 1h0m1 0h0m2 0h0m1 0h0m6 0h0m-9 1h0m1 0h0m1 0h0m7 0h0m-9 1h0m1 0h0m1 0h0m1 0h0m-4 1h0m1 0h0m2 0h0m0 1h0m-2 1h0m1 0h0m1 0h0m1 0h0m6 0h0m-9 1h0m1 0h0m1 0h0m1 0h0m-4 1h0m2 0h0m8 0h0m-10 1h0m2 0h0m1 0h0m1 0h0m0 1h0m1 0h0m-5 1h0m1 0h0m1 0h0m1 0h0m1 0h0m1 0h0m5 0h0m-8 1h0m1 0h0m1 0h0m6 0h0m-9 1h0m1 0h0m-2 1h0m4 0h0m1 0h0m5 0h0m-11 1h0m2 0h0m-1 1h0m2 0h0m1 0h0m1 0h0m1 0h0m-6 1h0m1 0h0m1 0h0m1 0h0m3 0h0m-6 1h0m2 0h0m1 0h0m3 0h0m5 0h0m-11 1h0m1 0h0m1 0h0m3 0h0m1 0h0m5 0h0m-8 1h0m2 0h0m1 0h0m4 0h0m-10 1h0m2 0h0m1 0h0m2 0h0m5 0h0m-9 1h0m3 0h0m-2 1h0m2 0h0m1 0h0m-5 1h0m1 0h0m1 0h0m2 0h0m1 0h0m-5 1h0m1 0h0m1 0h0m2 0h0m1 0h0m6 0h0m-10 1h0m10 0h0m-10 1h0m1 0h0m1 0h0m8 0h0m-9 1h0m0 1h0m1 0h0m1 0h0m-2 1h0m2 0h0m7 0h0m-8 2h0m1 0h0m7 0h0m-10 2h0m2 0h0m8 1h0m-10 1h0m1 1h0m9 0h0m-7 1h0m-2 2h0m-1 3h0m2 1h0m1 45h0m-3 1h0m3 0h0m0 1h0m1 0h0m-1 8h0m0 2h0m1 0h0m-4 1h0m2 0h0m8 0h0m-6 1h0m-3 2h0m1 0h0m8 0h0m-7 1h0m-2 3h0m1 1h0m-1 3h0m2 1h0m-2 1h0m2 1h0m7 0h0m-10 1h0m3 0h0m-1 1h0m1 0h0m-1 1h0m2 0h0m0 1h0m-1 1h0m1 0h0m-3 1h0m1 0h0m8 0h0m-7 1h0m-3 1h0m3 0h0m1 0h0m-4 1h0m2 0h0m1 0h0m-2 1h0m1 0h0m1 0h0m-1 1h0m1 0h0m1 0h0m-3 1h0m1 0h0m1 0h0m-3 1h0m2 0h0m-2 1h0m1 0h0m2 0h0m-2 1h0m1 0h0m1 0h0m1 0h0m6 0h0m-9 1h0m1 0h0m1 0h0m1 0h0m6 0h0m-9 1h0m1 0h0m1 0h0m1 0h0m-4 1h0m1 0h0m1 0h0m2 0h0m6 0h0m-10 1h0m2 0h0m2 0h0m1 0h0m5 0h0m-9 1h0m1 0h0m1 0h0m1 0h0m1 0h0m-5 1h0m1 0h0m1 0h0m1 0h0m1 0h0m6 0h0m-9 1h0m1 0h0m1 0h0m1 0h0m-5 1h0m1 0h0m1 0h0m1 0h0m1 0h0m1 0h0m5 0h0m-10 1h0m1 0h0m1 0h0m1 0h0m1 0h0m1 0h0m5 0h0m-10 1h0m1 0h0m1 0h0m3 0h0m5 0h0m1 0h0m-11 1h0m1 0h0m1 0h0m2 0h0m2 0h0m4 0h0m1 0h0m-11 1h0m2 0h0m1 0h0m2 0h0m1 0h0m4 0h0m-8 1h0m1 0h0m2 0h0m1 0h0m4 0h0m1 0h0m-11 1h0m1 0h0m1 0h0m1 0h0m1 0h0m1 0h0m1 0h0m-4 1h0m1 0h0m1 0h0m1 0h0m1 0h0m5 0h0m-11 1h0m1 0h0m1 0h0m1 0h0m2 0h0m-4 1h0m1 0h0m1 0h0m2 0h0m6 0h0m-10 1h0m1 0h0m1 0h0m1 0h0m1 0h0m6 0h0m-10 2h0m2 0h0m2 0h0m6 0h0m-10 1h0m1 0h0m9 0h0m-10 1h0m2 0h0m2 0h0m-3 1h0m1 0h0m2 0h0m-4 1h0m2 0h0m1 1h0m-2 1h0m0 1h0m-1 2h0m1 0h0m9 1h0m0 3h0m0 1h0m3-622h0m-2 3h0m0 3h0m3 1h0m8 0h0m-10 1h0m10 5h0m-10 2h0m1 2h0m9 1h0m0 1h0m-10 4h0m-1 1h0m1 0h0m2 1h0m-3 1h0m1 0h0m2 0h0m-3 1h0m2 1h0m1 0h0m-3 1h0m0 1h0m1 0h0m1 0h0m-1 1h0m1 0h0m1 0h0m-3 1h0m1 0h0m2 0h0m-3 1h0m2 0h0m-2 1h0m2 0h0m-2 1h0m2 0h0m1 1h0m-3 1h0m1 0h0m-1 1h0m1 2h0m2 0h0m-1 1h0m1 51h0m-1 2h0m-2 3h0m2 1h0m1 2h0m-2 1h0m2 4h0m-2 4h0m1 0h0m-2 1h0m0 1h0m2 6h0m0 2h0m0 4h0m-2 1h0m2 0h0m1 1h0m0 1h0m0 2h0m-3 2h0m1 0h0m2 0h0m0 1h0m-2 1h0m1 0h0m1 0h0m-2 1h0m1 0h0m1 0h0m-2 1h0m1 0h0m1 0h0m-3 1h0m2 0h0m-2 1h0m1 0h0m0 1h0m1 0h0m-2 1h0m1 0h0m1 0h0m2 0h0m-4 1h0m2 0h0m-2 1h0m2 0h0m1 0h0m0 1h0m0 1h0m-3 1h0m1 0h0m1 0h0m1 0h0m-2 2h0m1 0h0m1 0h0m-1 1h0m1 0h0m-1 2h0m-2 1h0m1 0h0m0 1h0m1 0h0m-1 2h0m1 0h0m-2 1h0m3 0h0m-1 1h0m-2 4h0m0 84h0m0 1h0m3 0h0m-2 2h0m1 0h0m1 3h0m-3 1h0m3 0h0m-2 1h0m2 0h0m-2 1h0m-1 1h0m1 0h0m2 0h0m0 2h0m-2 1h0m1 0h0m1 0h0m-2 1h0m1 0h0m1 0h0m0 1h0m-1 1h0m1 0h0m-1 1h0m-2 1h0m1 0h0m2 0h0m-3 1h0m1 1h0m2 0h0m-3 1h0m3 0h0m0 1h0m-3 1h0m2 1h0m1 0h0m-3 3h0m3 48h0m-3 1h0m1 2h0m2 2h0m-2 5h0m3 1h0m-4 2h0m3 1h0m-3 6h0m3 0h0m-2 1h0m0 6h0m1 0h0m-2 1h0m0 1h0m2 1h0m-2 2h0m0 1h0m2 0h0m1 0h0m-3 2h0m1 0h0m2 0h0m-3 1h0m1 0h0m0 1h0m1 0h0m-2 1h0m1 0h0m-1 1h0m2 0h0m-2 2h0m1 0h0m1 0h0m2 0h0m-3 1h0m1 0h0m-2 1h0m2 0h0m1 0h0m-2 1h0m1 0h0m1 0h0m-3 1h0m1 0h0m1 0h0m1 0h0m-2 1h0m2 0h0m-3 1h0m0 1h0m2 0h0m1 0h0m-3 1h0m1 0h0m1 1h0m-2 1h0m1 0h0m0 1h0m1 0h0m1 0h0m-2 1h0m1 0h0m-2 1h0m3 0h0m0 1h0m-3 1h0m2 0h0m1 0h0m-3 1h0m1 0h0m1 0h0m0 1h0m1 0h0m0 1h0m-2 1h0m1 0h0m1 0h0m-2 1h0m1 0h0m1 0h0m-1 1h0m-1 1h0m2 0h0m-1 1h0m1 0h0m-3 1h0m1 1h0m0 1h0m2 1h0m-1 1h0m-1 2h0m1 2h0m1 56h0m-3 1h0m2 0h0m-1 2h0m1 0h0m-1 1h0m-1 1h0m1 0h0m1 2h0m-1 1h0m1 0h0m-2 2h0m2 0h0m-2 1h0m2 0h0m-2 1h0m1 0h0m0 1h0m-1 1h0m2 0h0m-2 1h0m1 0h0m2 0h0m-3 1h0m2 0h0m-2 1h0m2 0h0m0 1h0m1 1h0m-3 1h0m2 0h0m1 0h0m-3 1h0m1 0h0m1 0h0m-1 1h0m2 0h0m-2 1h0m1 0h0m1 0h0m-3 1h0m1 0h0m2 0h0m-2 1h0m0 1h0m2 0h0m-2 1h0m1 0h0m1 0h0m-3 1h0m1 0h0m-1 1h0m3 0h0m1 0h0m-4 1h0m4 0h0m-4 1h0m3 0h0m-3 1h0m1 0h0m1 0h0m-1 1h0m1 0h0m1 0h0m-3 1h0m2 0h0m-1 1h0m0 1h0m-1 1h0m2 0h0m-1 1h0m1 0h0m0 1h0m-2 1h0m2 0h0m0 1h0m1 0h0m-1 1h0m-1 1h0m1 1h0m1 0h0m-1 3h0m-1 1h0m1 0h0m-2 5h0m1 0h0m0 1h0m0 38h0m1 0h0m-2 7h0m3 1h0m-3 5h0m0 4h0m0 4h0m1 1h0m-1 3h0m3 0h0m-3 4h0m3 0h0m-2 2h0m1 0h0m-2 1h0m2 0h0m-2 1h0m1 1h0m-1 2h0m11 0h0m-9 1h0m1 0h0m-3 1h0m1 0h0m1 0h0m1 0h0m8 0h0m-11 1h0m1 0h0m2 1h0m-3 1h0m2 0h0m-2 1h0m3 0h0m-3 1h0m3 0h0m-3 1h0m1 0h0m1 0h0m1 0h0m-1 1h0m-2 1h0m1 0h0m1 0h0m-2 1h0m1 0h0m1 0h0m1 0h0m-3 1h0m1 0h0m1 0h0m-2 1h0m2 0h0m-2 1h0m1 0h0m1 0h0m1 0h0m-2 1h0m1 0h0m-2 1h0m1 0h0m1 0h0m1 0h0m-3 1h0m1 0h0m1 0h0m1 0h0m-3 1h0m1 0h0m1 0h0m1 0h0m-2 1h0m2 0h0m-3 1h0m2 0h0m1 0h0m1 0h0m-2 1h0m1 0h0m1 0h0m-3 1h0m1 0h0m-2 1h0m1 0h0m0 1h0m1 0h0m1 0h0m-2 1h0m1 0h0m1 0h0m-3 1h0m1 0h0m1 0h0m1 0h0m0 1h0m1 0h0m-2 1h0m-2 1h0m1 0h0m1 0h0m1 0h0m-3 1h0m1 0h0m-1 1h0m2 0h0m-1 1h0m1 0h0m1 0h0m-1 1h0m1 0h0m-3 1h0m1 0h0m1 0h0m-2 1h0m3 0h0m-3 1h0m1 0h0m1 0h0m-2 1h0m3 0h0m-3 1h0m2 0h0m1 1h0m-3 1h0m0 1h0m2 0h0m-2 3h0m3 0h0m1 3h0m11-634h0m1 6h0m-3 2h0m3 0h0m-3 1h0m2 0h0m-1 2h0m1 0h0m8 0h0m0 2h0m-1 2h0m1 0h0m-7 1h0m-3 2h0m-1 3h0m4 0h0m0 1h0m6 0h0m1 0h0m-11 1h0m1 0h0m4 1h0m6 1h0m-6 2h0m-5 1h0m11 0h0m0 1h0m-11 1h0m2 0h0m9 1h0m-9 1h0m-1 1h0m9 0h0m-7 1h0m8 0h0m0 1h0m-9 2h0m0 1h0m2 0h0m7 0h0m0 1h0m-10 1h0m3 2h0m-3 521h0m2 5h0m8 0h0m0 13h0m-10 1h0m-1 1h0m2 0h0m0 2h0m7 0h0m2 1h0m-2 1h0m-8 1h0m4 1h0m-5 2h0m1 0h0m1 2h0m9 0h0m-6 3h0m4 0h0m-6 1h0m-1 1h0m-1 1h0m-1 1h0m4 0h0m6 2h0m1 0h0m-10 4h0m0 2h0m11-608h0m1 2h0m9 0h0m-10 1h0m11 6h0m-3 1h0m-7 4h0m-1 1h0m8 0h0m1 0h0m1 0h0m-9 1h0m8 0h0m1 0h0m-2 2h0m-8 1h0m11 1h0m-3 1h0m-7 1h0m7 0h0m-7 1h0m-1 1h0m2 0h0m6 0h0m-7 1h0m9 0h0m-10 4h0m11 0h0m-10 1h0m7 0h0m1 0h0m-9 3h0m1 0h0m9 0h0m1 0h0m0 4h0m-2 1h0m0 2h0m-7 5h0m9 1h0m-1 1h0m-10 7h0m8 1h0m-8 502h0m8 17h0m2 2h0m-10 2h0m2 2h0m-2 1h0m0 4h0m2 1h0m6 0h0m0 1h0m-6 1h0m-2 1h0m11 0h0m-10 1h0m10 0h0m-10 5h0m9 6h0m1 1h0m-2 3h0m-9 1h0m9 1h0m-1 15h0m4-619h0m0 8h0m0 13h0m0 2h0m10 3h0m0 2h0m1 1h0m-1 1h0m0 2h0m-1 1h0m1 0h0m-1 1h0m2 0h0m-3 1h0m2 0h0m0 1h0m1 0h0m-2 2h0m1 0h0m1 0h0m-1 1h0m-2 1h0m1 1h0m0 1h0m1 0h0m1 0h0m-2 1h0m1 0h0m1 2h0m-2 3h0m0 64h0m1 3h0m1 5h0m-1 1h0m0 3h0m1 2h0m-2 1h0m1 2h0m-1 3h0m2 2h0m0 2h0m-2 1h0m1 2h0m-1 1h0m1 0h0m1 1h0m-1 1h0m0 1h0m0 1h0m0 2h0m-1 1h0m1 1h0m1 0h0m-1 1h0m-2 1h0m2 0h0m-1 2h0m2 0h0m-1 2h0m1 0h0m0 5h0m-2 1h0m1 1h0m-1 1h0m0 94h0m0 1h0m2 1h0m-1 2h0m1 1h0m-2 3h0m1 1h0m-1 1h0m0 1h0m2 0h0m-2 1h0m0 2h0m1 0h0m-1 1h0m2 0h0m-1 2h0m1 0h0m0 7h0m0 61h0m0 1h0m0 1h0m-2 8h0m2 3h0m-2 7h0m2 1h0m-3 2h0m1 2h0m2 0h0m-1 1h0m1 1h0m-2 1h0m2 0h0m-2 1h0m2 1h0m-2 1h0m1 1h0m-1 1h0m2 0h0m-2 1h0m2 0h0m-2 1h0m1 0h0m0 1h0m1 0h0m-2 1h0m0 1h0m1 1h0m-1 1h0m1 0h0m1 0h0m-1 1h0m-1 1h0m2 0h0m-2 2h0m2 0h0m-2 1h0m2 0h0m-1 1h0m-1 1h0m0 1h0m1 2h0m-1 1h0m-1 1h0m2 1h0m0 3h0m1 62h0m-1 2h0m0 2h0m-1 2h0m0 2h0m1 0h0m1 0h0m-1 1h0m-1 2h0m1 1h0m-2 1h0m1 1h0m2 0h0m-1 2h0m1 0h0m-3 1h0m3 0h0m-2 1h0m2 0h0m-2 1h0m0 2h0m2 0h0m-2 1h0m0 1h0m0 2h0m2 1h0m-1 1h0m-2 1h0m1 0h0m0 5h0m2 1h0m-2 1h0m0 2h0m1 1h0m0 1h0m-1 1h0m2 2h0m-1 2h0m1 4h0m-10 67h0m-1 1h0m1 3h0m-1 1h0m0 1h0m10 2h0m1 0h0m-1 1h0m0 1h0m1 0h0m-9 1h0m-1 1h0m9 0h0m-1 1h0m2 0h0m0 2h0m-11 1h0m1 0h0m8 0h0m1 0h0m1 0h0m-1 1h0m0 1h0m0 1h0m1 1h0m0 1h0m-1 2h0m1 0h0m-1 1h0m1 0h0m-2 1h0m2 0h0m-1 1h0m0 1h0m1 0h0m-1 1h0m1 0h0m-2 1h0m1 0h0m1 0h0m-2 1h0m1 1h0m1 0h0m-1 1h0m0 1h0m-1 1h0m1 0h0m1 0h0m-2 1h0m1 0h0m1 0h0m-2 1h0m1 0h0m-1 1h0m2 0h0m-1 1h0m1 0h0m-2 1h0m1 0h0m1 1h0m-2 1h0m0 1h0m2 0h0m-2 1h0m2 0h0m-2 1h0m1 0h0m1 0h0m-2 1h0m1 1h0m0 1h0m-1 1h0m2 0h0m-1 1h0m-1 1h0m1 0h0m-1 1h0m2 5h0m8-616h0m3 1h0m1 0h0m-2 8h0m-8 3h0m0 1h0m8 0h0m1 1h0m-2 1h0m2 1h0m1 0h0m-4 1h0m1 0h0m3 0h0m-11 1h0m7 0h0m3 0h0m-10 1h0m7 0h0m1 0h0m1 0h0m-9 1h0m7 0h0m1 0h0m1 0h0m1 0h0m-3 1h0m1 0h0m-6 1h0m5 0h0m4 0h0m-10 1h0m7 0h0m1 0h0m1 0h0m1 0h0m-2 1h0m1 0h0m1 0h0m-10 1h0m6 0h0m4 0h0m-11 1h0m1 0h0m6 0h0m2 0h0m1 0h0m-10 1h0m10 0h0m-10 1h0m10 0h0m1 0h0m-11 1h0m7 0h0m4 0h0m-11 1h0m1 0h0m0 1h0m7 0h0m-8 1h0m9 0h0m1 0h0m1 0h0m-3 1h0m2 2h0m-3 4h0m-7 49h0m8 4h0m2 0h0m-9 4h0m6 0h0m4 14h0m-4 2h0m-6 2h0m6 0h0m1 0h0m-7 2h0m6 2h0m1 0h0m-7 2h0m-1 2h0m10 2h0m-10 1h0m7 0h0m0 1h0m1 0h0m3 0h0m-11 1h0m1 0h0m6 1h0m1 0h0m2 0h0m-3 1h0m1 0h0m3 0h0m0 1h0m-11 1h0m1 0h0m6 0h0m1 0h0m1 0h0m-8 1h0m5 0h0m1 1h0m1 0h0m2 0h0m-10 1h0m1 0h0m9 0h0m1 0h0m-4 1h0m1 0h0m1 0h0m-8 1h0m7 0h0m1 0h0m1 0h0m-9 1h0m9 0h0m1 0h0m-4 1h0m1 0h0m1 0h0m1 0h0m1 0h0m-4 1h0m3 0h0m-2 1h0m3 0h0m-2 1h0m-2 1h0m1 0h0m2 0h0m-8 1h0m8 0h0m0 1h0m1 0h0m-11 1h0m7 0h0m-7 1h0m9 0h0m1 0h0m1 0h0m-11 2h0m7 0h0m1 2h0m-1 3h0m1 79h0m2 4h0m-10 3h0m0 2h0m7 1h0m4 0h0m-10 1h0m8 1h0m1 0h0m-1 1h0m-8 2h0m7 0h0m-1 1h0m4 2h0m-3 1h0m2 1h0m-3 1h0m-6 2h0m6 0h0m2 0h0m-2 1h0m1 0h0m2 0h0m-3 1h0m2 2h0m1 0h0m-3 2h0m1 4h0m-8 64h0m1 0h0m0 2h0m-1 3h0m7 2h0m2 0h0m1 0h0m-2 3h0m2 3h0m1 0h0m-2 1h0m2 0h0m-10 1h0m-1 1h0m8 0h0m-8 1h0m9 0h0m-9 1h0m7 0h0m-1 1h0m2 0h0m2 0h0m-2 1h0m1 0h0m1 1h0m0 1h0m1 0h0m-11 1h0m9 0h0m-2 2h0m1 0h0m1 0h0m-9 1h0m1 0h0m6 0h0m3 0h0m-1 1h0m1 0h0m1 0h0m-10 1h0m7 0h0m1 0h0m1 0h0m1 0h0m-10 1h0m10 0h0m-11 1h0m1 0h0m6 0h0m1 0h0m1 0h0m-9 1h0m9 0h0m2 0h0m-3 1h0m2 0h0m1 0h0m-11 1h0m1 0h0m6 0h0m1 0h0m-8 1h0m7 0h0m1 0h0m1 0h0m1 0h0m-2 1h0m2 0h0m-2 1h0m1 0h0m-8 1h0m6 0h0m1 0h0m2 0h0m-9 1h0m9 0h0m-9 1h0m6 0h0m3 0h0m-3 1h0m1 0h0m2 0h0m-1 3h0m-9 1h0m1 1h0m6 0h0m1 0h0m2 0h0m1 0h0m-11 1h0m9 0h0m-8 1h0m6 0h0m2 0h0m-8 1h0m8 2h0m-1 3h0m-8 1h0m0 52h0m8 4h0m-8 1h0m0 1h0m7 0h0m1 0h0m-8 1h0m0 1h0m7 1h0m-7 1h0m9 0h0m-9 2h0m10 0h0m-9 3h0m9 0h0m-2 2h0m1 0h0m1 0h0m-10 1h0m9 0h0m1 0h0m-5 1h0m2 0h0m1 0h0m1 0h0m1 0h0m-9 1h0m1 0h0m3 1h0m3 2h0m-7 1h0m6 1h0m-7 1h0m9 0h0m1 0h0m-8 2h0m1 0h0m5 0h0m-8 2h0m3 0h0m3 0h0m1 0h0m-5 1h0m3 0h0m4 0h0m-8 1h0m6 0h0m-7 1h0m2 0h0m4 0h0m1 0h0m1 0h0m1 1h0m-7 1h0m6 0h0m2 0h0m-8 1h0m1 0h0m2 0h0m5 0h0m-9 1h0m5 0h0m-1 1h0m3 1h0m1 0h0m-9 1h0m2 0h0m4 0h0m5 0h0m-11 1h0m2 0h0m5 0h0m2 0h0m-7 1h0m9 0h0m-4 1h0m4 0h0m-10 1h0m1 0h0m5 0h0m1 0h0m0 1h0m2 0h0m-2 1h0m-1 1h0m-6 4h0m0 2h0m8 4h0m-1 10h0m-1 70h0m2 0h0m-2 1h0m1 1h0m1 0h0m0 1h0m-1 1h0m-7 1h0m8 0h0m2 0h0m-2 2h0m1 0h0m-10 1h0m1 0h0m7 0h0m-8 1h0m7 0h0m2 0h0m1 0h0m-1 1h0m1 0h0m-2 1h0m3 0h0m-3 1h0m1 0h0m1 0h0m-10 1h0m9 0h0m-2 1h0m1 0h0m1 0h0m1 0h0m1 0h0m-2 1h0m1 0h0m1 0h0m-10 1h0m6 0h0m4 0h0m-11 1h0m1 0h0m8 0h0m-1 1h0m1 0h0m-9 1h0m1 0h0m6 0h0m1 0h0m2 0h0m1 0h0m-11 1h0m7 0h0m1 0h0m2 0h0m-9 1h0m7 0h0m1 0h0m1 0h0m1 0h0m-10 1h0m6 0h0m1 0h0m2 0h0m-10 1h0m7 0h0m1 0h0m1 0h0m1 0h0m-10 1h0m8 0h0m2 0h0m1 0h0m-11 1h0m1 0h0m8 0h0m2 0h0m-11 1h0m7 0h0m1 0h0m1 0h0m1 0h0m-10 1h0m8 0h0m2 0h0m1 0h0m-11 1h0m1 0h0m7 0h0m1 0h0m2 0h0m-11 1h0m7 0h0m1 0h0m1 0h0m1 0h0m-3 1h0m1 0h0m2 0h0m1 0h0m-11 1h0m8 0h0m2 0h0m1 0h0m-3 1h0m1 0h0m2 0h0m-3 1h0m2 0h0m1 0h0m-1 1h0m-10 1h0m7 0h0m1 0h0m1 1h0m-9 1h0m7 0h0m2 0h0m1 0h0m0 1h0m1 0h0m-11 1h0m8 0h0m2 1h0m-1 2h0m1 0h0m-3 1h0m13-614h0m0 1h0m-1 1h0m1 1h0m0 3h0m1 2h0m-1 1h0m-3 3h0m3 0h0m-3 1h0m-5 2h0m7 0h0m2 0h0m-3 1h0m1 0h0m2 1h0m-3 1h0m1 0h0m2 0h0m-5 1h0m1 0h0m1 0h0m1 0h0m1 0h0m1 0h0m-4 1h0m1 0h0m2 0h0m-2 1h0m3 0h0m-4 1h0m1 0h0m2 0h0m1 1h0m-2 1h0m1 0h0m-2 1h0m3 0h0m-2 1h0m0 1h0m1 0h0m1 0h0m-3 1h0m1 0h0m1 0h0m1 0h0m-4 2h0m1 0h0m1 0h0m2 2h0m-2 1h0m0 1h0m1 1h0m-1 68h0m1 2h0m-2 2h0m3 0h0m0 3h0m-5 2h0m2 0h0m2 3h0m-1 1h0m1 1h0m1 3h0m0 2h0m-3 2h0m-1 2h0m2 0h0m2 0h0m1 0h0m-10 1h0m7 0h0m1 0h0m1 0h0m-3 1h0m0 1h0m1 0h0m1 0h0m-3 2h0m2 0h0m1 0h0m1 0h0m-5 1h0m5 0h0m-3 1h0m1 0h0m1 0h0m-2 1h0m2 0h0m1 0h0m-4 1h0m1 0h0m2 0h0m-2 1h0m1 0h0m2 0h0m-2 1h0m1 0h0m-1 1h0m2 0h0m-4 1h0m4 1h0m-5 2h0m3 0h0m0 1h0m-2 2h0m4 1h0m0 1h0m-4 2h0m2 3h0m0 85h0m1 0h0m0 2h0m0 1h0m-2 1h0m0 1h0m-1 1h0m4 3h0m0 1h0m-3 1h0m-1 1h0m2 2h0m0 1h0m1 0h0m-3 1h0m1 0h0m2 0h0m1 1h0m-2 1h0m1 0h0m-2 1h0m1 0h0m0 2h0m0 2h0m2 0h0m-2 68h0m1 2h0m-3 1h0m2 1h0m2 1h0m0 1h0m-4 2h0m0 2h0m-1 5h0m-4 1h0m6 0h0m0 1h0m1 1h0m2 0h0m-1 1h0m-1 1h0m-1 1h0m2 0h0m-2 1h0m-1 1h0m2 0h0m-1 2h0m2 0h0m0 1h0m-3 1h0m2 0h0m1 0h0m-2 1h0m2 0h0m-3 1h0m0 1h0m2 0h0m1 0h0m-4 1h0m1 0h0m1 0h0m1 0h0m1 0h0m-3 1h0m3 0h0m1 0h0m-3 1h0m3 0h0m-4 1h0m3 0h0m2 0h0m-4 1h0m1 0h0m2 0h0m-3 1h0m2 0h0m-8 1h0m5 0h0m1 0h0m1 0h0m2 0h0m-4 1h0m1 0h0m1 1h0m1 0h0m1 0h0m-4 1h0m1 0h0m3 0h0m-2 1h0m1 1h0m-3 1h0m1 0h0m2 0h0m-4 1h0m1 0h0m1 0h0m2 0h0m1 0h0m0 1h0m-2 1h0m-2 1h0m1 0h0m2 0h0m-1 2h0m-2 5h0m0 1h0m0 1h0m4 56h0m-2 3h0m-2 1h0m2 0h0m-2 1h0m0 1h0m3 0h0m-2 3h0m1 0h0m0 1h0m-7 1h0m7 0h0m-1 1h0m1 0h0m2 0h0m1 0h0m-10 1h0m5 0h0m2 0h0m1 0h0m2 0h0m-6 1h0m1 1h0m2 0h0m3 0h0m-2 1h0m-5 1h0m6 0h0m-9 2h0m4 0h0m2 0h0m-5 1h0m3 0h0m4 0h0m2 0h0m-6 1h0m2 0h0m1 0h0m4 0h0m-4 1h0m2 1h0m-1 1h0m-4 1h0m4 0h0m2 0h0m1 0h0m-11 1h0m8 0h0m-3 1h0m5 0h0m-10 1h0m4 0h0m2 0h0m1 0h0m2 1h0m-9 1h0m4 0h0m1 0h0m6 0h0m-10 1h0m2 0h0m2 0h0m1 0h0m5 0h0m-7 1h0m1 0h0m2 0h0m1 0h0m1 0h0m-9 1h0m4 0h0m3 0h0m2 0h0m-1 2h0m2 0h0m-4 1h0m2 0h0m1 1h0m0 1h0m1 0h0m-2 1h0m-1 1h0m-1 1h0m-1 1h0m4 0h0m-2 1h0m0 1h0m1 0h0m1 0h0m0 3h0m-3 1h0m-1 5h0m1 75h0m3 0h0m-4 1h0m1 0h0m2 0h0m-2 1h0m0 1h0m2 4h0m-2 3h0m0 1h0m1 0h0m0 1h0m1 0h0m-3 2h0m2 0h0m-1 1h0m2 0h0m1 0h0m-2 1h0m1 0h0m-2 1h0m0 1h0m1 0h0m0 1h0m1 0h0m0 1h0m-2 1h0m2 0h0m-2 1h0m0 1h0m1 0h0m1 0h0m-3 1h0m1 0h0m2 0h0m1 0h0m-4 1h0m2 0h0m1 0h0m-2 1h0m2 0h0m-2 1h0m1 0h0m2 0h0m-3 1h0m1 0h0m1 0h0m-3 1h0m2 0h0m1 0h0m1 0h0m-1 1h0m1 0h0m-3 1h0m3 0h0m-3 1h0m2 0h0m1 0h0m-3 1h0m1 0h0m1 0h0m1 0h0m-2 1h0m2 0h0m-3 1h0m1 0h0m1 0h0m-2 1h0m0 1h0m3 0h0m-4 1h0m1 0h0m2 0h0m-3 1h0m1 0h0m1 1h0m1 0h0m-3 1h0m2 0h0m1 0h0m-2 2h0m0 2h0m0 1h0m2 0h0m0 1h0m12-601h0m1 1h0m-3 1h0m1 0h0m0 1h0m-1 2h0m1 3h0m1 0h0m0 2h0m-1 1h0m2 1h0m-3 1h0m4 0h0m-2 1h0m-2 2h0m3 0h0m-1 1h0m2 0h0m-4 74h0m2 5h0m2 3h0m0 9h0m-2 4h0m0 1h0m1 0h0m-2 1h0m2 2h0m1 0h0m-2 1h0m0 1h0m1 0h0m-2 2h0m1 0h0m2 0h0m-4 1h0m2 0h0m1 0h0m1 0h0m-4 1h0m4 0h0m-4 1h0m0 5h0m1 0h0m-1 1h0m0 4h0m4 3h0m-1 74h0m-3 7h0m0 5h0m1 3h0m-1 1h0m3 4h0m-1 4h0m1 1h0m0 1h0m0 3h0m-3 3h0m1 0h0m0 1h0m2 0h0m1 1h0m-3 4h0m3 3h0m-2 64h0m-3 1h0m5 12h0m-1 1h0m-1 1h0m1 2h0m-3 1h0m4 0h0m-3 1h0m-1 4h0m2 0h0m1 2h0m-3 1h0m3 0h0m-3 1h0m4 0h0m-4 1h0m4 0h0m0 1h0m-3 1h0m2 0h0m-3 1h0m2 0h0m1 0h0m1 0h0m-4 1h0m4 1h0m-4 1h0m3 0h0m-2 1h0m1 0h0m1 0h0m1 1h0m-4 2h0m2 0h0m1 1h0m-3 1h0m1 0h0m2 0h0m-3 1h0m1 0h0m1 0h0m2 0h0m-4 1h0m2 0h0m-2 1h0m4 0h0m-3 1h0m-1 1h0m3 0h0m1 0h0m-4 1h0m0 1h0m1 1h0m0 1h0m1 1h0m-2 1h0m2 2h0m1 0h0m-1 78h0m0 2h0m-1 1h0m2 1h0m-3 1h0m2 1h0m-1 1h0m3 1h0m-2 1h0m-3 1h0m1 0h0m4 0h0m-3 2h0m1 1h0m2 0h0m-4 1h0m1 1h0m1 0h0m2 0h0m-3 1h0m1 0h0m2 0h0m-4 1h0m1 0h0m1 0h0m1 0h0m-2 1h0m1 0h0m1 0h0m1 0h0m-3 2h0m1 0h0m1 0h0m1 0h0m-2 1h0m-2 1h0m1 0h0m3 0h0m0 1h0m-3 1h0m1 0h0m-2 1h0m3 0h0m1 0h0m-2 1h0m-1 1h0m2 0h0m1 0h0m-2 1h0m2 0h0m-4 1h0m2 0h0m2 0h0m-3 1h0m-1 1h0m1 1h0m1 83h0m1 1h0m1 3h0m-1 3h0m-3 1h0m2 0h0m2 1h0m-3 1h0m3 0h0m-2 1h0m0 1h0m1 0h0m-2 1h0m1 0h0m-2 1h0m2 0h0m1 0h0m-3 1h0m1 0h0m1 0h0m1 0h0m-3 1h0m2 0h0m1 0h0m1 0h0m-4 1h0m1 0h0m1 0h0m1 0h0m1 0h0m-3 1h0m1 0h0m-2 1h0m1 0h0m1 0h0m-2 1h0m1 0h0m-2 1h0m2 0h0m1 0h0m1 0h0m-3 1h0m1 0h0m-1 1h0m1 0h0m1 0h0m1 0h0m-3 1h0m1 0h0m1 0h0m1 0h0m1 0h0m1 0h0m-4 1h0m1 0h0m2 0h0m-3 1h0m1 0h0m1 0h0m1 0h0m-2 1h0m1 0h0m-3 1h0m1 0h0m1 0h0m1 0h0m-2 1h0m2 0h0m1 0h0m-2 1h0m1 0h0m-3 1h0m2 0h0m1 0h0m1 0h0m-4 1h0m1 0h0m1 0h0m-2 1h0m3 1h0m1 1h0m-2 1h0m2 0h0m-3 1h0m3 2h0m-4 1h0m5 0h0m9-596h0m-3 2h0m2 1h0m0 1h0m0 1h0m1 1h0m-3 1h0m1 0h0m1 0h0m0 1h0m1 0h0m-1 1h0m-1 1h0m2 0h0m-1 1h0m-2 3h0m3 2h0m-4 74h0m2 1h0m0 5h0m1 2h0m-2 9h0m3 0h0m0 1h0m-3 1h0m2 3h0m-3 2h0m2 0h0m1 0h0m1 1h0m-4 1h0m3 0h0m0 1h0m1 0h0m-3 2h0m0 1h0m2 0h0m-3 1h0m4 0h0m-2 1h0m2 1h0m0 1h0m-4 2h0m3 96h0m-3 3h0m3 1h0m0 2h0m0 1h0m-2 2h0m0 1h0m2 1h0m1 0h0m-4 1h0m4 0h0m-1 1h0m-2 1h0m2 2h0m1 1h0m-4 4h0m3 5h0m-2 74h0m3 3h0m-3 2h0m0 2h0m3 0h0m-2 1h0m2 0h0m-4 1h0m2 0h0m2 1h0m0 2h0m-3 2h0m0 1h0m-1 1h0m1 0h0m3 0h0m-1 1h0m-2 1h0m3 0h0m-3 1h0m-1 1h0m4 1h0m1 0h0m-1 1h0m-4 1h0m3 0h0m-3 1h0m1 0h0m2 0h0m1 0h0m-2 1h0m-1 1h0m1 0h0m-2 1h0m1 0h0m0 1h0m2 0h0m1 0h0m-2 1h0m1 0h0m-1 1h0m1 0h0m-1 1h0m1 0h0m-3 1h0m1 0h0m3 0h0m-4 2h0m1 0h0m1 1h0m0 1h0m1 0h0m-1 2h0m-2 1h0m1 1h0m3 0h0m-3 3h0m3 70h0m-2 3h0m-2 1h0m1 0h0m1 2h0m-1 2h0m1 1h0m2 1h0m-3 2h0m1 1h0m-3 1h0m2 1h0m-1 1h0m1 0h0m3 0h0m-2 1h0m2 1h0m-4 2h0m3 0h0m-1 1h0m-2 1h0m1 0h0m1 0h0m-2 1h0m2 0h0m1 1h0m1 0h0m-3 1h0m1 1h0m1 0h0m-2 1h0m1 0h0m2 0h0m0 1h0m-3 1h0m1 0h0m-2 1h0m1 0h0m2 0h0m0 2h0m-3 1h0m1 0h0m1 0h0m2 0h0m-3 2h0m2 0h0m1 1h0m-4 1h0m2 0h0m1 0h0m-3 1h0m3 2h0m-3 6h0m3 0h0m0 66h0m-2 2h0m1 0h0m0 2h0m-1 2h0m-1 2h0m0 5h0m3 1h0m-1 1h0m1 0h0m-3 1h0m1 1h0m2 0h0m-3 2h0m3 0h0m-1 1h0m1 0h0m-1 1h0m0 1h0m2 0h0m-3 1h0m2 0h0m-2 1h0m1 0h0m1 0h0m-3 1h0m1 2h0m2 0h0m1 0h0m-4 1h0m2 0h0m1 0h0m1 0h0m-4 1h0m2 0h0m1 0h0m-3 1h0m1 0h0m-1 1h0m1 0h0m2 0h0m1 0h0m-4 1h0m5 0h0m-5 1h0m2 0h0m2 0h0m-4 1h0m1 0h0m1 0h0m-2 1h0m1 0h0m2 0h0m-3 1h0m1 0h0m1 0h0m1 0h0m-3 1h0m1 0h0m2 0h0m-3 1h0m2 0h0m2 0h0m-1 1h0m1 0h0m-3 1h0m3 0h0m-3 1h0m2 0h0m-2 1h0m1 0h0m-1 2h0m2 0h0m0 2h0m1 1h0m-4 2h0m6 2h0m5-610h0m0 1h0m3 0h0m-3 8h0m1 0h0m1 0h0m0 3h0m-1 1h0m-2 2h0m0 1h0m3 1h0m1 1h0m-3 1h0m1 0h0m-1 1h0m1 0h0m0 1h0m0 1h0m0 1h0m0 1h0m-1 2h0m3 2h0m-2 82h0m-1 4h0m1 0h0m-1 5h0m1 0h0m0 2h0m1 0h0m-2 3h0m2 0h0m1 0h0m-2 1h0m-1 1h0m2 0h0m-2 1h0m1 0h0m1 0h0m1 1h0m-4 1h0m3 0h0m1 0h0m-2 3h0m-1 2h0m3 4h0m-3 2h0m1 3h0m1 94h0m-1 3h0m-2 2h0m1 0h0m1 0h0m1 4h0m-2 1h0m-1 1h0m1 0h0m1 1h0m1 0h0m-2 1h0m0 2h0m2 0h0m-2 1h0m0 1h0m-1 6h0m3 58h0m1 2h0m0 1h0m-3 3h0m2 0h0m1 2h0m0 2h0m-1 8h0m-1 3h0m-3 2h0m1 0h0m1 1h0m2 0h0m1 2h0m-1 3h0m1 1h0m-2 1h0m1 0h0m-1 1h0m-1 1h0m1 0h0m2 0h0m-4 2h0m2 0h0m2 0h0m-3 1h0m3 0h0m-3 1h0m1 2h0m2 0h0m-4 1h0m1 0h0m2 0h0m-1 2h0m-3 1h0m2 0h0m1 0h0m-2 1h0m2 0h0m1 1h0m-3 1h0m1 0h0m3 0h0m0 1h0m-5 1h0m5 1h0m-2 1h0m-2 1h0m1 1h0m3 0h0m-3 1h0m3 1h0m-2 2h0m2 1h0m-2 1h0m-2 2h0m2 63h0m0 2h0m0 2h0m-1 3h0m2 4h0m-3 5h0m0 1h0m2 0h0m-1 1h0m3 0h0m0 1h0m-4 2h0m2 0h0m0 1h0m-1 1h0m1 0h0m-1 2h0m-1 1h0m1 0h0m-1 1h0m1 0h0m1 0h0m1 0h0m-3 1h0m2 0h0m1 0h0m1 0h0m-4 1h0m1 0h0m2 0h0m1 0h0m-4 1h0m1 0h0m2 0h0m-3 1h0m1 1h0m0 2h0m1 1h0m1 0h0m-1 1h0m0 1h0m1 0h0m-3 1h0m1 0h0m1 0h0m2 0h0m-3 1h0m2 0h0m-1 1h0m-2 2h0m1 0h0m3 0h0m0 2h0m-4 1h0m4 2h0m-4 1h0m0 85h0m2 0h0m-1 1h0m1 3h0m1 0h0m0 1h0m-3 1h0m1 0h0m1 0h0m-1 2h0m2 0h0m1 0h0m0 1h0m-2 1h0m1 0h0m1 0h0m-3 1h0m2 0h0m1 0h0m-3 1h0m1 0h0m1 0h0m-3 1h0m1 0h0m1 0h0m1 0h0m-3 1h0m2 0h0m-2 1h0m2 0h0m1 0h0m1 0h0m-3 1h0m1 0h0m2 0h0m-4 1h0m1 0h0m2 0h0m-2 1h0m1 0h0m1 0h0m1 0h0m-4 1h0m2 0h0m1 0h0m1 0h0m-3 1h0m1 0h0m1 0h0m-2 1h0m1 0h0m1 0h0m1 0h0m-4 1h0m3 1h0m-3 1h0m1 0h0m2 0h0m1 0h0m-3 1h0m1 0h0m1 0h0m-2 2h0m1 1h0m1 0h0m1 1h0m10-645h0m0 2h0m1 0h0m1 3h0m-2 1h0m0 2h0m-1 1h0m1 0h0m0 1h0m0 1h0m-1 2h0m4 1h0m-3 1h0m1 0h0m2 0h0m-4 1h0m2 2h0m2 0h0m-5 1h0m3 0h0m-3 1h0m1 0h0m5 0h0m1 0h0m-5 1h0m4 0h0m-7 1h0m4 0h0m3 0h0m-6 2h0m4 0h0m-3 1h0m3 0h0m-3 1h0m5 0h0m-4 2h0m3 0h0m2 0h0m-8 1h0m7 0h0m-4 1h0m4 0h0m-7 1h0m6 0h0m-3 1h0m-3 1h0m6 0h0m-5 1h0m6 0h0m-6 1h0m1 0h0m-1 1h0m1 1h0m1 1h0m3 0h0m-1 3h0m-3 1h0m2 0h0m2 215h0m-3 5h0m0 2h0m1 1h0m2 1h0m0 2h0m-3 1h0m1 0h0m1 0h0m-2 5h0m0 2h0m2 4h0m0 1h0m-3 1h0m0 3h0m1 4h0m3 72h0m-4 3h0m4 7h0m-4 3h0m0 1h0m2 1h0m0 1h0m0 2h0m2 1h0m-3 1h0m1 1h0m-1 1h0m2 1h0m-3 1h0m1 1h0m1 0h0m-2 1h0m3 0h0m1 9h0m0 1h0m-3 6h0m-1 1h0m0 210h0m1 2h0m3 0h0m-3 1h0m0 3h0m3 0h0m-2 1h0m1 0h0m-2 1h0m1 0h0m0 1h0m-2 1h0m1 0h0m1 0h0m0 1h0m-2 1h0m1 0h0m1 0h0m2 1h0m-2 1h0m-1 1h0m2 0h0m0 2h0m-2 2h0m0 2h0m10-636h0m2 1h0m-3 1h0m4 2h0m-2 1h0m-1 3h0m1 1h0m2 0h0m-3 2h0m0 2h0m3 1h0m-1 1h0m7 0h0m-9 1h0m1 0h0m2 0h0m1 0h0m-6 3h0m2 0h0m1 0h0m0 2h0m7 0h0m-5 1h0m-5 1h0m1 1h0m2 0h0m6 0h0m-6 1h0m7 0h0m-10 1h0m3 0h0m2 0h0m-5 1h0m2 0h0m3 0h0m5 0h0m1 0h0m-1 1h0m-10 1h0m1 0h0m1 0h0m7 0h0m1 0h0m1 0h0m-10 1h0m2 0h0m3 0h0m1 0h0m4 0h0m-7 1h0m-2 1h0m1 0h0m8 0h0m-11 1h0m1 0h0m6 0h0m-5 1h0m7 1h0m1 0h0m1 0h0m-6 1h0m5 0h0m-7 1h0m-1 1h0m1 0h0m3 1h0m5 0h0m-9 1h0m3 0h0m-4 1h0m4 0h0m-3 1h0m2 0h0m-3 1h0m3 1h0m1 5h0m-1 1h0m1 2h0m-3 196h0m0 7h0m2 0h0m1 0h0m0 9h0m0 2h0m-4 1h0m3 0h0m0 1h0m7 2h0m-6 1h0m0 1h0m-2 1h0m1 0h0m-3 4h0m4 0h0m-1 5h0m-1 1h0m0 3h0m8 14h0m-10 72h0m1 2h0m-1 1h0m2 1h0m1 1h0m7 3h0m-9 1h0m3 0h0m0 1h0m-4 1h0m3 1h0m0 1h0m-2 1h0m9 0h0m-9 1h0m9 0h0m-6 2h0m-4 2h0m2 1h0m-1 3h0m3 0h0m0 2h0m0 1h0m-2 4h0m8 211h0m-8 7h0m8 0h0m-9 1h0m9 0h0m-8 1h0m8 0h0m-7 1h0m1 1h0m-4 1h0m1 1h0m1 0h0m8 0h0m-6 1h0m-3 1h0m-1 1h0m3 0h0m-1 1h0m1 0h0m-1 1h0m1 0h0m7 0h0m-6 1h0m-1 1h0m-1 1h0m1 0h0m1 2h0m-3 1h0m2 0h0m0 1h0m8-632h0m1 1h0m0 1h0m-1 2h0m1 0h0m0 5h0m-1 2h0m0 1h0m2 0h0m-2 1h0m3 0h0m-3 1h0m0 1h0m3 1h0m1 0h0m-3 1h0m1 1h0m-1 1h0m2 0h0m1 0h0m-3 1h0m-1 1h0m2 0h0m0 2h0m0 1h0m1 0h0m-3 1h0m4 0h0m-2 2h0m2 0h0m-4 2h0m3 1h0m-2 4h0m-1 2h0m2 4h0m-2 6h0m1 215h0m2 4h0m-3 2h0m2 0h0m1 1h0m-3 2h0m3 0h0m-1 1h0m-1 4h0m-1 1h0m1 2h0m1 0h0m-1 2h0m-1 5h0m0 76h0m1 12h0m2 4h0m0 1h0m-3 1h0m0 1h0m1 0h0m2 1h0m0 1h0m0 1h0m-1 2h0m0 1h0m-2 1h0m2 0h0m-1 1h0m1 4h0m-1 8h0m0 206h0m2 1h0m-3 1h0m1 2h0m0 1h0m0 2h0m1 1h0m-2 1h0m3 0h0m-3 1h0m0 2h0m1 0h0m1 0h0m-1 1h0m2 0h0m-2 1h0m-1 1h0m2 0h0m1 0h0m-3 1h0m0 1h0m1 0h0m1 0h0m1 1h0m-3 1h0m1 0h0m1 0h0m1 1h0m-2 1h0m2 0h0m-3 1h0m2 0h0m-2 1h0m1 0h0m1 0h0m1 0h0m-3 1h0m2 4h0m-2 6h0m47-629h0m0 6h0m-1 5h0m1 0h0m0 1h0m-1 1h0m-1 4h0m0 2h0m1 0h0m0 9h0m1 13h0m0 3h0m0 200h0m-1 5h0m0 5h0m0 16h0m1 84h0m-1 16h0m1 0h0m0 1h0m0 1h0m0 3h0m0 1h0m-1 6h0m1 214h0m-1 5h0m0 3h0m-1 4h0m0 1h0m2 2h0m-3 1h0m3 6h0m-1 6h0m13-628h0m-3 4h0m-7 2h0m8 0h0m-7 2h0m0 4h0m8 1h0m1 0h0m-11 2h0m1 2h0m8 0h0m-7 2h0m8 2h0m1 0h0m-11 1h0m2 0h0m-2 2h0m10 0h0m1 0h0m-2 6h0m-8 2h0m0 1h0m8 1h0m1 1h0m0 1h0m1 6h0m-11 1h0m10 202h0m-10 2h0m9 2h0m-7 8h0m7 1h0m2 0h0m-9 1h0m-1 1h0m9 2h0m-10 2h0m8 0h0m2 0h0m-1 2h0m-8 2h0m1 2h0m-1 1h0m8 4h0m0 78h0m-9 8h0m11 8h0m-10 1h0m8 0h0m-7 1h0m7 2h0m-8 3h0m10 1h0m-3 2h0m1 1h0m-1 2h0m2 3h0m0 5h0m-10 211h0m0 3h0m0 1h0m2 0h0m-1 6h0m-1 1h0m0 7h0m1 2h0m19-619h0m0 3h0m-1 1h0m1 2h0m-1 6h0m1 0h0m-1 1h0m-1 1h0m1 1h0m0 3h0m1 1h0m-2 1h0m0 3h0m-6 5h0m10 2h0m0 1h0m-4 1h0m2 4h0m0 4h0m1 7h0m-1 192h0m2 4h0m-1 6h0m-9 1h0m8 2h0m0 2h0m1 0h0m-2 1h0m1 0h0m-2 1h0m2 1h0m1 0h0m-9 2h0m9 1h0m-3 96h0m4 0h0m-2 1h0m-8 6h0m9 0h0m-3 3h0m2 0h0m-1 8h0m1 0h0m2 1h0m-2 2h0m-1 1h0m-7 4h0m20-399h0m-1 1h0m1 1h0m1 1h0m0 2h0m2 1h0m-2 1h0m0 1h0m-2 1h0m3 0h0m-2 1h0m2 0h0m1 1h0m-4 2h0m2 0h0m1 0h0m-2 1h0m2 0h0m1 0h0m-3 1h0m2 0h0m-3 1h0m1 0h0m3 0h0m-4 1h0m1 0h0m1 0h0m1 0h0m1 0h0m-3 1h0m1 0h0m1 0h0m-2 1h0m2 0h0m1 0h0m-2 1h0m1 0h0m-3 1h0m1 0h0m1 0h0m2 0h0m-4 1h0m1 0h0m2 0h0m-2 1h0m2 0h0m1 0h0m-3 1h0m2 0h0m-3 1h0m2 0h0m2 0h0m-4 1h0m2 0h0m2 0h0m-2 1h0m1 0h0m-3 1h0m1 0h0m1 0h0m-2 1h0m1 0h0m2 0h0m1 0h0m-4 1h0m1 0h0m1 0h0m1 0h0m1 0h0m-4 1h0m1 0h0m1 0h0m2 0h0m-3 1h0m1 0h0m1 0h0m-3 1h0m1 0h0m1 0h0m1 0h0m1 0h0m-4 1h0m2 0h0m1 0h0m-3 1h0m1 0h0m1 0h0m-1 1h0m2 0h0m-1 1h0m1 0h0m-3 1h0m1 0h0m1 0h0m-2 1h0m1 0h0m-1 1h0m2 0h0m-2 1h0m1 0h0m1 0h0m1 0h0m-2 1h0m2 0h0m1 0h0m-2 1h0m1 0h0m-2 1h0m1 0h0m0 1h0m-1 1h0m0 2h0m1 0h0m-2 2h0m0 1h0m3 0h0m-3 178h0m3 1h0m0 1h0m-1 6h0m-2 1h0m3 2h0m-2 3h0m2 4h0m-3 3h0m4 0h0m0 2h0m-4 2h0m1 0h0m0 1h0m-1 1h0m0 1h0m2 0h0m-1 4h0m1 0h0m-2 1h0m1 1h0m1 0h0m2 0h0m0 1h0m-2 1h0m0 1h0m2 0h0m-3 1h0m3 0h0m-4 1h0m2 0h0m1 0h0m1 0h0m-4 1h0m2 0h0m-3 1h0m1 0h0m2 0h0m1 0h0m1 0h0m-1 1h0m1 0h0m-4 1h0m3 0h0m-3 1h0m1 0h0m2 0h0m1 0h0m-4 1h0m1 0h0m2 0h0m1 0h0m-4 1h0m2 0h0m1 0h0m1 0h0m-3 1h0m1 0h0m2 0h0m-4 1h0m2 0h0m1 0h0m1 0h0m-4 1h0m1 0h0m2 0h0m1 0h0m-3 1h0m3 0h0m-3 1h0m1 0h0m1 0h0m-3 1h0m1 0h0m-1 1h0m1 0h0m3 0h0m-4 1h0m1 0h0m2 0h0m-1 1h0m1 0h0m1 0h0m-2 1h0m1 0h0m-3 2h0m0 1h0m2 0h0m1 2h0m1 0h0m-2 1h0m-2 3h0m0 1h0m4 4h0m-1 47h0m-1 1h0m-2 3h0m3 6h0m-2 4h0m0 2h0m0 1h0m2 1h0m-3 1h0m3 0h0m-1 2h0m1 0h0m0 1h0m1 1h0m-1 1h0m-3 1h0m0 1h0m1 0h0m1 1h0m-1 1h0m2 0h0m-3 1h0m2 0h0m2 0h0m-4 1h0m1 0h0m2 0h0m-3 1h0m2 0h0m1 0h0m-3 1h0m3 0h0m-3 1h0m0 1h0m3 0h0m1 0h0m-3 1h0m2 0h0m-1 1h0m0 1h0m2 0h0m-4 1h0m2 0h0m1 0h0m-3 1h0m4 0h0m-2 1h0m1 0h0m-3 1h0m1 0h0m1 0h0m-2 1h0m4 0h0m-4 1h0m1 0h0m1 0h0m1 0h0m-3 1h0m2 0h0m2 0h0m-3 1h0m1 0h0m0 1h0m1 0h0m1 0h0m-2 1h0m0 1h0m1 0h0m-3 1h0m4 0h0m-2 2h0m1 0h0m-1 1h0m-2 1h0m2 0h0m-1 1h0m-1 3h0m1 0h0m3 0h0m0 1h0m-1 1h0m1 0h0m-1 3h0m-3 2h0m4 1h0m-3 3h0m0 185h0m1 0h0m0 1h0m2 0h0m-1 3h0m1 0h0m-1 1h0m-1 1h0m-1 1h0m2 1h0m1 1h0m-2 1h0m-2 1h0m1 1h0m-1 1h0m1 0h0m-1 1h0m0 1h0m1 0h0m1 0h0m1 0h0m-3 1h0m4 0h0m-4 1h0m2 0h0m-1 1h0m2 0h0m-3 1h0m1 0h0m3 0h0m-5 2h0m1 0h0m2 0h0m1 0h0m1 0h0m-5 1h0m1 0h0m3 0h0m1 0h0m-3 1h0m1 0h0m1 0h0m-2 1h0m1 0h0m1 0h0m1 0h0m-4 1h0m1 0h0m1 0h0m1 0h0m1 0h0m-4 1h0m1 0h0m2 0h0m1 0h0m-3 1h0m1 0h0m2 0h0m-1 1h0m1 0h0m-4 1h0m1 0h0m1 0h0m2 0h0m-5 1h0m1 0h0m1 0h0m1 0h0m2 0h0m-4 1h0m1 0h0m1 0h0m1 0h0m-3 1h0m2 0h0m-2 1h0m1 0h0m1 0h0m1 0h0m1 0h0m-5 1h0m1 0h0m1 0h0m1 0h0m1 0h0m1 0h0m-4 1h0m1 0h0m1 0h0m1 0h0m1 0h0m-4 1h0m1 0h0m1 0h0m1 0h0m1 0h0m-4 1h0m1 0h0m2 0h0m1 0h0m-2 1h0m2 0h0m-4 1h0m1 0h0m1 0h0m-1 1h0m1 0h0m2 0h0m-4 1h0m4 0h0m-4 1h0m1 0h0m1 0h0m1 0h0m-2 1h0m2 0h0m-4 1h0m1 0h0m2 0h0m1 0h0m-2 3h0m-1 2h0m0 7h0m11-660h0m2 1h0m-1 1h0m-1 2h0m2 0h0m-3 2h0m2 0h0m-2 2h0m1 0h0m1 0h0m1 0h0m-1 2h0m-2 2h0m1 0h0m1 0h0m-1 1h0m-1 1h0m4 0h0m-1 1h0m-1 1h0m1 0h0m0 1h0m-2 1h0m1 0h0m1 0h0m-3 1h0m3 0h0m1 0h0m-3 1h0m1 1h0m1 0h0m-3 1h0m1 0h0m-1 1h0m3 0h0m1 0h0m-2 1h0m1 0h0m1 0h0m-4 1h0m1 0h0m2 0h0m-3 1h0m1 0h0m1 0h0m1 0h0m-2 1h0m1 0h0m1 0h0m1 0h0m-3 1h0m1 0h0m-1 1h0m1 0h0m-2 1h0m2 0h0m1 0h0m1 0h0m-4 1h0m2 0h0m1 0h0m1 0h0m-2 1h0m1 0h0m1 0h0m-4 1h0m1 0h0m1 0h0m1 0h0m1 0h0m-4 1h0m1 0h0m1 0h0m1 0h0m-3 1h0m1 0h0m1 0h0m-2 1h0m1 0h0m3 0h0m-4 1h0m1 0h0m3 0h0m-3 1h0m1 0h0m1 0h0m1 0h0m-2 1h0m1 0h0m1 0h0m-2 1h0m1 0h0m1 0h0m-4 1h0m1 0h0m1 0h0m1 0h0m-3 1h0m1 0h0m2 0h0m1 0h0m-4 1h0m2 0h0m1 0h0m1 0h0m-2 1h0m1 0h0m1 0h0m-4 1h0m1 0h0m1 0h0m-2 1h0m1 0h0m1 0h0m2 0h0m-2 1h0m-2 1h0m1 0h0m1 0h0m2 0h0m-4 1h0m1 1h0m1 0h0m2 0h0m-1 1h0m-2 1h0m2 0h0m-2 1h0m1 1h0m-2 1h0m3 0h0m1 0h0m-4 1h0m2 0h0m-2 1h0m3 0h0m-2 1h0m2 0h0m1 1h0m-4 2h0m0 2h0m0 1h0m3 0h0m-2 166h0m0 2h0m3 3h0m-2 1h0m2 2h0m-5 4h0m3 2h0m2 2h0m-4 2h0m2 0h0m-2 1h0m0 5h0m2 1h0m-1 3h0m1 0h0m2 0h0m1 0h0m-1 1h0m-3 1h0m-1 1h0m1 0h0m1 0h0m1 0h0m1 0h0m-4 1h0m1 0h0m2 0h0m-1 1h0m0 1h0m1 0h0m1 0h0m-4 1h0m3 0h0m-1 2h0m-2 1h0m2 0h0m2 0h0m-4 1h0m1 0h0m-1 1h0m1 0h0m3 0h0m-4 1h0m1 0h0m1 0h0m1 0h0m1 0h0m-4 1h0m3 0h0m1 0h0m-4 1h0m1 0h0m2 0h0m1 0h0m-2 1h0m1 0h0m-1 1h0m2 0h0m-4 1h0m3 0h0m2 0h0m-10 1h0m5 0h0m1 0h0m1 0h0m2 0h0m-3 1h0m1 0h0m2 0h0m-4 1h0m1 0h0m1 0h0m1 0h0m1 0h0m-5 1h0m1 0h0m1 0h0m1 0h0m1 0h0m-4 1h0m1 0h0m1 0h0m1 0h0m2 0h0m-4 1h0m2 0h0m2 0h0m-4 1h0m1 0h0m1 0h0m2 0h0m-4 1h0m1 0h0m1 0h0m1 0h0m1 0h0m-5 1h0m2 0h0m1 0h0m2 0h0m-4 1h0m2 0h0m1 0h0m1 0h0m-2 1h0m0 1h0m1 0h0m1 0h0m-4 1h0m1 0h0m-2 1h0m2 0h0m1 0h0m2 0h0m-2 1h0m1 0h0m-2 1h0m2 0h0m1 1h0m-4 1h0m1 0h0m2 1h0m-2 1h0m1 0h0m-2 1h0m1 0h0m1 0h0m0 1h0m-2 1h0m2 0h0m2 0h0m0 1h0m-2 3h0m2 1h0m-4 1h0m2 0h0m-1 1h0m1 2h0m1 3h0m-3 42h0m2 1h0m-1 1h0m2 2h0m1 0h0m-1 1h0m-1 2h0m-2 4h0m2 1h0m0 2h0m-2 2h0m1 0h0m3 1h0m-3 1h0m1 2h0m0 1h0m-2 1h0m2 0h0m1 0h0m-2 1h0m3 0h0m-4 1h0m1 0h0m2 0h0m-8 1h0m7 0h0m1 0h0m-3 2h0m1 0h0m1 0h0m1 1h0m1 0h0m-3 1h0m0 1h0m1 0h0m1 0h0m1 0h0m-4 1h0m2 0h0m2 0h0m-4 1h0m1 0h0m1 0h0m2 0h0m-4 1h0m1 0h0m2 0h0m-3 1h0m1 0h0m4 0h0m-5 1h0m1 0h0m3 0h0m-3 1h0m2 0h0m1 0h0m-5 1h0m1 0h0m1 1h0m2 0h0m-3 1h0m1 0h0m1 0h0m1 0h0m1 0h0m-4 1h0m1 0h0m2 0h0m2 0h0m-5 1h0m4 0h0m-4 1h0m3 0h0m1 0h0m-4 1h0m3 0h0m2 0h0m-4 1h0m2 0h0m1 0h0m-4 1h0m1 0h0m3 0h0m-3 1h0m1 0h0m-2 1h0m3 0h0m1 1h0m-9 1h0m9 0h0m-4 1h0m1 0h0m1 0h0m-1 1h0m1 0h0m2 0h0m-3 1h0m3 0h0m-4 1h0m1 0h0m3 0h0m0 2h0m-3 1h0m-1 1h0m2 1h0m1 0h0m-3 1h0m3 1h0m-2 1h0m-6 2h0m8 0h0m-1 2h0m0 2h0m1 189h0m-2 2h0m1 0h0m-2 2h0m1 0h0m1 0h0m0 1h0m3 0h0m-4 2h0m2 0h0m-3 1h0m1 1h0m1 0h0m-3 1h0m4 0h0m-2 1h0m2 0h0m-2 1h0m1 0h0m1 0h0m-3 1h0m3 0h0m1 0h0m-3 1h0m2 0h0m-3 1h0m1 0h0m1 0h0m1 0h0m-8 1h0m5 0h0m3 0h0m1 0h0m-4 1h0m1 0h0m1 0h0m1 0h0m1 0h0m-3 1h0m2 0h0m1 0h0m-5 1h0m2 0h0m1 0h0m1 0h0m-3 1h0m1 0h0m1 0h0m1 0h0m1 0h0m-5 1h0m2 0h0m1 0h0m1 0h0m2 0h0m-5 1h0m2 0h0m1 0h0m1 0h0m-4 1h0m2 0h0m1 0h0m1 0h0m1 0h0m-5 1h0m1 0h0m1 0h0m1 0h0m1 0h0m1 0h0m-5 1h0m1 0h0m1 0h0m1 0h0m1 0h0m-4 1h0m1 0h0m1 0h0m1 0h0m2 0h0m-5 1h0m1 0h0m1 0h0m1 0h0m1 0h0m-5 1h0m1 0h0m1 0h0m1 0h0m1 0h0m1 0h0m-4 1h0m1 0h0m1 0h0m1 0h0m1 0h0m-9 1h0m5 0h0m1 0h0m1 0h0m-2 1h0m1 0h0m1 0h0m1 0h0m1 0h0m-4 1h0m1 0h0m1 0h0m2 0h0m-4 1h0m1 0h0m1 0h0m1 0h0m1 0h0m-3 1h0m1 0h0m-2 1h0m2 0h0m2 0h0m-3 1h0m3 0h0m-1 1h0m1 0h0m1 0h0m-3 1h0m2 0h0m-4 1h0m2 0h0m2 2h0m-3 1h0m-1 1h0m4 1h0m-3 4h0m1 1h0m-2 1h0m13-650h0m-2 1h0m2 0h0m-1 1h0m-1 3h0m-1 1h0m1 0h0m0 1h0m-1 1h0m3 0h0m-3 1h0m1 0h0m1 0h0m1 0h0m-3 1h0m1 1h0m3 0h0m-3 1h0m1 0h0m1 0h0m-3 1h0m4 0h0m-3 1h0m2 0h0m-2 1h0m2 0h0m1 0h0m-4 1h0m1 0h0m0 1h0m2 0h0m1 0h0m-4 1h0m2 0h0m-1 1h0m1 0h0m1 0h0m1 0h0m-4 1h0m1 0h0m3 0h0m-4 1h0m1 0h0m2 0h0m-3 1h0m2 0h0m2 0h0m-4 1h0m0 1h0m1 0h0m1 0h0m2 0h0m-4 1h0m2 0h0m1 0h0m1 0h0m1 0h0m-6 1h0m2 0h0m2 0h0m1 0h0m-4 1h0m1 0h0m1 0h0m-2 1h0m2 0h0m2 0h0m-3 1h0m1 0h0m1 0h0m1 0h0m-4 1h0m1 0h0m3 0h0m-4 1h0m0 1h0m2 0h0m1 1h0m1 0h0m-4 1h0m0 1h0m0 1h0m1 0h0m1 0h0m1 0h0m1 0h0m-4 1h0m1 0h0m2 0h0m1 1h0m-3 1h0m2 0h0m-2 1h0m2 0h0m-1 2h0m1 1h0m-3 2h0m1 6h0m2 8h0m-1 1h0m1 177h0m-1 1h0m1 0h0m-2 2h0m2 0h0m0 1h0m-2 1h0m2 1h0m1 2h0m-1 5h0m0 1h0m-3 2h0m3 0h0m-2 1h0m3 1h0m-4 2h0m3 0h0m-3 1h0m3 1h0m0 1h0m-3 1h0m2 0h0m2 0h0m-4 1h0m1 0h0m3 1h0m-4 1h0m1 0h0m3 0h0m-4 1h0m0 1h0m1 0h0m0 1h0m1 0h0m3 0h0m-5 1h0m1 0h0m1 0h0m2 0h0m-4 1h0m2 0h0m-1 1h0m1 0h0m1 0h0m-3 1h0m4 0h0m-2 1h0m-1 1h0m3 0h0m0 1h0m-2 1h0m1 1h0m-2 1h0m3 0h0m0 1h0m-4 1h0m1 0h0m1 1h0m1 0h0m-3 1h0m4 3h0m-1 1h0m-2 1h0m1 1h0m2 1h0m0 61h0m-4 2h0m4 0h0m0 2h0m-4 4h0m0 2h0m1 3h0m2 0h0m-1 2h0m2 0h0m-4 1h0m1 0h0m2 0h0m2 3h0m-5 2h0m-1 1h0m3 0h0m-1 1h0m1 0h0m1 0h0m-3 2h0m3 0h0m1 0h0m-2 1h0m1 0h0m0 1h0m-3 1h0m2 0h0m2 0h0m-4 1h0m3 0h0m1 0h0m-3 1h0m0 1h0m1 0h0m-2 1h0m1 0h0m2 0h0m0 1h0m-2 1h0m2 0h0m-2 1h0m3 0h0m-4 1h0m1 0h0m3 0h0m-3 1h0m0 1h0m2 0h0m-3 1h0m4 1h0m-4 1h0m1 0h0m1 0h0m-1 1h0m2 2h0m-1 3h0m-2 2h0m1 1h0m0 2h0m1 4h0m-2 198h0m-1 2h0m3 2h0m3 0h0m-2 1h0m0 1h0m1 0h0m-3 1h0m0 1h0m1 0h0m3 0h0m-5 1h0m1 0h0m2 0h0m2 0h0m-3 2h0m-2 1h0m2 0h0m-2 1h0m2 0h0m1 0h0m1 0h0m1 0h0m-4 1h0m2 0h0m1 0h0m-5 1h0m1 0h0m0 1h0m1 0h0m1 0h0m1 0h0m-3 1h0m1 0h0m1 0h0m1 0h0m1 0h0m1 0h0m-5 1h0m1 0h0m1 1h0m1 0h0m1 0h0m-4 1h0m1 0h0m2 0h0m1 0h0m-4 1h0m4 0h0m-3 1h0m1 0h0m-3 1h0m2 0h0m1 0h0m2 0h0m-4 1h0m1 0h0m2 0h0m1 0h0m-4 1h0m1 0h0m1 0h0m1 0h0m1 0h0m-4 1h0m1 0h0m1 0h0m1 0h0m1 0h0m-2 1h0m1 0h0m1 0h0m-2 1h0m1 0h0m-3 1h0m0 1h0m1 0h0m1 0h0m1 0h0m1 0h0m-4 1h0m1 0h0m2 0h0m1 0h0m0 1h0m1 0h0m-5 2h0m1 0h0m1 0h0m2 0h0m-4 1h0m2 0h0m2 3h0m0 2h0m0 4h0m43-612h0m1 2h0m-1 1h0m2 0h0m-2 4h0m1 4h0m0 2h0m1 0h0m0 1h0m0 1h0m-3 1h0m1 1h0m3 0h0m-2 1h0m1 0h0m0 1h0m-2 2h0m-1 1h0m1 0h0m0 2h0m2 1h0m0 2h0m-2 1h0m33-41h0m-1 7h0m0 9h0m0 1h0m1 1h0m-1 1h0m0 3h0m1 207h0m-1 3h0m0 15h0m1 352h0m0 5h0m-1 3h0m1 0h0m10-615h0m1 6h0m-9 1h0m8 2h0m0 2h0m-7 2h0m0 3h0m-1 1h0m9 1h0m-2 3h0m-7 1h0m0 1h0m1 0h0m9 0h0m-2 1h0m1 0h0m-9 1h0m1 1h0m9 4h0m-2 4h0m0 1h0m2 0h0m-3 208h0m-8 4h0m10 0h0m1 0h0m-10 1h0m1 1h0m8 1h0m-8 1h0m7 0h0m1 4h0m-9 1h0m10 0h0m-11 2h0m1 1h0m-1 1h0m1 6h0m8 340h0m2 0h0m-3 2h0m1 0h0m-7 1h0m-2 2h0m10 0h0m1 0h0m-9 1h0m8 0h0m1 0h0m-2 1h0m-8 1h0m1 0h0m6 0h0m-8 2h0m9 0h0m-8 1h0m8 1h0m-7 2h0m8 1h0m8-614h0m2 1h0m1 4h0m1 0h0m-10 4h0m7 0h0m0 1h0m3 0h0m-10 3h0m6 0h0m0 1h0m3 0h0m1 9h0m-3 4h0m3 0h0m-3 4h0m2 1h0m-9 201h0m6 2h0m2 0h0m2 0h0m-3 3h0m-7 1h0m10 5h0m-3 2h0m0 3h0m3 0h0m-4 2h0m2 0h0m-1 4h0m-7 2h0m10 342h0m-2 1h0m1 0h0m-3 1h0m3 2h0m1 1h0m-2 1h0m-2 2h0m1 0h0m3 0h0m-10 1h0m9 0h0m1 4h0m13-616h0m-4 1h0m2 2h0m1 1h0m-2 2h0m3 2h0m-4 5h0m4 0h0m-3 1h0m2 1h0m1 0h0m-3 1h0m1 0h0m1 0h0m1 0h0m-1 1h0m-2 1h0m1 0h0m1 0h0m-3 2h0m4 0h0m-3 1h0m1 1h0m2 0h0m-4 1h0m1 0h0m2 0h0m1 0h0m-3 1h0m1 0h0m-2 3h0m2 1h0m1 0h0m-2 1h0m1 0h0m1 0h0m0 1h0m0 1h0m1 0h0m0 3h0m-2 1h0m0 1h0m1 0h0m-2 1h0m1 0h0m-1 1h0m3 1h0m-2 2h0m1 76h0m0 4h0m-1 2h0m-1 2h0m1 0h0m2 1h0m0 2h0m-3 3h0m-1 1h0m0 1h0m3 0h0m-2 1h0m3 1h0m-2 3h0m1 0h0m-3 1h0m1 0h0m2 0h0m-2 2h0m1 1h0m-1 3h0m1 0h0m1 2h0m-1 6h0m-2 78h0m1 0h0m2 0h0m-1 5h0m1 0h0m0 1h0m1 0h0m0 1h0m-2 1h0m1 0h0m-3 2h0m3 0h0m-4 2h0m4 0h0m1 0h0m-4 1h0m1 0h0m1 1h0m1 0h0m-3 1h0m3 0h0m-1 1h0m2 0h0m-2 1h0m2 0h0m-3 1h0m2 0h0m1 0h0m-5 1h0m3 0h0m1 0h0m0 1h0m-2 1h0m2 0h0m-3 2h0m4 0h0m-3 1h0m0 2h0m2 1h0m0 1h0m-2 1h0m0 1h0m2 2h0m-3 3h0m1 1h0m-2 4h0m4 0h0m0 1h0m1 0h0m0 5h0m-4 65h0m3 1h0m-2 12h0m1 0h0m-1 1h0m1 0h0m1 2h0m1 7h0m-2 4h0m2 4h0m0 5h0m0 3h0m-3 3h0m0 18h0m2 177h0m-2 1h0m2 0h0m0 2h0m1 0h0m-3 1h0m1 0h0m1 0h0m-3 1h0m3 0h0m1 0h0m-2 1h0m2 0h0m-4 1h0m1 0h0m3 0h0m-2 1h0m1 0h0m1 0h0m-4 1h0m1 0h0m1 0h0m1 0h0m-2 1h0m1 0h0m2 0h0m0 1h0m-2 1h0m1 0h0m-1 1h0m-2 1h0m1 0h0m2 0h0m-4 1h0m1 0h0m1 0h0m2 0h0m-3 2h0m3 0h0m1 0h0m-4 1h0m1 0h0m1 0h0m1 0h0m1 0h0m-3 1h0m2 0h0m-2 1h0m1 0h0m1 0h0m1 0h0m-5 1h0m2 0h0m1 0h0m1 0h0m1 0h0m-4 1h0m1 0h0m1 0h0m1 0h0m-4 1h0m1 0h0m1 0h0m1 0h0m1 0h0m-3 1h0m1 0h0m1 0h0m1 0h0m1 0h0m-4 1h0m1 0h0m1 0h0m1 0h0m1 0h0m-4 1h0m2 0h0m1 0h0m1 0h0m-4 1h0m1 0h0m1 0h0m1 0h0m1 0h0m-4 1h0m2 0h0m2 0h0m-4 1h0m3 0h0m1 0h0m-4 1h0m1 0h0m1 0h0m1 0h0m-3 1h0m1 0h0m1 0h0m1 0h0m1 0h0m-3 1h0m1 0h0m1 0h0m1 0h0m-3 1h0m1 0h0m1 0h0m1 0h0m-4 1h0m1 0h0m1 0h0m-2 1h0m2 0h0m1 0h0m1 0h0m-3 1h0m1 0h0m-2 1h0m2 0h0m1 0h0m-2 1h0m1 0h0m2 0h0m-4 1h0m0 1h0m2 0h0m1 0h0m-3 1h0m1 0h0m1 2h0m2 5h0m-1 1h0m0 1h0m10-630h0m-2 1h0m2 1h0m0 3h0m-3 1h0m2 0h0m0 1h0m0 2h0m-1 1h0m3 0h0m-3 1h0m2 1h0m0 1h0m-1 2h0m1 0h0m-1 1h0m1 0h0m1 0h0m-4 1h0m1 0h0m1 0h0m1 1h0m0 2h0m-1 1h0m-2 1h0m1 0h0m3 0h0m-3 1h0m1 1h0m-2 1h0m1 0h0m0 1h0m2 0h0m0 1h0m-2 1h0m-1 1h0m1 0h0m3 0h0m-1 1h0m1 0h0m-2 1h0m1 0h0m1 0h0m-1 2h0m1 0h0m-1 1h0m-3 2h0m2 1h0m-1 1h0m3 5h0m-2 67h0m0 3h0m2 3h0m-2 1h0m-1 3h0m1 0h0m-2 1h0m1 2h0m2 0h0m1 4h0m0 1h0m-4 1h0m2 1h0m-1 1h0m0 2h0m2 1h0m-3 1h0m1 0h0m3 2h0m-2 1h0m0 1h0m-1 2h0m0 1h0m1 1h0m-2 2h0m1 1h0m1 10h0m0 70h0m-2 5h0m0 3h0m3 0h0m-2 4h0m1 0h0m1 0h0m-3 1h0m2 0h0m2 0h0m-3 3h0m1 0h0m-2 1h0m4 0h0m0 1h0m-3 1h0m2 0h0m0 1h0m1 0h0m-9 2h0m6 0h0m2 0h0m-4 1h0m3 0h0m2 1h0m-3 1h0m1 0h0m1 0h0m-3 2h0m-1 1h0m1 0h0m4 0h0m-4 1h0m1 2h0m-2 1h0m1 0h0m3 1h0m1 0h0m0 1h0m-4 1h0m1 0h0m1 0h0m-2 1h0m0 1h0m2 0h0m2 0h0m-4 3h0m3 2h0m0 6h0m-1 2h0m2 2h0m-2 73h0m1 1h0m1 8h0m-1 2h0m-2 1h0m2 1h0m-1 3h0m0 2h0m-1 1h0m1 5h0m1 2h0m1 2h0m0 202h0m-2 2h0m-1 1h0m2 0h0m-4 4h0m2 0h0m-1 1h0m5 0h0m-1 1h0m-2 1h0m-3 1h0m2 0h0m0 1h0m0 1h0m2 0h0m1 0h0m-4 1h0m1 0h0m2 0h0m-2 1h0m1 0h0m1 0h0m-3 1h0m1 0h0m0 1h0m2 0h0m-2 1h0m1 0h0m2 0h0m-4 1h0m1 0h0m1 0h0m1 0h0m-3 1h0m1 0h0m1 0h0m-2 1h0m2 0h0m1 0h0m-3 1h0m2 0h0m1 0h0m1 0h0m-4 1h0m1 0h0m2 0h0m1 0h0m-4 1h0m1 0h0m1 0h0m1 0h0m-3 1h0m2 0h0m1 0h0m1 0h0m-3 1h0m2 0h0m1 0h0m-4 1h0m1 0h0m2 0h0m1 0h0m-4 1h0m1 0h0m1 0h0m1 0h0m1 0h0m-4 1h0m1 0h0m1 0h0m-7 1h0m4 0h0m1 0h0m2 0h0m1 0h0m-2 1h0m2 0h0m1 0h0m-2 1h0m2 0h0m1 0h0m-5 1h0m1 0h0m2 0h0m1 0h0m-4 1h0m1 0h0m1 0h0m-2 1h0m1 0h0m2 0h0m0 1h0m1 0h0m-3 1h0m-1 1h0m1 0h0m2 0h0m1 0h0m-3 1h0m1 0h0m1 0h0m1 1h0m-4 3h0m3 1h0m0 1h0m-3 3h0m1 0h0m11-625h0m1 1h0m0 1h0m0 1h0m-3 1h0m1 0h0m3 0h0m-3 2h0m1 1h0m-2 1h0m4 2h0m-3 1h0m2 0h0m-2 1h0m0 2h0m-1 1h0m2 0h0m0 1h0m-2 1h0m3 0h0m0 1h0m-1 1h0m2 0h0m-4 1h0m1 0h0m1 0h0m-1 1h0m2 0h0m-2 1h0m2 0h0m-2 2h0m2 0h0m-3 1h0m3 0h0m-2 3h0m1 0h0m2 0h0m-4 1h0m1 3h0m2 1h0m-1 1h0m1 1h0m1 2h0m-2 1h0m-1 71h0m0 5h0m2 0h0m1 0h0m-3 2h0m2 0h0m-2 1h0m-1 2h0m3 4h0m1 6h0m-4 1h0m4 1h0m-1 3h0m1 1h0m-1 1h0m0 2h0m-3 1h0m3 2h0m-1 2h0m2 2h0m-4 1h0m3 1h0m1 2h0m-2 2h0m2 5h0m-1 7h0m1 57h0m0 2h0m0 4h0m-4 4h0m3 2h0m-1 2h0m-2 1h0m4 0h0m-4 1h0m2 0h0m2 0h0m0 2h0m-4 1h0m0 1h0m2 0h0m1 1h0m1 0h0m-1 1h0m-2 1h0m1 0h0m-2 2h0m0 1h0m1 0h0m1 0h0m-1 1h0m1 0h0m-1 1h0m1 0h0m-2 1h0m2 0h0m2 0h0m-4 2h0m1 0h0m0 2h0m1 0h0m1 0h0m-2 2h0m1 0h0m-1 2h0m3 2h0m-3 1h0m2 1h0m-3 2h0m1 0h0m1 0h0m1 0h0m-2 1h0m2 4h0m-2 2h0m1 1h0m-2 1h0m2 2h0m0 1h0m-2 4h0m4 63h0m-4 6h0m4 0h0m-4 3h0m4 6h0m-1 7h0m-3 2h0m1 0h0m2 4h0m1 0h0m-2 1h0m0 1h0m0 6h0m-2 6h0m3 197h0m0 1h0m-3 1h0m2 0h0m1 0h0m-3 1h0m2 0h0m2 0h0m-4 1h0m2 0h0m0 1h0m-2 1h0m3 0h0m-3 1h0m1 0h0m0 1h0m1 0h0m1 0h0m1 0h0m-2 1h0m1 0h0m-3 1h0m1 0h0m3 0h0m-4 1h0m2 0h0m1 0h0m1 0h0m-4 1h0m1 0h0m1 1h0m1 0h0m1 0h0m-3 1h0m1 0h0m2 0h0m-4 1h0m2 0h0m1 0h0m-2 1h0m1 0h0m1 0h0m1 0h0m-3 1h0m2 0h0m1 0h0m-4 1h0m1 0h0m3 0h0m-5 1h0m2 0h0m2 0h0m-3 1h0m2 0h0m1 0h0m1 0h0m-4 1h0m1 0h0m1 0h0m1 0h0m1 0h0m-4 1h0m1 0h0m1 0h0m2 0h0m-4 1h0m2 0h0m1 0h0m1 0h0m1 0h0m-3 1h0m-2 1h0m1 0h0m1 0h0m2 0h0m1 0h0m-5 1h0m1 0h0m1 0h0m2 0h0m-4 1h0m3 0h0m-3 1h0m1 0h0m3 0h0m-4 1h0m1 0h0m3 0h0m-4 1h0m1 0h0m1 0h0m1 0h0m-3 1h0m1 0h0m2 0h0m-3 1h0m1 0h0m1 0h0m2 0h0m-2 1h0m1 0h0m-1 1h0m-1 1h0m0 1h0m1 1h0m3 4h0m-2 6h0m10-509h0m0 1h0m3 1h0m-1 1h0m1 0h0m-2 2h0m1 1h0m-2 1h0m1 0h0m1 2h0m2 1h0m-2 1h0m2 0h0m-1 2h0m-2 1h0m-1 2h0m1 0h0m3 14h0m-4 11h0m0 170h0m3 4h0m-2 1h0m2 0h0m-2 1h0m1 0h0m2 8h0m-2 1h0m-1 1h0m2 0h0m-2 1h0m3 0h0m-4 1h0m4 2h0m-1 1h0m1 0h0m-1 1h0m1 0h0m-3 2h0m2 0h0m1 0h0m-1 2h0m-1 1h0m-3 1h0m6 0h0m-2 1h0m-3 1h0m1 0h0m-1 1h0m1 0h0m-1 1h0m1 0h0m0 1h0m3 0h0m-4 1h0m4 0h0m-4 1h0m1 0h0m1 0h0m-2 2h0m1 0h0m3 0h0m-3 1h0m-1 2h0m1 0h0m2 0h0m-3 1h0m2 0h0m1 0h0m1 0h0m-3 2h0m2 0h0m1 0h0m-4 1h0m2 0h0m-2 1h0m1 0h0m2 0h0m-3 1h0m4 0h0m-2 1h0m-2 1h0m1 0h0m2 0h0m-2 1h0m2 0h0m1 1h0m-3 2h0m1 0h0m1 0h0m1 0h0m-2 1h0m1 1h0m-3 1h0m1 1h0m3 0h0m-4 2h0m4 0h0m-3 10h0m1 43h0m1 3h0m1 3h0m-2 2h0m2 1h0m-3 1h0m-2 1h0m5 0h0m-4 1h0m3 4h0m-3 3h0m1 0h0m0 2h0m2 4h0m-3 1h0m2 0h0m-2 1h0m1 0h0m2 1h0m0 1h0m-1 1h0m2 0h0m-3 1h0m1 0h0m-1 1h0m3 2h0m-4 3h0m3 0h0m1 0h0m-4 1h0m3 0h0m1 0h0m-4 1h0m2 0h0m2 0h0m-4 1h0m1 0h0m1 0h0m3 0h0m-5 1h0m1 0h0m1 0h0m2 0h0m-3 1h0m1 0h0m2 0h0m-4 1h0m1 0h0m1 0h0m2 0h0m-3 1h0m1 0h0m1 0h0m-3 1h0m2 0h0m1 0h0m1 0h0m-4 1h0m1 0h0m1 0h0m2 0h0m1 0h0m-5 1h0m2 0h0m1 0h0m1 0h0m-4 1h0m1 0h0m3 0h0m-4 1h0m1 0h0m2 0h0m1 0h0m-5 1h0m1 0h0m1 0h0m3 0h0m-1 1h0m1 0h0m-3 1h0m1 0h0m2 0h0m-5 1h0m1 0h0m1 0h0m1 0h0m1 0h0m1 0h0m-5 1h0m2 0h0m3 0h0m-4 1h0m1 0h0m1 0h0m2 0h0m-4 1h0m1 0h0m-2 1h0m2 0h0m3 0h0m-3 1h0m1 0h0m1 0h0m1 0h0m-3 1h0m2 0h0m-2 1h0m4 0h0m-5 1h0m2 0h0m1 0h0m-2 1h0m2 0h0m2 0h0m-4 1h0m3 2h0m-4 1h0m2 0h0m2 4h0m-4 1h0m1 0h0m4 3h0m7-398h0m-1 3h0m2 1h0m1 5h0m-2 2h0m-1 3h0m2 0h0m-1 1h0m2 0h0m-3 4h0m-1 2h0m1 1h0m0 1h0m2 0h0m1 1h0m-1 5h0m0 1h0m-3 3h0m4 3h0m-1 11h0m-3 186h0m2 0h0m-2 3h0m0 2h0m4 0h0m1 1h0m-5 2h0m1 2h0m2 1h0m1 0h0m-5 2h0m2 0h0m1 0h0m-1 1h0m3 0h0m-1 1h0m1 0h0m-2 1h0m1 0h0m-3 2h0m4 1h0m-4 2h0m1 0h0m2 0h0m-3 1h0m3 0h0m1 0h0m-3 1h0m2 0h0m-2 1h0m1 0h0m2 0h0m-4 1h0m3 0h0m2 0h0m-5 1h0m2 0h0m2 0h0m-5 1h0m3 0h0m2 0h0m-4 2h0m1 0h0m2 0h0m-3 1h0m2 0h0m1 0h0m-4 1h0m3 1h0m-1 2h0m2 0h0m1 0h0m-3 1h0m3 0h0m-3 1h0m2 2h0m0 1h0m-2 53h0m0 2h0m1 3h0m1 1h0m-1 6h0m1 10h0m-1 1h0m1 1h0m0 1h0m1 0h0m-2 1h0m-3 2h0m1 0h0m4 1h0m-4 2h0m2 1h0m2 0h0m-2 2h0m1 0h0m-3 1h0m3 0h0m1 0h0m-3 1h0m1 0h0m1 1h0m1 0h0m-3 1h0m3 0h0m-2 1h0m0 1h0m1 0h0m-2 1h0m2 0h0m-1 1h0m-2 1h0m1 0h0m1 0h0m1 0h0m-2 1h0m2 0h0m1 0h0m-4 1h0m1 0h0m1 2h0m0 1h0m2 0h0m-5 1h0m4 1h0m-3 1h0m2 0h0m2 0h0m-2 1h0m7 0h0m-5 1h0m-4 1h0m2 0h0m-1 1h0m2 0h0m-3 1h0m1 0h0m4 0h0m-5 1h0m1 0h0m3 0h0m-4 2h0m2 0h0m-1 1h0m-1 1h0m3 1h0m-3 1h0m1 2h0m1 0h0m-1 4h0m1 0h0m8-414h0m2 2h0m-1 14h0m3 9h0m-3 1h0m1 3h0m1 0h0m-3 1h0m4 5h0m0 1h0m-4 1h0m2 1h0m2 2h0m-4 1h0m2 1h0m0 5h0m1 0h0m1 4h0m-1 16h0m-1 170h0m-2 1h0m0 2h0m0 2h0m3 2h0m-2 6h0m1 1h0m1 2h0m-3 1h0m3 1h0m-3 1h0m3 1h0m1 1h0m-2 2h0m1 1h0m1 0h0m-4 1h0m2 0h0m0 1h0m-2 1h0m4 0h0m-2 1h0m0 2h0m1 0h0m0 1h0m1 0h0m1 0h0m-1 2h0m-3 1h0m2 0h0m-1 2h0m-1 1h0m4 0h0m-4 1h0m2 0h0m1 0h0m-1 1h0m1 0h0m-3 1h0m1 0h0m-1 1h0m0 1h0m1 0h0m0 1h0m-1 1h0m0 3h0m1 0h0m3 0h0m-3 3h0m1 0h0m1 0h0m-2 1h0m-2 1h0m2 0h0m-2 58h0m0 10h0m0 3h0m3 0h0m1 0h0m7 0h0m0 1h0m0 3h0m-8 1h0m8 2h0m0 2h0m-7 1h0m7 0h0m0 2h0m-11 3h0m3 2h0m0 1h0m8 0h0m-9 1h0m-2 1h0m2 1h0m2 0h0m-2 1h0m-1 1h0m3 0h0m-2 1h0m-2 1h0m1 0h0m2 0h0m-2 2h0m1 0h0m2 0h0m-4 1h0m1 0h0m2 0h0m-3 1h0m1 0h0m1 0h0m1 0h0m1 0h0m-1 1h0m-2 1h0m3 0h0m-4 1h0m1 0h0m4 0h0m-3 1h0m-1 1h0m2 0h0m-2 1h0m1 0h0m-2 2h0m1 0h0m1 0h0m2 0h0m-4 1h0m3 0h0m1 0h0m-1 2h0m1 0h0m-3 1h0m1 0h0m1 0h0m1 0h0m-4 1h0m1 0h0m-1 1h0m1 0h0m2 0h0m-1 1h0m0 3h0m2 0h0m-3 1h0m3 1h0m-3 1h0m1 1h0m-2 2h0m2 1h0m0 3h0m11-403h0m2 0h0m1 2h0m-3 1h0m0 2h0m2 0h0m-2 4h0m10 1h0m-8 2h0m8 0h0m-7 1h0m-2 1h0m1 1h0m0 2h0m1 0h0m7 1h0m-8 2h0m8 0h0m-7 1h0m-2 1h0m-1 1h0m1 1h0m-1 1h0m1 0h0m1 0h0m8 0h0m-10 1h0m1 0h0m-2 1h0m1 0h0m2 0h0m1 0h0m1 0h0m6 0h0m-9 1h0m2 0h0m-3 1h0m2 0h0m2 0h0m-4 1h0m1 0h0m8 0h0m1 0h0m-10 1h0m1 0h0m1 0h0m1 0h0m1 0h0m-2 1h0m1 0h0m7 0h0m-8 1h0m1 0h0m1 0h0m-3 1h0m1 0h0m1 0h0m6 0h0m-8 1h0m1 0h0m1 0h0m1 0h0m6 0h0m-9 1h0m1 0h0m1 0h0m1 0h0m6 0h0m-9 1h0m1 0h0m1 0h0m1 0h0m-4 1h0m1 0h0m1 0h0m1 0h0m1 0h0m6 0h0m-10 1h0m2 0h0m1 0h0m7 0h0m-10 1h0m1 0h0m1 0h0m1 0h0m-2 1h0m2 0h0m1 0h0m6 0h0m-11 1h0m4 0h0m1 0h0m-4 1h0m1 0h0m1 0h0m1 0h0m1 0h0m6 0h0m-10 1h0m1 0h0m1 0h0m2 0h0m6 0h0m-10 1h0m2 0h0m7 0h0m1 0h0m-8 1h0m1 0h0m1 0h0m1 0h0m5 0h0m-8 1h0m7 0h0m-9 1h0m2 0h0m1 0h0m-3 1h0m1 0h0m1 0h0m1 0h0m-3 1h0m1 0h0m-1 1h0m1 0h0m2 0h0m1 0h0m-2 1h0m2 0h0m-4 2h0m0 1h0m1 0h0m1 1h0m-2 1h0m3 0h0m0 275h0m0 1h0m7 0h0m-9 1h0m2 0h0m7 0h0m-8 1h0m0 1h0m1 0h0m7 1h0m-10 1h0m3 0h0m1 0h0m-4 1h0m1 0h0m1 0h0m-1 1h0m3 0h0m-1 1h0m1 0h0m-4 1h0m0 1h0m10 0h0m-11 1h0m1 0h0m3 0h0m6 0h0m-9 1h0m9 0h0m-10 1h0m6 0h0m4 0h0m1 0h0m-10 1h0m10 0h0m-8 1h0m-3 1h0m1 0h0m2 0h0m3 0h0m4 0h0m-7 1h0m0 1h0m1 0h0m-4 1h0m1 0h0m3 0h0m1 0h0m5 0h0m-10 1h0m1 0h0m1 0h0m1 0h0m1 0h0m6 0h0m-9 1h0m3 0h0m1 0h0m2 0h0m-5 1h0m2 0h0m1 0h0m2 0h0m-6 1h0m3 0h0m2 0h0m1 0h0m4 0h0m-11 1h0m1 0h0m1 0h0m4 0h0m4 0h0m1 0h0m-11 1h0m2 0h0m2 0h0m1 0h0m1 0h0m1 0h0m2 0h0m2 0h0m-11 1h0m1 0h0m2 0h0m2 0h0m2 0h0m3 0h0m-10 1h0m1 0h0m5 0h0m4 0h0m1 0h0m-11 1h0m1 0h0m2 0h0m6 0h0m1 0h0m-9 1h0m1 0h0m8 0h0m1 0h0m-10 1h0m1 0h0m1 0h0m2 0h0m-4 1h0m4 0h0m1 0h0m5 0h0m-10 1h0m1 0h0m2 0h0m-2 1h0m2 0h0m1 0h0m6 0h0m-10 1h0m1 0h0m4 0h0m-4 1h0m1 0h0m2 0h0m6 0h0m-10 1h0m1 0h0m2 0h0m1 0h0m-4 1h0m1 0h0m1 0h0m1 0h0m7 0h0m-9 1h0m1 0h0m1 0h0m-2 1h0m1 0h0m2 0h0m-3 1h0m2 0h0m-2 1h0m2 0h0m7 0h0m-8 1h0m1 0h0m-1 1h0m0 1h0m-1 1h0m0 1h0m1 0h0m1 0h0m7 1h0m-9 1h0m2 2h0m-1 1h0m-1 1h0m-1 1h0m2 0h0m8 0h0m0 1h0m4-390h0m1 4h0m-1 1h0m6 2h0m-6 1h0m-1 1h0m8 0h0m1 1h0m-10 1h0m0 2h0m8 1h0m1 1h0m-9 2h0m-1 1h0m9 0h0m-6 1h0m-2 1h0m1 0h0m7 0h0m-9 1h0m1 0h0m1 1h0m8 0h0m-8 1h0m0 1h0m7 0h0m1 0h0m-9 1h0m8 0h0m2 0h0m-11 1h0m9 0h0m1 0h0m1 0h0m-11 1h0m1 0h0m9 0h0m-9 1h0m2 0h0m0 1h0m6 0h0m2 0h0m-11 1h0m2 0h0m1 0h0m6 0h0m1 0h0m-10 1h0m2 0h0m7 0h0m1 0h0m-10 1h0m1 0h0m1 0h0m1 0h0m6 0h0m1 0h0m1 0h0m-11 1h0m1 0h0m8 0h0m1 0h0m1 0h0m-11 1h0m1 0h0m1 0h0m1 0h0m1 0h0m5 0h0m-9 1h0m1 0h0m2 0h0m5 0h0m1 0h0m1 0h0m1 0h0m-11 1h0m1 0h0m1 0h0m1 0h0m5 0h0m1 0h0m1 0h0m1 0h0m-10 1h0m1 0h0m1 0h0m6 0h0m1 0h0m-10 1h0m1 0h0m1 0h0m9 0h0m-11 1h0m1 0h0m1 0h0m1 0h0m6 0h0m2 0h0m-11 1h0m3 0h0m6 0h0m1 0h0m1 0h0m-11 1h0m1 0h0m1 0h0m7 0h0m1 0h0m1 0h0m-11 1h0m1 0h0m1 0h0m-2 1h0m1 0h0m7 0h0m1 0h0m2 0h0m-11 1h0m2 0h0m1 0h0m6 0h0m1 0h0m-10 1h0m2 0h0m1 0h0m6 0h0m-9 1h0m2 0h0m1 0h0m7 0h0m-10 1h0m1 0h0m1 0h0m1 0h0m8 0h0m-10 1h0m1 0h0m9 0h0m-11 1h0m1 0h0m8 0h0m-9 1h0m2 0h0m-2 1h0m1 0h0m8 0h0m-7 1h0m-2 1h0m2 0h0m7 0h0m-8 2h0m0 2h0m1 0h0m7 0h0m-9 2h0m1 0h0m-1 276h0m1 0h0m0 1h0m0 1h0m1 0h0m-1 1h0m1 0h0m9 0h0m-11 1h0m3 0h0m7 0h0m1 0h0m-11 1h0m10 0h0m-8 1h0m-2 1h0m2 0h0m1 0h0m8 0h0m-11 1h0m2 0h0m8 0h0m-9 1h0m2 0h0m6 0h0m1 0h0m1 0h0m-9 1h0m7 0h0m-9 1h0m1 0h0m1 0h0m1 0h0m1 0h0m6 0h0m-9 1h0m3 0h0m5 0h0m2 0h0m-11 1h0m1 0h0m1 0h0m1 0h0m1 0h0m7 0h0m-10 1h0m2 0h0m6 0h0m-9 1h0m1 0h0m1 0h0m1 0h0m7 0h0m1 0h0m-11 1h0m4 0h0m1 0h0m5 0h0m-10 1h0m1 0h0m2 0h0m1 0h0m1 0h0m3 0h0m3 0h0m-10 1h0m1 0h0m3 0h0m4 0h0m1 0h0m-8 1h0m2 0h0m5 0h0m1 0h0m1 0h0m-11 1h0m1 0h0m2 0h0m1 0h0m1 0h0m2 0h0m1 0h0m1 0h0m-9 1h0m4 0h0m1 0h0m2 0h0m1 0h0m1 0h0m1 0h0m1 0h0m-9 1h0m1 0h0m1 0h0m3 0h0m2 0h0m-9 1h0m1 0h0m1 0h0m2 0h0m1 0h0m2 0h0m4 0h0m-11 1h0m1 0h0m3 0h0m3 0h0m1 0h0m1 0h0m1 0h0m-10 1h0m10 0h0m-9 1h0m1 0h0m1 0h0m2 0h0m5 0h0m-10 1h0m1 0h0m3 0h0m6 0h0m1 0h0m-10 1h0m8 0h0m1 0h0m-10 1h0m1 0h0m2 0h0m1 0h0m4 0h0m3 0h0m-11 1h0m1 0h0m1 0h0m2 0h0m1 0h0m3 0h0m1 0h0m-2 1h0m3 0h0m-10 1h0m2 0h0m8 0h0m1 0h0m-11 1h0m3 0h0m6 0h0m2 0h0m-9 1h0m1 0h0m-3 1h0m1 0h0m1 0h0m1 0h0m6 0h0m1 0h0m1 0h0m-11 1h0m1 0h0m1 0h0m1 0h0m1 0h0m6 0h0m-10 1h0m2 0h0m1 0h0m7 0h0m0 1h0m1 1h0m-11 1h0m9 0h0m1 0h0m-8 1h0m1 0h0m-2 1h0m1 0h0m-1 1h0m1 0h0m7 0h0m2 0h0m-11 1h0m1 0h0m9 0h0m-8 1h0m9 0h0m-10 1h0m10 0h0m-8 5h0m-1 19h0m20-538h0m0 4h0m0 14h0m0 110h0m1 4h0m-1 5h0m-10 2h0m1 2h0m10 0h0m0 2h0m-10 1h0m0 1h0m-1 4h0m1 0h0m-1 4h0m1 1h0m-1 3h0m0 1h0m1 0h0m-1 1h0m1 0h0m0 1h0m-1 1h0m1 0h0m-1 1h0m1 0h0m-1 1h0m0 1h0m1 0h0m0 1h0m-1 2h0m1 0h0m1 0h0m-2 1h0m1 1h0m0 1h0m0 1h0m1 0h0m-2 1h0m1 0h0m-1 1h0m1 0h0m1 0h0m-2 1h0m1 0h0m-1 2h0m1 0h0m0 1h0m-1 1h0m1 0h0m-1 1h0m1 0h0m0 1h0m-1 2h0m0 2h0m0 1h0m1 1h0m10 272h0m0 4h0m0 1h0m-1 1h0m0 1h0m1 0h0m0 4h0m-1 1h0m1 0h0m-1 1h0m0 1h0m0 1h0m1 1h0m-11 1h0m1 0h0m10 0h0m-11 1h0m10 0h0m-10 1h0m11 0h0m-10 1h0m9 1h0m1 0h0m-10 1h0m-1 1h0m1 0h0m10 0h0m-9 1h0m-2 1h0m2 0h0m9 0h0m-1 1h0m-10 1h0m1 0h0m1 0h0m9 0h0m-10 1h0m1 0h0m7 0h0m2 0h0m-10 1h0m9 0h0m1 0h0m-9 1h0m1 0h0m7 0h0m1 0h0m-10 1h0m1 0h0m8 0h0m-10 1h0m1 0h0m9 0h0m-10 1h0m2 0h0m8 0h0m1 0h0m-11 1h0m10 0h0m-10 1h0m2 0h0m9 0h0m-11 1h0m1 0h0m9 0h0m-8 2h0m1 0h0m-3 1h0m1 0h0m2 0h0m6 0h0m1 0h0m1 0h0m-11 1h0m10 0h0m-10 1h0m10 0h0m0 1h0m-10 1h0m11 0h0m-11 1h0m1 0h0m-1 5h0m11 1h0m-11 1h0m1 0h0m0 2h0m0 2h0m-1 1h0m0 1h0m11 4h0m11-518h0m-10 1h0m11 2h0m-11 1h0m0 4h0m0 2h0m8 0h0m3 0h0m-9 1h0m9 0h0m0 2h0m-3 1h0m-7 1h0m0 1h0m10 2h0m-10 1h0m7 0h0m3 0h0m-10 2h0m7 93h0m-7 4h0m8 7h0m-9 4h0m1 1h0m10 0h0m-11 3h0m9 5h0m1 0h0m-9 5h0m9 2h0m1 1h0m-11 2h0m9 1h0m-9 4h0m1 302h0m-1 1h0m8 2h0m-7 1h0m7 0h0m2 0h0m1 0h0m-3 1h0m2 0h0m1 2h0m-2 2h0m2 0h0m-9 1h0m8 0h0m-10 1h0m2 0h0m6 0h0m-7 1h0m7 0h0m-7 1h0m8 0h0m-9 1h0m2 0h0m8 0h0m1 0h0m-1 1h0m-10 1h0m9 0h0m2 0h0m-10 1h0m1 0h0m7 0h0m-8 1h0m1 0h0m-2 1h0m1 0h0m0 1h0m1 0h0m6 0h0m2 0h0m-8 1h0m1 0h0m5 0h0m1 0h0m-8 1h0m7 0h0m1 0h0m-9 1h0m2 0h0m8 0h0m-9 1h0m1 0h0m6 0h0m2 0h0m1 0h0m-11 1h0m1 0h0m1 0h0m1 0h0m7 0h0m-9 1h0m7 0h0m1 0h0m1 0h0m-10 1h0m1 0h0m0 1h0m1 0h0m1 0h0m5 0h0m1 1h0m1 0h0m-8 1h0m6 0h0m1 0h0m1 0h0m1 0h0m-3 1h0m1 0h0m2 0h0m-11 1h0m1 0h0m7 0h0m2 0h0m1 0h0m-11 1h0m8 0h0m1 0h0m1 0h0m1 0h0m-11 1h0m1 0h0m1 0h0m7 0h0m1 0h0m1 0h0m-11 1h0m8 0h0m2 0h0m-10 1h0m1 0h0m7 0h0m2 0h0m-10 1h0m8 0h0m1 0h0m1 0h0m-10 1h0m1 0h0m7 0h0m2 0h0m1 0h0m-11 1h0m8 0h0m1 0h0m1 0h0m-2 1h0m2 0h0m0 1h0m-10 1h0m2 0h0m6 0h0m-6 1h0m9 0h0m-3 2h0m2 0h0m1 0h0m-11 2h0m2 0h0m6 0h0m3 0h0m-9 1h0m9 0h0m-10 1h0m8 0h0m-9 1h0m8 0h0m3 0h0m-1 1h0m-1 2h0m0 1h0m3-505h0m7 9h0m1 0h0m-1 1h0m1 0h0m-8 1h0m8 0h0m1 0h0m1 1h0m-4 1h0m2 3h0m1 0h0m-1 3h0m1 0h0m-9 91h0m0 4h0m0 5h0m9 7h0m-1 1h0m2 3h0m-2 7h0m-1 2h0m0 1h0m-7 2h0m6 0h0m1 9h0m2 4h0m-1 2h0m-8 298h0m7 4h0m1 0h0m-8 2h0m7 1h0m3 0h0m0 1h0m-1 1h0m-9 2h0m6 0h0m-6 2h0m1 0h0m-1 1h0m0 1h0m6 0h0m2 0h0m0 2h0m2 0h0m-3 2h0m1 0h0m0 1h0m-8 1h0m6 0h0m2 0h0m1 0h0m-9 1h0m6 0h0m4 0h0m-10 1h0m7 0h0m1 0h0m1 0h0m-8 1h0m6 1h0m3 0h0m-3 1h0m-1 1h0m1 0h0m1 0h0m1 0h0m-9 1h0m6 0h0m1 1h0m3 0h0m-10 1h0m6 0h0m3 0h0m-3 1h0m3 0h0m-9 1h0m6 0h0m1 0h0m2 0h0m1 0h0m-4 1h0m1 0h0m-7 1h0m7 1h0m0 1h0m-1 1h0m1 0h0m3 0h0m-10 2h0m10 0h0m-3 4h0m1 2h0m-1 2h0m3 2h0m-1 1h0m-1 1h0m2 1h0m10-390h0m1 2h0m0 1h0m0 2h0m-3 1h0m1 3h0m3 3h0m1 1h0m-4 3h0m4 1h0m-4 2h0m1 1h0m2 0h0m-1 2h0m1 3h0m1 0h0m-5 1h0m3 0h0m2 2h0m-4 1h0m4 0h0m-3 2h0m2 1h0m-2 2h0m1 0h0m-2 1h0m1 0h0m3 0h0m-4 1h0m1 0h0m1 0h0m1 0h0m1 0h0m-4 1h0m2 0h0m1 0h0m1 0h0m-3 1h0m1 0h0m1 0h0m1 0h0m-4 1h0m1 0h0m1 0h0m2 0h0m-3 1h0m1 0h0m2 0h0m-5 1h0m1 0h0m1 0h0m1 0h0m1 0h0m1 0h0m-4 1h0m1 0h0m1 0h0m2 0h0m-4 1h0m1 0h0m1 0h0m1 0h0m1 0h0m-4 1h0m4 0h0m-4 1h0m1 0h0m1 0h0m1 0h0m1 0h0m-4 1h0m1 0h0m1 0h0m1 0h0m1 0h0m-4 1h0m1 0h0m3 0h0m-4 1h0m1 0h0m1 0h0m1 0h0m1 0h0m-4 1h0m1 0h0m2 0h0m1 0h0m-4 1h0m1 0h0m1 0h0m-2 1h0m1 0h0m1 0h0m1 0h0m1 0h0m-4 1h0m1 0h0m1 0h0m-2 1h0m2 0h0m-2 1h0m2 0h0m-2 1h0m1 0h0m1 0h0m2 0h0m-2 1h0m-2 2h0m3 1h0m1 0h0m-3 1h0m1 0h0m-1 4h0m0 284h0m2 0h0m-2 1h0m1 0h0m-2 1h0m1 0h0m-1 1h0m1 0h0m1 0h0m1 0h0m-3 1h0m1 0h0m1 0h0m2 1h0m-3 1h0m1 0h0m1 0h0m-2 1h0m2 0h0m1 0h0m-3 1h0m1 0h0m1 0h0m1 0h0m-4 1h0m2 0h0m1 0h0m-3 1h0m1 0h0m1 0h0m1 0h0m1 0h0m-4 1h0m2 0h0m1 0h0m1 0h0m-5 1h0m1 0h0m1 0h0m1 0h0m1 0h0m1 0h0m-5 1h0m2 0h0m2 0h0m1 0h0m-5 1h0m1 0h0m1 0h0m2 0h0m1 0h0m-5 1h0m1 0h0m1 0h0m1 0h0m1 0h0m1 0h0m-6 1h0m2 0h0m1 0h0m1 0h0m1 0h0m1 0h0m-6 1h0m1 0h0m1 0h0m1 0h0m3 0h0m-6 1h0m2 0h0m1 0h0m1 0h0m1 0h0m-5 1h0m2 0h0m1 0h0m1 0h0m1 0h0m-5 1h0m1 0h0m1 0h0m1 0h0m1 0h0m1 0h0m1 0h0m-6 1h0m1 0h0m2 0h0m1 0h0m2 0h0m-5 1h0m1 0h0m1 0h0m1 0h0m1 0h0m1 0h0m-6 1h0m1 0h0m1 0h0m1 0h0m1 0h0m1 0h0m1 0h0m-5 1h0m1 0h0m1 0h0m1 0h0m1 0h0m1 0h0m-6 1h0m1 0h0m1 0h0m1 0h0m1 0h0m1 0h0m1 0h0m-6 1h0m1 0h0m1 0h0m1 0h0m1 0h0m1 0h0m-5 1h0m1 0h0m1 0h0m1 0h0m1 0h0m1 0h0m1 0h0m-6 1h0m1 0h0m1 0h0m1 0h0m1 0h0m1 0h0m1 0h0m-6 1h0m1 0h0m1 0h0m1 0h0m1 0h0m1 0h0m1 0h0m-6 1h0m1 0h0m1 0h0m1 0h0m1 0h0m1 0h0m1 0h0m-4 1h0m1 0h0m1 0h0m1 0h0m1 0h0m-5 1h0m1 0h0m1 0h0m1 0h0m1 0h0m1 0h0m-4 1h0m1 0h0m2 0h0m1 0h0m-5 1h0m1 0h0m1 0h0m1 0h0m1 0h0m1 0h0m-4 1h0m1 0h0m1 0h0m1 0h0m1 0h0m-4 1h0m1 0h0m1 0h0m1 0h0m1 0h0m-3 1h0m1 0h0m-2 1h0m1 0h0m1 0h0m1 0h0m1 0h0m-4 1h0m1 0h0m0 1h0m1 0h0m1 0h0m1 0h0m-4 1h0m2 0h0m1 0h0m-2 1h0m2 0h0m0 1h0m0 1h0m-2 1h0m1 0h0m-2 1h0m1 0h0m3 0h0m-4 1h0m2 0h0m2 0h0m-2 2h0m1 1h0m-2 1h0m2 0h0m-3 2h0m3 1h0m-3 1h0m13-381h0m-1 1h0m1 0h0m0 1h0m1 0h0m-2 1h0m2 0h0m1 0h0m-4 1h0m1 0h0m2 0h0m-1 3h0m1 0h0m-3 1h0m-1 1h0m4 0h0m-4 1h0m1 1h0m1 0h0m1 0h0m-2 1h0m1 0h0m1 0h0m1 0h0m-2 1h0m2 0h0m-4 1h0m1 0h0m1 0h0m-2 1h0m1 0h0m2 0h0m-1 1h0m1 0h0m1 0h0m-4 1h0m1 0h0m2 0h0m-2 1h0m3 0h0m-4 1h0m1 0h0m1 0h0m2 0h0m-5 1h0m2 0h0m1 0h0m1 0h0m1 0h0m1 0h0m-10 1h0m5 0h0m1 0h0m1 0h0m1 0h0m1 0h0m-1 1h0m1 0h0m-4 1h0m1 0h0m1 0h0m1 0h0m1 0h0m-4 1h0m1 0h0m1 0h0m1 0h0m1 0h0m1 0h0m-10 1h0m5 0h0m1 0h0m1 0h0m2 0h0m-9 1h0m5 0h0m2 0h0m1 0h0m1 0h0m-4 1h0m1 0h0m1 0h0m3 0h0m-6 1h0m1 0h0m2 0h0m2 0h0m-3 1h0m1 0h0m1 0h0m1 0h0m-5 1h0m1 0h0m1 0h0m1 0h0m1 0h0m-3 1h0m1 0h0m2 0h0m1 0h0m-4 1h0m2 0h0m1 0h0m1 0h0m-3 1h0m1 0h0m-1 1h0m0 1h0m3 0h0m1 2h0m-3 4h0m-2 280h0m1 0h0m1 1h0m-2 1h0m1 0h0m1 0h0m-1 1h0m-1 1h0m3 0h0m-1 1h0m1 0h0m-3 1h0m1 2h0m2 0h0m1 0h0m-4 1h0m1 0h0m1 0h0m-1 1h0m2 0h0m1 0h0m-4 1h0m0 1h0m1 0h0m1 0h0m1 0h0m-3 1h0m2 0h0m1 0h0m-2 1h0m1 0h0m2 0h0m1 0h0m-10 1h0m5 0h0m1 0h0m-2 1h0m1 0h0m1 0h0m3 0h0m-9 1h0m5 0h0m1 0h0m2 0h0m1 0h0m-9 1h0m4 0h0m1 0h0m2 0h0m1 0h0m1 0h0m1 0h0m-10 1h0m1 0h0m3 0h0m4 0h0m-8 1h0m1 0h0m3 0h0m3 0h0m1 0h0m1 0h0m2 0h0m-11 1h0m3 0h0m1 0h0m1 0h0m1 0h0m1 0h0m2 0h0m1 0h0m-10 1h0m6 0h0m1 0h0m1 0h0m1 0h0m1 0h0m-10 1h0m6 0h0m2 0h0m1 0h0m2 0h0m-11 1h0m1 0h0m3 0h0m3 0h0m1 0h0m2 0h0m-10 1h0m4 0h0m1 0h0m1 0h0m1 0h0m1 0h0m3 0h0m-11 1h0m3 0h0m1 0h0m1 0h0m3 0h0m1 0h0m-8 1h0m6 0h0m1 0h0m-7 1h0m4 0h0m1 0h0m2 0h0m1 0h0m1 0h0m-10 1h0m3 0h0m4 0h0m2 0h0m1 0h0m1 0h0m-10 1h0m5 0h0m2 0h0m2 0h0m-10 1h0m1 0h0m4 0h0m2 0h0m1 0h0m1 0h0m1 0h0m1 0h0m-6 1h0m2 0h0m1 0h0m1 0h0m1 0h0m1 0h0m-11 1h0m1 0h0m4 0h0m2 0h0m3 0h0m-10 1h0m1 0h0m4 0h0m1 0h0m1 0h0m3 0h0m1 0h0m-11 1h0m4 0h0m1 0h0m1 0h0m1 0h0m2 0h0m1 0h0m-10 1h0m1 0h0m3 0h0m5 0h0m-9 1h0m5 0h0m1 0h0m1 0h0m2 0h0m1 0h0m-10 1h0m5 0h0m2 0h0m-7 1h0m5 0h0m1 0h0m2 0h0m1 0h0m-3 1h0m0 1h0m1 0h0m1 0h0m1 0h0m-1 1h0m1 0h0m-3 1h0m1 0h0m2 1h0m-2 1h0m1 0h0m-2 2h0m2 0h0m0 1h0m0 1h0m-1 1h0m0 1h0m0 1h0m-1 1h0m0 1h0m1 0h0m-2 1h0m11-383h0m1 0h0m-1 2h0m-1 1h0m4 0h0m0 1h0m-2 2h0m-2 2h0m2 0h0m-2 2h0m1 0h0m-1 3h0m2 0h0m1 0h0m1 0h0m-4 1h0m1 1h0m0 3h0m3 1h0m-4 1h0m3 0h0m-1 1h0m1 0h0m-3 1h0m2 0h0m1 0h0m1 0h0m-5 1h0m5 0h0m-4 1h0m2 0h0m1 0h0m-3 1h0m2 0h0m-2 1h0m2 0h0m1 0h0m1 0h0m-5 1h0m1 0h0m2 0h0m1 0h0m1 0h0m1 0h0m-5 1h0m1 0h0m1 0h0m1 0h0m-1 1h0m1 0h0m1 0h0m-4 1h0m1 0h0m1 0h0m1 0h0m-3 1h0m2 0h0m1 0h0m2 0h0m-5 1h0m1 0h0m2 0h0m1 0h0m-4 1h0m1 0h0m1 0h0m1 0h0m1 0h0m1 0h0m-6 1h0m1 0h0m2 0h0m1 0h0m1 0h0m1 0h0m-5 1h0m1 0h0m1 0h0m1 0h0m1 0h0m-4 1h0m1 0h0m4 0h0m-5 1h0m2 0h0m1 0h0m1 0h0m-4 1h0m1 0h0m-1 1h0m1 0h0m1 0h0m2 0h0m-4 1h0m1 0h0m2 0h0m-3 1h0m0 1h0m3 0h0m-3 2h0m2 0h0m1 0h0m1 0h0m-3 1h0m3 0h0m-2 1h0m-2 1h0m2 0h0m-1 1h0m0 7h0m-1 276h0m3 0h0m-1 2h0m1 0h0m1 0h0m-2 1h0m1 0h0m-3 1h0m0 1h0m2 0h0m2 0h0m-3 1h0m2 0h0m0 1h0m1 0h0m-4 1h0m2 0h0m1 0h0m1 0h0m0 1h0m-4 1h0m1 0h0m2 0h0m0 1h0m-3 1h0m1 0h0m1 0h0m-3 1h0m1 0h0m1 0h0m1 0h0m1 0h0m1 0h0m-3 1h0m1 0h0m1 0h0m-4 2h0m2 0h0m1 0h0m2 0h0m1 0h0m-6 1h0m2 0h0m2 0h0m1 0h0m-6 1h0m1 0h0m1 0h0m2 0h0m1 0h0m2 0h0m-6 1h0m2 0h0m2 0h0m-3 1h0m1 0h0m3 0h0m-5 1h0m2 0h0m1 0h0m1 0h0m1 0h0m2 0h0m-8 1h0m1 0h0m1 0h0m1 0h0m3 0h0m1 0h0m-7 1h0m2 0h0m2 0h0m-4 1h0m2 0h0m1 0h0m1 0h0m1 0h0m1 0h0m1 0h0m-7 1h0m4 0h0m1 0h0m1 0h0m1 0h0m-7 1h0m1 0h0m1 0h0m1 0h0m1 0h0m1 0h0m1 0h0m1 0h0m1 0h0m-7 1h0m1 0h0m2 0h0m1 0h0m1 0h0m-6 1h0m2 0h0m1 0h0m1 0h0m2 0h0m1 0h0m-6 1h0m1 0h0m1 0h0m1 0h0m2 0h0m2 0h0m-8 1h0m1 0h0m1 0h0m3 0h0m-5 1h0m3 0h0m2 0h0m1 0h0m-6 1h0m2 0h0m1 0h0m1 0h0m2 0h0m1 0h0m-4 1h0m1 0h0m1 0h0m-4 1h0m1 0h0m3 0h0m1 0h0m1 0h0m-6 1h0m2 0h0m2 0h0m1 0h0m1 0h0m-4 1h0m1 0h0m1 0h0m-3 1h0m1 0h0m2 0h0m1 0h0m-2 1h0m1 0h0m1 0h0m-4 1h0m3 0h0m1 0h0m-4 1h0m1 0h0m1 0h0m-1 1h0m3 0h0m-3 1h0m2 0h0m1 0h0m-3 2h0m3 0h0m-1 1h0m-2 1h0m3 0h0m0 1h0m-4 1h0m3 0h0m1 0h0m-4 1h0m3 0h0m-3 4h0m3 1h0m0 4h0" stroke="#000" stroke-opacity="0.66" stroke-width="1" stroke-linecap="square" fill="none"/><path d="M68 815.2V912.7H868M87.1 912.7v3.6M120.2 912.7v3.6M153.2 912.7v3.6M186.3 912.7v3.6M219.4 912.7v3.6M252.4 912.7v3.6M285.5 912.7v3.6M318.6 912.7v3.6M351.7 912.7v3.6M384.7 912.7v3.6M417.8 912.7v3.6M450.9 912.7v3.6M483.9 912.7v3.6M517 912.7v3.6M550.1 912.7v3.6M583.1 912.7v3.6M616.2 912.7v3.6M649.3 912.7v3.6M682.4 912.7v3.6M715.4 912.7v3.6M748.5 912.7v3.6M781.6 912.7v3.6M814.6 912.7v3.6M847.7 912.7v3.6M68 908.4h-3.4M68 888.8h-3.4M68 869.2h-3.4M68 849.6h-3.4M68 830h-3.4M68 930.9V1028.4H868M87.1 1028.4v3.6M120.2 1028.4v3.6M153.2 1028.4v3.6M186.3 1028.4v3.6M219.4 1028.4v3.6M252.4 1028.4v3.6M285.5 1028.4v3.6M318.6 1028.4v3.6M351.7 1028.4v3.6M384.7 1028.4v3.6M417.8 1028.4v3.6M450.9 1028.4v3.6M483.9 1028.4v3.6M517 1028.4v3.6M550.1 1028.4v3.6M583.1 1028.4v3.6M616.2 1028.4v3.6M649.3 1028.4v3.6M682.4 1028.4v3.6M715.4 1028.4v3.6M748.5 1028.4v3.6M781.6 1028.4v3.6M814.6 1028.4v3.6M847.7 1028.4v3.6M68 1023.4h-3.4M68 999.3h-3.4M68 975.2h-3.4M68 951.1h-3.4M68 1045.4V1142.9H868M87.1 1142.9v3.6M120.2 1142.9v3.6M153.2 1142.9v3.6M186.3 1142.9v3.6M219.4 1142.9v3.6M252.4 1142.9v3.6M285.5 1142.9v3.6M318.6 1142.9v3.6M351.7 1142.9v3.6M384.7 1142.9v3.6M417.8 1142.9v3.6M450.9 1142.9v3.6M483.9 1142.9v3.6M517 1142.9v3.6M550.1 1142.9v3.6M583.1 1142.9v3.6M616.2 1142.9v3.6M649.3 1142.9v3.6M682.4 1142.9v3.6M715.4 1142.9v3.6M748.5 1142.9v3.6M781.6 1142.9v3.6M814.6 1142.9v3.6M847.7 1142.9v3.6M68 1138.4h-3.4M68 1116.1h-3.4M68 1093.8h-3.4M68 1071.5h-3.4M68 1049.2h-3.4M68 1160.9V1258.4H868M87.1 1258.4v3.6M120.2 1258.4v3.6M153.2 1258.4v3.6M186.3 1258.4v3.6M219.4 1258.4v3.6M252.4 1258.4v3.6M285.5 1258.4v3.6M318.6 1258.4v3.6M351.7 1258.4v3.6M384.7 1258.4v3.6M417.8 1258.4v3.6M450.9 1258.4v3.6M483.9 1258.4v3.6M517 1258.4v3.6M550.1 1258.4v3.6M583.1 1258.4v3.6M616.2 1258.4v3.6M649.3 1258.4v3.6M682.4 1258.4v3.6M715.4 1258.4v3.6M748.5 1258.4v3.6M781.6 1258.4v3.6M814.6 1258.4v3.6M847.7 1258.4v3.6M68 1253.8h-3.4M68 1230.9h-3.4M68 1208h-3.4M68 1185.1h-3.4M68 1162.2h-3.4M68 1276.3V1373.8H868M87.1 1373.8v3.6M120.2 1373.8v3.6M153.2 1373.8v3.6M186.3 1373.8v3.6M219.4 1373.8v3.6M252.4 1373.8v3.6M285.5 1373.8v3.6M318.6 1373.8v3.6M351.7 1373.8v3.6M384.7 1373.8v3.6M417.8 1373.8v3.6M450.9 1373.8v3.6M483.9 1373.8v3.6M517 1373.8v3.6M550.1 1373.8v3.6M583.1 1373.8v3.6M616.2 1373.8v3.6M649.3 1373.8v3.6M682.4 1373.8v3.6M715.4 1373.8v3.6M748.5 1373.8v3.6M781.6 1373.8v3.6M814.6 1373.8v3.6M847.7 1373.8v3.6M68 1369h-3.4M68 1350.3h-3.4M68 1331.6h-3.4M68 1312.9h-3.4M68 1294.2h-3.4M68 1392.1V1489.6H868M87.1 1489.6v3.6M120.2 1489.6v3.6M153.2 1489.6v3.6M186.3 1489.6v3.6M219.4 1489.6v3.6M252.4 1489.6v3.6M285.5 1489.6v3.6M318.6 1489.6v3.6M351.7 1489.6v3.6M384.7 1489.6v3.6M417.8 1489.6v3.6M450.9 1489.6v3.6M483.9 1489.6v3.6M517 1489.6v3.6M550.1 1489.6v3.6M583.1 1489.6v3.6M616.2 1489.6v3.6M649.3 1489.6v3.6M682.4 1489.6v3.6M715.4 1489.6v3.6M748.5 1489.6v3.6M781.6 1489.6v3.6M814.6 1489.6v3.6M847.7 1489.6v3.6M68 1485h-3.4M68 1455.9h-3.4M68 1426.9h-3.4M68 1397.8h-3.4" stroke="#000" stroke-width="1.85" fill="none"/><text x="61.5" y="915" font-size="19" text-anchor="end" textLength="11.2" lengthAdjust="spacingAndGlyphs">0</text><text x="61.5" y="895.4" font-size="19" text-anchor="end" textLength="11.2" lengthAdjust="spacingAndGlyphs">1</text><text x="61.5" y="875.8" font-size="19" text-anchor="end" textLength="11.2" lengthAdjust="spacingAndGlyphs">2</text><text x="61.5" y="856.2" font-size="19" text-anchor="end" textLength="11.2" lengthAdjust="spacingAndGlyphs">3</text><text x="61.5" y="836.6" font-size="19" text-anchor="end" textLength="11.2" lengthAdjust="spacingAndGlyphs">4</text><text x="467.3" y="823.1" font-size="22.5" text-anchor="middle" font-style="italic" textLength="35.7" lengthAdjust="spacingAndGlyphs">Il34</text><text x="61.5" y="1030" font-size="19" text-anchor="end" textLength="11.2" lengthAdjust="spacingAndGlyphs">0</text><text x="61.5" y="1005.9" font-size="19" text-anchor="end" textLength="11.2" lengthAdjust="spacingAndGlyphs">1</text><text x="61.5" y="981.8" font-size="19" text-anchor="end" textLength="11.2" lengthAdjust="spacingAndGlyphs">2</text><text x="61.5" y="957.7" font-size="19" text-anchor="end" textLength="11.2" lengthAdjust="spacingAndGlyphs">3</text><text x="467.3" y="938.8" font-size="22.5" text-anchor="middle" font-style="italic" textLength="46.4" lengthAdjust="spacingAndGlyphs">Csf1</text><text x="61.5" y="1145" font-size="19" text-anchor="end" textLength="11.2" lengthAdjust="spacingAndGlyphs">0</text><text x="61.5" y="1122.7" font-size="19" text-anchor="end" textLength="11.2" lengthAdjust="spacingAndGlyphs">1</text><text x="61.5" y="1100.4" font-size="19" text-anchor="end" textLength="11.2" lengthAdjust="spacingAndGlyphs">2</text><text x="61.5" y="1078.1" font-size="19" text-anchor="end" textLength="11.2" lengthAdjust="spacingAndGlyphs">3</text><text x="61.5" y="1055.8" font-size="19" text-anchor="end" textLength="11.2" lengthAdjust="spacingAndGlyphs">4</text><text x="467.3" y="1053.3" font-size="22.5" text-anchor="middle" font-style="italic" textLength="56.6" lengthAdjust="spacingAndGlyphs">Tgfb1</text><text x="61.5" y="1260.4" font-size="19" text-anchor="end" textLength="11.2" lengthAdjust="spacingAndGlyphs">0</text><text x="61.5" y="1237.5" font-size="19" text-anchor="end" textLength="11.2" lengthAdjust="spacingAndGlyphs">1</text><text x="61.5" y="1214.6" font-size="19" text-anchor="end" textLength="11.2" lengthAdjust="spacingAndGlyphs">2</text><text x="61.5" y="1191.7" font-size="19" text-anchor="end" textLength="11.2" lengthAdjust="spacingAndGlyphs">3</text><text x="61.5" y="1168.8" font-size="19" text-anchor="end" textLength="11.2" lengthAdjust="spacingAndGlyphs">4</text><text x="467.3" y="1168.8" font-size="22.5" text-anchor="middle" font-style="italic" textLength="57.7" lengthAdjust="spacingAndGlyphs">Tgfb2</text><text x="61.5" y="1375.6" font-size="19" text-anchor="end" textLength="11.2" lengthAdjust="spacingAndGlyphs">0</text><text x="61.5" y="1356.9" font-size="19" text-anchor="end" textLength="11.2" lengthAdjust="spacingAndGlyphs">1</text><text x="61.5" y="1338.2" font-size="19" text-anchor="end" textLength="11.2" lengthAdjust="spacingAndGlyphs">2</text><text x="61.5" y="1319.5" font-size="19" text-anchor="end" textLength="11.2" lengthAdjust="spacingAndGlyphs">3</text><text x="61.5" y="1300.8" font-size="19" text-anchor="end" textLength="11.2" lengthAdjust="spacingAndGlyphs">4</text><text x="467.3" y="1284.2" font-size="22.5" text-anchor="middle" font-style="italic" textLength="35.3" lengthAdjust="spacingAndGlyphs">Il33</text><text x="61.5" y="1491.6" font-size="19" text-anchor="end" textLength="11.2" lengthAdjust="spacingAndGlyphs">0</text><text x="61.5" y="1462.5" font-size="19" text-anchor="end" textLength="11.2" lengthAdjust="spacingAndGlyphs">2</text><text x="61.5" y="1433.5" font-size="19" text-anchor="end" textLength="11.2" lengthAdjust="spacingAndGlyphs">4</text><text x="61.5" y="1404.4" font-size="19" text-anchor="end" textLength="11.2" lengthAdjust="spacingAndGlyphs">6</text><text x="467.3" y="1400" font-size="22.5" text-anchor="middle" font-style="italic" textLength="71.3" lengthAdjust="spacingAndGlyphs">Cxcl12</text><text x="93.6" y="1504" font-size="18.9" text-anchor="end" transform="rotate(-45 93.6 1504)" textLength="88.3" lengthAdjust="spacingAndGlyphs">ven_duEC</text><text x="126.7" y="1504" font-size="18.9" text-anchor="end" transform="rotate(-45 126.7 1504)" textLength="80" lengthAdjust="spacingAndGlyphs">art_duEC</text><text x="159.7" y="1504" font-size="18.9" text-anchor="end" transform="rotate(-45 159.7 1504)" textLength="85.8" lengthAdjust="spacingAndGlyphs">venousEC</text><text x="192.8" y="1504" font-size="18.9" text-anchor="end" transform="rotate(-45 192.8 1504)" textLength="106" lengthAdjust="spacingAndGlyphs">capillaryEC1</text><text x="225.9" y="1504" font-size="18.9" text-anchor="end" transform="rotate(-45 225.9 1504)" textLength="106" lengthAdjust="spacingAndGlyphs">capillaryEC2</text><text x="258.9" y="1504" font-size="18.9" text-anchor="end" transform="rotate(-45 258.9 1504)" textLength="83.4" lengthAdjust="spacingAndGlyphs">arterialEC</text><text x="292" y="1504" font-size="18.9" text-anchor="end" transform="rotate(-45 292 1504)" textLength="49.4" lengthAdjust="spacingAndGlyphs">iegEC</text><text x="325.1" y="1504" font-size="18.9" text-anchor="end" transform="rotate(-45 325.1 1504)" textLength="97.3" lengthAdjust="spacingAndGlyphs">periostalFB</text><text x="358.2" y="1504" font-size="18.9" text-anchor="end" transform="rotate(-45 358.2 1504)" textLength="55.5" lengthAdjust="spacingAndGlyphs">duFB1</text><text x="391.2" y="1504" font-size="18.9" text-anchor="end" transform="rotate(-45 391.2 1504)" textLength="55.5" lengthAdjust="spacingAndGlyphs">duFB2</text><text x="424.3" y="1504" font-size="18.9" text-anchor="end" transform="rotate(-45 424.3 1504)" textLength="48.5" lengthAdjust="spacingAndGlyphs">araFB</text><text x="457.4" y="1504" font-size="18.9" text-anchor="end" transform="rotate(-45 457.4 1504)" textLength="53.3" lengthAdjust="spacingAndGlyphs">pialFB</text><text x="490.4" y="1504" font-size="18.9" text-anchor="end" transform="rotate(-45 490.4 1504)" textLength="54.2" lengthAdjust="spacingAndGlyphs">pvFB1</text><text x="523.5" y="1504" font-size="18.9" text-anchor="end" transform="rotate(-45 523.5 1504)" textLength="54.2" lengthAdjust="spacingAndGlyphs">pvFB2</text><text x="556.6" y="1504" font-size="18.9" text-anchor="end" transform="rotate(-45 556.6 1504)" textLength="46.5" lengthAdjust="spacingAndGlyphs">duPC</text><text x="589.6" y="1504" font-size="18.9" text-anchor="end" transform="rotate(-45 589.6 1504)" textLength="23.2" lengthAdjust="spacingAndGlyphs">PC</text><text x="622.7" y="1504" font-size="18.9" text-anchor="end" transform="rotate(-45 622.7 1504)" textLength="114.3" lengthAdjust="spacingAndGlyphs">venousVSMC</text><text x="655.8" y="1504" font-size="18.9" text-anchor="end" transform="rotate(-45 655.8 1504)" textLength="111.9" lengthAdjust="spacingAndGlyphs">arterialVSMC</text><text x="688.9" y="1504" font-size="18.9" text-anchor="end" transform="rotate(-45 688.9 1504)" textLength="75.6" lengthAdjust="spacingAndGlyphs">myel_SC</text><text x="721.9" y="1504" font-size="18.9" text-anchor="end" transform="rotate(-45 721.9 1504)" textLength="120.7" lengthAdjust="spacingAndGlyphs">non_myel_SC</text><text x="755" y="1504" font-size="18.9" text-anchor="end" transform="rotate(-45 755 1504)" textLength="46.3" lengthAdjust="spacingAndGlyphs">Astro</text><text x="788.1" y="1504" font-size="18.9" text-anchor="end" transform="rotate(-45 788.1 1504)" textLength="37.6" lengthAdjust="spacingAndGlyphs">OPC</text><text x="821.1" y="1504" font-size="18.9" text-anchor="end" transform="rotate(-45 821.1 1504)" textLength="138.2" lengthAdjust="spacingAndGlyphs">intermed_Oligo</text><text x="854.2" y="1504" font-size="18.9" text-anchor="end" transform="rotate(-45 854.2 1504)" textLength="121.1" lengthAdjust="spacingAndGlyphs">mature_Oligo</text><text x="30" y="1137.7" font-size="23.2" text-anchor="middle" transform="rotate(-90 30 1137.7)" textLength="169" lengthAdjust="spacingAndGlyphs">Expression Level</text><rect x="643" y="786" width="23.5" height="11.6" fill="#e89b2f"/><text x="671.4" y="798.6" font-size="22.4" textLength="37.5" lengthAdjust="spacingAndGlyphs">CTL</text><rect x="731" y="786" width="23.5" height="11.6" fill="#8a42b9"/><text x="759.4" y="798.6" font-size="22.4" textLength="25" lengthAdjust="spacingAndGlyphs">5d</text><rect x="807.5" y="786" width="23.5" height="11.6" fill="#5fe87e"/><text x="835.9" y="798.6" font-size="22.4" textLength="30.5" lengthAdjust="spacingAndGlyphs">8w</text></g>
<g><text x="894.5" y="782.5" font-size="34" font-weight="bold">e</text><rect x="991.4" y="863.9" width="28.5" height="165.7" fill="#e89b2f"/><text x="1012.2" y="872.4" font-size="19" text-anchor="end" transform="rotate(-90 1012.2 872.4)" textLength="65" lengthAdjust="spacingAndGlyphs">183.283</text><rect x="1031.1" y="817.1" width="28.8" height="212.5" fill="#8a42b9"/><text x="1052.1" y="825.6" font-size="19" text-anchor="end" transform="rotate(-90 1052.1 825.6)" textLength="66.7" lengthAdjust="spacingAndGlyphs">235.116</text><rect x="1071" y="859.2" width="29" height="170.4" fill="#5fe87e"/><text x="1092.1" y="867.7" font-size="19" text-anchor="end" transform="rotate(-90 1092.1 867.7)" textLength="54.4" lengthAdjust="spacingAndGlyphs">188.45</text><path d="M984.9 805.7V1040H1107" stroke="#000" stroke-width="1.75" fill="none"/><path d="M984.9 1029.6h-4.6M984.9 984.4h-4.6M984.9 939.2h-4.6M984.9 894h-4.6M984.9 848.8h-4.6M1005.6 1040v5M1045.5 1040v5M1085.5 1040v5" stroke="#000" stroke-width="1.75" fill="none"/><text x="978.5" y="1036.2" font-size="19" text-anchor="end" textLength="11.3" lengthAdjust="spacingAndGlyphs">0</text><text x="978.5" y="991" font-size="19" text-anchor="end" textLength="22.6" lengthAdjust="spacingAndGlyphs">50</text><text x="978.5" y="945.8" font-size="19" text-anchor="end" textLength="33.9" lengthAdjust="spacingAndGlyphs">100</text><text x="978.5" y="900.6" font-size="19" text-anchor="end" textLength="33.9" lengthAdjust="spacingAndGlyphs">150</text><text x="978.5" y="855.4" font-size="19" text-anchor="end" textLength="33.9" lengthAdjust="spacingAndGlyphs">200</text><text x="935" y="926.5" font-size="24.2" text-anchor="middle" transform="rotate(-90 935 926.5)">Interaction strength</text><text x="1011.1" y="1055" font-size="19.2" text-anchor="end" transform="rotate(-45 1011.1 1055)">CTL</text><text x="1051" y="1055" font-size="19.2" text-anchor="end" transform="rotate(-45 1051 1055)">5d</text><text x="1091" y="1055" font-size="19.2" text-anchor="end" transform="rotate(-45 1091 1055)">8w</text></g>
<g><text x="1134" y="782.5" font-size="36.5" font-weight="bold">f</text><text x="1492.5" y="781" font-size="34" font-weight="bold">g</text><g transform="scale(.5)" fill="none" stroke-width="3" stroke-linecap="round"><path d="M0 0m2433 1908h0m2-2h0m6 2h0m2-2h0m0 1h0m3 1h0m2-4h0m2 0h0m2 2h0m-27 9h0m10-5h0m0 8h0m2-8h0m1-1h0m0 7h0m0-5h0m0 0h0m0 2h0m0-2h0m5 6h0m0-1h0m3 4h0m0-1h0m0-6h0m1 6h0m1-8h0m8 8h0m0 0h0m1-6h0m2 3h0m2 3h0m-47 12h0m3-1h0m0-8h0m1 8h0m1-6h0m0 5h0m0-4h0m2-3h0m0 1h0m0 0h0m1 5h0m1-7h0m1 7h0m1-3h0m1-2h0m0 8h0m1-2h0m2-7h0m2 7h0m0 1h0m1-2h0m2-6h0m1 5h0m0-4h0m2-1h0m0-1h0m2 10h0m2-10h0m3 4h0m1-4h0m0 9h0m1-4h0m2 3h0m0 0h0m0 2h0m1-11h0m1 9h0m1-5h0m0 7h0m0-8h0m0 4h0m1-2h0m0-2h0m1-1h0m2 7h0m0 1h0m0-7h0m1-2h0m4 3h0m1 6h0m0-2h0m0-4h0m2 2h0m1 1h0m5 2h0m-62 14h0m4-1h0m0-6h0m3 5h0m0 0h0m0 2h0m1 0h0m0-2h0m1 2h0m1-9h0m0 2h0m1-4h0m0 9h0m1-8h0m0 5h0m4-1h0m0-2h0m3 2h0m1-1h0m1 4h0m1 3h0m1-8h0m2-3h0m1 6h0m0-1h0m0-3h0m1 5h0m0-6h0m2 0h0m1 5h0m0 4h0m4-6h0m0 7h0m1-6h0m1-1h0m3-2h0m1 6h0m0-3h0m2-5h0m1 2h0m1 0h0m1 7h0m2-2h0m0 1h0m2-5h0m0-3h0m0 3h0m0 5h0m0-6h0m1 7h0m1 0h0m1-6h0m0 4h0m1 0h0m2-6h0m0 2h0m1-2h0m0 10h0m1-10h0m1 8h0m1-8h0m4 8h0m-70 15h0m2-5h0m2 1h0m0-1h0m0 4h0m1-3h0m1-2h0m0 1h0m3 3h0m2 0h0m0-8h0m0 5h0m4 2h0m0-7h0m0 5h0m0-3h0m1 1h0m3 1h0m0 6h0m0-7h0m1 1h0m0-2h0m1 1h0m1-2h0m1 3h0m0-1h0m2 3h0m1-6h0m0 8h0m1-6h0m0-3h0m1 2h0m0 2h0m1-4h0m0 2h0m1-2h0m0 8h0m0 0h0m1-4h0m2 3h0m1-5h0m1 1h0m2-2h0m2 10h0m1-11h0m2 11h0m1-6h0m0 2h0m4 3h0m0-1h0m0-3h0m2 4h0m0-9h0m0 10h0m0-10h0m2-1h0m1 9h0m0-10h0m0 9h0m0-1h0m3 4h0m0-10h0m1 1h0m8 0h0m0 2h0m1-5h0m0 11h0m1-7h0m1 0h0m0-2h0m2 1h0m0 7h0m0-8h0m2 0h0m1-2h0m0 6h0m-73 11h0m1 1h0m0 3h0m1-1h0m0-1h0m1 5h0m1-9h0m2 3h0m0 5h0m1-3h0m0 0h0m1-7h0m2 1h0m0 10h0m1-2h0m1-9h0m0 4h0m1 6h0m1-9h0m0 0h0m1-1h0m0 0h0m1 10h0m0-5h0m1 1h0m2 1h0m2-6h0m0 9h0m1 0h0m0-6h0m0-4h0m1 10h0m0-10h0m0 7h0m1-6h0m1 2h0m1-1h0m1 7h0m1-1h0m1-2h0m1 4h0m2-2h0m2 1h0m1-9h0m0 6h0m0 2h0m2 3h0m0-3h0m1-6h0m0 3h0m0 3h0m3-1h0m1-3h0m1 3h0m2-1h0m0-2h0m0 5h0m1 1h0m3-8h0m0 5h0m0-7h0m1 7h0m0 1h0m0-4h0m1 2h0m2-1h0m1 1h0m0-2h0m3-3h0m2 6h0m5 1h0m0 2h0m0 0h0m0 0h0m1-4h0m0 1h0m1-7h0m3 1h0m1-1h0m0 1h0m2 0h0m3 8h0m1 2h0m0-1h0m1-1h0m1-1h0m-83 14h0m0-5h0m3 4h0m0-10h0m2 5h0m0 4h0m0-4h0m2 4h0m0 2h0m1-2h0m2-9h0m1 9h0m0-9h0m1 8h0m1 2h0m2-9h0m1 3h0m0 6h0m1 2h0m1-10h0m2 6h0m0-3h0m1 1h0m2-1h0m0 2h0m0-4h0m2-1h0m1 6h0m1 4h0m1-1h0m0-6h0m1 1h0m0 1h0m1-4h0m3 3h0m1 6h0m1-7h0m1 2h0m1-1h0m0-5h0m0 2h0m1-1h0m1 4h0m1 1h0m0 5h0m2-1h0m2-1h0m0 0h0m0-7h0m0 7h0m1-8h0m0 10h0m1-7h0m0 7h0m1-2h0m0-5h0m2-2h0m2-2h0m0 5h0m1-6h0m1 10h0m0-8h0m1 1h0m0 8h0m1-5h0m1 5h0m0-10h0m0 1h0m1 5h0m1-7h0m1 4h0m0 5h0m0 0h0m1-8h0m3 1h0m2 6h0m0 2h0m0-6h0m4-1h0m0 8h0m0-1h0m1 1h0m3-5h0m0-3h0m3 2h0m0 3h0m0-3h0m1-4h0m0 3h0m1 8h0m1-11h0m0 2h0m1-1h0m0 4h0m0-2h0m2-3h0m0 7h0m0-3h0m0 3h0m1 2h0m-88 8h0m2-2h0m2 8h0m0-4h0m1 3h0m0-1h0m0-10h0m1 4h0m1 6h0m0-8h0m1 0h0m3 4h0m2 1h0m0 3h0m1-2h0m0-7h0m2 10h0m1-9h0m0 7h0m1-7h0m1 9h0m0-6h0m2 2h0m0 4h0m1-6h0m1 7h0m1-8h0m0 4h0m3-7h0m1 6h0m1 5h0m1-1h0m0-9h0m0 6h0m5 3h0m1 0h0m1-9h0m0 6h0m1 1h0m1-5h0m1 5h0m1-4h0m2-5h0m1 6h0m1-3h0m1-3h0m3 11h0m1-1h0m0-7h0m1-3h0m0 3h0m2 4h0m0 2h0m1 0h0m0-1h0m1-2h0m0 3h0m0-1h0m1 2h0m1-9h0m0 8h0m3 0h0m1-6h0m1 5h0m1-2h0m0-4h0m1 9h0m0-10h0m1 2h0m1 3h0m0-5h0m1-1h0m1 10h0m1-8h0m1 5h0m3 0h0m2 1h0m0 2h0m4-9h0m0 7h0m2-5h0m2 3h0m2 4h0m1-2h0m2 2h0m0-5h0m-95 18h0m1-1h0m2-2h0m0-1h0m1-3h0m1 4h0m4-4h0m2-2h0m0 4h0m0 4h0m1-4h0m0 4h0m0-2h0m2 3h0m0-9h0m4 9h0m4-1h0m1-3h0m0-4h0m3 7h0m1-4h0m2 2h0m0-3h0m2-5h0m2 8h0m0-7h0m0 1h0m1 8h0m1-7h0m0-2h0m1 0h0m2 9h0m2-7h0m0 1h0m0-4h0m1 5h0m1-2h0m0 2h0m0 2h0m0-7h0m1 4h0m0 7h0m1-3h0m1 3h0m1 1h0m1-9h0m3 8h0m0-7h0m1 5h0m0-4h0m1 4h0m0 2h0m0-8h0m1 7h0m0 0h0m0-9h0m0 5h0m1 6h0m1-5h0m0-3h0m0 6h0m1-9h0m1 10h0m1-1h0m0-1h0m1-4h0m0-1h0m2 5h0m1-8h0m0 8h0m2 1h0m1 0h0m0 1h0m2-8h0m2 2h0m1-4h0m1 5h0m0-2h0m2-3h0m1 9h0m2-4h0m1 5h0m1-6h0m0 4h0m3-9h0m1 7h0m1-6h0m3 6h0m0 3h0m1 1h0m0-3h0m0-1h0m1-5h0m0 9h0m2-3h0m1-4h0m0 0h0m1 6h0m1-1h0m4-8h0m0 9h0m0-8h0m1 2h0m1 8h0m0 0h0m1-3h0m-104 13h0m2-4h0m0 0h0m2-3h0m4 3h0m1 4h0m0-9h0m0 5h0m0-4h0m2 9h0m0-1h0m1 2h0m1 0h0m0-9h0m0 7h0m1-7h0m0 1h0m1 2h0m0 4h0m0-6h0m1 2h0m3-1h0m2 6h0m0-6h0m1 0h0m0-1h0m3 0h0m1 7h0m0-10h0m0 2h0m0-2h0m2 3h0m0 5h0m1-4h0m1-3h0m2 9h0m2-10h0m2 5h0m0-1h0m0 4h0m0-3h0m0 2h0m2-3h0m0 3h0m0 4h0m1-7h0m1 0h0m2-2h0m0 4h0m1-3h0m4 0h0m4 2h0m0-3h0m0 4h0m1 5h0m0-8h0m2 7h0m2-3h0m1-7h0m1 1h0m1-1h0m1 4h0m1-2h0m0 2h0m0 0h0m1-2h0m2 2h0m1-4h0m0 6h0m0 4h0m1-11h0m0 1h0m1 2h0m0-1h0m0 0h0m2 7h0m1-4h0m2 4h0m2 2h0m1-8h0m0 0h0m0 2h0m6 4h0m0-2h0m0 0h0m2 0h0m1-5h0m0 7h0m1-6h0m0 1h0m0 6h0m0-2h0m0-7h0m2 11h0m0 0h0m3-10h0m0 3h0m1-5h0m1 10h0m1 0h0m0-1h0m1-3h0m2-5h0m0-1h0m0 6h0m1-3h0m0-1h0m1 4h0m0-2h0m2 0h0m0 6h0m1-5h0m0 4h0m2 2h0m0-7h0m1-2h0m1 6h0m1 0h0m4 0h0m-110 15h0m0-9h0m1-1h0m1 2h0m0 6h0m0-3h0m1 5h0m0-4h0m2 3h0m0 1h0m1-9h0m1 6h0m0 0h0m2-4h0m0 4h0m0-1h0m1 4h0m0-6h0m0-3h0m0-1h0m0 11h0m1-2h0m4-4h0m1 0h0m3-4h0m1 3h0m1 0h0m0 6h0m0 1h0m0-6h0m2 4h0m0 1h0m0-7h0m0 5h0m1-3h0m1 2h0m0 0h0m0 1h0m0 0h0m0-3h0m2-4h0m4 7h0m0-8h0m0 5h0m1 4h0m0-1h0m1-1h0m1 3h0m0 0h0m1-3h0m0 0h0m1-4h0m1 0h0m1-1h0m1 8h0m3-8h0m1 4h0m1 2h0m0-8h0m1 4h0m0 4h0m1-4h0m1-5h0m1 6h0m0-3h0m0 3h0m0-3h0m0 2h0m4-4h0m1 5h0m0 6h0m0-12h0m2 11h0m0-11h0m0 9h0m1-7h0m0 3h0m2 4h0m0 0h0m1-7h0m1-2h0m0 0h0m1 6h0m0-3h0m1 1h0m1-2h0m2-1h0m1 0h0m0 0h0m1 2h0m0 0h0m1 5h0m1 3h0m1-9h0m1 0h0m0-2h0m3 5h0m0-3h0m1-2h0m2 2h0m1 2h0m1 1h0m1-3h0m0-2h0m1 6h0m0-4h0m0 9h0m1-11h0m0 9h0m0 3h0m2-2h0m0 2h0m1-3h0m1-4h0m4-5h0m0 9h0m1 3h0m0-7h0m0 0h0m1-2h0m2 7h0m0 0h0m0-5h0m1-3h0m1 7h0m2-2h0m0 3h0m1-6h0m1 6h0m0 0h0m0-4h0m0 1h0m1 3h0m0-6h0m1 1h0m0 2h0m0 2h0m1 2h0m1 0h0m1-4h0m0-4h0m0-2h0m3 7h0m1 2h0m0 2h0m1-2h0m3 1h0m-113 9h0m1-7h0m3 0h0m2 10h0m0-6h0m1 3h0m0-6h0m1 0h0m0 8h0m1 1h0m0-8h0m0 2h0m1-1h0m1 6h0m0-7h0m1 5h0m1 1h0m0 1h0m0-6h0m1-3h0m1 11h0m1-7h0m1 6h0m1-3h0m0-3h0m1-2h0m1 7h0m0-2h0m2-5h0m0 2h0m1-1h0m0-3h0m0 2h0m1 1h0m0 1h0m2 4h0m2 2h0m0-3h0m0 0h0m1 3h0m1-9h0m1 9h0m1-10h0m2 1h0m0 8h0m2-9h0m1 0h0m0 0h0m0 1h0m1 9h0m1-3h0m1 1h0m0 1h0m1-7h0m1-2h0m0 0h0m1 1h0m2 10h0m0-7h0m1 1h0m2 0h0m1 4h0m2-6h0m2 7h0m1-3h0m1 0h0m1-4h0m2-2h0m0 5h0m0-5h0m1 1h0m0 8h0m1 1h0m0-6h0m1-5h0m4 3h0m2-3h0m1 4h0m2 0h0m1 5h0m2-2h0m0-4h0m1-1h0m1 3h0m2-2h0m1 4h0m0-5h0m1 3h0m2-6h0m1 0h0m3 9h0m1-5h0m0 3h0m2 1h0m2-4h0m2-4h0m1 10h0m0-3h0m2-1h0m2 6h0m0 0h0m0-2h0m1-8h0m2 6h0m2-4h0m0-3h0m1 1h0m0 5h0m2 0h0m1 0h0m1-4h0m0-3h0m1 9h0m0-1h0m1-7h0m3 1h0m0 2h0m1 3h0m0 4h0m0-7h0m0 3h0m3 0h0m2 0h0m-115 8h0m0-1h0m1 3h0m0-4h0m0-1h0m1 6h0m1 4h0m0-3h0m1 0h0m0-1h0m2 1h0m1-3h0m1-1h0m1 5h0m2 3h0m1-7h0m1 4h0m0 1h0m2-8h0m4 10h0m0-9h0m2 8h0m2-10h0m2 10h0m0-3h0m0 3h0m1-8h0m1 1h0m5 0h0m1 8h0m1-2h0m0 2h0m0 0h0m0-10h0m0 1h0m1-2h0m1 11h0m1-8h0m0 0h0m1 7h0m1 2h0m0-6h0m1-2h0m1 7h0m0-4h0m1 1h0m3-6h0m4 7h0m0-5h0m1 5h0m1-2h0m2 2h0m0 0h0m0-5h0m2 0h0m0 7h0m3-3h0m1-4h0m0 3h0m2-6h0m4 3h0m1 7h0m1-7h0m2 4h0m1-8h0m4 5h0m1 1h0m0 5h0m1-1h0m0-5h0m1 4h0m0-8h0m1-1h0m0 8h0m0-7h0m1 2h0m1 1h0m3 3h0m1 1h0m2 2h0m1-7h0m0-1h0m0 0h0m1 3h0m1 1h0m1 6h0m3-8h0m2-2h0m0 4h0m1-4h0m1 8h0m0-7h0m1 7h0m1-2h0m0-6h0m0 7h0m1-8h0m4 5h0m1 1h0m0-4h0m0 4h0m3 5h0m0-1h0m0-3h0m1-5h0m0 1h0m0 6h0m0-3h0m1-7h0m2 6h0m1 4h0m0-1h0m0 2h0m0-7h0m1-4h0m0 5h0m2-1h0m0 0h0m0 5h0m2-2h0m1 3h0m0-1h0m2-4h0m1 2h0m2 1h0m2 2h0m1-4h0m-123 17h0m4-4h0m1 2h0m1-8h0m0 10h0m1 0h0m0-1h0m2 2h0m0-8h0m0-2h0m1 7h0m0 1h0m1-7h0m0 8h0m2 0h0m2-8h0m0 1h0m1-1h0m2 1h0m1 1h0m1 5h0m1 1h0m0-9h0m1 1h0m1 9h0m0-8h0m1 0h0m1 0h0m0-2h0m0 10h0m3-1h0m2-2h0m1-5h0m1 0h0m1 1h0m1 1h0m0 2h0m2-5h0m1-2h0m1 7h0m0 1h0m1-7h0m0-2h0m1 9h0m1-2h0m2-4h0m0 8h0m0-10h0m0 4h0m2 6h0m1 0h0m1-9h0m0 2h0m1-3h0m0-1h0m0 10h0m1-5h0m0-2h0m5 1h0m1 5h0m1 1h0m0-4h0m1 6h0m1-4h0m0-2h0m2-2h0m0-1h0m1 2h0m0 0h0m1 6h0m1-10h0m1 7h0m0-2h0m0 2h0m1 0h0m0-3h0m1 0h0m0 5h0m1-7h0m1 3h0m0 3h0m1-7h0m0-2h0m1 1h0m4 10h0m1-2h0m0-1h0m0 2h0m3-8h0m3-2h0m2 9h0m0-3h0m0-5h0m2 4h0m0 3h0m3 4h0m0-1h0m0-7h0m1 4h0m0-7h0m1 9h0m0-5h0m1-3h0m4 2h0m1 6h0m1-5h0m0 2h0m1 5h0m1-6h0m1 3h0m2 3h0m0-11h0m0 6h0m0 2h0m3-8h0m0 5h0m1 4h0m3-5h0m0-4h0m2 11h0m0-9h0m1-1h0m1 1h0m1 3h0m1-5h0m1-1h0m2 2h0m1 5h0m0 0h0m3 1h0m6-4h0m1 6h0m3 0h0m-129 7h0m3-4h0m2 5h0m1-3h0m1 0h0m2 9h0m1-6h0m1 1h0m0-3h0m1 1h0m0-1h0m0-1h0m2 4h0m6-6h0m0 10h0m3-1h0m1-8h0m0 8h0m3-2h0m0-5h0m1 9h0m1 0h0m1-1h0m0-10h0m1 8h0m0-3h0m1-2h0m0 1h0m1 5h0m1-3h0m1 2h0m0 3h0m0-11h0m0 4h0m0 5h0m0-1h0m3 2h0m3-2h0m2 0h0m1-7h0m0 10h0m3-12h0m1 2h0m0 7h0m0-5h0m1-1h0m0 7h0m1-1h0m2 0h0m0 0h0m1-1h0m2 0h0m1-6h0m0 9h0m3-2h0m1-1h0m1 1h0m0 2h0m1-3h0m0-2h0m2 0h0m0-4h0m2-1h0m2 3h0m0 7h0m2-7h0m0-2h0m1 7h0m0-8h0m0 8h0m1 3h0m1-3h0m0-7h0m3 8h0m1-6h0m0 1h0m3-1h0m2 6h0m0-3h0m6 1h0m1-3h0m1 6h0m1-11h0m1 8h0m0 3h0m0-7h0m2 4h0m0-5h0m0 6h0m1-8h0m1 6h0m0 0h0m0 1h0m1-4h0m2 3h0m0-6h0m1 10h0m1-10h0m1 3h0m1 7h0m0-7h0m2 4h0m0-2h0m1-6h0m3 2h0m1 6h0m0 4h0m0-10h0m1-1h0m0 9h0m1-6h0m3 4h0m2 2h0m0-2h0m1 1h0m0-8h0m0 10h0m0-2h0m2-1h0m0-7h0m1 0h0m0 6h0m2-6h0m0 6h0m2-3h0m2 4h0m1 1h0m1-7h0m1 4h0m3 4h0m2-5h0m0 0h0m0 4h0m0 2h0m0-5h0m1 3h0m1 1h0m2-1h0m0-4h0m2 4h0m1 1h0m-135 3h0m3 7h0m1-4h0m0-1h0m1-2h0m0 1h0m1 4h0m0 0h0m1-1h0m1-2h0m1 8h0m0-9h0m0 5h0m1 1h0m0-2h0m0 6h0m0-2h0m2-5h0m1 1h0m1 3h0m0 2h0m0-4h0m2-6h0m0 6h0m0-5h0m1 4h0m1-4h0m1 3h0m2-3h0m1 6h0m0 3h0m2-6h0m3 5h0m0-8h0m1-1h0m1 1h0m0 0h0m2 2h0m0 6h0m1-5h0m0 5h0m0-5h0m1 5h0m1-4h0m2 3h0m0-8h0m2 9h0m5-1h0m1 0h0m1-3h0m2 2h0m0-4h0m1 6h0m0-4h0m0-3h0m1 1h0m0-1h0m0 4h0m1 0h0m4-4h0m0 3h0m3-2h0m1 4h0m1-5h0m1 2h0m4 2h0m1-4h0m1 4h0m1 0h0m0 2h0m1 0h0m0-2h0m1 2h0m0-6h0m0 3h0m1-4h0m1 3h0m0-1h0m0 6h0m0-9h0m1 9h0m0-4h0m1 5h0m0 0h0m0-4h0m1 3h0m1-4h0m0 1h0m1-6h0m0 10h0m1-2h0m1-6h0m1 5h0m0 3h0m0-1h0m2 0h0m2-4h0m0-6h0m2 1h0m3 4h0m2 7h0m1-9h0m0 8h0m4-2h0m1-1h0m0-6h0m2 4h0m0 2h0m0-5h0m0 5h0m1 0h0m1-1h0m2-4h0m1 5h0m0-7h0m1 4h0m1 3h0m1-5h0m1 0h0m1 3h0m1-5h0m1 2h0m2 4h0m2 0h0m2 4h0m3-6h0m0 7h0m0-7h0m2 3h0m2 1h0m2 2h0m1-9h0m0 6h0m1-5h0m1 2h0m3-1h0m1-2h0m1 1h0m1 3h0m3 2h0m0 3h0m2-5h0m0 4h0m1-5h0m1 2h0m0 1h0m2-1h0m1 2h0m2 2h0m0-6h0m-137 11h0m0-2h0m5 5h0m1-4h0m2 0h0m0 3h0m0-4h0m5 2h0m0-1h0m1 1h0m0-4h0m1 12h0m0-10h0m1 4h0m3 0h0m2-6h0m0 2h0m0 2h0m1-4h0m0 5h0m0-3h0m2 0h0m0-1h0m1 9h0m2 0h0m0-4h0m0-2h0m0 2h0m1 6h0m3-12h0m1 10h0m1-8h0m0 2h0m1 2h0m1-4h0m0 8h0m1-7h0m0 6h0m1-1h0m0-6h0m3-2h0m1 0h0m1 2h0m0 1h0m1 8h0m0-4h0m3-6h0m1 3h0m1-4h0m0 11h0m1-10h0m1 5h0m0-4h0m0 9h0m1-4h0m0 1h0m1 2h0m1-4h0m0-6h0m1 8h0m0-3h0m1-4h0m1 9h0m0-1h0m1-2h0m0 4h0m1-1h0m0-10h0m1 4h0m3 1h0m2-3h0m2-1h0m1 2h0m6 2h0m0-1h0m1-1h0m3-1h0m0 5h0m2 0h0m0-6h0m2 5h0m3 2h0m2 2h0m2-1h0m1-7h0m1-2h0m0 6h0m0 4h0m3-7h0m0 3h0m0-2h0m3-2h0m2 4h0m3 4h0m0-9h0m1 4h0m0 6h0m1-6h0m0-2h0m1 6h0m3-9h0m0 6h0m1-3h0m1 0h0m1 6h0m0-1h0m1 4h0m3-6h0m1 6h0m1-4h0m2-1h0m1-4h0m1 2h0m1-3h0m1 8h0m0 0h0m1-6h0m0 5h0m1-8h0m0 10h0m1 0h0m0-10h0m3 8h0m1-2h0m1 5h0m0-7h0m0 5h0m1-8h0m0-1h0m0 6h0m1 0h0m1-7h0m0 10h0m0-6h0m1 1h0m0 7h0m1-10h0m2 9h0m0-6h0m0 0h0m2-2h0m1-2h0m0 8h0m0-5h0m2 0h0m0-2h0m1 4h0m1 6h0m0-3h0m3-4h0m1 6h0m1 0h0m0 0h0m1-2h0m1-2h0m-137 12h0m1-3h0m0-1h0m5-2h0m1 4h0m1 4h0m0 0h0m0 2h0m1-11h0m1 12h0m1-11h0m2 2h0m0-1h0m1 2h0m1 5h0m0 1h0m1-6h0m1 0h0m0 1h0m2 7h0m0-4h0m1-4h0m0-3h0m1 0h0m4 6h0m1 0h0m0 0h0m1-7h0m2 11h0m0-2h0m0-8h0m1 0h0m1 3h0m1 7h0m1-9h0m1 4h0m1 4h0m0 1h0m0-2h0m4 2h0m0-11h0m0 2h0m1 0h0m1 6h0m2-6h0m0 5h0m0 0h0m0-6h0m0 6h0m2-5h0m1-2h0m0 4h0m1-1h0m3-3h0m1 5h0m0-3h0m3 1h0m0-1h0m0-1h0m6 5h0m2 0h0m1-2h0m0 8h0m1-9h0m1 5h0m0-6h0m2 4h0m0-3h0m1 5h0m3 2h0m0-2h0m1 2h0m1-3h0m1-5h0m1 0h0m2 9h0m2-1h0m1-4h0m0 3h0m2-5h0m0 5h0m1-3h0m0 3h0m1-4h0m3-1h0m1 6h0m1-6h0m3-3h0m0 3h0m0 6h0m3-6h0m0 7h0m2-2h0m0 0h0m3-8h0m1 5h0m1 3h0m1-8h0m2 1h0m0 5h0m1 2h0m3-4h0m0 5h0m2-5h0m1 0h0m1-3h0m1 6h0m1-3h0m0 2h0m0-5h0m0 4h0m0-6h0m1 6h0m3-1h0m0-1h0m1 0h0m2-3h0m1 7h0m1-5h0m1 7h0m2-2h0m0-6h0m1 5h0m1-5h0m1-1h0m0 1h0m0 7h0m1 1h0m0-7h0m1 5h0m0 3h0m0-10h0m1 3h0m3 0h0m0 0h0m1 7h0m1-2h0m0-5h0m2-1h0m1 5h0m2-2h0m1-2h0m1 5h0m-136 6h0m0 1h0m5-3h0m0 4h0m2-1h0m0-2h0m1 4h0m0 4h0m0-9h0m3 0h0m3 10h0m1-8h0m1 1h0m0 6h0m2 1h0m0-5h0m2 1h0m0 5h0m1-1h0m0-10h0m0 5h0m2 2h0m1-5h0m1 4h0m2-7h0m2 5h0m0 3h0m0 2h0m3-5h0m0-3h0m1 2h0m2 2h0m7 3h0m0-7h0m1 3h0m1 0h0m0-3h0m5 8h0m0-1h0m0 2h0m5-10h0m0 3h0m1 0h0m1 6h0m1 1h0m1-1h0m2 2h0m1-5h0m0 5h0m0-10h0m1 8h0m2-3h0m1-1h0m0-1h0m1 5h0m0-2h0m1-3h0m3-4h0m0 6h0m1-1h0m1 6h0m0-2h0m1-8h0m0 7h0m2-2h0m0 3h0m2 0h0m0-6h0m2 2h0m3 5h0m4-10h0m1 7h0m2 1h0m2-5h0m1 5h0m0-8h0m0 7h0m2-4h0m1 3h0m4-1h0m1 3h0m0-6h0m1 1h0m1 0h0m3-3h0m1 1h0m0 0h0m0 2h0m2-2h0m1 1h0m1 3h0m0 0h0m1 4h0m1-9h0m0 7h0m1-1h0m0 5h0m1-8h0m1-1h0m1 8h0m1 0h0m1-2h0m1-1h0m0 0h0m0-2h0m1-5h0m0 8h0m1-9h0m1 9h0m2-7h0m2 5h0m1-6h0m1 0h0m1 2h0m2 1h0m8-2h0m-128 12h0m6-1h0m5 4h0m2 1h0m1-5h0m1 8h0m1-8h0m0 4h0m0 0h0m5 3h0m1-8h0m2 0h0m0 6h0m0-1h0m0 0h0m1-2h0m0 7h0m0-10h0m2 2h0m0 7h0m0-6h0m1 3h0m1 5h0m0-1h0m3-7h0m1 6h0m0-6h0m1 6h0m1 1h0m0 1h0m3-6h0m1 6h0m1-10h0m1 4h0m2-3h0m1 7h0m1-1h0m0-8h0m1 6h0m0 2h0m0 1h0m2-1h0m1-7h0m0 3h0m1 3h0m0-2h0m0-4h0m1 4h0m0-3h0m0-1h0m0 5h0m1 4h0m2-4h0m0 2h0m4-7h0m2 7h0m0 2h0m0-4h0m0-4h0m2 5h0m1 2h0m1-2h0m1-4h0m1 4h0m1-2h0m0 3h0m1 3h0m0-2h0m1-9h0m0 2h0m4 2h0m0-3h0m0 5h0m1 3h0m0-8h0m0 4h0m2 0h0m0-1h0m1 6h0m1-3h0m2-2h0m0 5h0m1-10h0m5 9h0m1 0h0m4-1h0m2-7h0m2 3h0m0-2h0m3-2h0m2 1h0m0-1h0m1 2h0m2-2h0m1 1h0m3 0h0m-72 11h0m4 0h0m1 2h0m14 3h0m5-2h0m2-1h0m1-1h0m8 1h0" stroke="#f1a8b6"/><path d="M0 0m2784 1947h0m28 8h0m50 1h0m-110 10h0m12 0h0m1-1h0m5-3h0m2 1h0m4-5h0m6 1h0m2 3h0m7 0h0m4-2h0m2 7h0m2-8h0m1 4h0m5-3h0m8 7h0m13 1h0m5-8h0m28 4h0m1-3h0m2 3h0m0 0h0m0 0h0m0 0h0m0 2h0m1-6h0m0 1h0m1-3h0m0 0h0m-118 18h0m30-2h0m1 5h0m2-8h0m3 1h0m2 2h0m11-6h0m6 5h0m2 3h0m6 1h0m11-8h0m5 10h0m3-9h0m13 5h0m2 5h0m-102 6h0m10-4h0m12 3h0m5-4h0m14 3h0m2-1h0m18-1h0m8 6h0m16 4h0m2-3h0m3-3h0m1-6h0m0 1h0m10 2h0m1-2h0m5 3h0m4 1h0m-107 14h0m1-1h0m0-5h0m1 8h0m9-2h0m7-6h0m6 1h0m48 7h0m11-1h0m2-5h0m1-2h0m2 0h0m9 10h0m2-2h0m10-3h0m7 5h0m-121 2h0m6 9h0m1-1h0m1-7h0m13-2h0m47 2h0m32 7h0m23-8h0m2 8h0m-132 11h0m9-1h0m0-5h0m11 7h0m97-6h0m17 5h0m2-8h0m-133 23h0m2-10h0m3 2h0m0 5h0m0-6h0m13 8h0m79-5h0m18-2h0m6 7h0m8-6h0m6 5h0m12-8h0m-146 21h0m15-8h0m106-1h0m1 11h0m3-2h0m3-3h0m0 2h0m2-2h0m0-2h0m2 1h0m1 2h0m4 0h0m-109 7h0m46 7h0m27 2h0m15-8h0m12-4h0m2 8h0m2-3h0m1-4h0m0 2h0m-148 12h0m14-1h0m10 5h0m18-1h0m23 3h0m31 1h0m18-6h0m2 7h0m6-8h0m7 6h0m-86 10h0m5-3h0m16 3h0m6 1h0m6-2h0m6 3h0m37 3h0m11-5h0m0 0h0m-75 11h0m8-4h0m9 5h0m3-3h0m7-1h0m1 5h0m6-7h0m8 8h0m-23 20h0" stroke="#dfa4f3"/><path d="M0 0m2572 1771h0m7-4h0m-24 11h0m17 5h0m2-3h0m1 6h0m1 1h0m1 0h0m0-7h0m1 7h0m3-2h0m0 2h0m1-1h0m1-3h0m0 2h0m0 1h0m0 2h0m1-12h0m1 7h0m0 3h0m2 1h0m0-5h0m1 3h0m2-4h0m0 4h0m1 0h0m1-2h0m18-4h0m5 2h0m10 6h0m6-8h0m1 8h0m-96 8h0m1 1h0m5 3h0m4-7h0m2 5h0m6-8h0m5 7h0m12 1h0m1 3h0m0-2h0m2-5h0m3 6h0m0 0h0m0-3h0m1 3h0m3-8h0m1 0h0m0 7h0m0-10h0m1 2h0m0 6h0m0-7h0m3 0h0m1 1h0m0 5h0m1-5h0m0-1h0m1 6h0m8 3h0m2-5h0m2 6h0m1 1h0m4-4h0m8 2h0m5-8h0m16-1h0m9 5h0m2 4h0m-102 3h0m0 6h0m2-3h0m2 5h0m1-3h0m1-4h0m2 9h0m0-5h0m1-1h0m1 3h0m2-7h0m4 11h0m3-9h0m1 7h0m1-6h0m2 5h0m0-7h0m1 10h0m0-4h0m4 0h0m1 2h0m3-7h0m1 0h0m0 8h0m1-4h0m1-4h0m1 4h0m1-1h0m3-3h0m2 7h0m0-7h0m5-2h0m3 9h0m0-5h0m1 5h0m4 1h0m0-2h0m1 2h0m1-4h0m4 1h0m1-5h0m1 3h0m1 2h0m1-3h0m1 0h0m9-4h0m9 0h0m4 5h0m2-1h0m7 5h0m-116 7h0m19 0h0m1-1h0m3 8h0m7-5h0m0-4h0m2 9h0m4-2h0m1-5h0m2 2h0m0-5h0m1 3h0m1-3h0m0-2h0m0 1h0m1 3h0m1 0h0m0 5h0m1-7h0m1-1h0m0 9h0m1 0h0m1-4h0m1 1h0m0 1h0m1-8h0m0 7h0m0-3h0m2 6h0m0-2h0m2 1h0m0-3h0m1 1h0m0 4h0m1 0h0m3 1h0m0-2h0m3-3h0m1 3h0m2-6h0m1 4h0m0-3h0m1 7h0m1-2h0m2 1h0m4-9h0m0 10h0m2-2h0m2-4h0m1-2h0m1 3h0m1 4h0m0-9h0m4 1h0m1 1h0m2 6h0m0-2h0m1-4h0m0 4h0m0-3h0m4-5h0m3 6h0m1-2h0m0-3h0m2 10h0m4-7h0m7 7h0m-100 4h0m11 3h0m1-2h0m1 3h0m0 4h0m0-6h0m7 0h0m1 6h0m0 0h0m0-5h0m2 0h0m4 5h0m3-4h0m0 0h0m1-2h0m3-3h0m1 2h0m1 0h0m2-3h0m1 2h0m1 0h0m0 7h0m0 0h0m1-2h0m0-6h0m1 4h0m2 0h0m1 2h0m2 1h0m0 1h0m1-7h0m0 9h0m0-10h0m3-1h0m1 0h0m0 9h0m1-4h0m0 6h0m1-2h0m0-2h0m2-3h0m1-4h0m2 2h0m1 9h0m1-11h0m0 7h0m1 2h0m0-8h0m1 7h0m0-5h0m3-3h0m0 0h0m1 5h0m1-2h0m1 1h0m1-2h0m0 3h0m0 2h0m3-7h0m1-1h0m0 9h0m1-4h0m2 4h0m6 2h0m2 0h0m0-9h0m3 6h0m5-1h0m0-4h0m1 1h0m4 0h0m9-3h0m11 5h0m-163 18h0m34-5h0m8-3h0m14 4h0m7-4h0m0 1h0m2 0h0m4-5h0m0 2h0m1 6h0m3-2h0m1-4h0m0 5h0m1 3h0m1 0h0m1-10h0m2 10h0m0 0h0m2-1h0m0-6h0m0 0h0m2 7h0m0-8h0m2 9h0m0 0h0m1 0h0m2-1h0m0-6h0m0 3h0m1 0h0m0-1h0m0-6h0m1 4h0m0 1h0m1 6h0m0-8h0m1 3h0m0 2h0m0-7h0m1 0h0m1 8h0m1-3h0m1 0h0m1 5h0m0-6h0m0 0h0m1 5h0m1-4h0m1 2h0m1-6h0m1-1h0m0 6h0m0-6h0m1 9h0m0-3h0m1-7h0m0 5h0m0-4h0m0 3h0m0 2h0m4 5h0m1-8h0m2 9h0m0-10h0m1 4h0m1-2h0m0 5h0m2-4h0m2 0h0m0 2h0m1 0h0m1-7h0m0 9h0m1-4h0m1 0h0m1 6h0m0 0h0m0 0h0m1 0h0m0-2h0m0 1h0m2-6h0m0 0h0m1 1h0m3-3h0m1 8h0m2-2h0m1-4h0m3 4h0m2 2h0m2-3h0m1-2h0m1 3h0m1-7h0m2 11h0m12-12h0m4 9h0m-173 7h0m14-3h0m1 5h0m7 5h0m6 0h0m2-1h0m1 1h0m1-10h0m4 8h0m10-8h0m4 4h0m4 0h0m1-2h0m3 2h0m6-4h0m9 10h0m2 0h0m4-4h0m6-1h0m1-2h0m0-3h0m3 2h0m3 3h0m2-2h0m1 7h0m3-10h0m1 6h0m2 0h0m1-4h0m1-1h0m1 0h0m0 4h0m2-5h0m2 0h0m1 2h0m0 1h0m1 6h0m1-1h0m1 0h0m0-6h0m5-3h0m1 10h0m1-7h0m1 6h0m1-3h0m0 1h0m0-2h0m1 4h0m2-2h0m1 3h0m2 1h0m1-4h0m1-2h0m1 4h0m0-5h0m2 5h0m4-7h0m0 0h0m1 3h0m0 2h0m1 0h0m2-4h0m7 0h0m0 6h0m4 1h0m2-4h0m2 5h0m3-8h0m-145 14h0m5 4h0m3 2h0m2-6h0m1 4h0m0-7h0m0 3h0m0 4h0m0 0h0m1-6h0m0 4h0m0 2h0m1-6h0m0 7h0m0 0h0m1-9h0m0 8h0m1-5h0m0-2h0m1 9h0m0-8h0m0 1h0m0 6h0m1-7h0m0 2h0m2 5h0m0-3h0m0 5h0m0-10h0m1 9h0m0-6h0m1 7h0m0-3h0m1 1h0m0 0h0m0-2h0m0 1h0m0-2h0m1-6h0m1 4h0m0 2h0m1-3h0m0 4h0m2 3h0m0-7h0m0 6h0m0-7h0m2-3h0m0 4h0m1-2h0m5 2h0m1 0h0m2 6h0m1-10h0m1 9h0m3-6h0m7 9h0m4-6h0m2 4h0m2-2h0m1 2h0m1-7h0m2 2h0m4-3h0m0 6h0m1 1h0m4-3h0m1 4h0m2-1h0m1-2h0m0-2h0m1-5h0m0 2h0m5 0h0m7 3h0m0 3h0m2-2h0m1-2h0m1-3h0m1 0h0m0 2h0m2 1h0m1 4h0m1-7h0m2 7h0m0-8h0m1 1h0m3 1h0m1-1h0m2 3h0m0 4h0m2 0h0m1-2h0m2-4h0m2 1h0m0 6h0m1-2h0m2 1h0m4-6h0m3 5h0m0-7h0m1 1h0m3-1h0m4 3h0m3 7h0m1-4h0m2-3h0m1 4h0m4-3h0m0 3h0m8 0h0m1 1h0m-166 14h0m3-1h0m0 2h0m3 0h0m1 0h0m3 1h0m5-2h0m1 1h0m4-1h0m1-9h0m0 1h0m2 4h0m0 5h0m2-11h0m0 3h0m2 2h0m1 7h0m1-10h0m1 3h0m0-1h0m0 8h0m3-6h0m2-4h0m1 6h0m2 0h0m0 1h0m0 3h0m0-9h0m1-2h0m0 8h0m2-5h0m1 6h0m2-10h0m0 2h0m2 6h0m1-4h0m0-2h0m3 1h0m1 4h0m0 1h0m1 4h0m0-1h0m0-8h0m2-3h0m4 8h0m0-8h0m0 8h0m2 1h0m0 1h0m3 2h0m5-2h0m7-2h0m3 1h0m1-5h0m1-4h0m1 7h0m5-4h0m4 1h0m1 3h0m2-1h0m3 0h0m1-3h0m2-3h0m0 10h0m0-6h0m6 0h0m3 1h0m1 0h0m0-2h0m5-2h0m1 8h0m0-7h0m4 1h0m0 7h0m2-4h0m1 4h0m0-7h0m6-2h0m4-1h0m2 5h0m6 0h0m14-1h0m2 2h0m1 4h0m2-10h0m1 11h0m3-8h0m1 6h0m2-4h0m3 6h0m28-10h0m-201 12h0m2 3h0m0 6h0m1-5h0m0-2h0m1-3h0m0 0h0m0 3h0m1-2h0m2 3h0m1-4h0m0 4h0m0-2h0m0 3h0m1-1h0m1-1h0m0-1h0m1 1h0m1 0h0m0 1h0m0 1h0m0-2h0m1 3h0m0-4h0m1 5h0m1 1h0m0 2h0m1-9h0m1-1h0m0 1h0m1 3h0m1 5h0m0-5h0m2 3h0m7-5h0m2 10h0m2-6h0m0-4h0m2-2h0m6 6h0m1-3h0m3 0h0m13 7h0m2-10h0m18 1h0m1 3h0m0 5h0m11-2h0m14 3h0m14-8h0m16 7h0m3-6h0m35-2h0m1 1h0m1 3h0m-153 9h0m32 4h0m1 2h0m1-6h0m1 5h0m0-5h0m1 4h0m0-1h0m1 1h0m0 3h0m1-3h0m0 0h0m1 3h0m1 1h0m1-2h0m1-2h0m1 2h0m0-6h0m0 8h0m1-2h0m0-4h0m1 7h0m0-4h0m2 1h0m0 0h0m0 3h0m1-4h0m0-2h0m0 3h0m1 4h0m1-4h0m0 1h0m1 1h0m1-1h0m1 0h0m0-1h0m1 2h0m0-1h0m0-2h0m0-4h0m4 2h0m2 1h0m1 2h0m22-2h0m21 5h0m-53 2h0m7 2h0" stroke="#a62dc9"/><path d="M0 0m2640 1881h0m2 1h0m5 11h0m6 1h0m4-1h0m-99 8h0m11 5h0m1-2h0m2 2h0m7-2h0m2 2h0m2-2h0m3 1h0m1 1h0m67-7h0m1 1h0m3 3h0m1 2h0m0-6h0m16 9h0m3-3h0m-195 13h0m5 1h0m12 1h0m72-9h0m2-1h0m1-2h0m3 1h0m1 3h0m1-3h0m1 2h0m1 0h0m1 1h0m0 4h0m7 3h0m1-6h0m1-1h0m0 7h0m1-1h0m1 1h0m1-10h0m0 11h0m2-3h0m2-1h0m0 3h0m0-8h0m0 7h0m3 1h0m75-4h0m-205 9h0m2 2h0m4-4h0m0 7h0m1-7h0m4 5h0m0-1h0m7 1h0m2 5h0m1-11h0m2 9h0m1-7h0m6 7h0m91-9h0m2 1h0m0 0h0m1 6h0m1 1h0m0-8h0m1 0h0m1 4h0m4-2h0m1 5h0m1-2h0m1 3h0m0-9h0m1 6h0m1-2h0m1 4h0m0-4h0m1 4h0m0-3h0m1 7h0m0-7h0m1-4h0m1 7h0m0-3h0m5 3h0m54-7h0m11 11h0m-211 4h0m4 1h0m1-3h0m1 9h0m1-5h0m2-5h0m0 8h0m1 2h0m1-3h0m0-5h0m1 8h0m1-1h0m1 0h0m1-6h0m1 3h0m1-1h0m1-5h0m0 5h0m1 5h0m1-3h0m0 3h0m1-4h0m0-3h0m2-1h0m1 2h0m0 3h0m1-2h0m2-3h0m0 6h0m1 0h0m1-1h0m0-1h0m1-5h0m6 7h0m90-9h0m6 8h0m77-3h0m4-2h0m1 4h0m-213 8h0m8 0h0m3-1h0m0-2h0m1 7h0m1 3h0m1-3h0m1-2h0m2 1h0m2-3h0m1 2h0m1-1h0m0-2h0m1 10h0m2-3h0m0-6h0m2 3h0m0-2h0m2-4h0m2 3h0m10 0h0m-30 12h0m9 2h0m0-5h0m101 16h0m-22 20h0m4-4h0m3 0h0m11 3h0m25 1h0m17-2h0m-63 6h0m9 3h0m11-2h0m6 4h0m2-2h0m2-3h0m2 2h0m0 0h0m1-4h0m3 9h0m5-2h0m5 2h0m4-3h0m3 3h0m1-1h0m9-8h0m2 9h0m0-9h0m6 10h0m27-5h0m2-4h0m2 4h0m14 2h0m1-9h0m2 5h0m-133 10h0m0 2h0m12 4h0m1-4h0m4 2h0m1 4h0m10-2h0m0-1h0m0 0h0m2 3h0m0-9h0m0-1h0m0 5h0m0 4h0m1 1h0m0-1h0m1 0h0m1 0h0m1-7h0m0 7h0m0-10h0m1 1h0m3 2h0m2 5h0m1-3h0m0 3h0m0-6h0m1 7h0m1-9h0m1 11h0m1-5h0m3 0h0m1-2h0m0 2h0m1-2h0m0 0h0m0 0h0m1 5h0m0-1h0m1-3h0m0 1h0m3 6h0m2-3h0m0 3h0m2-11h0m2 10h0m0-8h0m0 7h0m1-3h0m0 3h0m1-4h0m0 4h0m1-4h0m5 0h0m3-5h0m0 5h0m12-4h0m4 2h0m2 7h0m5-4h0m1 4h0m4-6h0m2 6h0m1 0h0m2-5h0m2 3h0m1-8h0m0 3h0m2 5h0m0 1h0m2 0h0m0-3h0m5-3h0m2-1h0m4 8h0m0-10h0m1 1h0m4 6h0m0 4h0m0-4h0m1 2h0m0 2h0m2-10h0m2 3h0m-142 9h0m7 0h0m0 10h0m5-11h0m11 3h0m3-2h0m1 7h0m0 2h0m3-3h0m1 1h0m1-4h0m1-2h0m0 7h0m2 2h0m4-3h0m0-3h0m1 5h0m2-10h0m1 4h0m0 6h0m0-6h0m1 4h0m0-1h0m1 2h0m0-10h0m2 5h0m0 2h0m0 1h0m0 1h0m3-8h0m0 8h0m1 1h0m0-4h0m1-6h0m0 11h0m1-11h0m0 8h0m0-1h0m1 0h0m1-2h0m0 4h0m1-3h0m0-1h0m0-4h0m1 8h0m1-2h0m1 2h0m0-8h0m0 1h0m1 9h0m2 1h0m0-11h0m2 10h0m1 0h0m1-9h0m0 4h0m1 2h0m0-1h0m1-3h0m1 2h0m2-3h0m2 5h0m0 2h0m1-7h0m1 9h0m3-4h0m1-5h0m0-3h0m2 8h0m3 1h0m4-7h0m3 9h0m1-5h0m8-1h0m5 0h0m3 3h0m0-5h0m3-3h0m6 1h0m0 9h0m3-4h0m1 3h0m1-5h0m3-1h0m7 4h0m12 4h0m6-8h0m0-1h0m1 9h0m1-5h0m24 1h0m-151 8h0m10 3h0m8-5h0m1 6h0m1 1h0m2-2h0m0-2h0m0-4h0m1 1h0m2-1h0m3 9h0m0-7h0m1-2h0m2 1h0m2 6h0m1-3h0m1 0h0m0-3h0m1 7h0m0-1h0m2-3h0m0 1h0m3 3h0m0 3h0m0-2h0m2-4h0m1 0h0m1 3h0m0 1h0m2-5h0m2 4h0m0-1h0m2 0h0m0 2h0m3-9h0m2 9h0m1-1h0m13-2h0m8-3h0m6-1h0m3 0h0m4 1h0m3 1h0m7-4h0m1 0h0m18 6h0m0-2h0m30-1h0m-155 11h0m10 8h0m0-6h0m5-4h0m9 11h0m4-5h0m3 1h0m2-1h0m2 4h0m0-9h0m2 8h0m8-6h0m1 2h0m3 1h0m2 3h0m1-2h0m5-1h0m2-6h0m3 10h0m4-4h0m2 1h0m4 4h0m6-6h0m5 6h0m2 0h0m12-10h0m25 2h0m11 7h0m5-5h0m5-5h0m8 3h0m10 1h0m29 8h0m-190 3h0m37 1h0m12 4h0m4 0h0m1 4h0m0-2h0m4-8h0m3 8h0m2 0h0m1-4h0m3 1h0m1-2h0m0-1h0m2 2h0m1 5h0m2-7h0m0 3h0m0-2h0m1-2h0m1-2h0m2 11h0m0-2h0m2-5h0m1 6h0m5 1h0m3-6h0m2-3h0m1 3h0m8 6h0m6-2h0m7 0h0m1-1h0m0-1h0m2 0h0m3 4h0m0-3h0m3-3h0m7 5h0m7-10h0m2 3h0m0 6h0m3 2h0m2-3h0m1 2h0m2-5h0m3-1h0m9 3h0m6-8h0m11 11h0m2-5h0m3-4h0m2 5h0m-160 11h0m17 4h0m4-4h0m0 6h0m4-11h0m1 1h0m3 4h0m12 4h0m1-1h0m1-3h0m0-2h0m2 5h0m0 3h0m0-3h0m0-4h0m1-3h0m1 9h0m0-4h0m0 1h0m1-5h0m1-1h0m0 1h0m0 6h0m1 3h0m1-1h0m0-10h0m2 0h0m1 2h0m3 7h0m1-9h0m3 5h0m0-3h0m3-1h0m2 7h0m4-4h0m1 3h0m7-1h0m0 0h0m3 1h0m1 2h0m2-6h0m1 4h0m1 4h0m0-4h0m2 0h0m1-2h0m3 0h0m5-3h0m2 2h0m0 4h0m0 2h0m3-3h0m0 0h0m5-2h0m0 3h0m5 0h0m2-2h0m5 1h0m0-5h0m5-1h0m2-1h0m1 5h0m4-3h0m2-2h0m9 7h0m-155 16h0m3-1h0m3-5h0m3 5h0m1-9h0m6 9h0m27-2h0m3-6h0m0 3h0m1 0h0m0 4h0m0-5h0m1-4h0m4 1h0m0 2h0m1 4h0m0 3h0m1-5h0m1-2h0m4 2h0m1-3h0m1-2h0m1 8h0m1-8h0m0 10h0m0-8h0m1 0h0m0 7h0m1-6h0m2-2h0m2 0h0m1 1h0m0 8h0m3-5h0m2 3h0m3-7h0m3 8h0m1-6h0m1 1h0m1 6h0m6-5h0m0 1h0m1 1h0m3-1h0m1 0h0m0-5h0m3 1h0m0 6h0m1-6h0m3-2h0m1 3h0m0 5h0m3-3h0m5 4h0m1-6h0m7 3h0m0-2h0m5 1h0m5-1h0m15-4h0m2 1h0m8-1h0m8 2h0m4 5h0m7 1h0m11-7h0m-197 21h0m2-7h0m0 1h0m1 5h0m1-2h0m0-3h0m1 3h0m1-6h0m0 8h0m3-6h0m2-4h0m4 2h0m0 2h0m1 4h0m0 4h0m4-5h0m2 2h0m1 2h0m0-6h0m0 1h0m1 2h0m2-7h0m2 6h0m1 0h0m1 4h0m0-1h0m2-1h0m0 1h0m1-5h0m2 1h0m0 2h0m1 0h0m0 1h0m0-1h0m1 2h0m0-7h0m1 8h0m0-6h0m2 1h0m10-2h0m6 1h0m0-4h0m2 2h0m4-3h0m8 9h0m4 1h0m0-9h0m1 0h0m0 0h0m5-1h0m3 3h0m17 2h0m8-2h0m14 4h0m3 2h0m-133 4h0m3-1h0m0 7h0m4 3h0m0-7h0m1 3h0m0 1h0m1 3h0m3 1h0m0-8h0m1 7h0m1-6h0m5 5h0m0-5h0m1 0h0m1-2h0m1 3h0m2-1h0m1 2h0m1-4h0m0 6h0m0-6h0m0 2h0m2-3h0m1 6h0m1 1h0m0-7h0m1 2h0m0 0h0m1 8h0m1-3h0m0-7h0m1 6h0m2 1h0m2-7h0m1 9h0m1-3h0m0 1h0m1 4h0m0-8h0m1-1h0m0-1h0m1 4h0m2-4h0m1 7h0m0-4h0m2 0h0m1-1h0m63-2h0m69 1h0m-187 18h0m14-3h0m8-5h0m5 0h0m5 10h0m7-11h0m8 7h0m1-6h0m0 1h0m3 9h0m0-10h0m3 6h0m5-6h0m2 3h0m19 2h0m-43 13h0m10-7h0" stroke="#c684f2"/><path d="M0 0m2678 1938h0m2 4h0m7 2h0m-1 5h0m5 1h0m2 0h0m2 5h0m0 0h0m87 1h0m30-6h0m4 6h0m-119 11h0m0-8h0m1 7h0m0-5h0m2 4h0m1 2h0m61-2h0m6-3h0m6 3h0m0 2h0m3 0h0m0-1h0m1-6h0m4 2h0m8-3h0m1 3h0m0 0h0m1-5h0m1 1h0m0 4h0m1 4h0m1-3h0m0 5h0m2-1h0m1 0h0m1-7h0m0 8h0m1-8h0m6 6h0m6-8h0m0 6h0m1 1h0m2-1h0m3 0h0m-71 15h0m12-5h0m3 4h0m0-5h0m0 0h0m1-4h0m0 0h0m3 1h0m2 6h0m1 1h0m0 0h0m2-2h0m1 0h0m1 3h0m0-9h0m0 4h0m3 4h0m0 0h0m2-4h0m3 7h0m0-3h0m0-5h0m0 4h0m1 2h0m0-8h0m1 8h0m0 2h0m0-9h0m2 4h0m1-5h0m0 10h0m2-8h0m2-3h0m1 4h0m1 4h0m0-1h0m1 1h0m0-7h0m0 6h0m1-4h0m0-1h0m1-2h0m0 7h0m1 0h0m2-8h0m1 2h0m0 5h0m0-1h0m1-5h0m0 7h0m1-5h0m1 5h0m1 0h0m0-1h0m2-6h0m0 3h0m3 0h0m0 0h0m0 0h0m1-4h0m0 6h0m3 1h0m1 4h0m2 0h0m0-8h0m1 2h0m1 1h0m1-4h0m1 3h0m0 2h0m1 5h0m3-4h0m0-3h0m1 6h0m2-9h0m5 5h0m1 4h0m2-11h0m0 0h0m4 7h0m5 0h0m2-4h0m-112 17h0m8 3h0m3-10h0m4 2h0m0 4h0m1-4h0m0 8h0m0-1h0m6-2h0m1-6h0m0 8h0m2 2h0m0-3h0m1-3h0m1-3h0m1 7h0m0-6h0m0 3h0m0-4h0m0-3h0m1 8h0m1-6h0m1 5h0m1 3h0m0-4h0m0 1h0m1-1h0m0-3h0m0-1h0m0 9h0m1-10h0m3 5h0m2-1h0m0-2h0m1 3h0m0 0h0m1 0h0m1-5h0m1 6h0m0 2h0m1-6h0m1 4h0m1-3h0m0-3h0m0 5h0m0-5h0m1 1h0m1-2h0m2 3h0m1-2h0m1 10h0m0-5h0m2-3h0m4-3h0m1 0h0m1 2h0m3 6h0m1-6h0m3 4h0m5-4h0m3 3h0m7 5h0m2-4h0m3 5h0m2-9h0m0 6h0m4-3h0m2-3h0m3 0h0m1 4h0m1-2h0m0-3h0m3 5h0m0-3h0m13 0h0m-140 18h0m6 3h0m6-4h0m12 3h0m2-1h0m0-10h0m2 4h0m4 2h0m4 5h0m2-1h0m0-7h0m1 4h0m0-4h0m2 5h0m0-3h0m0 3h0m2 0h0m1-6h0m1 8h0m0-9h0m2 11h0m1-1h0m1-4h0m0 1h0m0-7h0m1 0h0m1 8h0m0 1h0m1-3h0m2 3h0m1-7h0m0-2h0m1 4h0m5 3h0m3-7h0m3-1h0m3 5h0m7 3h0m10-7h0m11 2h0m11 0h0m4-2h0m9 1h0m0 2h0m4-1h0m-151 13h0m10 2h0m3 1h0m3-1h0m1-1h0m3-3h0m6 6h0m2-2h0m2-3h0m0-1h0m2 9h0m1 1h0m4-5h0m2-7h0m0 9h0m2 0h0m0-7h0m2 6h0m1-2h0m0 4h0m1-8h0m4 2h0m2 1h0m0-5h0m2 2h0m1 4h0m0-1h0m2-1h0m2-4h0m2 3h0m1 9h0m0-10h0m6-1h0m1 4h0m0 6h0m2 0h0m5-1h0m4-7h0m0-1h0m17 1h0m44-3h0m127 12h0m0-1h0m1-2h0m1 0h0m1 1h0m1-5h0m1-1h0m0 2h0m0-2h0m3 1h0m0-1h0m-285 14h0m7 1h0m3 2h0m2 3h0m6-2h0m5-2h0m0-4h0m0 8h0m1-4h0m0 2h0m1 2h0m3-5h0m0 2h0m2-3h0m0 1h0m0 1h0m2 1h0m0 1h0m1-6h0m0 1h0m2 4h0m1 2h0m0-8h0m2 3h0m0-1h0m1-4h0m2 10h0m3-10h0m0 9h0m0 0h0m1-4h0m2 4h0m0-2h0m1-5h0m0 7h0m0-5h0m1 2h0m0 3h0m2 2h0m3-5h0m1 2h0m1-3h0m0-2h0m1 0h0m0 6h0m3-7h0m2 4h0m0 5h0m2-10h0m1 10h0m1-1h0m4-4h0m6 2h0m3-8h0m9 2h0m187 0h0m2 0h0m0-2h0m1 1h0m1-2h0m0 1h0m0-1h0m-272 21h0m0-6h0m9 2h0m7 1h0m0 4h0m2-3h0m3 0h0m1 4h0m0-2h0m1-3h0m0-2h0m2-1h0m0 1h0m1 5h0m0-4h0m1 6h0m0 1h0m0 0h0m1-1h0m1-9h0m2 3h0m0 5h0m2 1h0m1-5h0m1-3h0m0 5h0m1-4h0m2-2h0m0-1h0m0-1h0m1 9h0m1-5h0m0 0h0m2-3h0m2 8h0m0 3h0m2-3h0m4-8h0m1 9h0m9-9h0m1 8h0m-45 10h0m1-5h0m3-1h0m1 3h0m0 3h0m1-5h0m3 0h0m0 8h0m2-9h0m4 1h0m3 2h0m2 2h0m1-3h0m3 4h0m1 4h0m1-11h0m2 10h0m0 1h0m1-3h0m0-7h0m0 7h0m0-2h0m1 3h0m1-4h0m0 1h0m1-1h0m1 5h0m1-5h0m0-2h0m1 8h0m0 1h0m2-7h0m0 5h0m4-3h0m7-1h0m1 0h0m1 4h0m1-4h0m6-3h0m-58 18h0m4-8h0m11 5h0m4-4h0m3 0h0m4 1h0m1 6h0m2-8h0m0 9h0m3-9h0m1 0h0m1 0h0m0 4h0m0 0h0m1 4h0m3-3h0m1-3h0m0 2h0m0-5h0m1 3h0m7 5h0m1 3h0m0-5h0m0 5h0m0-3h0m4 0h0m1-1h0m0-2h0m3 5h0m0-4h0m1 2h0m8-5h0m1 7h0m4-3h0m-36 7h0m6-1h0m2 0h0m6-1h0m1 11h0m0-7h0m10 4h0m1-7h0m1 5h0m1-1h0m3 6h0m2-6h0m6-2h0m-17 13h0m0-3h0m7 6h0m1-3h0m62 64h0m1 3h0m1 0h0m1 0h0m-1 6h0m0-5h0m0 1h0m1 1h0m0 2h0m1-2h0m2 6h0m1 12h0m0-1h0m0 1h0m1-1h0m0-5h0m1 5h0m1 4h0m1 0h0m1-6h0m-2 8h0m1 2h0" stroke="#b09278"/><path d="M0 0m2650 1895h0m0 0h0m5-4h0m1 4h0m1 0h0m-7 3h0m2-2h0m31 18h0m0 4h0m1 0h0m0 0h0m-2 3h0m1 6h0m1-4h0m159 68h0m1 1h0m4-5h0m1-1h0m0 5h0m-18 10h0m3-1h0m2 0h0m0 3h0m1 1h0m2-3h0m0-4h0m1 4h0m0-6h0m0 4h0m0-3h0m1 0h0m1 2h0m1 5h0m0-9h0m1 0h0m0 5h0m0-5h0m1 3h0m2 4h0m1-6h0m1 4h0m0-4h0m1-1h0m1 6h0m0 4h0m5-1h0m2 1h0m0-9h0m2 5h0m-26 7h0m0 4h0m2-5h0m1 4h0m3-2h0m1-3h0m0 1h0m3 10h0m3-5h0m0 3h0m2-4h0m1-5h0m0 0h0m0 8h0m1 2h0m0-7h0m0 7h0m0-3h0m1 3h0m2-2h0m0 0h0m0-6h0m1 2h0m2 7h0m0-2h0m1-9h0m1 1h0m2 8h0m2-1h0m1-7h0m4 5h0m83 2h0m1-3h0m1 2h0m0 1h0m1 1h0m0 1h0m1-2h0m2-2h0m-117 7h0m0 5h0m6-3h0m2 6h0m0-7h0m1 6h0m0-4h0m0-1h0m1 4h0m1 4h0m0-3h0m0-8h0m1 10h0m0 0h0m0-5h0m0-2h0m0 3h0m1-4h0m0 7h0m0-7h0m0-3h0m1 2h0m1 6h0m0-7h0m1 0h0m1 7h0m0-6h0m0 7h0m1-7h0m3 7h0m1 2h0m0 1h0m2-2h0m1-3h0m3-6h0m-29 15h0m2 8h0m2 0h0m1-10h0m2 1h0m3 5h0m2 3h0m0-10h0m0 2h0m1 1h0m1-3h0m2 3h0m0-4h0m0 1h0m1 3h0m1 1h0m1 3h0m0-7h0m0 2h0m0 9h0m2-8h0m3-1h0m0 0h0m1 7h0m-38 8h0m13-5h0m3 0h0m0 10h0m0 0h0m3-9h0m0-2h0m2 7h0m1-7h0m1 8h0m0-6h0m2 3h0m1 4h0m0 2h0m1-2h0m0-1h0m2 1h0m2-4h0m2 3h0m1-6h0m0 6h0m1-4h0m5-3h0m0 8h0m1-1h0m0 1h0m1-8h0m-102 22h0m65-3h0m0 3h0m3-1h0m2-2h0m1 2h0m0-5h0m3 4h0m1-7h0m0 5h0m0 5h0m2-4h0m2 3h0m0-9h0m1 7h0m0 3h0m1-5h0m2-3h0m0 2h0m1-1h0m1-3h0m1 4h0m2-2h0m0-3h0m1 1h0m2 9h0m1-9h0m0 2h0m2-3h0m4 11h0m3-10h0m-114 20h0m2-2h0m0 1h0m0 1h0m1-1h0m1-2h0m1-1h0m0 3h0m1 1h0m3-6h0m1 4h0m0 3h0m0 0h0m0-3h0m2 3h0m1-6h0m0 4h0m0-1h0m2-2h0m1 1h0m1-2h0m23 1h0m16 3h0m16 0h0m2-4h0m2 7h0m0-4h0m2 0h0m0-5h0m1 9h0m1-4h0m0 4h0m1-5h0m1-4h0m0 5h0m2-2h0m5-5h0m0 8h0m0-2h0m2-7h0m0 9h0m1-2h0m1-1h0m1 0h0m0-1h0m1 1h0m1-3h0m1 1h0m4 7h0m2-9h0m1 9h0m4-3h0m4-6h0m-118 16h0m1 0h0m2 0h0m3-3h0m0 3h0m1 1h0m1 1h0m0-2h0m1-2h0m1 0h0m1 1h0m0-4h0m0 11h0m0-6h0m3-1h0m2 1h0m0-5h0m0 2h0m2 0h0m0-1h0m2 6h0m1-5h0m1 3h0m0-3h0m1-3h0m1 8h0m2 2h0m0-4h0m2-6h0m1 7h0m2 5h0m1-1h0m1 0h0m1-2h0m3 0h0m0 3h0m1-1h0m0-1h0m1 1h0m0-1h0m3-7h0m0 3h0m1 2h0m3 0h0m0-3h0m5 5h0m1 1h0m0-1h0m2 0h0m1 1h0m1 1h0m2-1h0m4-8h0m6 7h0m0 0h0m0 1h0m1 1h0m0 0h0m1-5h0m0-2h0m1 1h0m1 4h0m0-5h0m3 3h0m0 2h0m0-7h0m2 4h0m0 3h0m0 0h0m0-7h0m1 7h0m2 0h0m0 1h0m1-4h0m1-5h0m0 2h0m1 3h0m2-4h0m1 7h0m2-9h0m1 6h0m1 0h0m0-5h0m1 6h0m2-2h0m0-4h0m0 1h0m4-1h0m2 1h0m0 3h0m2-6h0m1 2h0m1 3h0m-94 10h0m1 3h0m1-1h0m3 7h0m2-8h0m1 0h0m0 1h0m0 2h0m1 4h0m1-8h0m0 1h0m2 0h0m2 1h0m0 0h0m1-1h0m2 7h0m1-6h0m0-5h0m1 5h0m1-1h0m2 4h0m1-5h0m2 5h0m3-7h0m2 6h0m0 0h0m1 4h0m0-9h0m1 2h0m2 7h0m1-10h0m2 5h0m1 4h0m1-8h0m1 6h0m1-5h0m1 5h0m2-2h0m0 3h0m0-5h0m0-2h0m1 6h0m2-1h0m1-3h0m2 8h0m0-11h0m1 6h0m0 3h0m0-3h0m1 0h0m0-3h0m1 5h0m0-4h0m2-2h0m1 2h0m1-5h0m0 1h0m2 5h0m2-3h0m1 1h0m1-1h0m0 6h0m0-3h0m1-2h0m1 2h0m0 0h0m2-2h0m0 2h0m1 4h0m0-3h0m1 4h0m1-9h0m1 6h0m4-6h0m1 1h0m5-2h0m-64 12h0m1 5h0m14-2h0m4 0h0m0 1h0m4-5h0m5 1h0m1 0h0m3 5h0m5-4h0m16 2h0m3-1h0m-38 12h0m38 50h0m1 2h0m0-3h0m1 0h0m1 7h0m0 0h0m1 1h0m-3 0h0" stroke="#e8962e"/><path d="M0 0m2514 1703h0m5 1h0m1-5h0m3-3h0m2 7h0m1-2h0m3-1h0m1 4h0m-30 3h0m3 6h0m5-1h0m0 1h0m1 1h0m0-2h0m1 2h0m0-2h0m4-7h0m1-1h0m0 10h0m0-7h0m0 2h0m1 3h0m0-3h0m0 4h0m0 0h0m1-3h0m1-2h0m0-1h0m1 7h0m0-1h0m0 1h0m0-10h0m1 12h0m0-5h0m1-1h0m1 3h0m1-6h0m0 4h0m0-5h0m1 6h0m0 0h0m1 3h0m0-2h0m0-6h0m1-3h0m0 9h0m0 3h0m2-4h0m0-4h0m3 0h0m0-2h0m1 9h0m4-5h0m1 5h0m1-5h0m6 0h0m-48 17h0m2-8h0m2 6h0m2 1h0m3-1h0m0-4h0m1-4h0m1 10h0m0-3h0m1-4h0m0 8h0m2-2h0m1-2h0m0-2h0m0-1h0m0-1h0m1 6h0m0-1h0m0-1h0m0-2h0m1-1h0m0-2h0m0 4h0m0-3h0m0 5h0m0 2h0m1-7h0m0 0h0m0 6h0m1-9h0m0 9h0m0-10h0m0 3h0m2 7h0m0-1h0m0 2h0m0-8h0m0 6h0m0-1h0m0 0h0m1 3h0m0-7h0m0 1h0m0 2h0m1-4h0m0 3h0m1 1h0m1-4h0m1 7h0m1-1h0m0-4h0m1-3h0m1-2h0m1 1h0m1 6h0m0 5h0m1-9h0m0 5h0m0 1h0m1-2h0m0-6h0m1 2h0m0 6h0m0-9h0m1 9h0m0-8h0m1 7h0m1-1h0m0 0h0m2 1h0m1 1h0m0-2h0m0-1h0m1 0h0m2 4h0m4-3h0m3 2h0m-59 12h0m2 1h0m6-10h0m1 11h0m1 1h0m3-1h0m0 0h0m2-4h0m0 3h0m1 0h0m0-4h0m1 6h0m0-9h0m2 4h0m1 3h0m1-5h0m0-2h0m1-1h0m0 2h0m0-3h0m0 3h0m1-1h0m0 0h0m0-3h0m0 7h0m0 2h0m1-5h0m0-4h0m2 9h0m0-1h0m0 4h0m1-8h0m1 7h0m0-10h0m0 9h0m0-4h0m1 2h0m0 1h0m1-9h0m1 0h0m1 4h0m0 2h0m0-4h0m0-1h0m2 0h0m0 5h0m1-4h0m1 4h0m0-5h0m1 2h0m1 0h0m0 2h0m2 2h0m2 0h0m1-1h0m0-5h0m6 0h0m1 0h0m1 9h0m1 1h0m2 1h0m1-4h0m2 2h0m0-9h0m4 10h0m0 0h0m-57 7h0m1 1h0m0 3h0m6-8h0m0 9h0m0 0h0m0-2h0m1-7h0m1 4h0m0-3h0m0 9h0m1-1h0m0 1h0m2-2h0m0-5h0m0 2h0m0 1h0m1 3h0m0-2h0m1 2h0m0-9h0m0-2h0m0 2h0m1 7h0m0-7h0m0-1h0m1 7h0m0-5h0m1 2h0m1-1h0m0-4h0m0 12h0m0-8h0m0 0h0m1-3h0m0 1h0m1 1h0m0-1h0m1 0h0m1 4h0m1-5h0m0 3h0m0-1h0m0 0h0m2 3h0m1 1h0m1 4h0m3-4h0m2-6h0m19 0h0m2 2h0m1 2h0m0 2h0m1 1h0m0 3h0m0-7h0m1 5h0m0-2h0m2-4h0m3 1h0m0 1h0m6 0h0m-69 14h0m2 0h0m0 3h0m2-2h0m1 2h0m1 2h0m1-4h0m1 1h0m0 2h0m1-10h0m0 7h0m0-4h0m1-4h0m1 8h0m0-1h0m0-4h0m0 9h0m1-4h0m0-6h0m0 3h0m0 0h0m0 5h0m1-9h0m1 10h0m0-7h0m0 2h0m2 5h0m3-7h0m1-2h0m0-2h0m1 3h0m0 3h0m0-6h0m0 5h0m1-4h0m0 1h0m2 1h0m1 0h0m9-3h0m26 8h0m1-5h0m1 0h0m1 2h0m1 2h0m2 2h0m1-1h0m2-5h0m-80 11h0m8-1h0m0 3h0m1 4h0m2-4h0m0 1h0m1 4h0m2-2h0m0 2h0m1 0h0m0-5h0m0 5h0m1-2h0m2 0h0m1 2h0m0-1h0m1-6h0m0 10h0m0-7h0m0-4h0m1 3h0m0 7h0m1-2h0m1-7h0m0 0h0m0 1h0m0 1h0m0 8h0m0-10h0m1 2h0m3 4h0m0-1h0m4-2h0m0-3h0m-25 12h0m3 2h0m3 7h0m0-4h0m0-2h0m0 3h0m0-1h0m0-2h0m0-4h0m1 7h0m0 0h0m1-7h0m0 10h0m0-7h0m1 4h0m0 2h0m0-4h0m1-2h0m0 1h0m0-5h0m0 9h0m0 2h0m1-7h0m1 3h0m0-3h0m0 7h0m0-10h0m0 6h0m0 1h0m0-6h0m1 7h0m0-5h0m2 7h0m2-4h0m2-5h0m0 7h0m1-8h0m14 10h0m3-7h0m-35 19h0m0-8h0m0 7h0m0-5h0m1 0h0m1-2h0m1 3h0m0 6h0m1-7h0m1-1h0m0 5h0m0-4h0m0 1h0m1 1h0m0-1h0m0 1h0m0 2h0m1-2h0m1-3h0m2 0h0m0-1h0m0-1h0m2 10h0m1-6h0m1-6h0m0 3h0m16 2h0m2 6h0m4-4h0m4-5h0m4-2h0m0 7h0m0-6h0m3 10h0m2-7h0m4 5h0m-56 9h0m2 4h0m2-5h0m1 1h0m0-4h0m1-2h0m0 8h0m0-8h0m0 7h0m1-6h0m1 9h0m0-4h0m0-3h0m0 2h0m1 5h0m1-9h0m0 2h0m0 5h0m0-6h0m0-2h0m1 5h0m0 2h0m1-5h0m0 6h0m0-2h0m0 3h0m3-1h0m4-8h0m5 6h0m18-3h0m5 0h0m3 2h0m-48 16h0m1-2h0m0-4h0m1-3h0m1 7h0m0-4h0m1 4h0m0-2h0m0 0h0m0 2h0m1-6h0m0 0h0m0-1h0m1 10h0m0 0h0m1-9h0m0 0h0m1 8h0m1-3h0m1 1h0m35-3h0m-49 10h0m6-1h0m4-1h0m8 11h0m-16 9h0m3-2h0m3-4h0m1-2h0m-7 19h0m6-2h0m0-1h0m1 7h0m-10 6h0m5-1h0m186 74h0m1 0h0m0-1h0m2 1h0m1-1h0" stroke="#6cf0b6"/></g><g transform="scale(.5)" fill="none" stroke-width="3" stroke-linecap="round"><path d="M0 0m3198 1703h0m6-4h0m-11 15h0m5-9h0m1 2h0m4 6h0m0 1h0m1 2h0m3-5h0m0-5h0m1 6h0m1 1h0m3-1h0m3-4h0m1 7h0m-36 12h0m2-8h0m2 6h0m2 1h0m5 1h0m3-1h0m2-4h0m1-3h0m0 1h0m1 0h0m1-3h0m0 9h0m2 0h0m2-4h0m1 1h0m1-4h0m3-1h0m1-2h0m2 12h0m1-9h0m0 6h0m3-8h0m4 7h0m1 1h0m-27 5h0m0-1h0m0 3h0m1 5h0m7-9h0m2 2h0m0-1h0m3 1h0m1-1h0m1 2h0m6 3h0m7-5h0m11 10h0m-50 12h0m1-9h0m1 1h0m5-3h0m4 4h0m1-3h0m1 2h0m3 0h0m2 3h0m5 1h0m25 1h0m0-4h0m3-1h0m3 1h0m-57 20h0m4-12h0m6 11h0m50-2h0m-69 4h0m7 3h0m5 8h0m2-3h0m1-7h0m0 0h0m0 1h0m0-1h0m8 0h0m-19 15h0m4 4h0m2-2h0m76 0h0m2-3h0m1 6h0m2-6h0m1 7h0m3 0h0m1-1h0m2-10h0m6 9h0m2-2h0m23-2h0m10 6h0m6-8h0m-143 12h0m3 2h0m1 2h0m4-5h0m3 4h0m23 1h0m8-6h0m6 6h0m6 4h0m6-2h0m11-1h0m13 4h0m0-2h0m6 1h0m3-8h0m1 7h0m1-8h0m0 6h0m0-7h0m4 6h0m1-6h0m1 6h0m8 3h0m2-5h0m15 5h0m30-4h0m-161 12h0m2 4h0m3-8h0m3 8h0m2-2h0m2 0h0m3 0h0m56 0h0m10 2h0m1-6h0m2 5h0m0-7h0m1 10h0m0-4h0m4 0h0m1 2h0m3-7h0m1 8h0m3-4h0m1-1h0m5-3h0m8 7h0m6 1h0m1-4h0m6-1h0m2-1h0m19-4h0m4 5h0m-145 6h0m3 1h0m3 8h0m1-3h0m1 1h0m30-2h0m5-1h0m25 3h0m0-4h0m2 9h0m4-2h0m3-3h0m0-5h0m1 3h0m1-3h0m0-1h0m4 0h0m0 9h0m1 0h0m1-4h0m2-6h0m0 7h0m2 1h0m3-1h0m1 4h0m3 1h0m6-8h0m1 1h0m1 7h0m3-1h0m11-9h0m5 2h0m2 4h0m1-3h0m7 1h0m3 5h0m-142 3h0m10-2h0m43 3h0m11 3h0m1-2h0m1 7h0m8 0h0m6 0h0m3-4h0m1-2h0m4-1h0m1 0h0m2-3h0m1 2h0m2 5h0m0-6h0m3 4h0m4 6h0m0-10h0m3-1h0m2 5h0m1 2h0m2-3h0m1-4h0m4 0h0m6 5h0m1-2h0m1 1h0m1-2h0m0 3h0m15 5h0m3-3h0m6-4h0m4 0h0m-143 20h0m34-5h0m8-3h0m21 0h0m0 1h0m6-5h0m0 2h0m1 6h0m5 2h0m1 0h0m5-7h0m2 7h0m0-8h0m2 9h0m1 0h0m2-4h0m1-1h0m0-6h0m1 5h0m1-2h0m1 3h0m5 5h0m0-6h0m2 1h0m3-5h0m1 9h0m1-9h0m0 3h0m0 2h0m4 5h0m3-9h0m1 4h0m1 3h0m6 0h0m3 2h0m1-2h0m0 1h0m2-6h0m5 6h0m2-2h0m1-4h0m3 4h0m4-1h0m2 1h0m19 1h0m-173 7h0m14-3h0m14 10h0m4-10h0m14 0h0m4 4h0m23 6h0m12-5h0m1-2h0m3-1h0m9-2h0m1 6h0m2 0h0m1-4h0m1-1h0m1 0h0m2-1h0m2 0h0m3 8h0m1-6h0m5-3h0m2 3h0m1 6h0m1-3h0m0-1h0m3 2h0m1 3h0m3-3h0m1-2h0m1 4h0m0-5h0m2 5h0m5-4h0m3-2h0m7 0h0m0 6h0m6-3h0m2 5h0m3-8h0m-150 13h0m5 1h0m8 6h0m4-8h0m1 0h0m0 7h0m2-6h0m0-2h0m1 9h0m1-8h0m2 9h0m1-1h0m1 1h0m0-3h0m1 1h0m0-2h0m0 1h0m3-5h0m0 4h0m2-4h0m0-1h0m2-3h0m6 4h0m3 6h0m2-1h0m10 3h0m6-2h0m2-2h0m8-6h0m1 7h0m4-3h0m1 4h0m2-1h0m2-7h0m12 3h0m0 3h0m2-2h0m1-2h0m5 4h0m1-7h0m3 0h0m3 1h0m1-1h0m2 3h0m2 4h0m3-6h0m2 7h0m1-2h0m2 1h0m4-6h0m4-1h0m3-1h0m10 3h0m14 5h0m-160 15h0m4 1h0m15-9h0m2 2h0m1 7h0m2-7h0m0-1h0m3 2h0m2-4h0m3 6h0m0 1h0m0-6h0m3 1h0m3-2h0m2 6h0m1-6h0m4 5h0m1 4h0m0-8h0m6 5h0m0-8h0m0 8h0m2 1h0m31-2h0m6-4h0m2 1h0m6 0h0m9-3h0m1 1h0m4 1h0m0 7h0m3 0h0m0-7h0m18 2h0m20 6h0m3-8h0m1 6h0m5 2h0m-171 5h0m1 1h0m0-2h0m1-3h0m4 5h0m1-1h0m1-1h0m0-1h0m2 1h0m1 3h0m1 1h0m1 3h0m2-10h0m1 4h0m1 0h0m11 8h0m11-9h0m16 7h0m32-3h0m14 3h0m33-7h0m35-2h0m1 1h0m-200 20h0m3 2h0m4-4h0m74 0h0m5-2h0m0 0h0m3 2h0m2 0h0m2 3h0m0-4h0m2 1h0m1-1h0m0-2h0m1 7h0m1-4h0m4-5h0m50 8h0m59-8h0m-219 19h0m3-5h0m5 4h0m3-4h0m96-4h0m142 9h0m-267 12h0m0-8h0m5 6h0m2 0h0m1-3h0m6 4h0m1-1h0m5-6h0m0-1h0m8 9h0m1-4h0m2 3h0m1-9h0m2 3h0m4 6h0m0-6h0m1-2h0m4 3h0m1 4h0m2-2h0m33-3h0m102-2h0m85 11h0m-272 10h0m4-1h0m3-9h0m0 9h0m1-8h0m0 5h0m4-3h0m6 8h0m4-5h0m1-5h0m9 3h0m4 1h0m2-5h0m5 7h0m2-4h0m1 6h0m5-8h0m0 2h0m210 2h0m-256 12h0m3 7h0m10-11h0m0 2h0m1-2h0m1 4h0m2 3h0m4-6h0m3-1h0m7 9h0m2 1h0m0-9h0m6 0h0m9 3h0m1-5h0m2 2h0m2 8h0m-70 7h0m3 7h0m4-4h0m4 2h0m3-8h0m2 9h0m0-5h0m6 5h0m0-6h0m15 4h0m1-6h0m0 3h0m4-1h0m1 3h0m2 2h0m4-9h0m1 7h0m3-2h0m11 3h0m0 2h0m1-4h0m11 5h0m1-2h0m337 1h0m-416 1h0m2 9h0m0-4h0m15 3h0m1-2h0m2 1h0m6-1h0m0 1h0m1-4h0m3 3h0m1 6h0m2-5h0m1-1h0m3 1h0m2 4h0m2-1h0m0 0h0m1-8h0m1 3h0m0 7h0m3-9h0m2-2h0m0 5h0m4 0h0m4-2h0m10 6h0m7-5h0m0 3h0m1-7h0m0 3h0m1 8h0m1-11h0m0 2h0m1-1h0m0 2h0m2 4h0m0 0h0m301 3h0m5-9h0m33 9h0m2-5h0m-426 10h0m2 4h0m10 0h0m0-7h0m3 8h0m4-2h0m0 4h0m7-4h0m2 4h0m5 0h0m2-9h0m0 6h0m1 1h0m1-5h0m2 1h0m2-5h0m7 3h0m1 0h0m2 4h0m0 2h0m1 0h0m1-3h0m0 2h0m8-6h0m1 9h0m3-11h0m2 2h0m4 5h0m2 1h0m0 2h0m8-4h0m2 4h0m1-2h0m312-5h0m-405 20h0m4-7h0m1 4h0m4-4h0m2 2h0m0 4h0m1-2h0m6 3h0m4-1h0m7-5h0m4-3h0m1 8h0m6-7h0m0 1h0m1 1h0m2 6h0m4-8h0m3 8h0m0-7h0m1 1h0m1 4h0m0 2h0m0-8h0m1 3h0m2-2h0m0 6h0m2 1h0m1-1h0m3-1h0m1-8h0m3 9h0m9 0h0m9-9h0m4 6h0m3 1h0m1-4h0m6-3h0m2 11h0m128-3h0m138 1h0m18-5h0m79 4h0m-464 9h0m2-3h0m9 7h0m6-5h0m2 6h0m1-6h0m4-4h0m2 8h0m2-7h0m6 3h0m0 4h0m2-1h0m0 4h0m2-7h0m2-2h0m1 1h0m11 7h0m6-6h0m1-2h0m0 2h0m1-2h0m2 2h0m1-4h0m0 10h0m2-8h0m0-1h0m3 3h0m11 4h0m0-2h0m3 2h0m1 1h0m2 2h0m3-7h0m3 5h0m4-7h0m4 2h0m2-1h0m2 4h0m99 0h0m3 3h0m14-5h0m252 5h0m12-2h0m-484 4h0m1 2h0m1 8h0m2-1h0m0 1h0m1-9h0m1 6h0m2-1h0m1 4h0m0-6h0m1 5h0m4-4h0m5-1h0m5 1h0m6 0h0m1 4h0m5-6h0m5-1h0m1 4h0m1 2h0m1 0h0m7-8h0m1 11h0m0-12h0m2 9h0m6-3h0m1-2h0m1-2h0m2-1h0m1 0h0m0 0h0m5 1h0m3 0h0m5 3h0m1-5h0m1 11h0m1-2h0m3 0h0m1-4h0m4-5h0m1 12h0m0-7h0m0 0h0m3 0h0m1-3h0m3 5h0m0 3h0m2 0h0m0-3h0m4 4h0m1-4h0m0-6h0m4 9h0m166-7h0m3-3h0m43 12h0m250-9h0m-567 10h0m2 4h0m1 3h0m2 3h0m4-7h0m1-3h0m1 11h0m2-1h0m3-1h0m6-1h0m2-1h0m6 2h0m3-9h0m4 2h0m4 9h0m3-6h0m3-2h0m3 4h0m4-1h0m16-4h0m3 1h0m4-4h0m1 0h0m4 4h0m0 3h0m6-7h0m1 10h0m0-3h0m4 3h0m5-6h0m1-2h0m2 5h0m7-3h0m1 3h0m0-3h0m107-2h0m8 5h0m65-7h0m33 6h0m0-2h0m167 5h0m-489 4h0m0-1h0m1 6h0m1 4h0m0-3h0m8 4h0m8-9h0m6 5h0m9 4h0m1-11h0m1 11h0m1-8h0m2 9h0m1-8h0m1 3h0m1 1h0m3-6h0m5 7h0m1-2h0m2 2h0m2 2h0m4-7h0m6 0h0m5-4h0m6 5h0m1 4h0m0-8h0m1-1h0m1 3h0m1 1h0m3 3h0m1 1h0m3-6h0m8 4h0m4 2h0m0 1h0m5-3h0m5-3h0m0 7h0m3-4h0m1 5h0m1-11h0m0 5h0m5 5h0m3-3h0m344 0h0m-457 14h0m1 2h0m3 1h0m0-10h0m1 7h0m0 1h0m6-7h0m3 2h0m1 5h0m1-8h0m2 2h0m2 8h0m3-1h0m3-7h0m3 2h0m2-3h0m1-2h0m1 7h0m0 1h0m3-2h0m2 4h0m0-10h0m3 10h0m2-10h0m0-1h0m0 10h0m1-5h0m0-2h0m5 1h0m1 5h0m1-3h0m1 6h0m1-4h0m0-2h0m2-3h0m4 5h0m1-3h0m1 0h0m1-2h0m1 6h0m1-7h0m1-1h0m5 8h0m3-7h0m5 7h0m0-3h0m0-5h0m2 7h0m3 4h0m1-11h0m1 9h0m0-5h0m1-3h0m4 2h0m5 5h0m2 0h0m7-4h0m3-3h0m1 1h0m2-2h0m3 1h0m4 6h0m7 2h0m130-5h0m122 2h0m88-6h0m16 0h0m-477 17h0m1-3h0m1 0h0m4 1h0m1 1h0m0-2h0m8-2h0m3 9h0m1-8h0m3 6h0m2 4h0m2-3h0m0-3h0m2 4h0m1-3h0m1 2h0m0-8h0m0 4h0m0 5h0m0-1h0m3 2h0m5-2h0m4-9h0m1 9h0m0-5h0m1 6h0m4-2h0m2 0h0m1-6h0m3 7h0m3-1h0m0-2h0m2 0h0m0-4h0m7 7h0m0 0h0m1 3h0m1-3h0m4-4h0m11 3h0m3-8h0m1 4h0m2-1h0m2 4h0m0 1h0m1-4h0m2-3h0m1 10h0m1-10h0m1 3h0m1 7h0m7-9h0m2 2h0m5 6h0m1-1h0m0 0h0m2-8h0m1 6h0m6 1h0m1 1h0m2-3h0m5-1h0m0 6h0m63-5h0m29 0h0m83 3h0m55 1h0m92-3h0m-447 13h0m1-5h0m1-2h0m0 1h0m1 4h0m0 0h0m1-1h0m2 2h0m1 1h0m0 2h0m2-5h0m1 1h0m1 1h0m5-2h0m8-3h0m2 0h0m2 2h0m1 1h0m0 5h0m0-5h0m1 5h0m5 0h0m6-1h0m3-1h0m0-4h0m1 6h0m0-7h0m9 1h0m2-1h0m1 2h0m4 2h0m3 0h0m1 2h0m0-2h0m3-3h0m0-3h0m1 5h0m1 5h0m0 0h0m0-4h0m1 3h0m1-4h0m0 1h0m1 4h0m2-8h0m5-3h0m2 1h0m3 4h0m8 3h0m0-6h0m2 6h0m2-1h0m3 1h0m0-7h0m2 7h0m2-5h0m3 0h0m6 8h0m3-6h0m6 6h0m2-8h0m1 2h0m3-1h0m1-2h0m1 1h0m1 3h0m5 4h0m2-3h0m0 1h0m3 1h0m2 2h0m79-6h0m18-1h0m4-2h0m129 6h0m44 3h0m-406 8h0m8-3h0m1 0h0m0-4h0m7 4h0m1-4h0m0 5h0m2-3h0m1 8h0m2-4h0m0 0h0m5 4h0m1-8h0m0 2h0m2-2h0m1 1h0m1 5h0m3-8h0m1 0h0m1 2h0m1 9h0m4-7h0m1-4h0m2 6h0m0-4h0m0 9h0m1-4h0m1 3h0m1-4h0m1 2h0m0-3h0m1-4h0m1 9h0m1-3h0m0 4h0m1-1h0m0-10h0m1 4h0m3 1h0m2-3h0m2-1h0m1 2h0m6 2h0m0-1h0m4-2h0m0 5h0m2 0h0m0-6h0m2 5h0m3 2h0m2 2h0m2-1h0m1-7h0m1 4h0m3-3h0m9 8h0m5-11h0m1 3h0m8 5h0m3-5h0m2-1h0m2 2h0m1-3h0m1 0h0m3 8h0m3-7h0m0 5h0m2 3h0m4-5h0m0 0h0m3-4h0m0 8h0m0-5h0m2-2h0m1 4h0m1 3h0m3-4h0m1 6h0m1 0h0m2-4h0m29 1h0m2-7h0m187 10h0m35-4h0m18-5h0m-407 14h0m5-3h0m2 8h0m2 3h0m5-3h0m0 1h0m2-6h0m4-3h0m5 6h0m3 4h0m2-7h0m1 7h0m3 0h0m0-2h0m8-7h0m0 5h0m0 0h0m4-4h0m4 2h0m3-2h0m0-2h0m6 5h0m3-2h0m2 4h0m0-6h0m2 1h0m4 7h0m0-2h0m1 2h0m1-3h0m1-5h0m1 0h0m4 8h0m3-6h0m5 0h0m5 0h0m3 0h0m6 2h0m2-5h0m2 6h0m4-2h0m3 0h0m1-3h0m6 3h0m0-1h0m1 0h0m2-3h0m2 2h0m1 7h0m2-2h0m1-1h0m1-5h0m1 0h0m2 9h0m4-7h0m0 0h0m1 7h0m3-8h0m1 5h0m2-2h0m1-2h0m18-3h0m4 10h0m208-7h0m13 2h0m-373 11h0m2-3h0m1-1h0m3 0h0m3 10h0m2-1h0m2 1h0m2-4h0m0 5h0m1-11h0m0 5h0m2 2h0m2-1h0m2-7h0m2 5h0m0 3h0m0 2h0m3-5h0m10 4h0m7 2h0m6-7h0m1 6h0m1 1h0m1-1h0m3 2h0m1-2h0m3-5h0m1 5h0m4-9h0m2 11h0m0-2h0m1-1h0m4 1h0m0-6h0m15 5h0m0-8h0m3 6h0m5 2h0m0-6h0m1 1h0m1 0h0m6-2h0m2 4h0m2-5h0m0 7h0m1-1h0m3 4h0m3-3h0m1-7h0m0 8h0m1-9h0m1 9h0m2-7h0m5 1h0m2 1h0m27-4h0m-141 13h0m8 0h0m1 8h0m1-4h0m0 0h0m8 1h0m0-1h0m0 0h0m1-2h0m0 7h0m0-10h0m2 3h0m1 3h0m1 5h0m3-8h0m1 6h0m1 0h0m1 2h0m4 0h0m10-10h0m1 4h0m0-4h0m1 4h0m1 5h0m2-2h0m6 0h0m0 2h0m2-3h0m1 2h0m2-6h0m2 2h0m1 6h0m1-11h0m4 4h0m0-3h0m1 8h0m0-4h0m6 0h0m1-5h0m10 8h0m2-7h0m2 1h0m3-2h0m2 1h0m1 1h0m3-1h0m3 0h0m-72 11h0m26 2h0m9 0h0m321 30h0" stroke="#5fe87e"/><path d="M0 0m3203 1704h0m4-8h0m2 7h0m1-2h0m3-1h0m1 4h0m-30 3h0m3 6h0m5-1h0m0 1h0m1-1h0m1 2h0m0-2h0m5-8h0m0 10h0m0-5h0m1 3h0m0-3h0m0 4h0m0 0h0m1-3h0m1-2h0m0-1h0m1 7h0m0-10h0m1 7h0m1-1h0m1 3h0m1-6h0m1 5h0m1 3h0m0-8h0m1-3h0m0 9h0m0 3h0m2-8h0m3-2h0m5 4h0m1 5h0m1-5h0m6 0h0m-39 15h0m0-4h0m1-4h0m1 7h0m1-4h0m0 8h0m3-4h0m0-2h0m0-1h0m0-1h0m1 6h0m0-1h0m0-1h0m1-3h0m0 2h0m0 2h0m0 2h0m1-7h0m0 6h0m1-10h0m0 3h0m2 6h0m0 2h0m0-8h0m0 6h0m0-1h0m0 0h0m1 3h0m0-7h0m0 1h0m0 2h0m1-4h0m3 7h0m1-1h0m0-4h0m3-4h0m1 6h0m1 1h0m1-1h0m0-6h0m1 2h0m0 6h0m0-9h0m1 9h0m1-1h0m1-1h0m0 0h0m3 0h0m0-1h0m1 0h0m2 4h0m4-3h0m3 2h0m-59 12h0m2 1h0m6-10h0m1 11h0m1 1h0m3-1h0m0 0h0m2-4h0m0 3h0m1 0h0m0-4h0m1 6h0m0-9h0m2 4h0m1 3h0m1-5h0m0-2h0m1 1h0m1-1h0m0 0h0m0-3h0m0 7h0m1-3h0m0-4h0m2 9h0m0-1h0m0 4h0m1-8h0m1 7h0m0-10h0m0 9h0m0-4h0m1 2h0m0 1h0m2-9h0m1 4h0m0 2h0m2-5h0m0 5h0m2 0h0m2-3h0m0 2h0m2 2h0m2 0h0m1-6h0m6 0h0m2 9h0m1 1h0m2 1h0m1-4h0m2 2h0m0-9h0m4 10h0m-57 7h0m1 1h0m0 3h0m6-8h0m0 9h0m0-2h0m2-3h0m0 6h0m1-1h0m0 1h0m2-2h0m0-5h0m0 2h0m0 1h0m1 3h0m0-2h0m1 2h0m0-9h0m0 0h0m1 7h0m0-7h0m0-1h0m1 7h0m0-5h0m1 2h0m1-1h0m0-4h0m0 12h0m0-8h0m1-2h0m1 0h0m1 0h0m1 4h0m1-5h0m0 3h0m0-1h0m3 4h0m1 4h0m5-10h0m19 0h0m2 2h0m1 2h0m0 2h0m1 4h0m1-2h0m0-2h0m5-2h0m6 0h0m-69 14h0m2 0h0m0 3h0m2-2h0m1 2h0m2-2h0m1 1h0m0 2h0m1-10h0m0 7h0m0-4h0m2 4h0m0-1h0m0-4h0m0 9h0m1-4h0m0-6h0m0 3h0m0 0h0m0 5h0m1-9h0m1 10h0m0-7h0m0 2h0m5-2h0m1-2h0m0-2h0m1 3h0m0 3h0m0-6h0m0 5h0m1-4h0m0 1h0m2 1h0m1 0h0m9-3h0m26 8h0m1-5h0m1 0h0m1 2h0m1 2h0m3 1h0m2-5h0m-80 11h0m8 2h0m1 4h0m2-4h0m0 1h0m1 4h0m2-2h0m0 2h0m1 0h0m0 0h0m1-2h0m2 0h0m1 2h0m0-1h0m1-6h0m0 3h0m0-4h0m1 3h0m0 7h0m2-7h0m0 8h0m1-8h0m3 4h0m0-1h0m4-2h0m63 2h0m7-4h0m-95 11h0m3 2h0m3 7h0m0-4h0m0 1h0m0-1h0m0-2h0m0-4h0m1 7h0m0 0h0m1-7h0m0 10h0m0-7h0m1 4h0m0 2h0m0-4h0m1-2h0m0 1h0m0-5h0m0 11h0m1-7h0m1 0h0m0 7h0m0-10h0m0 6h0m0 1h0m0-6h0m1 7h0m0-5h0m2 7h0m2-4h0m2-5h0m0 7h0m1-8h0m14 10h0m3-7h0m34-2h0m21 9h0m1 0h0m4-2h0m2-2h0m0 2h0m0 1h0m0 2h0m2-5h0m0 3h0m2 1h0m0-5h0m1 3h0m2-4h0m1 4h0m19-6h0m22 8h0m-146 12h0m0-8h0m0 7h0m0-5h0m1 0h0m2 1h0m0 6h0m1-7h0m1-1h0m0 5h0m0-3h0m1 1h0m0-1h0m0 3h0m1-2h0m1-3h0m2 0h0m0-1h0m2 9h0m2-12h0m0 3h0m16 2h0m2 6h0m8-9h0m4-2h0m0 7h0m3 4h0m2-7h0m2 4h0m2 1h0m7-5h0m8-3h0m17 8h0m3-4h0m3 6h0m0-3h0m5-5h0m4-2h0m1 1h0m1 0h0m13 9h0m1 1h0m4-4h0m13-6h0m16-1h0m11 9h0m-159 7h0m1 1h0m1-6h0m0 8h0m0-8h0m0 7h0m1-6h0m1 5h0m0-3h0m0 2h0m1 5h0m1-9h0m0 2h0m0-1h0m0-2h0m1 5h0m0 2h0m1-5h0m0 4h0m0 3h0m7-9h0m5 6h0m18-3h0m5 0h0m3 2h0m11-4h0m2 3h0m2 5h0m1-3h0m3 5h0m0-5h0m1-1h0m3-4h0m4 11h0m3-9h0m14 0h0m1 4h0m1-4h0m5 0h0m2 7h0m5-9h0m3 4h0m1 5h0m4 1h0m0-2h0m6-1h0m1-5h0m2 5h0m2-3h0m9-4h0m15 4h0m7 5h0m-156 11h0m1-2h0m0-4h0m2 4h0m0-4h0m1 4h0m0-2h0m0 0h0m0 2h0m1-6h0m0-1h0m1 10h0m0 0h0m1-9h0m0 0h0m52 4h0m1-1h0m3 8h0m14-7h0m4-5h0m1 4h0m1 0h0m0 5h0m1-7h0m4 5h0m0 1h0m3 2h0m2-1h0m0-3h0m1 5h0m4-1h0m3-3h0m1 3h0m3-2h0m2 2h0m6-8h0m0 10h0m2-2h0m2-4h0m1-2h0m1 3h0m1 4h0m4-8h0m3 7h0m1-6h0m0 4h0m4-8h0m4 1h0m6 3h0m7 7h0m-147 2h0m12 10h0m48-4h0m0-2h0m8 6h0m0-5h0m2 0h0m7 1h0m4-5h0m6 1h0m0 7h0m0 0h0m2-4h0m3 2h0m2 1h0m0 1h0m1-7h0m4-2h0m0 9h0m1 2h0m1-2h0m5-7h0m1 9h0m1-4h0m1 2h0m0-8h0m1 7h0m0-5h0m3-3h0m0 0h0m4 7h0m3-7h0m1-1h0m0 9h0m1-4h0m2 4h0m6 2h0m2-9h0m8 5h0m0-4h0m14-2h0m11 5h0m-169 14h0m3-2h0m3-4h0m1-2h0m55 8h0m9-3h0m8 1h0m1-4h0m0 5h0m3-7h0m2 10h0m2-1h0m0-6h0m4 8h0m3-1h0m0-6h0m1 3h0m1-3h0m1 7h0m1-10h0m1 0h0m1 8h0m1-3h0m1 0h0m1-1h0m1 5h0m3-8h0m1-1h0m0 6h0m1 0h0m1-2h0m5-2h0m2 9h0m2-8h0m2 1h0m2 0h0m0 2h0m1 0h0m1-7h0m1 5h0m1 0h0m1 6h0m0 0h0m1 0h0m3-6h0m3-3h0m9 8h0m3-5h0m2-4h0m2 11h0m12-12h0m-163 19h0m6-2h0m0-1h0m1 7h0m2-5h0m7 5h0m8-1h0m1 1h0m5-2h0m18-4h0m1-2h0m3 2h0m6-4h0m11 10h0m4-4h0m7-6h0m6 5h0m2-2h0m1 7h0m9-5h0m5-3h0m0 1h0m1 6h0m2-1h0m6 1h0m3-3h0m1 2h0m5 2h0m9-9h0m1 5h0m1 0h0m13 3h0m-148 7h0m15 4h0m5-4h0m1 4h0m0-7h0m0 3h0m0 4h0m0 0h0m1 0h0m1 1h0m1-9h0m0 8h0m2-6h0m0 1h0m0 6h0m1-5h0m2 5h0m0-3h0m0-5h0m1 3h0m2 5h0m0-3h0m1-6h0m1 4h0m3 5h0m2-6h0m1-2h0m6 2h0m3-4h0m4 3h0m11 3h0m5 4h0m1-7h0m2 2h0m13 2h0m0-2h0m1-5h0m16 1h0m1 0h0m0 2h0m2 1h0m4 4h0m0-8h0m7 8h0m3-2h0m4-3h0m10 4h0m0-7h0m8 3h0m4 3h0m3 1h0m4-3h0m0 3h0m8 0h0m-165 15h0m3-1h0m0 2h0m4 0h0m8-1h0m1 1h0m4-1h0m1-9h0m0 1h0m2 4h0m0 5h0m2-11h0m4 2h0m1 10h0m8 0h0m1-3h0m3 1h0m2-10h0m3 4h0m3-1h0m1 5h0m1 4h0m2-12h0m6 10h0m8 0h0m7-2h0m3 1h0m1-5h0m1-4h0m1 7h0m5-4h0m4 1h0m3 2h0m3 0h0m3-6h0m0 10h0m9-5h0m1 0h0m0-2h0m6 6h0m6-3h0m7-5h0m4-1h0m2 5h0m20-1h0m2 2h0m1 4h0m2-10h0m7 5h0m31-4h0m-201 12h0m2 9h0m2-7h0m1-2h0m2 3h0m1 0h0m0-2h0m3 1h0m1 0h0m0 1h0m0 1h0m1-3h0m2 6h0m1-7h0m1 0h0m2 8h0m2-2h0m7-5h0m4 4h0m0-4h0m2-2h0m6 6h0m4-3h0m15-3h0m18 1h0m1 3h0m0 5h0m39-7h0m16 7h0m40-4h0m-211 19h0m2-2h0m6 2h0m2-1h0m48-9h0m32 4h0m2-4h0m1 5h0m0-5h0m1 4h0m0-1h0m1 1h0m0 3h0m2 0h0m1 1h0m2-4h0m1-4h0m1 6h0m3 0h0m0 3h0m1-3h0m2 1h0m2 0h0m1 0h0m0-1h0m1 2h0m0-1h0m0-2h0m4-2h0m2 1h0m23 0h0m-149 13h0m10-5h0m3-1h0m0 7h0m0-5h0m0 0h0m8 9h0m0-1h0m2-8h0m8 8h0m1-6h0m2 3h0m2 3h0m39 1h0m49-9h0m-130 13h0m0 5h0m0-4h0m2-3h0m0 1h0m5 0h0m5 7h0m4-3h0m0-4h0m4 8h0m5-6h0m4 4h0m0 2h0m3 0h0m0-4h0m1-2h0m0-2h0m1-1h0m2 8h0m6 0h0m0-6h0m3 3h0m5 2h0m23 3h0m105-11h0m2 4h0m-192 18h0m4-7h0m3 5h0m0 0h0m0 2h0m3-7h0m6 1h0m4-1h0m5-4h0m1 5h0m3-4h0m5 3h0m0 7h0m1-6h0m5 3h0m3-6h0m1 0h0m3 6h0m2-8h0m0 3h0m0-1h0m2 7h0m1-6h0m0 4h0m1 0h0m4-6h0m1 8h0m5 0h0m201-3h0m1 0h0m2 0h0m1-1h0m-275 19h0m2-5h0m2 1h0m0-1h0m0 4h0m1-3h0m1-2h0m0 1h0m3 3h0m2 0h0m0-8h0m4 0h0m0 2h0m4 2h0m1 0h0m0-2h0m1 1h0m1-2h0m1 2h0m2 3h0m1 2h0m1-6h0m0-3h0m1 2h0m2 6h0m9 3h0m3 0h0m1-6h0m0 2h0m4-1h0m2-5h0m0 10h0m2-11h0m1 9h0m0-10h0m0 9h0m0-1h0m3 4h0m9-9h0m1 8h0m1-7h0m1 0h0m2-1h0m0-1h0m3-2h0m0 6h0m-72 15h0m1-1h0m0-1h0m2-4h0m2 3h0m0 5h0m1-3h0m1-7h0m2 1h0m0 10h0m2-7h0m1 6h0m1-9h0m1-1h0m2 6h0m4-5h0m0 9h0m1-10h0m1 10h0m0-10h0m1 1h0m1 2h0m1-1h0m6 6h0m2 1h0m1-9h0m0 6h0m2 5h0m4-4h0m4-3h0m1 6h0m3-8h0m1 2h0m1 2h0m3-2h0m3-3h0m7 9h0m0 0h0m1-3h0m1-7h0m3 1h0m3 0h0m3 8h0m1 1h0m2-2h0m-83 14h0m0-5h0m3 4h0m2-5h0m2 4h0m0 2h0m1-2h0m2-9h0m1 9h0m0-9h0m1 8h0m1 2h0m2-9h0m1 3h0m0 6h0m1 2h0m1-10h0m2 3h0m3 0h0m0-2h0m2-1h0m1 6h0m1 4h0m1-1h0m0-6h0m7 0h0m2-4h0m1 1h0m1 4h0m1 6h0m4-2h0m1 2h0m2-2h0m0-5h0m5-5h0m1 10h0m1-7h0m0 8h0m2 0h0m0-10h0m0 1h0m1 5h0m1-7h0m1 9h0m0 0h0m1-8h0m5 7h0m0 2h0m0-6h0m4-1h0m0 8h0m1 0h0m3-5h0m0-3h0m3 2h0m4 1h0m2-1h0m1 5h0m302-7h0m23 5h0m39-1h0m-452 11h0m4 6h0m1-1h0m0-1h0m0-10h0m1 4h0m1 6h0m0-8h0m4 4h0m2 1h0m0 3h0m3 1h0m1-9h0m1 0h0m1 9h0m0-6h0m3 0h0m1 7h0m1-8h0m0 4h0m3-7h0m2 11h0m1-10h0m0 6h0m6 3h0m4-2h0m4-3h0m1-3h0m1-3h0m3 11h0m1-1h0m1-10h0m3 8h0m1 1h0m1 1h0m1-9h0m0 8h0m3 0h0m1-6h0m1 5h0m1-2h0m1-5h0m1 2h0m1 3h0m0-5h0m4 6h0m9-6h0m0 7h0m2-5h0m7 7h0m0-5h0m286 0h0m9 0h0m36 0h0m-425 17h0m2-2h0m8-6h0m1 4h0m0 4h0m2 1h0m0-9h0m9 5h0m0-4h0m3 7h0m1-4h0m2 2h0m2-8h0m2 8h0m0-7h0m2 2h0m0-2h0m1 0h0m2 9h0m2-10h0m2 3h0m0 4h0m0-7h0m1 4h0m1 4h0m1 3h0m1 1h0m5-3h0m2 1h0m0 0h0m0-9h0m1 11h0m1-5h0m1-6h0m3 4h0m0-1h0m3 5h0m2 1h0m1 1h0m2-8h0m2 2h0m1-4h0m1 3h0m5 2h0m2-1h0m0 4h0m3-9h0m1 7h0m4 0h0m1 4h0m0-3h0m1-6h0m0 9h0m3-7h0m1 6h0m1-1h0m4 1h0m1-6h0m1 8h0m1-3h0m118-3h0m21 5h0m120-5h0m7 1h0m69 2h0m-439 13h0m2-4h0m6 0h0m1 4h0m0-9h0m0 5h0m0-4h0m2 9h0m1 1h0m1 0h0m0-9h0m1 0h0m0 1h0m1 2h0m0 4h0m0-6h0m1 2h0m5-1h0m1-1h0m3 0h0m1-3h0m0 2h0m2 1h0m1 1h0m3 6h0m2-10h0m2 5h0m0 0h0m0 2h0m2-3h0m1 0h0m3 2h0m5-3h0m4 2h0m0-3h0m0 4h0m1 5h0m0-8h0m4 4h0m1-7h0m1 1h0m1-1h0m2 4h0m5-5h0m0 1h0m1 1h0m2 7h0m3 0h0m2 2h0m1-8h0m0 0h0m0 2h0m6 2h0m2 0h0m1-5h0m1 1h0m0 1h0m0 4h0m0-7h0m2 11h0m3-10h0m1-2h0m1 10h0m2-4h0m2-5h0m0-1h0m1 2h0m1 4h0m0-2h0m2 0h0m0 6h0m1-1h0m2 2h0m3-3h0m4 0h0m174-7h0m2 8h0m13 2h0m5-3h0m64 2h0m6 1h0m56-9h0m33 0h0m111 4h0m-574 17h0m0-9h0m2 4h0m1 1h0m4 1h0m2-4h0m0 4h0m1-6h0m0 10h0m6-6h0m3-4h0m2 3h0m0 6h0m0 1h0m0-6h0m2 5h0m0-7h0m0 5h0m1-3h0m1 2h0m0 0h0m0 1h0m0 0h0m2-7h0m4 7h0m0-8h0m1 8h0m1-1h0m1 3h0m0 0h0m1-3h0m1-4h0m2-1h0m1 8h0m5-10h0m1 4h0m2-5h0m1 6h0m0-3h0m0 3h0m0-3h0m0 2h0m5 1h0m2 5h0m0-11h0m1 2h0m0 3h0m2 4h0m0 0h0m1-7h0m1-2h0m1 3h0m6 0h0m0 0h0m1 5h0m1 3h0m2-11h0m3 5h0m1-5h0m2 2h0m1 2h0m2-2h0m1 4h0m0-4h0m1-2h0m0 12h0m2-2h0m0 2h0m6-3h0m2-6h0m2 7h0m0 0h0m2-1h0m3-5h0m1 6h0m0-4h0m1 4h0m0-6h0m1 1h0m0 2h0m0 2h0m1 2h0m2-8h0m3 5h0m1 4h0m1-2h0m3 1h0m101-2h0m146-7h0m119 6h0m94-7h0m-573 19h0m1-7h0m5 10h0m1-9h0m1 0h0m0 8h0m1-7h0m0 2h0m1-1h0m1 6h0m0-7h0m1 5h0m1 1h0m0 1h0m3-5h0m2 3h0m0-3h0m1-2h0m1 5h0m2-5h0m0 2h0m1-1h0m0-3h0m0 2h0m1 1h0m0 1h0m4 6h0m0-3h0m1 3h0m1-9h0m1 9h0m1-10h0m2 1h0m2-1h0m1 0h0m0 1h0m1 9h0m1-3h0m1 1h0m0 1h0m2-9h0m0 0h0m1 1h0m2 3h0m1 1h0m3 4h0m4 1h0m2-3h0m1-4h0m2-2h0m1 1h0m0 8h0m1 1h0m0-6h0m1-5h0m4 3h0m2-3h0m1 4h0m2 0h0m1 5h0m2-2h0m2-2h0m3 2h0m0-5h0m1 3h0m9 2h0m2-4h0m5 2h0m2 6h0m1-10h0m4-1h0m4 6h0m1-4h0m0-3h0m1 9h0m0-1h0m1-7h0m4 10h0m0-4h0m3 0h0m2 0h0m96-1h0m140 4h0m111 2h0m14-2h0m6-7h0m-482 12h0m0-1h0m1 3h0m3 2h0m2 0h0m1-3h0m1-1h0m4 1h0m1 4h0m0 1h0m2-8h0m4 10h0m2-1h0m2-10h0m2 10h0m0 0h0m1-8h0m1 1h0m5 0h0m2 6h0m0 2h0m0-10h0m0 1h0m3 1h0m1 7h0m1-4h0m2 5h0m8-2h0m0-5h0m4 5h0m0-5h0m2 0h0m3 4h0m1-1h0m2-6h0m5 10h0m1-7h0m2 4h0m5-3h0m1 1h0m1 4h0m2-2h0m8 2h0m1-7h0m0-1h0m1 3h0m1 1h0m1 6h0m3-8h0m2-2h0m1 0h0m1 8h0m0-7h0m1 7h0m1-8h0m1-1h0m5 6h0m0-4h0m0 4h0m3 5h0m0-1h0m0-3h0m1-4h0m0 3h0m1-7h0m3 10h0m0-1h0m0-5h0m3 0h0m0 0h0m2 3h0m1 2h0m2-4h0m3 3h0m2 2h0m1-4h0m81 5h0m27-2h0m241-4h0m13 3h0m-485 15h0m4-4h0m3 4h0m0-1h0m2-6h0m2-1h0m0 8h0m4-8h0m0 1h0m3 0h0m3 7h0m1-8h0m2 1h0m1 0h0m0-2h0m5 7h0m2-5h0m1 1h0m1 3h0m5-6h0m0-2h0m1 9h0m5 2h0m2-9h0m0 2h0m9 6h0m5-5h0m2-4h0m1 7h0m0-2h0m1 2h0m1 2h0m2-4h0m1-6h0m5 11h0m1-3h0m0 2h0m6-10h0m4 5h0m3 6h0m0-7h0m1 4h0m7 2h0m1-3h0m1 5h0m1-6h0m3 6h0m0-11h0m0 6h0m3-6h0m0 5h0m4-5h0m2 11h0m0-9h0m3 3h0m2-6h0m3 7h0m0 0h0m9-3h0m4 6h0m179-1h0m141 1h0m12-6h0m-461 13h0m3-4h0m6 11h0m1-6h0m1 1h0m1-3h0m2 3h0m6 4h0m4-1h0m3-7h0m1 9h0m2-1h0m0-10h0m2 3h0m3 8h0m6-3h0m3-7h0m4 0h0m1 1h0m3 6h0m0 0h0m4 2h0m4-3h0m1 1h0m0 2h0m5-10h0m2 3h0m0 7h0m2-7h0m0-2h0m1-1h0m2 1h0m3 8h0m1-6h0m3 0h0m2 6h0m0-3h0m7-2h0m1 6h0m2-3h0m0 3h0m2-2h0m1-8h0m1 6h0m3 0h0m4-3h0m2 2h0m1-6h0m3 2h0m1 6h0m0 4h0m1-11h0m0 9h0m4-2h0m2 0h0m1-7h0m2 7h0m1-7h0m4 3h0m8 6h0m2-5h0m0 4h0m0-3h0m1 3h0m3 0h0m0-4h0m2 4h0m111-6h0m4-2h0m61 7h0m23 0h0m35 0h0m2 3h0m4-4h0m73-6h0m-447 12h0m4 3h0m4-1h0m1 8h0m0-9h0m1 4h0m0 6h0m4-1h0m2-10h0m0 1h0m1 4h0m1-4h0m3 0h0m1 6h0m0 3h0m2-6h0m3 5h0m1-9h0m1 1h0m2 8h0m3-4h0m2 3h0m0-8h0m7 8h0m5-3h0m1-2h0m0-1h0m0 4h0m1 0h0m4-4h0m0 3h0m4 2h0m7-5h0m1 4h0m1 2h0m2 0h0m0-6h0m0 3h0m2-1h0m0 5h0m5-9h0m1 8h0m2-1h0m0 3h0m0-1h0m2 0h0m2-4h0m7 6h0m1-9h0m0 8h0m7-5h0m0 2h0m0-5h0m1 5h0m3-5h0m2 2h0m2-2h0m2 3h0m1-5h0m5 6h0m5 5h0m2-4h0m2 1h0m3-7h0m0 6h0m11 0h0m0 3h0m2-5h0m1-1h0m3 2h0m3-2h0m115 0h0m102 1h0m5 0h0m46-3h0m15 7h0m13-3h0m-433 9h0m0-2h0m6 1h0m2 3h0m0-4h0m7 10h0m0-10h0m1 4h0m5-6h0m0 2h0m1 0h0m2-1h0m3 9h0m1 2h0m3-12h0m5 9h0m1-7h0m5 1h0m1 4h0m3-6h0m2 10h0m3-3h0m5 1h0m18-6h0m16-3h0m0 10h0m3-4h0m0-2h0m3-2h0m2 4h0m3-5h0m1 4h0m1 0h0m0-2h0m1 6h0m3-3h0m2-3h0m1 6h0m0-1h0m4-2h0m4 1h0m2-2h0m2 5h0m1-1h0m1 2h0m1 0h0m4-4h0m1 3h0m1-9h0m1 6h0m1-7h0m0 4h0m1 1h0m0 7h0m1-10h0m2 9h0m2-8h0m3 1h0m2 8h0m5-1h0m77-2h0m128-4h0m12 0h0m16 2h0m1-5h0m16 5h0m2 1h0m-387 11h0m1-4h0m6 2h0m1 4h0m0 2h0m3-10h0m2 2h0m0-1h0m1 2h0m2 0h0m1 1h0m2 7h0m0-4h0m1-4h0m0-3h0m5 6h0m2-7h0m2 9h0m1-8h0m3 1h0m1 4h0m1 4h0m4 1h0m0-11h0m0 2h0m1 0h0m1 6h0m2-7h0m2 1h0m1-2h0m0 4h0m4-4h0m1 2h0m3 0h0m8 4h0m1 6h0m1-9h0m3 3h0m1 2h0m9 3h0m3-5h0m0 3h0m2 0h0m1-3h0m0 3h0m1-4h0m4 5h0m1-6h0m3-3h0m0 9h0m3 1h0m2-2h0m3-8h0m2 8h0m3-7h0m1 7h0m3 1h0m2-5h0m3 3h0m1-3h0m0 2h0m0-5h0m0 4h0m0-6h0m1 6h0m7 2h0m4-6h0m3-1h0m0 8h0m1 1h0m0-7h0m1 5h0m0-7h0m1 3h0m5 5h0m0-5h0m10 0h0m5 0h0m14-3h0m15 4h0m133-2h0m-306 12h0m0 1h0m5-3h0m2 3h0m1 2h0m0 4h0m7-7h0m1 1h0m2 2h0m3 5h0m3-8h0m8-1h0m1 2h0m2 2h0m7-4h0m1 3h0m1 0h0m0-3h0m5 8h0m0-1h0m5-8h0m0 3h0m6 8h0m1-5h0m0-5h0m4 4h0m1 2h0m1-3h0m3 2h0m1-1h0m2-4h0m2 5h0m0 3h0m4-4h0m7-5h0m1 7h0m2 1h0m2-5h0m1 4h0m2-4h0m5 2h0m6-5h0m1 1h0m0 0h0m0 2h0m3-1h0m1 3h0m1 4h0m2 2h0m2-9h0m2 8h0m1-2h0m1-3h0m7 1h0m1-6h0m1 0h0m11 1h0m-128 12h0m11 3h0m5-4h0m5 7h0m1-8h0m2 0h0m3 9h0m2 1h0m4-7h0m5 2h0m2-4h0m3 1h0m1 7h0m1-1h0m0-8h0m1 6h0m0 2h0m0 1h0m2-1h0m1-4h0m1 3h0m1-5h0m0-1h0m0 5h0m3 0h0m4-5h0m2 5h0m0-4h0m4 5h0m3 1h0m1 1h0m5-3h0m1-5h0m2 4h0m0-1h0m1 6h0m1-3h0m2 3h0m6-1h0m1 0h0m8-5h0m5-4h0m3 0h0m-64 12h0m1 2h0m14 3h0m5-2h0m3-2h0m325 10h0" stroke="#e89b2f"/><path d="M0 0m3261 1799h0m5-11h0m-38 19h0m6-5h0m24 14h0m47 0h0m-67 13h0m14 17h0m13-2h0m8 0h0m4-8h0m21 4h0m-1 10h0m-111 17h0m12 0h0m3 4h0m39-3h0m15-6h0m53 8h0m-113 10h0m3-7h0m24 11h0m102-3h0m2 1h0m-167 2h0m4 0h0m168 9h0m3 2h0m0 0h0m3-1h0m2-3h0m1 4h0m1 0h0m0-2h0m-209 11h0m4 2h0m82 0h0m1-6h0m7 6h0m10-2h0m6-3h0m11 5h0m1-2h0m2 2h0m7-2h0m2 2h0m2-2h0m3 1h0m1 1h0m63-8h0m2-2h0m3 4h0m3 3h0m1 2h0m0-6h0m16 9h0m3-3h0m-241 5h0m1 1h0m5 5h0m4 3h0m9 0h0m27-1h0m5 1h0m84-8h0m2-1h0m1-2h0m3 1h0m1 3h0m1-3h0m1 2h0m1 0h0m1 1h0m0 4h0m7 3h0m1-6h0m1-1h0m0 7h0m1-1h0m1 1h0m1-10h0m0 11h0m2-3h0m2-1h0m0 3h0m0-8h0m0 7h0m3 1h0m75-4h0m6-1h0m0 4h0m1 0h0m-270 13h0m4-1h0m3-7h0m2-2h0m3 10h0m1-2h0m2-7h0m5 0h0m7-1h0m4 0h0m5 8h0m1-5h0m21 0h0m2 2h0m4-4h0m0 7h0m1-7h0m4 5h0m0-1h0m7 1h0m3-6h0m2 9h0m7 0h0m91-9h0m2 1h0m0 0h0m1 6h0m1 1h0m6-6h0m1 5h0m1-2h0m1 3h0m0-9h0m1 6h0m1-2h0m1 4h0m0-4h0m1 4h0m0-3h0m1 7h0m0-7h0m1-4h0m1 7h0m0-3h0m5 3h0m54-7h0m10 0h0m1 6h0m1-4h0m-269 20h0m1 0h0m1-9h0m9 3h0m2 3h0m2-5h0m3-1h0m1 5h0m3-1h0m0 4h0m9-8h0m6 7h0m4-1h0m7-7h0m0 10h0m3-10h0m6 3h0m4 1h0m1-3h0m1 9h0m1-5h0m2-5h0m0 8h0m1 2h0m1-3h0m0-5h0m1 8h0m1-1h0m1 0h0m1-6h0m1 3h0m1-1h0m1-5h0m0 5h0m1 5h0m1-3h0m0 3h0m1-4h0m0-3h0m2-1h0m1 2h0m0 3h0m1-2h0m2-3h0m0 6h0m1 0h0m1-1h0m0-1h0m1-5h0m6 7h0m90-9h0m6 8h0m74-2h0m2 4h0m1-5h0m4-2h0m1 4h0m1 5h0m-276 7h0m4 2h0m0-2h0m4-2h0m4 1h0m3-4h0m2 3h0m2 4h0m4-6h0m1 1h0m12 7h0m9-8h0m15-1h0m2 1h0m8 0h0m3-1h0m0-2h0m1 7h0m1 3h0m1-3h0m1-2h0m2 1h0m2-3h0m1 2h0m1-1h0m0-2h0m1 10h0m2-3h0m0-6h0m2 3h0m0-2h0m2-4h0m2 3h0m10 0h0m173 2h0m5 1h0m2 0h0m2 5h0m0 0h0m87 1h0m2-9h0m28 8h0m0-5h0m4 6h0m46 0h0m-462 6h0m11-5h0m3 0h0m4 7h0m4 0h0m4 2h0m1-1h0m1-2h0m1 4h0m5-2h0m3 0h0m7-2h0m4 1h0m1 1h0m4-2h0m5 1h0m11-7h0m0 1h0m14 1h0m9 2h0m0-5h0m205 11h0m0-8h0m1 7h0m0-5h0m2 4h0m1 2h0m51-1h0m10-1h0m2 1h0m1-1h0m3-3h0m2 0h0m2 1h0m2 2h0m0 2h0m2-9h0m1 9h0m0-1h0m1-6h0m4-1h0m0 3h0m2 0h0m6-3h0m1 3h0m0 0h0m0 0h0m1-5h0m1 1h0m0 4h0m1 4h0m1-3h0m0 5h0m0-8h0m2 7h0m0 0h0m1 0h0m1-7h0m0 8h0m0-9h0m1 4h0m0-3h0m5 0h0m1 6h0m6-8h0m0 6h0m1 1h0m2-1h0m3 0h0m8 4h0m5-8h0m28 4h0m1-3h0m2 3h0m0 0h0m0 0h0m0 0h0m0 2h0m1-6h0m0 1h0m1-3h0m0 0h0m-433 13h0m7 0h0m9-1h0m10 0h0m19-1h0m117 3h0m153 4h0m1 3h0m12-5h0m3 4h0m0-5h0m0 0h0m1-4h0m0 0h0m3 1h0m2 6h0m1 1h0m0 0h0m2-2h0m1 0h0m1 3h0m0-9h0m0 4h0m3 4h0m0-3h0m0 3h0m2-4h0m3 7h0m0-3h0m0-5h0m0 4h0m1 2h0m0-6h0m1 6h0m0 2h0m0-9h0m1 3h0m1 1h0m1-5h0m0 10h0m2-8h0m2-3h0m1 4h0m1 4h0m0-1h0m1 1h0m0-7h0m0 6h0m1-4h0m0-1h0m1-2h0m0 7h0m0-8h0m1 8h0m2-8h0m1 2h0m0 5h0m0-1h0m1-5h0m0 7h0m1-5h0m0 2h0m2 3h0m0-1h0m0 1h0m2-7h0m0 3h0m3 0h0m0 0h0m0 0h0m1-4h0m0 6h0m0 3h0m3-2h0m1 4h0m2-8h0m1 2h0m2-3h0m1 3h0m0 2h0m1 5h0m0-11h0m3 7h0m0-3h0m1 6h0m1 0h0m1-9h0m2 0h0m3 5h0m1 4h0m2-11h0m0 0h0m4 7h0m5 5h0m0-5h0m2-4h0m-448 11h0m60 8h0m114 2h0m4-4h0m3 0h0m11 3h0m25 1h0m17-2h0m102-2h0m8 3h0m0-5h0m3-5h0m4 2h0m0 4h0m1-4h0m0 8h0m0-1h0m2-8h0m4 6h0m1-6h0m0 8h0m2 2h0m0-3h0m1-3h0m1-3h0m1 7h0m0-6h0m0 3h0m0-4h0m0-3h0m1 8h0m1-6h0m1 5h0m1 3h0m0-4h0m0 1h0m1-1h0m0-3h0m0-1h0m0 9h0m1-10h0m1 0h0m2 5h0m2-3h0m1 3h0m0 0h0m1 0h0m1-5h0m1 6h0m0 2h0m1-6h0m1 4h0m1-3h0m0-3h0m0 5h0m0-5h0m1 1h0m1-2h0m1 4h0m1-1h0m1-2h0m0 2h0m1 8h0m0-5h0m6-6h0m1 0h0m1 2h0m3 6h0m1-6h0m3 4h0m2-4h0m3 0h0m5 6h0m5 2h0m2-4h0m3 5h0m2-9h0m0 6h0m4 4h0m0-7h0m2-3h0m0 7h0m3-3h0m0-4h0m1-2h0m0 6h0m0-5h0m1 3h0m0-3h0m3 5h0m0-3h0m6 0h0m1 8h0m0-10h0m1 11h0m4-5h0m0-3h0m1 2h0m0 5h0m0-8h0m3 2h0m-467 14h0m39-2h0m16 4h0m13-3h0m2-5h0m4 10h0m9-1h0m11-8h0m89 2h0m9 3h0m11-2h0m6 4h0m2-2h0m2-3h0m2 2h0m1-4h0m3 9h0m10 0h0m4-3h0m4 2h0m9-8h0m2 9h0m0-9h0m6 10h0m27-5h0m2-4h0m2 4h0m14 2h0m1-9h0m2 5h0m22 4h0m6 3h0m6-4h0m12 3h0m2-1h0m0-10h0m2 4h0m8 7h0m0-4h0m1-1h0m0-5h0m1 8h0m0-6h0m1 0h0m2 5h0m0-3h0m0 3h0m2 0h0m1-6h0m1 8h0m0-9h0m2 11h0m0-5h0m1 4h0m1-4h0m0 1h0m0-7h0m1 0h0m1 8h0m0 1h0m1-3h0m2-6h0m0 9h0m1-7h0m0-2h0m5 1h0m1 6h0m3-7h0m3-1h0m3 5h0m7 3h0m10-7h0m11 2h0m11 0h0m4-2h0m6 7h0m2-5h0m1-1h0m0-1h0m0 3h0m0 5h0m2-8h0m1 7h0m1-5h0m1 5h0m0 3h0m1 1h0m2-3h0m0-4h0m1 4h0m0-6h0m0 4h0m0-3h0m1 0h0m1 7h0m0-5h0m1 5h0m0-9h0m1 0h0m0 5h0m0-5h0m1 3h0m2 4h0m1-6h0m1 4h0m0-4h0m1-1h0m1 6h0m0 4h0m3-6h0m2 5h0m2 1h0m0-9h0m2 5h0m1 3h0m-472 11h0m15 1h0m39-4h0m28 2h0m3-3h0m8-4h0m72 1h0m0 2h0m12 4h0m1-4h0m4 2h0m1 4h0m10-2h0m0-1h0m2 3h0m0-9h0m0-1h0m0 5h0m0 4h0m1 0h0m1 0h0m1 0h0m1-7h0m0 7h0m0-10h0m1 1h0m3 2h0m2 5h0m1-3h0m0 3h0m0-6h0m1 7h0m1-9h0m1 11h0m4-5h0m1-2h0m0 2h0m1-2h0m0 0h0m0 0h0m1 5h0m0-1h0m1-3h0m0 1h0m3 6h0m2-3h0m0 3h0m2-11h0m2 10h0m0-8h0m0 7h0m1-3h0m0 3h0m1-4h0m0 4h0m1-4h0m5 0h0m3-5h0m0 5h0m12-4h0m4 2h0m2 7h0m5-4h0m1 4h0m4-6h0m2 6h0m1 0h0m2-5h0m2 3h0m1-5h0m2 6h0m2 0h0m0-3h0m5-3h0m2-1h0m4-2h0m1 1h0m4 10h0m0-4h0m1 2h0m0 2h0m1-8h0m1-2h0m2 3h0m7 1h0m3 1h0m3-1h0m1-1h0m3-3h0m6 6h0m2-2h0m2-3h0m0-1h0m2 9h0m1 1h0m4-5h0m2-7h0m0 9h0m2 0h0m0-7h0m2 6h0m1-2h0m0 4h0m1-8h0m4 2h0m2 1h0m0-5h0m2 2h0m1 4h0m0-1h0m2-4h0m0 3h0m2-4h0m2 3h0m1 9h0m0-10h0m2 7h0m1-7h0m3-1h0m1 4h0m2 6h0m5-1h0m2-10h0m2 3h0m0-1h0m17 1h0m44-3h0m10 3h0m0 4h0m2-5h0m1 4h0m3-2h0m0 5h0m1-8h0m3 11h0m3-5h0m0 3h0m2-4h0m1-5h0m0 0h0m0 8h0m1 2h0m0-7h0m0 4h0m1 3h0m2-2h0m0 0h0m0-6h0m1 2h0m2 7h0m0-2h0m1-9h0m1 1h0m2 8h0m2-9h0m1 1h0m1 7h0m3-2h0m83 5h0m0-3h0m0 2h0m1-2h0m1 0h0m0-1h0m0 1h0m1 1h0m0 1h0m0-1h0m1-5h0m0 4h0m1-5h0m0 2h0m0-2h0m1 3h0m2-2h0m0-1h0m-579 17h0m8-8h0m13 9h0m12-2h0m11-3h0m14-5h0m10 2h0m97 0h0m7 0h0m0 10h0m5-11h0m11 3h0m3-2h0m1 7h0m0 2h0m3-3h0m1 1h0m1-4h0m1-2h0m0 7h0m2 2h0m4-3h0m0-3h0m1 5h0m2-10h0m1 4h0m0 6h0m0-6h0m1 4h0m0-1h0m1 2h0m0-10h0m2 5h0m0 2h0m0 1h0m3-7h0m0 8h0m1 1h0m0-4h0m1-6h0m0 11h0m1-11h0m0 8h0m0-1h0m1 0h0m1-2h0m0 4h0m1-3h0m0-1h0m0-4h0m1 8h0m1-2h0m1 2h0m0-8h0m0 1h0m1 9h0m2 1h0m0-11h0m2 10h0m1 0h0m1-9h0m0 4h0m1 2h0m0-1h0m1-3h0m1 2h0m2-3h0m2 5h0m0 2h0m1-7h0m1 9h0m3-4h0m1-5h0m0-3h0m2 8h0m3 1h0m4-7h0m3 9h0m1-5h0m8-1h0m5 0h0m3 3h0m9-7h0m0 9h0m3-4h0m1 3h0m1-5h0m3-1h0m4 3h0m3 1h0m4 0h0m3 2h0m2 3h0m3-1h0m3-1h0m3-7h0m0-1h0m1 9h0m1-3h0m0-4h0m0 2h0m0 6h0m1-4h0m0 2h0m4-3h0m0 2h0m2-3h0m0 1h0m0 1h0m2 1h0m0 1h0m1-6h0m0 1h0m2 4h0m1 2h0m0-8h0m2 3h0m0-1h0m1-4h0m2 10h0m3-10h0m0 9h0m0 0h0m1-4h0m2 1h0m0 3h0m0-2h0m1-5h0m0 7h0m0-5h0m1 2h0m0 3h0m2 2h0m3-5h0m1 2h0m1-3h0m0-2h0m1 0h0m0 6h0m2-2h0m1-5h0m2 4h0m0 5h0m3 0h0m1-1h0m2-4h0m0-5h0m2 5h0m6 2h0m3 0h0m0-8h0m9 2h0m78-1h0m0 5h0m6-3h0m2 6h0m0-7h0m1 6h0m0-4h0m0-1h0m1 4h0m0-5h0m1 9h0m0-3h0m0-8h0m1 10h0m0 0h0m0-5h0m0-2h0m0 3h0m1-4h0m0 7h0m0-7h0m0-3h0m1 2h0m1 6h0m0-7h0m1 0h0m1 1h0m0 7h0m1-7h0m3 7h0m1 2h0m0 1h0m2-2h0m1-3h0m2 1h0m1-7h0m1-1h0m82 3h0m1-1h0m1-2h0m0 1h0m0-1h0m-517 14h0m15 2h0m12 5h0m12 3h0m3-4h0m3-1h0m9-5h0m80 1h0m10 3h0m8-5h0m1 6h0m1 1h0m2-4h0m0-4h0m1 1h0m2-1h0m3 9h0m1-9h0m2 1h0m2 6h0m1-3h0m1 0h0m0-3h0m1 7h0m2-4h0m0 1h0m3 3h0m0 3h0m0-2h0m2-4h0m1 0h0m1 3h0m0 1h0m2-5h0m2 4h0m0-1h0m2 0h0m0 2h0m3-9h0m2 9h0m1-1h0m13-2h0m8-3h0m6-1h0m3 0h0m4 1h0m3 1h0m8-4h0m9 9h0m0-6h0m9 3h0m0-2h0m0 1h0m7 1h0m0 4h0m2-3h0m3 0h0m1 4h0m0-2h0m3-6h0m0 1h0m1 5h0m0-4h0m1 6h0m0 1h0m0 0h0m1-1h0m1-9h0m2 3h0m0 5h0m2 1h0m1-5h0m1-3h0m0 5h0m1-4h0m2-2h0m0-1h0m0-1h0m1 3h0m0 6h0m1-5h0m0 0h0m2-3h0m2 8h0m0 3h0m2-3h0m4-8h0m5 10h0m2-10h0m3 2h0m0 5h0m0-6h0m0-1h0m1 8h0m12 1h0m79-5h0m6-1h0m2 8h0m3-10h0m2 1h0m3 5h0m2 3h0m0-8h0m0-2h0m0 2h0m1 1h0m1-3h0m2 3h0m0-4h0m0 1h0m1 3h0m1 1h0m1 3h0m0-7h0m0 2h0m0 9h0m2-8h0m3-1h0m1 7h0m1-6h0m18-3h0m-498 17h0m5 2h0m24 3h0m42 0h0m3-10h0m38 8h0m68-7h0m10 8h0m0-6h0m5-4h0m13 6h0m3 1h0m2-1h0m2 4h0m0-9h0m2 8h0m8-6h0m1 2h0m3 1h0m3 1h0m5-1h0m2-6h0m3 10h0m4-4h0m2 1h0m4 4h0m6-6h0m5 6h0m2 0h0m12-10h0m25 2h0m10 4h0m1 3h0m0-8h0m3-1h0m1 3h0m0 3h0m1-2h0m0-3h0m3 0h0m0 8h0m2-9h0m0-1h0m4 2h0m3 2h0m1-1h0m1 3h0m1-3h0m3 4h0m1 4h0m1-11h0m2 10h0m0 1h0m1-3h0m0-4h0m0-3h0m0 7h0m0-2h0m1 3h0m1-4h0m0 1h0m1-1h0m1 5h0m1-5h0m0-2h0m1 8h0m0 1h0m2-7h0m0 5h0m3 0h0m1-3h0m7-1h0m1 0h0m1 4h0m1-4h0m4-4h0m2 1h0m1 9h0m71-6h0m13-5h0m3 0h0m0 10h0m0 0h0m3-9h0m0-2h0m3 0h0m1 8h0m0-6h0m2 3h0m1 4h0m0 2h0m1-2h0m0-1h0m2 1h0m3-8h0m1 11h0m0-4h0m1-6h0m0 6h0m1-4h0m1 6h0m3-3h0m0 2h0m1-8h0m0 8h0m1-1h0m0-1h0m0-2h0m0 4h0m1-8h0m1 5h0m5 2h0m-483 5h0m7 10h0m10 1h0m20-9h0m0 2h0m17-1h0m1 1h0m1 6h0m35-6h0m9 5h0m74-7h0m37 1h0m12 4h0m4 0h0m1 4h0m0-2h0m4-8h0m3 8h0m2 0h0m1-4h0m3 1h0m1-2h0m0-1h0m2 2h0m1 5h0m2-7h0m0 3h0m0-2h0m1-2h0m1-2h0m2 11h0m0-2h0m3 1h0m5 1h0m3-6h0m2-3h0m1 3h0m8 6h0m6-2h0m7 0h0m1-1h0m0-1h0m2 0h0m3 4h0m0-3h0m3-3h0m7 5h0m7-10h0m0 0h0m2 3h0m0 6h0m3 2h0m2-3h0m1 2h0m2-5h0m1 0h0m2-1h0m2-3h0m3 0h0m4 6h0m0-5h0m1 6h0m2-8h0m0 9h0m3-9h0m0-1h0m1 1h0m1 0h0m0 4h0m0 0h0m1 4h0m3-3h0m1-3h0m0 2h0m0-5h0m1 3h0m3 8h0m2-5h0m2 2h0m1-6h0m0 9h0m0-5h0m0 5h0m0-3h0m2-1h0m2 1h0m1-1h0m0-2h0m3 5h0m0-4h0m1 2h0m8-5h0m1 7h0m3-7h0m1 8h0m45-1h0m20-2h0m0 3h0m3-1h0m2-2h0m1-3h0m1 7h0m2-3h0m1-7h0m0 5h0m0 5h0m2-4h0m2 3h0m0-9h0m1 7h0m0 3h0m1-5h0m2-1h0m1-1h0m1-3h0m1 4h0m1-2h0m1 0h0m1-2h0m2 9h0m1-9h0m0 2h0m2-3h0m4 11h0m1-12h0m2 8h0m0-6h0m2 3h0m1-2h0m-450 14h0m12 7h0m6-3h0m44-1h0m11 0h0m13 3h0m5-10h0m0 6h0m6-5h0m8 8h0m5 0h0m73 0h0m4-4h0m0 6h0m4-11h0m1 1h0m15 8h0m1-1h0m1-3h0m0-2h0m2 5h0m0 3h0m0-3h0m0-4h0m1-3h0m1 9h0m0-4h0m0 1h0m1-5h0m1-1h0m0 1h0m0 6h0m1 3h0m1-1h0m0-10h0m2 0h0m4 9h0m4-4h0m0-3h0m3-1h0m2 7h0m4-4h0m1 3h0m7-1h0m0 0h0m3 1h0m1 2h0m2-6h0m1 4h0m1 4h0m0-4h0m2 0h0m1-2h0m3 0h0m5-3h0m2 2h0m0 4h0m0 2h0m3-3h0m0 0h0m5-2h0m0 3h0m7-2h0m5-4h0m5-1h0m2-1h0m1 5h0m4-3h0m2-2h0m3 2h0m8-1h0m6-1h0m0 1h0m2-1h0m6-1h0m1 11h0m0-7h0m1 3h0m9 1h0m0 0h0m0 1h0m0 1h0m1-1h0m0-8h0m1 5h0m0 1h0m1-1h0m0 3h0m0-4h0m1 5h0m2 1h0m1-7h0m1 1h0m0 6h0m0 0h0m0-3h0m1-2h0m2-1h0m0 4h0m0-1h0m2-2h0m1-3h0m1 2h0m17 4h0m6-3h0m16 3h0m9 1h0m7-1h0m2-4h0m2 7h0m0-4h0m2 0h0m0-5h0m1 9h0m1-4h0m0 4h0m1-5h0m1-4h0m0 5h0m1-4h0m1 2h0m1 5h0m4-2h0m0-2h0m2-4h0m0-3h0m0 9h0m2-3h0m1 0h0m0-1h0m1 1h0m1-3h0m1 1h0m1 5h0m3 2h0m2-9h0m1 9h0m4-3h0m4-6h0m-456 19h0m2-2h0m29-1h0m25-4h0m2 8h0m23-1h0m17-2h0m7-2h0m59 7h0m3-1h0m3-5h0m3 5h0m1-9h0m6 9h0m27-2h0m3-6h0m0 3h0m1 0h0m0 4h0m1-9h0m4 1h0m0 2h0m1 4h0m0 3h0m1-5h0m1-2h0m4 2h0m1-3h0m1-2h0m1 8h0m1-8h0m0 10h0m0-8h0m1 0h0m0 7h0m3-8h0m3 1h0m0 8h0m3-5h0m2 3h0m3-7h0m3 8h0m1-6h0m2 7h0m6-5h0m0 1h0m1 1h0m3-1h0m1 0h0m0-5h0m3 1h0m0 6h0m1-6h0m3-2h0m1 3h0m0 5h0m3-3h0m5 4h0m1-6h0m7 3h0m0-2h0m5 1h0m5-1h0m15-4h0m2 1h0m8-1h0m8 2h0m4 5h0m7 1h0m1-3h0m1 0h0m2 0h0m2-2h0m0-3h0m1 2h0m0 3h0m1 1h0m1 1h0m0-2h0m1-2h0m1-2h0m0 2h0m1 1h0m0-4h0m0 11h0m1-5h0m1-3h0m1 1h0m2-4h0m0 2h0m2 0h0m0 4h0m0-5h0m2 6h0m1-5h0m1 3h0m0-3h0m1-3h0m0 4h0m3 6h0m0-4h0m2-6h0m1 7h0m2 5h0m1-1h0m1 0h0m1-2h0m3 0h0m0 3h0m1-1h0m0-1h0m1 1h0m0-4h0m0 3h0m3-7h0m0 3h0m1 2h0m2 0h0m1 0h0m0-3h0m5 5h0m0-4h0m1 5h0m0-1h0m2 0h0m1 1h0m1 1h0m1-3h0m1 2h0m10-1h0m0 0h0m1 2h0m0 0h0m1-5h0m0-2h0m1 1h0m1 4h0m0-5h0m3 3h0m0 2h0m0-7h0m2 4h0m0 3h0m0-7h0m1 7h0m2 0h0m0 1h0m1-4h0m1-5h0m0 2h0m1 3h0m2-4h0m1 7h0m2-9h0m1 6h0m1-5h0m1 6h0m2-2h0m0-4h0m0 1h0m1 9h0m3-10h0m2 1h0m0 3h0m2-6h0m1 2h0m1 3h0m2 2h0m0 0h0m-440 8h0m5 0h0m6 3h0m8-2h0m7 2h0m1 4h0m14-9h0m4-1h0m48 10h0m10 2h0m4 0h0m7-2h0m8 2h0m0-7h0m20 4h0m6 2h0m2-7h0m0 1h0m1 5h0m1-2h0m0-3h0m1 3h0m1-6h0m0 8h0m3-6h0m2-4h0m4 2h0m0 2h0m1 4h0m0 4h0m4-5h0m2 2h0m1 2h0m0-6h0m0 1h0m5 1h0m1 0h0m1 4h0m0-1h0m2-1h0m0 1h0m1-5h0m2 1h0m0 2h0m1 0h0m0 1h0m0-1h0m1 2h0m0-7h0m1 8h0m0-6h0m2 1h0m10-2h0m6 1h0m0-4h0m2 2h0m4-3h0m12 10h0m0-9h0m1 0h0m0 0h0m5-1h0m3 3h0m17 2h0m8-2h0m14 4h0m3 2h0m71-6h0m1 3h0m4 6h0m2-8h0m1 0h0m0 1h0m0 2h0m1 4h0m1-8h0m0 1h0m2 0h0m2 1h0m1-1h0m3 1h0m0-5h0m1 5h0m1-1h0m1 2h0m1 2h0m1-5h0m2 5h0m3-7h0m1 1h0m1 5h0m1 4h0m1-7h0m2 7h0m1-10h0m2 5h0m1 4h0m0-3h0m1-5h0m1 6h0m1-4h0m0-1h0m1 5h0m2-2h0m0 3h0m0-5h0m0-2h0m1 6h0m3-4h0m0-1h0m2 9h0m0-11h0m1 6h0m0 3h0m0-3h0m1-3h0m1 5h0m0-4h0m2-4h0m0 2h0m1 2h0m1-5h0m0 1h0m2 5h0m2-3h0m1 1h0m1 5h0m0-6h0m0 6h0m0-3h0m1-2h0m1 2h0m0 0h0m2-2h0m0 2h0m1 4h0m0-3h0m1 4h0m2-3h0m4-6h0m1 1h0m5-2h0m-410 11h0m17 7h0m3-6h0m14 6h0m54 2h0m37-8h0m3-1h0m0 7h0m4 3h0m0-7h0m1 3h0m0 1h0m1 3h0m2-1h0m1 2h0m0-8h0m1 7h0m6-1h0m1-5h0m1-2h0m1 3h0m2-1h0m1 2h0m1-4h0m0 6h0m0-6h0m0 2h0m3 3h0m1 1h0m0-7h0m1 2h0m0 0h0m2 5h0m1-1h0m2 1h0m2-7h0m1 9h0m1-3h0m0 1h0m1 4h0m0-8h0m1-1h0m0-1h0m1 4h0m2-4h0m1 7h0m0-4h0m3-1h0m63-2h0m109-1h0m1 5h0m14-2h0m4 1h0m4-5h0m5 1h0m1 0h0m8 1h0m16 2h0m3-1h0m-338 16h0m18 4h0m32-7h0m5 4h0m0 1h0m14-3h0m8-5h0m5 0h0m5 10h0m15-4h0m1-6h0m0 1h0m3 9h0m0-10h0m3 6h0m5-6h0m2 3h0m19 2h0m165-3h0m5 2h0m-345 13h0m14-4h0m8 8h0m6-5h0m25 2h0m3-5h0m76 5h0m10-7h0m229 20h0m1 3h0m1 0h0m0 6h0m0-5h0m0 1h0m1 1h0m0 2h0m1-2h0m2 6h0m1 9h0m0 3h0m0-1h0m1 0h0m0-3h0m0 3h0m0-5h0m1 5h0m0-3h0m1 7h0m0 0h0m0 0h0m1 0h0m0 1h0m1-7h0m-4 7h0m2 1h0m1 2h0" stroke="#8a42b9"/></g><g transform="scale(.5)" fill="none" stroke-width="2.7" stroke-linecap="round"><path d="M0 0m3806 1703h0m5 1h0m1-5h0m3-3h0m2 7h0m1-2h0m3-1h0m1 4h0m-30 3h0m3 6h0m5-1h0m0 1h0m1 1h0m0-2h0m1 2h0m0-2h0m4-7h0m1-1h0m0 10h0m0-7h0m0 2h0m1 3h0m0-3h0m0 4h0m0 0h0m1-3h0m1-2h0m0-1h0m1 7h0m0-1h0m0 1h0m0-10h0m1 12h0m0-5h0m1-1h0m1 3h0m1-6h0m0 4h0m0-5h0m1 6h0m0 0h0m1 3h0m0-2h0m0-6h0m1-3h0m0 9h0m0 3h0m2-4h0m0-4h0m3 0h0m0-2h0m1 9h0m4-5h0m1 5h0m1-5h0m6 0h0m-48 17h0m2-8h0m2 6h0m2 1h0m3-1h0m0-4h0m1-4h0m1 10h0m0-3h0m1-4h0m0 8h0m2-2h0m1-2h0m0-2h0m0-1h0m0-1h0m1 6h0m0-1h0m0-1h0m0-2h0m1-1h0m0-2h0m0 4h0m0-3h0m0 5h0m0 2h0m1-7h0m0 0h0m0 6h0m1-9h0m0 9h0m0-10h0m0 3h0m2 7h0m0-1h0m0 2h0m0-2h0m0-1h0m0 0h0m1 3h0m0-7h0m0 1h0m0 2h0m1-4h0m0 3h0m1 1h0m1-4h0m1 7h0m1-1h0m0-4h0m1-3h0m1-2h0m1 1h0m1 6h0m0 5h0m1-9h0m0 5h0m0 1h0m1-2h0m1-4h0m0 6h0m0-9h0m1 9h0m0-8h0m1 7h0m1-1h0m0 0h0m2 1h0m1 1h0m0-2h0m0-1h0m1 0h0m2 4h0m4-3h0m3 2h0m-59 12h0m2 1h0m6-10h0m1 11h0m1 1h0m3-1h0m0 0h0m2-4h0m0 3h0m1 0h0m0-4h0m1 6h0m0-9h0m2 4h0m1 3h0m1-5h0m0-2h0m1-1h0m0 2h0m0-3h0m0 3h0m1-1h0m0 0h0m0-3h0m0 7h0m0 2h0m1-5h0m0-4h0m2 9h0m0-1h0m0 4h0m1-8h0m1 7h0m0-10h0m0 9h0m0-4h0m1 2h0m0 1h0m1-9h0m1 0h0m1 4h0m0 2h0m0-4h0m0-1h0m2 0h0m0 5h0m1-4h0m1 4h0m0-5h0m1 2h0m1 0h0m0 2h0m2 2h0m2 0h0m1-1h0m0-5h0m6 0h0m1 0h0m1 9h0m1 1h0m2 1h0m1-4h0m2 2h0m0-9h0m4 10h0m0 0h0m-57 7h0m1 1h0m0 3h0m6-8h0m0 9h0m0 0h0m0-2h0m1-7h0m1 4h0m0-3h0m0 9h0m1-1h0m0 1h0m2-2h0m0-5h0m0 2h0m0 1h0m1 3h0m0-2h0m1 2h0m0-9h0m0-2h0m0 2h0m1 7h0m0-7h0m0-1h0m1 7h0m0-5h0m1 2h0m1-1h0m0-4h0m0 12h0m0-8h0m0 0h0m1-3h0m0 1h0m1 1h0m0-1h0m1 0h0m1 4h0m1-5h0m0 3h0m0-1h0m0 0h0m2 3h0m1 1h0m1 4h0m3-4h0m2-6h0m19 0h0m2 2h0m1 2h0m0 2h0m1 1h0m0 3h0m0-7h0m1 5h0m0-2h0m2-4h0m3 1h0m0 1h0m6 0h0m-69 14h0m2 0h0m0 3h0m2-2h0m1 2h0m1 2h0m1-4h0m1 1h0m0 2h0m1-10h0m0 7h0m0-4h0m1-4h0m1 8h0m0-1h0m0-4h0m0 9h0m1-4h0m0-6h0m0 3h0m0 0h0m0 5h0m1-9h0m1 10h0m0-7h0m0 2h0m2 5h0m3-7h0m1-2h0m0-2h0m1 3h0m0 3h0m0-6h0m0 5h0m1-4h0m0 1h0m2 1h0m1 0h0m9-3h0m26 8h0m1-5h0m1 0h0m1 2h0m1 2h0m2 2h0m1-1h0m2-5h0m-80 11h0m8-1h0m0 3h0m1 4h0m2-4h0m0 1h0m1 4h0m2-2h0m0 2h0m1 0h0m0-5h0m0 5h0m1-2h0m2 0h0m1 2h0m1-7h0m0 10h0m0-7h0m0-4h0m1 3h0m0 7h0m1-2h0m1-7h0m0 0h0m0 1h0m0 1h0m0 8h0m0-10h0m1 2h0m3 4h0m0-1h0m4-2h0m0-3h0m63 5h0m7-4h0m-95 11h0m3 2h0m3 7h0m0-4h0m0-2h0m0 3h0m0-1h0m0-2h0m0-4h0m1 7h0m0 0h0m1-7h0m0 10h0m0-7h0m1 4h0m0 2h0m0-4h0m1-2h0m0 1h0m0-5h0m0 9h0m0 2h0m1-7h0m1 3h0m0-3h0m0 7h0m0-10h0m0 6h0m0 1h0m0-6h0m1 7h0m0-5h0m2 7h0m2-4h0m2-5h0m0 7h0m1-8h0m14 10h0m3-7h0m34-2h0m17 5h0m2-3h0m1 6h0m1 1h0m1 0h0m0-7h0m1 7h0m3-2h0m0 2h0m1-1h0m1-3h0m0 3h0m0 2h0m1-12h0m1 7h0m0 3h0m2 1h0m0-5h0m1 3h0m2-4h0m0 4h0m2-2h0m18-4h0m5 2h0m10 6h0m6-8h0m1 8h0m-146 12h0m0-8h0m0 7h0m0-5h0m1 0h0m1-2h0m1 3h0m0 6h0m1-7h0m1-1h0m0 5h0m0-4h0m0 1h0m1 1h0m0-1h0m0 1h0m0 2h0m1-2h0m1-3h0m2 0h0m0-1h0m0-1h0m2 10h0m1-6h0m1-6h0m0 3h0m16 2h0m2 6h0m4-4h0m4-5h0m4-2h0m0 7h0m0-6h0m3 10h0m2-7h0m1 3h0m3 2h0m3 2h0m4-7h0m2 5h0m6-8h0m5 7h0m12 1h0m1 3h0m0-2h0m5 1h0m1 0h0m3-8h0m1 0h0m0 7h0m1-8h0m0 6h0m0-7h0m4 1h0m0 5h0m1-6h0m1 6h0m8 3h0m2-5h0m2 6h0m1 1h0m4-4h0m8 2h0m21-9h0m9 5h0m-161 12h0m2 4h0m2-5h0m1 1h0m0-4h0m1-2h0m0 8h0m0-8h0m0 7h0m1-6h0m1 9h0m0-4h0m0-3h0m0 2h0m1 5h0m1-9h0m0 2h0m0 5h0m0-6h0m0-2h0m1 5h0m0 2h0m1-5h0m0 6h0m0-2h0m0 3h0m3-1h0m4-8h0m5 6h0m18-3h0m5 0h0m3 2h0m11-4h0m2 3h0m2 5h0m1-3h0m3 0h0m1-1h0m1 3h0m2-7h0m4 11h0m3-9h0m1 7h0m1-6h0m2 5h0m0-7h0m1 10h0m0-4h0m4 0h0m1 2h0m3-7h0m1 8h0m1-4h0m1-4h0m1 4h0m1-1h0m3-3h0m2 7h0m0-7h0m5-2h0m3 9h0m0-5h0m5 6h0m0-2h0m1 2h0m1-4h0m4 1h0m2-2h0m1 2h0m1-3h0m1 0h0m18-4h0m4 5h0m2-1h0m-149 16h0m1-2h0m0-4h0m1-3h0m1 7h0m0-4h0m1 4h0m0-2h0m0 0h0m0 2h0m1-6h0m0 0h0m0-1h0m1 10h0m0 0h0m1-9h0m0 0h0m1 8h0m1-3h0m1 1h0m30-2h0m5-1h0m14 1h0m1-1h0m3 8h0m7-5h0m0-4h0m2 9h0m4-2h0m1-5h0m2 2h0m0-5h0m1 3h0m1-3h0m0-2h0m0 1h0m1 3h0m1 0h0m1-2h0m1-1h0m0 9h0m1 0h0m1-4h0m1 1h0m0 1h0m1-8h0m0 7h0m2 3h0m0-2h0m2-2h0m1 1h0m0 4h0m1 0h0m3 1h0m0-2h0m3-3h0m1 3h0m2-6h0m1 1h0m1 7h0m3-1h0m4-9h0m0 10h0m4-6h0m1-2h0m1 3h0m1 4h0m0-9h0m4 1h0m1 1h0m2 6h0m0-2h0m1-4h0m0 4h0m0-3h0m7 1h0m1-5h0m2 10h0m4-7h0m7 7h0m-153 3h0m6-1h0m4-1h0m8 11h0m35-8h0m11 3h0m1-2h0m1 3h0m0 4h0m0-6h0m8 6h0m0 0h0m0-5h0m2 0h0m4 5h0m3-4h0m0 0h0m1-2h0m3-3h0m1 2h0m1 0h0m2-3h0m1 2h0m1 0h0m0 7h0m1-2h0m0-6h0m1 4h0m2 0h0m1 2h0m2 1h0m0 1h0m1 2h0m0-10h0m3-1h0m1 0h0m0 9h0m1-4h0m0 6h0m1-2h0m0-2h0m2-3h0m1-4h0m2 2h0m1 9h0m1-11h0m0 7h0m1 2h0m0-8h0m1 7h0m0-5h0m3-3h0m1 5h0m1-2h0m1 1h0m1-2h0m0 3h0m0 2h0m4-8h0m0 9h0m1-4h0m2 4h0m6 2h0m2 0h0m0-9h0m3 6h0m5-5h0m1 1h0m4 0h0m9-3h0m11 5h0m-169 14h0m3-2h0m3-4h0m0 10h0m1-12h0m33 7h0m8-3h0m14 4h0m7-4h0m0 1h0m6-5h0m0 2h0m1 6h0m3-2h0m1-4h0m1 8h0m1 0h0m1-10h0m2 10h0m2-1h0m0-6h0m2 7h0m0-8h0m2 9h0m1 0h0m2-7h0m0 3h0m1 0h0m0-1h0m0-6h0m1 4h0m0 1h0m1 6h0m0-8h0m1 3h0m0-5h0m1 0h0m1 8h0m1-3h0m1 0h0m1 5h0m0-6h0m0 0h0m1 5h0m1-4h0m2-4h0m1 5h0m0-6h0m1 9h0m0-3h0m1-2h0m0-4h0m0 3h0m0 2h0m4 5h0m1-8h0m2-1h0m1 4h0m1-2h0m0 5h0m2-4h0m2 0h0m0 2h0m1 0h0m1-7h0m0 9h0m2-4h0m1 6h0m0 0h0m1 0h0m0-2h0m0 1h0m2-6h0m1 1h0m3-3h0m1 8h0m2-2h0m1-4h0m3 4h0m2 2h0m2-3h0m1-2h0m1 3h0m1-7h0m2 11h0m16-3h0m-173 7h0m6 3h0m6-2h0m0-1h0m1 7h0m1-10h0m1 5h0m7 5h0m6 0h0m4-10h0m4 8h0m10-8h0m4 4h0m4 0h0m1-2h0m3 2h0m15 6h0m2 0h0m10-5h0m1-2h0m0-3h0m3 2h0m3 3h0m3 5h0m3-10h0m1 6h0m2 0h0m1-4h0m1-1h0m1 0h0m0 4h0m2-5h0m2 0h0m1 2h0m0 1h0m2 5h0m1 0h0m0-6h0m5-3h0m2 3h0m1 6h0m1-3h0m0 1h0m0-2h0m1 4h0m2-2h0m1 3h0m3-3h0m1-2h0m1 4h0m0-5h0m2 5h0m4-7h0m1 3h0m0 2h0m1 0h0m2-4h0m7 0h0m0 6h0m4 1h0m2-4h0m2 5h0m3-8h0m-155 14h0m5-1h0m5 1h0m5 4h0m3 2h0m2-6h0m1 4h0m0-7h0m0 3h0m0 4h0m0 0h0m1-6h0m0 6h0m1-6h0m0 7h0m0 0h0m1-1h0m1-5h0m0-2h0m1 9h0m0-8h0m0 1h0m0 6h0m1-7h0m0 2h0m2 2h0m0 5h0m0-10h0m1 9h0m1 1h0m0-3h0m1 1h0m0 0h0m0-2h0m0 1h0m0-2h0m1-6h0m2 3h0m0 4h0m2-4h0m0 6h0m0-7h0m2-3h0m0 4h0m1-2h0m5 2h0m1 0h0m2 6h0m1-10h0m1 9h0m3-6h0m7 9h0m6-2h0m2-2h0m2-5h0m2 2h0m4-3h0m1 7h0m4-3h0m1 4h0m2-1h0m1-4h0m1-3h0m12 3h0m0 3h0m2-2h0m1-2h0m1-3h0m1 0h0m0 2h0m2 1h0m1 4h0m1-7h0m2 7h0m0-8h0m1 1h0m3 1h0m1-1h0m2 3h0m0 4h0m2 0h0m3-6h0m2 1h0m0 6h0m1-2h0m2 1h0m4-6h0m3 5h0m0-7h0m1 1h0m3-1h0m4 3h0m4 3h0m2-3h0m1 4h0m4-3h0m0 3h0m9 1h0m-166 14h0m3-1h0m3 2h0m1 0h0m3 1h0m5-2h0m1 1h0m7-5h0m0 5h0m2-11h0m0 3h0m2 2h0m1 7h0m1-10h0m1 3h0m0-1h0m0 8h0m3-6h0m2-4h0m3 6h0m0 1h0m0 3h0m0-9h0m3 1h0m3-4h0m0 2h0m2 6h0m1-4h0m0-2h0m3 1h0m1 4h0m0 1h0m1 4h0m0-1h0m0-8h0m2-3h0m4 8h0m0-8h0m0 8h0m2 1h0m0 1h0m8 0h0m7-2h0m3 1h0m1-5h0m1-4h0m10 4h0m1 3h0m2-1h0m3 0h0m1-3h0m2-3h0m0 10h0m0-6h0m6 0h0m3 1h0m1 0h0m0-2h0m5-2h0m1 8h0m0-7h0m4 1h0m0 7h0m2-4h0m1 4h0m0-7h0m6-2h0m4-1h0m2 5h0m6 0h0m14-1h0m2 2h0m1 4h0m2-10h0m1 11h0m3-8h0m1 6h0m2-4h0m1 5h0m2 1h0m28-10h0m-201 12h0m2 3h0m0 6h0m1-5h0m0-2h0m1-3h0m1 1h0m2 3h0m1 0h0m0-2h0m0 3h0m1-1h0m1-1h0m0-1h0m1 1h0m1 0h0m0 1h0m0 1h0m0-2h0m1 3h0m0-4h0m1 5h0m1 3h0m1-9h0m1-1h0m0 1h0m1 3h0m1 5h0m0-5h0m2 3h0m7-5h0m2 10h0m2-10h0m2-2h0m6 6h0m1-3h0m3 0h0m13 7h0m2-10h0m18 1h0m12 6h0m14 3h0m30-1h0m3-6h0m35-2h0m1 1h0m1 3h0m13 6h0m-224 13h0m2-2h0m6 2h0m2-2h0m0 1h0m3 1h0m2-4h0m2 0h0m2 2h0m39-8h0m32 4h0m1 2h0m1-6h0m1 5h0m1-1h0m0-1h0m1 1h0m0 3h0m1-3h0m0 0h0m2 4h0m1-2h0m1-2h0m1 2h0m0-6h0m1 6h0m1 3h0m0-4h0m2 1h0m0 0h0m0 3h0m1-4h0m0-2h0m0 3h0m1 4h0m1-4h0m0 1h0m3 0h0m0-1h0m1 2h0m0-1h0m0-2h0m0-4h0m4 2h0m2 1h0m7-1h0m12 3h0m4-2h0m5 2h0m7 1h0m1 1h0m8 1h0m59-8h0m1 1h0m3 3h0m1 2h0m16 3h0m-250 7h0m10-5h0m0 8h0m2-8h0m1-1h0m0 7h0m0-5h0m0 0h0m0 2h0m0-2h0m5 6h0m0-1h0m3 4h0m0-1h0m0-6h0m1 6h0m1-8h0m8 8h0m0 0h0m1-6h0m2 3h0m2 3h0m22-1h0m5 1h0m12 1h0m42-11h0m7 2h0m23 0h0m2-1h0m1-2h0m3 1h0m1 3h0m2-1h0m2 5h0m7 3h0m2-7h0m0 7h0m1-1h0m2 2h0m2-3h0m2-1h0m0-5h0m3 8h0m82-1h0m-270 13h0m3-1h0m0-8h0m1 8h0m1-6h0m0 5h0m0-4h0m2-3h0m0 1h0m0 0h0m1 5h0m1-7h0m1 7h0m1-3h0m1-2h0m0 8h0m1-2h0m2-7h0m2 7h0m0 1h0m1-2h0m2-6h0m1 5h0m0-4h0m2-1h0m0-1h0m2 10h0m2-10h0m3 4h0m1-4h0m0 9h0m1-4h0m2 3h0m0 0h0m0 2h0m1-11h0m1 9h0m1-5h0m0 7h0m0-8h0m0 4h0m1-2h0m0-2h0m1-1h0m2 7h0m0 1h0m0-7h0m1-2h0m4 3h0m1 6h0m0-2h0m0-4h0m2 2h0m1 1h0m5 2h0m9 0h0m1-7h0m4 4h0m7 1h0m2 5h0m4-9h0m6 7h0m95-1h0m0-8h0m1 0h0m1 4h0m4-2h0m5 1h0m1 4h0m1 0h0m0-3h0m1 0h0m2 3h0m5 0h0m54-7h0m11 11h0m1-9h0m-277 20h0m4-1h0m0-6h0m3 5h0m0 0h0m0 2h0m1 0h0m0-2h0m2-7h0m0 2h0m1-4h0m0 9h0m1-8h0m0 5h0m4-1h0m0-2h0m3 2h0m1-1h0m1 4h0m1 3h0m1-8h0m2-3h0m1 6h0m0-1h0m0-3h0m1 5h0m0-6h0m2 0h0m1 5h0m0 4h0m4-6h0m0 7h0m1-6h0m1-1h0m3-2h0m1 6h0m0-3h0m2-5h0m1 2h0m1 0h0m1 7h0m2-2h0m0 1h0m2-5h0m0-3h0m0 3h0m0 5h0m0-6h0m1 7h0m1 0h0m1-6h0m0 4h0m1 0h0m2-6h0m0 2h0m1-2h0m0 10h0m1-10h0m1 8h0m1-8h0m4 8h0m2-5h0m4 1h0m1-3h0m2 4h0m2-5h0m2 7h0m0-5h0m1 8h0m1-1h0m1 0h0m1-6h0m2 2h0m1-5h0m1 10h0m2-4h0m0-3h0m3 1h0m0 3h0m1-2h0m4 2h0m0-1h0m1-5h0m6 7h0m163-3h0m1 0h0m0-1h0m2 1h0m1-1h0m3 1h0m7-3h0m2 9h0m-287 12h0m2-5h0m2 1h0m0-1h0m0 4h0m1-3h0m1-2h0m0 1h0m3 3h0m2 0h0m0-8h0m0 5h0m4 2h0m0-7h0m0 5h0m0-3h0m1 1h0m3 1h0m0 6h0m0-7h0m1 1h0m0-2h0m1 1h0m1-2h0m1 3h0m0-1h0m2 3h0m1-6h0m0 8h0m1-6h0m0-3h0m1 2h0m0 2h0m1-4h0m0 2h0m1-2h0m0 8h0m1-4h0m2 3h0m1-5h0m1 1h0m2-2h0m2 10h0m1-11h0m2 11h0m1-6h0m0 2h0m4 3h0m0-1h0m0-3h0m2 4h0m0-9h0m0 10h0m0-10h0m2-1h0m1 9h0m0-10h0m0 9h0m0-1h0m3 4h0m0-10h0m1 1h0m8 0h0m0 2h0m1-5h0m0 11h0m1-7h0m1 0h0m0-2h0m2 1h0m0 7h0m0-8h0m2 0h0m1-2h0m0 6h0m1-3h0m8 0h0m4 4h0m1 3h0m1-3h0m3-1h0m2-3h0m2 1h0m0-2h0m1 10h0m2-9h0m2 3h0m0-2h0m14-1h0m178 3h0m2 0h0m2 5h0m117-5h0m-413 11h0m1 1h0m0 3h0m1-1h0m0-1h0m1 5h0m1-9h0m2 3h0m0 5h0m1-3h0m0 0h0m1-7h0m2 1h0m0 10h0m1-2h0m1-9h0m0 4h0m1 6h0m1-9h0m0 0h0m1-1h0m0 0h0m1 10h0m0-5h0m1 1h0m2 1h0m2-6h0m0 9h0m1 0h0m0-6h0m0-4h0m1 10h0m0-10h0m0 7h0m1-6h0m1 2h0m1-1h0m1 7h0m1-1h0m1-2h0m1 4h0m2-2h0m2 1h0m1-9h0m0 6h0m0 2h0m2 3h0m0-3h0m1-6h0m0 3h0m0 3h0m3-1h0m1-3h0m1 3h0m2-1h0m0-2h0m0 5h0m1 1h0m3-8h0m0 5h0m0-7h0m1 7h0m0 1h0m0-4h0m1 2h0m2-1h0m1 1h0m0-2h0m3-3h0m2 6h0m5 1h0m0 2h0m0 0h0m0 0h0m1-4h0m0 1h0m1-7h0m3 1h0m1-1h0m0 1h0m2 0h0m3 8h0m1 2h0m0-1h0m1-1h0m1-1h0m15-4h0m0-5h0m206 10h0m67-1h0m9 0h0m0 2h0m3 0h0m13-8h0m3 3h0m4 5h0m1 0h0m1-8h0m1 4h0m5-3h0m21 8h0m5-8h0m29 1h0m2 3h0m0 0h0m2-6h0m-470 21h0m0-5h0m3 4h0m0-10h0m2 5h0m0 4h0m0-4h0m2 4h0m0 2h0m1-2h0m2-9h0m1 9h0m0-9h0m1 8h0m1 2h0m2-9h0m1 3h0m0 6h0m1 2h0m1-10h0m2 6h0m0-3h0m1 1h0m2-1h0m0 2h0m0-4h0m2-1h0m1 6h0m1 4h0m1-1h0m0-6h0m1 1h0m0 1h0m1-4h0m3 3h0m1 6h0m1-7h0m1 2h0m1-1h0m0-5h0m0 2h0m1-1h0m1 4h0m1 1h0m0 5h0m2-1h0m2-1h0m0 0h0m0-7h0m0 7h0m1-8h0m0 10h0m1-7h0m0 7h0m1-2h0m0-5h0m2-2h0m2-2h0m0 5h0m1-6h0m1 10h0m0-8h0m1 1h0m0 8h0m1-5h0m1 5h0m0-10h0m0 1h0m1 5h0m1-7h0m1 4h0m0 5h0m0 0h0m1-8h0m3 1h0m2 6h0m0 2h0m0-6h0m4-1h0m0 8h0m0-1h0m1 1h0m3-5h0m0-3h0m3 2h0m0 3h0m0-3h0m1-4h0m0 3h0m1 8h0m1-11h0m0 2h0m1-1h0m0 4h0m0-2h0m2-3h0m0 7h0m0-3h0m0 3h0m1 2h0m285-5h0m1-4h0m8 6h0m1 0h0m1 3h0m0-5h0m8 7h0m0-8h0m1 6h0m13-9h0m0-1h0m6 3h0m2 5h0m2-7h0m0 3h0m3 0h0m1-4h0m0 6h0m4 5h0m2-8h0m4 2h0m4 0h0m1 6h0m1 0h0m1-9h0m6 9h0m11 1h0m-454 6h0m2-2h0m2 8h0m0-4h0m1 3h0m0-1h0m0-10h0m1 4h0m1 6h0m0-8h0m1 0h0m3 4h0m2 1h0m0 3h0m1-2h0m0-7h0m2 10h0m1-9h0m0 7h0m1-7h0m1 9h0m0-6h0m2 2h0m0 4h0m1-6h0m1 7h0m1-8h0m0 4h0m3-7h0m1 6h0m1 5h0m1-1h0m0-9h0m0 6h0m5 3h0m1 0h0m1-9h0m0 6h0m1 1h0m1-5h0m1 5h0m1-4h0m2-5h0m1 6h0m1-3h0m1-3h0m3 11h0m1-1h0m0-7h0m1-3h0m0 3h0m2 4h0m0 2h0m1 0h0m0-1h0m1-2h0m0 3h0m0-1h0m1 2h0m1-9h0m0 8h0m3 0h0m1-6h0m1 5h0m1-2h0m0-4h0m1 9h0m0-10h0m1 2h0m1 3h0m0-5h0m1-1h0m1 10h0m1-8h0m1 5h0m3 0h0m2 1h0m0 2h0m4-9h0m0 7h0m2-5h0m2 3h0m2 4h0m1-2h0m2 2h0m0-5h0m101 3h0m11 3h0m25 1h0m17-2h0m113-9h0m4 6h0m1 3h0m6-2h0m3 1h0m2-6h0m1 7h0m0-6h0m0 3h0m5 4h0m1-10h0m1 0h0m4 2h0m4 4h0m1-4h0m2-2h0m0 5h0m5-5h0m0 2h0m1 8h0m0-5h0m8-4h0m9 0h0m3 0h0m5 6h0m10 3h0m2-9h0m4 3h0m5 1h0m1 0h0m16 1h0m1 4h0m-467 12h0m1-1h0m2-2h0m0-1h0m1-3h0m1 4h0m4-4h0m2-2h0m0 4h0m0 4h0m1-4h0m0 4h0m0-2h0m2 3h0m0-9h0m4 9h0m4-1h0m1-3h0m0-4h0m3 7h0m1-4h0m2 2h0m0-3h0m2-5h0m2 8h0m0-7h0m0 1h0m1 8h0m1-7h0m0-2h0m1 0h0m2 9h0m2-7h0m0 1h0m0-4h0m1 5h0m1-2h0m0 4h0m0-7h0m1 4h0m0 7h0m1-3h0m1 3h0m1 1h0m1-9h0m3 8h0m0-7h0m1 5h0m0-4h0m1 4h0m0 2h0m0-8h0m1 7h0m0 0h0m0-9h0m0 5h0m1 6h0m1-5h0m0-3h0m0 6h0m1-9h0m1 10h0m1-1h0m0-1h0m1-4h0m0-1h0m2 5h0m1-8h0m0 8h0m2 1h0m1 0h0m0 1h0m2-8h0m2 2h0m1-4h0m1 5h0m0-2h0m2-3h0m1 9h0m2-4h0m1 5h0m1-6h0m0 4h0m3-9h0m1 7h0m1-6h0m3 6h0m1 4h0m0-3h0m0-1h0m1-5h0m0 9h0m2-3h0m1-4h0m0 0h0m1 6h0m1-1h0m4-8h0m0 9h0m0-8h0m1 2h0m1 8h0m0 0h0m1-3h0m86-5h0m20 1h0m8 2h0m2-3h0m2 2h0m0 0h0m1-4h0m8 7h0m5 2h0m4-3h0m3 3h0m1-1h0m11 1h0m0-9h0m6 10h0m27-5h0m21-2h0m22 4h0m6 3h0m6-4h0m14 2h0m10-3h0m1-6h0m4 4h0m0 3h0m2 0h0m1-6h0m1 8h0m2-3h0m1 4h0m1-4h0m0 1h0m0-7h0m2 9h0m4-7h0m0-2h0m6 7h0m9-3h0m43-4h0m9 1h0m0-1h0m3 7h0m2 3h0m3-2h0m4-7h0m2 3h0m11 6h0m-478 11h0m2-4h0m0 0h0m2-3h0m4 3h0m1 4h0m0-9h0m0 5h0m0-4h0m2 9h0m0-1h0m1 2h0m1 0h0m0-9h0m0 7h0m1-7h0m0 1h0m1 2h0m0 4h0m0-6h0m1 2h0m3-1h0m2 6h0m0-6h0m1 0h0m0-1h0m3 0h0m1 7h0m0-10h0m0 2h0m0-2h0m2 3h0m0 5h0m1-4h0m1-3h0m2 9h0m2-10h0m2 5h0m0-1h0m0 4h0m0-3h0m0 2h0m2-3h0m0 3h0m0 4h0m1-7h0m1 0h0m2-2h0m0 4h0m1-3h0m4 0h0m4 2h0m0-3h0m0 4h0m1 5h0m0-8h0m2 7h0m2-3h0m1-7h0m1 1h0m1-1h0m1 4h0m1-2h0m0 2h0m0 0h0m1-2h0m2 2h0m1-4h0m0 10h0m1-11h0m0 1h0m1 2h0m0-1h0m0 0h0m2 7h0m1-4h0m2 4h0m2 2h0m1-8h0m0 0h0m0 2h0m6 4h0m0-2h0m0 0h0m2 0h0m1-5h0m0 7h0m1-6h0m0 1h0m0 6h0m0-2h0m0-7h0m2 11h0m0 0h0m3-10h0m0 3h0m1-5h0m1 10h0m1 0h0m0-1h0m1-3h0m2-5h0m0-1h0m0 6h0m1-3h0m0-1h0m1 4h0m0-2h0m2 0h0m0 6h0m1-5h0m0 4h0m2 2h0m0-7h0m1-2h0m1 6h0m1 0h0m4 0h0m66-5h0m0 2h0m12 4h0m1-4h0m4 2h0m11 2h0m0-1h0m2 3h0m0-10h0m0 9h0m1 1h0m0-1h0m1 0h0m2-7h0m0 7h0m0-10h0m1 1h0m3 2h0m2 5h0m1-6h0m3 9h0m1-5h0m3 0h0m1-2h0m1 0h0m0 0h0m1 5h0m0-1h0m1-3h0m3 7h0m4-11h0m3 6h0m1-1h0m1 0h0m8 0h0m16-2h0m8 7h0m4-6h0m2 6h0m6-10h0m0 3h0m2 5h0m0 1h0m2 0h0m0-3h0m5-3h0m2-1h0m4 8h0m1-9h0m4 6h0m0 0h0m1 2h0m2-8h0m19 0h0m12 9h0m5-4h0m12-3h0m2-4h0m2 2h0m5-2h0m3 12h0m2-3h0m4-8h0m85 1h0m4 2h0m1-3h0m13 2h0m3 9h0m2-10h0m5 0h0m87 10h0m0-1h0m2-2h0m0-1h0m0 1h0m1 1h0m1-5h0m-577 18h0m0-9h0m1-1h0m1 2h0m0 3h0m1 5h0m0-4h0m2 3h0m0 1h0m1-9h0m1 6h0m0 0h0m2-4h0m0 4h0m0-1h0m1 4h0m0-6h0m0-3h0m0-1h0m0 11h0m1-2h0m4-4h0m1 0h0m3-4h0m1 3h0m1 0h0m0 6h0m0 1h0m0-6h0m2 4h0m0 1h0m0-7h0m0 5h0m1-3h0m1 2h0m0 0h0m0 1h0m0 0h0m0-3h0m2-4h0m4 7h0m0-8h0m0 5h0m1 4h0m0-1h0m1-1h0m1 3h0m0 0h0m1-3h0m0 0h0m1-4h0m1 0h0m1-1h0m1 8h0m3-8h0m1 4h0m1 2h0m0-8h0m1 4h0m0 4h0m2-9h0m1 6h0m0-3h0m0 3h0m0-3h0m0 2h0m4-4h0m1 5h0m0 6h0m0-12h0m2 11h0m0-11h0m0 9h0m1-7h0m0 3h0m2 4h0m0 0h0m1-7h0m1-2h0m0 0h0m1 6h0m0-3h0m1 1h0m1-2h0m2-1h0m1 0h0m0 0h0m1 2h0m0 0h0m1 5h0m1 3h0m1-9h0m1 0h0m0-2h0m3 5h0m0-3h0m1-2h0m2 2h0m1 2h0m1 1h0m1-3h0m0-2h0m1 6h0m0-4h0m0 9h0m1-11h0m0 9h0m0 3h0m2-2h0m0 2h0m1-3h0m1-4h0m4-5h0m0 9h0m1 3h0m0-7h0m0 0h0m1-2h0m2 7h0m0 0h0m0-5h0m1-3h0m1 7h0m2-2h0m0 3h0m1-6h0m1 6h0m0 0h0m0-4h0m0 1h0m1 3h0m0-6h0m1 1h0m0 2h0m0 2h0m1 2h0m1 0h0m1-4h0m0-4h0m0-2h0m3 7h0m1 2h0m0 2h0m1-2h0m3 1h0m54-9h0m7 0h0m0 10h0m16-8h0m4 7h0m3-3h0m1 1h0m1-4h0m1 5h0m6-1h0m0-3h0m3-5h0m2 8h0m0-1h0m1-8h0m2 5h0m0 2h0m0 2h0m3 0h0m1-3h0m1-6h0m1 8h0m2-3h0m1 0h0m0-4h0m2 6h0m1 2h0m1 2h0m2 1h0m0-11h0m2 10h0m1 0h0m1-9h0m0 4h0m1 1h0m1-3h0m3-1h0m2 5h0m0 2h0m1-7h0m1 9h0m3-4h0m1-5h0m2 5h0m10 3h0m1-5h0m13-1h0m3-2h0m3-3h0m6 1h0m0 9h0m3-4h0m1 3h0m1-5h0m14 3h0m3 2h0m5 2h0m6-8h0m0-1h0m1 9h0m1-3h0m0-2h0m9 3h0m1-5h0m2 5h0m1 2h0m8-10h0m0 9h0m3-3h0m1-4h0m3 9h0m3-5h0m2-3h0m1 0h0m2 4h0m1-5h0m2 4h0m3 5h0m11-3h0m3-8h0m9 2h0m91-3h0m1 2h0m7 7h0m4-2h0m88-7h0m-575 20h0m1-7h0m3 0h0m2 10h0m0-6h0m1 3h0m0-6h0m1 0h0m0 8h0m1 1h0m0-8h0m0 2h0m1-1h0m1 6h0m0-7h0m1 5h0m1 1h0m0 1h0m0-6h0m1-3h0m1 11h0m1-7h0m1 6h0m1-3h0m0-3h0m1-2h0m1 7h0m0-2h0m2-5h0m0 2h0m1-1h0m0-3h0m0 2h0m1 1h0m0 1h0m2 4h0m2 2h0m0-3h0m0 0h0m1 3h0m1-9h0m1 9h0m1-10h0m2 1h0m0 8h0m2-9h0m1 0h0m0 0h0m0 1h0m1 9h0m1-3h0m1 1h0m0 1h0m1-7h0m1-2h0m0 0h0m1 1h0m2 10h0m0-7h0m1 1h0m2 0h0m1 4h0m2-6h0m2 7h0m1-3h0m1 0h0m1-4h0m2-2h0m0 5h0m0-5h0m1 1h0m0 8h0m1 1h0m0-6h0m1-5h0m4 3h0m2-3h0m1 4h0m2 0h0m1 5h0m2-2h0m0-4h0m1-1h0m1 3h0m2-2h0m1 4h0m0-5h0m1 3h0m2-6h0m1 0h0m3 9h0m1-5h0m0 3h0m2 1h0m2-4h0m2-4h0m1 10h0m0-3h0m2-1h0m2 6h0m0 0h0m0-2h0m1-8h0m2 6h0m2-4h0m0-3h0m1 1h0m0 5h0m2 0h0m1 0h0m1-4h0m0-3h0m1 9h0m0-1h0m1-7h0m3 1h0m0 2h0m1 3h0m0 4h0m0-7h0m0 3h0m3 0h0m2 0h0m84-1h0m8-5h0m1 6h0m1 1h0m2-2h0m0-6h0m3 0h0m3 2h0m5 5h0m2-3h0m0-3h0m1 7h0m0-1h0m5 1h0m0 3h0m0-2h0m2-4h0m1 0h0m1 4h0m4-2h0m2 0h0m0 2h0m3-9h0m2 9h0m1-1h0m13-2h0m8-3h0m6-1h0m3 0h0m4 1h0m3 1h0m7-4h0m10 3h0m9 3h0m7 4h0m9-7h0m1 6h0m0-4h0m1 6h0m0 1h0m6-1h0m5-9h0m1 1h0m3-2h0m2 8h0m6-8h0m110 11h0m12-11h0m3 3h0m8 6h0m-483 5h0m0-1h0m1 3h0m0-4h0m0-1h0m1 6h0m1 4h0m0-3h0m1 0h0m0-1h0m2 1h0m1-3h0m1-1h0m1 5h0m2 3h0m1-7h0m1 4h0m0 1h0m2-8h0m4 10h0m0-9h0m2 8h0m2-10h0m2 10h0m0-3h0m0 3h0m1-8h0m1 1h0m5 0h0m1 8h0m1-2h0m0 2h0m0 0h0m0-10h0m0 1h0m1-2h0m1 11h0m1-8h0m0 0h0m1 7h0m1 2h0m0-6h0m1-2h0m1 7h0m0-4h0m1 1h0m3-6h0m4 7h0m0-5h0m1 5h0m1-2h0m2 2h0m0 0h0m0-5h0m2 0h0m0 7h0m3-3h0m1-4h0m0 3h0m2-6h0m4 3h0m1 7h0m1-7h0m2 4h0m1-8h0m4 5h0m1 1h0m0 5h0m1-1h0m0-5h0m1 4h0m0-8h0m1-1h0m0 8h0m0-7h0m1 2h0m1 1h0m3 3h0m1 1h0m2 2h0m1-7h0m0-1h0m0 0h0m1 3h0m1 1h0m1 6h0m3-8h0m2-2h0m0 4h0m1-4h0m1 8h0m0-7h0m1 7h0m1-2h0m0-6h0m0 7h0m1-8h0m4 5h0m1 1h0m0-4h0m0 4h0m3 5h0m0-1h0m0-3h0m1-5h0m0 1h0m0 6h0m0-3h0m1-7h0m2 6h0m1 4h0m0-1h0m0 2h0m0-7h0m1-4h0m0 5h0m2-1h0m0 0h0m0 5h0m2-2h0m1 3h0m0-1h0m2-4h0m1 2h0m2 1h0m2 2h0m1-4h0m57-4h0m10 2h0m5-4h0m9 11h0m4-5h0m5 0h0m2 4h0m0-9h0m2 8h0m8-6h0m1 2h0m5 4h0m1-2h0m5-1h0m2-6h0m7 6h0m6 5h0m6-6h0m5 6h0m2 0h0m12-10h0m35 6h0m4-6h0m7-1h0m8 3h0m1 3h0m4 1h0m4 4h0m2-2h0m1-4h0m4 6h0m0 1h0m2-7h0m3 5h0m11-4h0m4-4h0m3 10h0m87-1h0m7-3h0m3 1h0m1-1h0m9 2h0m4-1h0m1-2h0m0-2h0m0 4h0m7-1h0m-489 15h0m4-4h0m1 2h0m1-8h0m0 10h0m1 0h0m0-1h0m2 2h0m0-8h0m0-2h0m1 7h0m0 1h0m1-7h0m0 8h0m2 0h0m2-8h0m0 1h0m1-1h0m2 1h0m1 1h0m1 5h0m1 1h0m0-9h0m1 1h0m1 9h0m0-8h0m1 0h0m1 0h0m0-2h0m0 10h0m3-1h0m2-2h0m1-5h0m1 0h0m1 1h0m1 1h0m0 2h0m2-5h0m1-2h0m1 7h0m0 1h0m1-7h0m0-2h0m1 9h0m1-2h0m2-4h0m0 8h0m0-10h0m0 4h0m2 6h0m1 0h0m1-9h0m0 2h0m1-3h0m0-1h0m0 10h0m1-5h0m0-2h0m5 1h0m1 5h0m1 1h0m0-4h0m1 6h0m1-4h0m0-2h0m2-2h0m0-1h0m1 2h0m0 0h0m1 6h0m1-10h0m1 7h0m0-2h0m0 2h0m1 0h0m0-3h0m1 0h0m0 5h0m1-7h0m1 3h0m0 3h0m1-7h0m0-2h0m1 1h0m4 10h0m1-2h0m0-1h0m0 2h0m3-8h0m3-2h0m2 9h0m0-3h0m0-5h0m2 4h0m0 3h0m3 4h0m0-1h0m0-7h0m1 4h0m0-7h0m1 9h0m0-5h0m1-3h0m4 2h0m1 6h0m1-5h0m0 2h0m1 5h0m1-6h0m1 3h0m2 3h0m0-11h0m0 6h0m0 2h0m3-8h0m0 5h0m1 4h0m3-5h0m0-4h0m2 11h0m0-9h0m1-1h0m1 1h0m1 3h0m1-5h0m1-1h0m2 2h0m1 5h0m0 0h0m3 1h0m6-4h0m1 6h0m3 0h0m48-7h0m37 1h0m12 4h0m4 0h0m1 2h0m7 0h0m3-4h0m3 1h0m1-2h0m0-1h0m2 2h0m3 1h0m0-2h0m2-4h0m2 11h0m0-2h0m2-5h0m1 6h0m5 1h0m6-6h0m8 6h0m6-2h0m7 0h0m1-1h0m0-1h0m2 0h0m3 4h0m10-1h0m7-10h0m2 9h0m3 2h0m2-3h0m1 2h0m2-5h0m12 2h0m0-5h0m3-2h0m5 0h0m0 4h0m1 4h0m5-6h0m5 3h0m2 2h0m1 3h0m2-4h0m2 1h0m1-3h0m3 5h0m0-4h0m14 5h0m65 0h0m10-9h0m26 6h0m0-6h0m-479 15h0m3-4h0m2 5h0m1-3h0m1 0h0m2 9h0m1-6h0m1 1h0m0-3h0m1 1h0m0-1h0m0-1h0m2 4h0m6-6h0m0 10h0m3-1h0m1-8h0m0 8h0m3-2h0m0-5h0m1 9h0m1 0h0m1-1h0m0-10h0m1 8h0m0-3h0m1-2h0m0 1h0m1 5h0m1-3h0m1 2h0m0 3h0m0-11h0m0 4h0m0 5h0m0-1h0m3 2h0m3-2h0m2 0h0m1-7h0m3-2h0m1 2h0m0 7h0m0-5h0m1-1h0m0 7h0m1-1h0m2 0h0m0 0h0m1-1h0m2 0h0m1-6h0m0 9h0m3-2h0m1-1h0m1 1h0m0 2h0m1-3h0m0-2h0m2 0h0m0-4h0m2-1h0m2 3h0m0 7h0m2-7h0m0-2h0m1 7h0m0-8h0m0 8h0m1 3h0m1-3h0m0-7h0m3 8h0m1-6h0m0 1h0m3-1h0m2 6h0m0-3h0m6 1h0m1-3h0m1 6h0m1-11h0m1 8h0m0 3h0m0-7h0m2 4h0m0-5h0m0 6h0m1-8h0m1 6h0m0 0h0m0 1h0m1-4h0m2 3h0m0-6h0m1 10h0m1-10h0m1 3h0m1 7h0m0-7h0m2 4h0m0-2h0m1-6h0m3 2h0m1 6h0m0 4h0m0-10h0m1-1h0m0 9h0m1-6h0m3 4h0m2 2h0m0-2h0m1 1h0m0-8h0m0 10h0m0-2h0m2-1h0m0-7h0m1 0h0m0 6h0m2-6h0m0 6h0m2-3h0m2 4h0m1 1h0m1-7h0m1 4h0m3 4h0m2-5h0m0 0h0m0 4h0m0 2h0m0-5h0m1 3h0m1 1h0m2-1h0m0-4h0m2 4h0m1 1h0m56-4h0m17 4h0m4-4h0m4-5h0m1 1h0m3 4h0m12 4h0m2-6h0m2 5h0m0 0h0m1-7h0m1 9h0m0-4h0m0 1h0m1-5h0m1-1h0m0 1h0m2-2h0m3 2h0m3 7h0m1-9h0m3 5h0m0-3h0m3-1h0m6 3h0m1 3h0m7-1h0m0 0h0m3 1h0m1 2h0m2-6h0m2 8h0m0-4h0m3-2h0m3 0h0m5-3h0m2 6h0m0 2h0m3-3h0m5 1h0m5 0h0m2-2h0m5 1h0m0-5h0m5-1h0m3 4h0m4-3h0m11 5h0m2-6h0m25 6h0m0 2h0m3-1h0m0-4h0m5 3h0m3 0h0m59 1h0m2-4h0m8 3h0m1-4h0m8 5h0m5-6h0m7-1h0m-461 11h0m3 7h0m1-4h0m0-1h0m1-2h0m0 1h0m1 4h0m0 0h0m1-1h0m1-2h0m1 8h0m0-9h0m0 5h0m1 1h0m0-2h0m0 6h0m0-2h0m2-5h0m1 1h0m1 3h0m0 2h0m0-4h0m2-6h0m0 6h0m0-5h0m1 4h0m1-4h0m1 3h0m2-3h0m1 6h0m0 3h0m2-6h0m3 5h0m0-8h0m1-1h0m1 1h0m0 0h0m2 2h0m0 6h0m1-5h0m0 5h0m0-5h0m1 5h0m1-4h0m2 3h0m0-8h0m2 9h0m5-1h0m1 0h0m1-3h0m2 2h0m0-4h0m1 6h0m0-4h0m0-3h0m1 1h0m0-1h0m0 4h0m1 0h0m4-4h0m0 3h0m3-2h0m1 4h0m1-5h0m1 2h0m4 2h0m1-4h0m1 4h0m1 0h0m0 2h0m1 0h0m0-2h0m1 2h0m0-6h0m0 3h0m1-4h0m1 3h0m0-1h0m0 6h0m0-9h0m1 9h0m0-4h0m1 5h0m0 0h0m0-4h0m1 3h0m1-4h0m0 1h0m1-6h0m0 10h0m1-2h0m1-6h0m1 5h0m0 3h0m0-1h0m2 0h0m2-4h0m0-6h0m2 1h0m3 4h0m2 7h0m1-9h0m0 8h0m4-2h0m1-1h0m0-6h0m2 4h0m0 2h0m0-5h0m0 5h0m1 0h0m1-1h0m2-4h0m1 5h0m0-7h0m1 4h0m1 3h0m1-5h0m1 0h0m1 3h0m1-5h0m1 2h0m2 4h0m2 0h0m2 4h0m3-6h0m0 7h0m0-7h0m2 3h0m2 1h0m2 2h0m1-9h0m0 6h0m1-5h0m1 2h0m3-1h0m1-2h0m1 1h0m1 3h0m3 2h0m0 3h0m2-5h0m0 4h0m1-5h0m1 2h0m0 1h0m2-1h0m1 2h0m2 2h0m0-6h0m32 7h0m3-1h0m6 0h0m1-9h0m36 1h0m0 3h0m1 4h0m0-5h0m5-3h0m0 2h0m1 4h0m0 3h0m1-5h0m1-2h0m4 2h0m2-5h0m1 8h0m1-8h0m2 3h0m4-2h0m1 1h0m0 8h0m3-5h0m9-2h0m1 1h0m1 6h0m6-5h0m1 2h0m3-1h0m1-5h0m4 1h0m3-2h0m1 3h0m0 5h0m16-2h0m0-2h0m10 0h0m15-4h0m10 0h0m26 2h0m2 5h0m1-4h0m1-2h0m0 2h0m1-3h0m5 2h0m2 4h0m5-7h0m5 0h0m3 12h0m8-2h0m3-4h0m4 2h0m10 4h0m1-3h0m1 2h0m12-4h0m0-2h0m5 5h0m2-7h0m3 8h0m6-1h0m3-3h0m4-1h0m6-3h0m-442 13h0m0-2h0m5 5h0m1-4h0m2 0h0m0 3h0m0-4h0m5 2h0m0-1h0m1 1h0m0-4h0m1 12h0m0-10h0m1 4h0m3 0h0m2-6h0m0 2h0m0 2h0m1-4h0m0 5h0m0-3h0m2 0h0m0-1h0m1 9h0m2 0h0m0-4h0m0-2h0m0 2h0m1 6h0m3-12h0m1 10h0m1-8h0m0 2h0m1 2h0m1-4h0m0 8h0m1-7h0m0 6h0m1-1h0m0-6h0m3-2h0m1 0h0m1 2h0m0 1h0m1 8h0m0-4h0m3-6h0m1 3h0m1-4h0m0 11h0m1-10h0m1 5h0m0-4h0m0 9h0m1-4h0m0 1h0m1 2h0m1-4h0m0-6h0m1 8h0m0-3h0m1-4h0m1 9h0m0-1h0m1-2h0m0 4h0m1-1h0m0-10h0m1 4h0m3 1h0m2-3h0m2-1h0m1 2h0m6 2h0m0-1h0m1-1h0m3-1h0m0 5h0m2 0h0m0-6h0m2 5h0m3 2h0m2 2h0m2-1h0m1-7h0m1-2h0m0 6h0m0 4h0m3-7h0m0 3h0m0-2h0m3-2h0m2 4h0m3 4h0m0-9h0m1 4h0m0 6h0m1-6h0m0-2h0m1 6h0m3-9h0m0 6h0m1-3h0m1 0h0m1 6h0m0-1h0m1 4h0m3-6h0m1 6h0m1-4h0m2-1h0m1-4h0m1 2h0m1-3h0m1 8h0m0 0h0m1-6h0m0 5h0m1-8h0m0 10h0m1 0h0m0-10h0m3 8h0m1-2h0m1 5h0m0-7h0m0 5h0m1-8h0m0-1h0m0 6h0m1 0h0m1-7h0m0 10h0m0-6h0m1 1h0m0 7h0m1-10h0m2 9h0m0-6h0m0 0h0m2-2h0m1-2h0m0 8h0m0-5h0m2 0h0m0-2h0m1 4h0m1 6h0m0-3h0m3-4h0m1 6h0m1 0h0m0 0h0m1-2h0m1-2h0m7-3h0m1 6h0m1-2h0m0-3h0m1 3h0m1-6h0m3 2h0m2-4h0m4 4h0m1 4h0m0 4h0m4-5h0m2 2h0m1-4h0m1 3h0m2-7h0m2 6h0m1 0h0m1 4h0m2-2h0m0 1h0m1-5h0m2 1h0m1 2h0m1-5h0m1 2h0m2 1h0m10-2h0m6-3h0m2 2h0m4-3h0m8 9h0m4-8h0m1 0h0m5-1h0m28 3h0m14 4h0m82-2h0m10-5h0m5 3h0m11 8h0m6-3h0m4 1h0m4-5h0m3 3h0m2-2h0m2-4h0m4 5h0m2-3h0m2 6h0m8-1h0m-409 11h0m1-3h0m0-1h0m5-2h0m1 4h0m1 4h0m0 0h0m0 2h0m1-11h0m1 12h0m1-11h0m2 2h0m0-1h0m1 2h0m1 5h0m0 1h0m1-6h0m1 0h0m0 1h0m2 7h0m0-4h0m1-4h0m0-3h0m1 0h0m4 6h0m1 0h0m0 0h0m1-7h0m2 11h0m0-2h0m0-8h0m1 0h0m1 3h0m1 7h0m1-9h0m1 4h0m1 4h0m0 1h0m0-2h0m4 2h0m0-11h0m0 2h0m1 0h0m1 6h0m2-6h0m0 5h0m0 0h0m0-6h0m0 6h0m2-5h0m1-2h0m0 4h0m1-1h0m3-3h0m1 5h0m0-3h0m3 1h0m0-1h0m0-1h0m6 5h0m2 0h0m1-2h0m0 8h0m1-9h0m1 5h0m0-6h0m2 4h0m0-3h0m1 5h0m3 2h0m0-2h0m1 2h0m1-3h0m1-5h0m1 0h0m2 9h0m2-1h0m1-4h0m0 3h0m2-5h0m0 5h0m1-3h0m0 3h0m1-4h0m3-1h0m1 6h0m1-6h0m3-3h0m0 3h0m0 6h0m3-6h0m0 7h0m2-2h0m0 0h0m3-8h0m1 5h0m1 3h0m1-8h0m2 1h0m0 5h0m1 2h0m3-4h0m0 5h0m2-5h0m1 0h0m1-3h0m1 6h0m1-3h0m0 2h0m0-5h0m0 4h0m0-6h0m1 6h0m3-1h0m0-1h0m1 0h0m2-3h0m1 7h0m1-5h0m1 7h0m2-2h0m0-6h0m1 5h0m1-5h0m1-1h0m0 1h0m0 7h0m1 1h0m0-7h0m1 5h0m0 3h0m0-10h0m1 3h0m1-3h0m2 3h0m0 0h0m1-4h0m0 11h0m0-4h0m1 2h0m0-5h0m2-1h0m1 7h0m0-7h0m0 5h0m2 2h0m0-4h0m1-2h0m1 5h0m1 2h0m2-7h0m5 0h0m5 0h0m1 2h0m1-4h0m0 6h0m0-6h0m2-1h0m2 7h0m0-7h0m1 2h0m0 0h0m1 8h0m1-3h0m0-7h0m1 6h0m2 1h0m2-7h0m2 6h0m0 1h0m1-4h0m2 2h0m2-4h0m1 7h0m2-4h0m1-1h0m63-2h0m69 1h0m-306 12h0m0 1h0m5-3h0m0 4h0m2-1h0m0-2h0m1 4h0m0 4h0m0-9h0m3 0h0m3 10h0m1-8h0m1 1h0m0 6h0m2 1h0m0-5h0m2 1h0m0 5h0m1-1h0m0-10h0m0 5h0m2 2h0m1-5h0m1 4h0m2-7h0m2 5h0m0 3h0m0 2h0m3-5h0m0-3h0m1 2h0m2 2h0m7 3h0m0-7h0m1 3h0m1 0h0m0-3h0m5 8h0m0-1h0m0 2h0m5-10h0m0 3h0m1 0h0m1 6h0m1 1h0m1-1h0m2 2h0m1-5h0m0 5h0m0-10h0m1 8h0m2-3h0m1-1h0m0-1h0m1 5h0m0-2h0m1-3h0m3-4h0m0 6h0m1-1h0m1 6h0m0-2h0m1-8h0m0 7h0m2-2h0m0 3h0m2 0h0m0-6h0m2 2h0m7-5h0m1 7h0m2 1h0m2-5h0m1 5h0m0-8h0m0 7h0m2-4h0m1 3h0m4-1h0m1 3h0m0-6h0m1 1h0m1 0h0m3-3h0m1 1h0m0 0h0m0 2h0m2-2h0m1 1h0m1 3h0m0 0h0m1 4h0m1-9h0m0 7h0m1-1h0m0 5h0m1-8h0m1-1h0m1 8h0m1 0h0m1-2h0m1-1h0m0 0h0m0-2h0m0 3h0m1-8h0m0 8h0m1-9h0m1 9h0m2-7h0m2 5h0m1-6h0m1 0h0m1 2h0m2 1h0m2 2h0m6-4h0m2-1h0m5 0h0m12-1h0m8 7h0m4 4h0m0-10h0m10 3h0m19 2h0m-188 8h0m6-1h0m5 4h0m2 1h0m1-5h0m1 8h0m1-8h0m0 4h0m0 0h0m5 3h0m1-8h0m2 0h0m0 6h0m0-1h0m0 0h0m1-2h0m0 7h0m0-10h0m2 2h0m0 7h0m0-6h0m1 3h0m1 5h0m0-1h0m3-7h0m1 6h0m0-6h0m1 6h0m1 1h0m0 1h0m3-6h0m1 6h0m1-10h0m1 4h0m2-3h0m1 7h0m1-1h0m0-8h0m1 6h0m0 2h0m0 1h0m2-1h0m1-7h0m0 3h0m1 3h0m0-2h0m0-4h0m1 4h0m0-3h0m0-1h0m0 5h0m1 4h0m2-4h0m0 2h0m4-7h0m2 7h0m0 2h0m0-4h0m0-4h0m2 5h0m1 2h0m1-2h0m1-4h0m1 4h0m1-2h0m0 3h0m1 3h0m0-2h0m1-9h0m0 2h0m4 2h0m0-3h0m0 5h0m1 3h0m0-8h0m0 4h0m2 0h0m0-1h0m1 6h0m1-3h0m2-2h0m0 5h0m1-10h0m5 9h0m1 0h0m4-1h0m2-7h0m2 3h0m0-2h0m3-2h0m2 1h0m0-1h0m1 2h0m2-2h0m1 1h0m3 0h0m38 6h0m10-7h0m-120 12h0m4 0h0m1 2h0m14 3h0m5-2h0m2-1h0m1-1h0m8 1h0m317 14h0m3 4h0m1 11h0m1 0h0m0-5h0m2 9h0m0 2h0m1 2h0" stroke="#d6d6d6"/><path d="M0 0m3874 1788h0m-32 14h0m69-1h0m-38 43h0m8 0h0m-93 30h0m154 21h0m0 0h0m5-4h0m1 4h0m-122 11h0m118-10h0m32 22h0m-2 3h0m4 28h0m96 7h0m2-9h0m28 8h0m4 1h0m-119 11h0m0-8h0m4 8h0m61-2h0m8-3h0m2 1h0m5 3h0m1-6h0m4 2h0m2 0h0m7 0h0m0 0h0m3 4h0m1-3h0m0 5h0m2-1h0m2-7h0m0 8h0m1-8h0m6 6h0m6-8h0m1 9h0m2-3h0m44 0h0m3 0h0m0 0h0m-115 15h0m15-1h0m0-5h0m1-4h0m6 8h0m7 0h0m0-3h0m0 3h0m1 2h0m6-1h0m0-7h0m2 4h0m7 2h0m0-1h0m1 0h0m1-4h0m2 4h0m2-8h0m1 7h0m0-1h0m9-2h0m1 5h0m3-2h0m5-1h0m1-4h0m2 10h0m3-4h0m8-1h0m3-7h0m0 0h0m9 7h0m2-4h0m-112 17h0m8 3h0m7-8h0m1 8h0m2-9h0m8 4h0m2-6h0m2 5h0m2 5h0m0-3h0m1-4h0m7 3h0m0 0h0m2-5h0m3 6h0m4-3h0m14 4h0m4-2h0m15 4h0m7-2h0m9-6h0m1-1h0m1 0h0m3 5h0m0-3h0m7-2h0m5 3h0m1-1h0m3 2h0m-119 18h0m2-11h0m2 4h0m4 2h0m6 3h0m13 0h0m3-8h0m6 1h0m7-2h0m41 9h0m11-1h0m2-5h0m1 1h0m2-3h0m2 2h0m2 9h0m2-7h0m1 4h0m0-6h0m0 4h0m1-3h0m3 5h0m3 0h0m1-6h0m3 5h0m9 0h0m1 3h0m-160 6h0m9 3h0m2-2h0m2-3h0m3 9h0m6-12h0m4 8h0m1-2h0m0 4h0m1-8h0m9 3h0m7-3h0m9 9h0m5-1h0m4-7h0m0-1h0m78 0h0m3 10h0m7-4h0m6 2h0m1-9h0m5 8h0m0-8h0m2 8h0m87-3h0m2 4h0m0 1h0m1-2h0m1-5h0m3 1h0m-273 19h0m11-8h0m1 4h0m0 2h0m4-3h0m0 2h0m2-3h0m6-3h0m2 3h0m1-5h0m2 10h0m3-1h0m1-4h0m2 4h0m0-2h0m1 2h0m1 0h0m6-1h0m1-3h0m1 4h0m22-1h0m87-7h0m6 2h0m3 5h0m3 2h0m0 0h0m0-5h0m0 1h0m1-4h0m0 0h0m4 6h0m1-7h0m4 10h0m2-2h0m3-2h0m85-6h0m1-2h0m-254 19h0m7-3h0m2 8h0m8-9h0m0 5h0m3-7h0m0-1h0m1 9h0m1-5h0m6 5h0m5 1h0m9-2h0m0-6h0m13 8h0m85-6h0m12 7h0m0-10h0m1 3h0m3-4h0m2 10h0m3-6h0m3-1h0m2 1h0m18-3h0m-185 13h0m4 5h0m10-5h0m3 2h0m7 7h0m1-11h0m3 8h0m0-2h0m2 0h0m17 0h0m1 0h0m93-5h0m3 0h0m5 6h0m1-7h0m1 2h0m2 3h0m1 6h0m3-2h0m2-4h0m2 7h0m0-4h0m1-6h0m1 2h0m4 5h0m1-8h0m4 7h0m-170 5h0m11 5h0m7-4h0m10-1h0m1 0h0m6-1h0m9 8h0m5-1h0m4 1h0m8-5h0m5 4h0m65 1h0m3 2h0m3-5h0m1 7h0m7-10h0m1 7h0m1-2h0m2-1h0m4-2h0m1-3h0m1 1h0m3 0h0m7-2h0m-143 15h0m14-2h0m9 3h0m8 6h0m2-1h0m1-8h0m3 9h0m2 1h0m1-7h0m1 1h0m0 6h0m1-5h0m2-1h0m3 2h0m0-4h0m24 3h0m16 3h0m9 1h0m13-2h0m2 0h0m0 4h0m1-5h0m1-4h0m2 3h0m8 1h0m3-1h0m2-2h0m1 5h0m3 2h0m3 0h0m8-9h0m-117 16h0m4-2h0m6 1h0m0 7h0m0-6h0m2-2h0m1 1h0m2-4h0m2 1h0m4 1h0m4 3h0m3 1h0m4 4h0m4-2h0m0 3h0m1-1h0m0-1h0m1 1h0m0-4h0m4 1h0m12 3h0m14 1h0m2-6h0m1 4h0m0-5h0m10-3h0m1 5h0m5-6h0m3 7h0m8-2h0m2-6h0m4 7h0m-95 11h0m4 6h0m3-5h0m1 4h0m1-7h0m4 1h0m0 0h0m1-1h0m2 7h0m2-6h0m11 2h0m5-6h0m2 5h0m1 4h0m0-3h0m1-5h0m5 4h0m1 2h0m6 2h0m1-3h0m0-3h0m3-1h0m1 2h0m1-5h0m0 1h0m6 5h0m1-2h0m1 2h0m2 0h0m2 5h0m1-9h0m-34 14h0m0 1h0m4-5h0m14 2h0m16 2h0m-35 11h0m31 29h0m7 24h0m1-4h0m3 8h0m1-7h0" stroke="#d6a59d"/><path d="M0 0m3875 1785h0m8 0h0m-54 11h0m37-3h0m3 3h0m9-7h0m2 1h0m31 0h0m27 8h0m-94 13h0m25-8h0m18 7h0m11-7h0m35 7h0m-73 11h0m10 0h0m12-1h0m2 2h0m8 0h0m17-10h0m-43 22h0m8-7h0m18-2h0m7 0h0m20 6h0m-73 10h0m9 2h0m7-4h0m7 7h0m14-9h0m9 11h0m9-7h0m37-5h0m-139 22h0m1 1h0m33-10h0m15 6h0m15-3h0m16 6h0m8 0h0m9 1h0m-100 2h0m5 9h0m1-5h0m4 0h0m30 1h0m5 4h0m16-3h0m1-7h0m33 6h0m41 1h0m-162 16h0m17-1h0m1-9h0m18 8h0m3 1h0m39-3h0m5-4h0m79 6h0m-165 6h0m11 5h0m17-2h0m46-2h0m0 5h0m39-7h0m59 7h0m6 1h0m4-1h0m-131 5h0m4 7h0m13 0h0m26 1h0m3 0h0m9 0h0m2-2h0m76-5h0m19 6h0m-98 4h0m2 2h0m1 1h0m8 1h0m3 6h0m1-10h0m4 10h0m0-1h0m78-3h0m-205 9h0m2 2h0m4-4h0m5 5h0m10-6h0m2 9h0m98-9h0m2 1h0m0 0h0m1 6h0m8 0h0m1-2h0m1 3h0m0-9h0m1 6h0m2-2h0m2 8h0m1-11h0m1 4h0m-135 18h0m3-2h0m1 2h0m6-4h0m2-1h0m2 2h0m0 3h0m3-8h0m4 0h0m0 6h0m1 0h0m98-9h0m6 8h0m77-3h0m5 2h0m-202 7h0m0-2h0m4 5h0m5 0h0m4 4h0m4-9h0m2 3h0m192 8h0m-212 4h0m215 2h0m2 4h0m68-3h0m8-4h0m15 4h0m4-2h0m17 4h0m6 0h0m45-4h0m-270 12h0m166 2h0m9 2h0m11-5h0m2 6h0m0-1h0m2 4h0m3-10h0m0 10h0m4-11h0m4 2h0m1 5h0m4-6h0m1-1h0m1 4h0m1 3h0m1 0h0m5-4h0m11 3h0m19 0h0m3 0h0m-270 17h0m4-4h0m174-5h0m7 7h0m5-7h0m1 5h0m1-6h0m1 5h0m2-5h0m6 3h0m7-1h0m0-3h0m1 1h0m1-2h0m2 3h0m4 0h0m4-3h0m1 0h0m5 2h0m11 3h0m20-3h0m5 2h0m9-1h0m7 3h0m-272 13h0m17 2h0m10 2h0m27-9h0m37 1h0m2 4h0m14 2h0m1-9h0m60 11h0m2-1h0m3-2h0m6 4h0m3-11h0m2 6h0m2 3h0m2-5h0m8-4h0m13 7h0m10-7h0m22 2h0m31 4h0m0-4h0m1-1h0m8 10h0m0-9h0m-286 20h0m10-3h0m2-6h0m0 4h0m3 4h0m8-5h0m0 3h0m1 1h0m1-9h0m6 6h0m1-2h0m2 2h0m5 3h0m0 3h0m4-1h0m0-8h0m0 7h0m1 0h0m1 0h0m6-4h0m3-5h0m12 1h0m6 9h0m5-4h0m8 4h0m2-5h0m2 3h0m16-8h0m5 11h0m1 0h0m1-8h0m3 1h0m10 2h0m17-5h0m9 7h0m2 0h0m0-7h0m15 2h0m6 6h0m2-8h0m4 9h0m9-11h0m19 3h0m28-1h0m16-2h0m10 7h0m3-1h0m10 4h0m4 1h0m1 0h0m9-1h0m7-3h0m84 2h0m4-5h0m0 2h0m-399 7h0m14 1h0m1 7h0m6-6h0m2 9h0m5-1h0m3-6h0m0 6h0m0-6h0m2 5h0m2-2h0m3-7h0m1 9h0m1 1h0m1-11h0m0 7h0m1 0h0m1 2h0m1-3h0m1 3h0m2-8h0m0 1h0m8 6h0m2-2h0m10-6h0m5 9h0m4-7h0m12 3h0m8 3h0m17-5h0m4 3h0m3 1h0m15 3h0m7 2h0m5-4h0m3-3h0m5 0h0m10 0h0m1 2h0m17 4h0m4-4h0m96 0h0m8-4h0m2 5h0m0-5h0m5 5h0m14-8h0m80 3h0m2 0h0m0-2h0m-381 14h0m22 1h0m1-3h0m5 8h0m1-9h0m2 1h0m3 3h0m4 0h0m0 1h0m7 3h0m2-4h0m2 4h0m53-8h0m9 9h0m9-5h0m0 1h0m12 2h0m1 4h0m6 0h0m3-6h0m0 5h0m3-4h0m2-2h0m4 0h0m21 5h0m101 3h0m6-4h0m2-5h0m7-2h0m0 2h0m5 0h0m-288 19h0m21-3h0m18-1h0m13 4h0m6-3h0m54-4h0m11 7h0m4-6h0m1 1h0m0-3h0m3 0h0m0 8h0m2-9h0m17 9h0m1-2h0m0-4h0m116 7h0m3-9h0m15 6h0m5-1h0m3-6h0m1 5h0m-250 18h0m4-10h0m5 8h0m8 1h0m2-7h0m1-1h0m14 3h0m2-3h0m28 6h0m3-3h0m10 3h0m6-5h0m11 1h0m12 5h0m3-10h0m6 6h0m1-3h0m0 2h0m4 6h0m5-9h0m0 4h0m0 5h0m102 1h0m4-7h0m1-3h0m7 2h0m6 8h0m5-7h0m-262 19h0m21-3h0m1-3h0m2 6h0m0-7h0m4 4h0m1 3h0m1-1h0m2-10h0m13 8h0m19-1h0m3 0h0m11-3h0m3 3h0m5-2h0m19-5h0m7 0h0m19 0h0m6-1h0m2 7h0m9 1h0m2-2h0m1 0h0m7 5h0m5-6h0m17 4h0m42 3h0m2-9h0m1 9h0m6-1h0m6-11h0m17 8h0m-282 10h0m10 5h0m27-2h0m4-3h0m1-5h0m12 2h0m3 8h0m0-8h0m1 0h0m0 7h0m3-8h0m8 7h0m3-7h0m3 8h0m9-3h0m5 0h0m3-4h0m0 6h0m8-3h0m5 4h0m1-6h0m12 2h0m22-4h0m16 1h0m4 5h0m7 1h0m4-3h0m5 0h0m8 0h0m2-3h0m2 5h0m3-4h0m1 4h0m18-5h0m3 5h0m1-3h0m5 5h0m1 0h0m16 0h0m0 1h0m7-3h0m0-5h0m2 4h0m0 3h0m1 0h0m3-3h0m9 0h0m7-5h0m6 3h0m-290 18h0m2-6h0m4 5h0m9-8h0m8 9h0m0-5h0m7 4h0m5-2h0m1 0h0m0 1h0m1 1h0m1 1h0m18-6h0m18 5h0m1-9h0m8 2h0m17 2h0m25 4h0m73-4h0m8-2h0m2 1h0m10 4h0m7-6h0m12 2h0m6 3h0m3-6h0m13 2h0m5 7h0m0-3h0m13-6h0m-277 17h0m0 1h0m4-4h0m1 7h0m6-1h0m1-5h0m1-2h0m1 3h0m4-1h0m3 3h0m10 3h0m2 2h0m1-9h0m0-1h0m4 3h0m176 1h0m27-5h0m28 2h0m-251 20h0m16-10h0m0 1h0m6 5h0m5-6h0m191 4h0m27 30h0m2 0h0m-1 2h0m5 16h0m0 3h0m1-1h0m1 0h0m1 4h0m1 0h0m-3 1h0" stroke="#d6beba"/><path d="M0 0m3821 1717h0m48 82h0m44 17h0m-67 13h0m14 17h0m45 4h0m-99 17h0m-35 17h0m73 20h0m98-6h0m33 16h0m0 4h0m0 9h0m-3 15h0m182 14h0m-110 10h0m12 0h0m18-7h0m10-2h0m1 1h0m20 7h0m49 1h0m1-5h0m1-3h0m-118 18h0m20-6h0m3 7h0m4-8h0m5 4h0m4-1h0m0-2h0m2 4h0m4-2h0m3 1h0m2 4h0m0-7h0m7 6h0m3-1h0m12 4h0m1-6h0m4-4h0m8 1h0m-87 16h0m15-4h0m2 10h0m7-6h0m1 0h0m4 0h0m4 0h0m2 3h0m41-3h0m9 6h0m2-3h0m4-9h0m11 11h0m1 1h0m-376 10h0m278-4h0m1-3h0m1 4h0m0-4h0m6-2h0m53 2h0m24 6h0m5-1h0m4-4h0m2 7h0m0-5h0m1 5h0m1-9h0m0 5h0m0-5h0m7 10h0m3-6h0m-160 12h0m6 0h0m35-1h0m3 1h0m2-5h0m4 2h0m8 2h0m82-2h0m6 6h0m7-2h0m2-1h0m1-5h0m0 0h0m0 8h0m1 2h0m0-7h0m3 5h0m0 0h0m1-4h0m96 4h0m6-2h0m2-3h0m-262 20h0m7-5h0m2 3h0m30 2h0m2-10h0m4 5h0m0-5h0m106 8h0m1-5h0m0-1h0m2 8h0m0-3h0m0-8h0m1 3h0m1 6h0m2-9h0m1 0h0m1 7h0m0-6h0m5 9h0m6-10h0m85 0h0m-256 17h0m6 3h0m1-3h0m0-2h0m6-2h0m15 10h0m11-1h0m2-10h0m3 2h0m0-2h0m92 4h0m11-3h0m2 1h0m5 0h0m4 1h0m0-3h0m2 4h0m1 3h0m0 4h0m13-3h0m-153 6h0m8-2h0m3 4h0m1 5h0m1-5h0m0-2h0m3 7h0m4-3h0m9 3h0m7-7h0m72 3h0m19-6h0m8 9h0m5-8h0m9 7h0m-152 6h0m8 7h0m7-4h0m32 5h0m3-7h0m46 7h0m25-2h0m1 2h0m3-1h0m1-2h0m0 5h0m2-4h0m2 3h0m4-7h0m3 2h0m2-2h0m3 7h0m3-10h0m10 0h0m0 2h0m-134 11h0m9 9h0m11-2h0m1-2h0m6 1h0m0 3h0m3-2h0m2-3h0m61 2h0m13-7h0m0 8h0m0-2h0m2-4h0m2 3h0m1 0h0m0-1h0m-100 13h0m5-5h0m1 5h0m1 1h0m5 0h0m9-4h0m1 3h0m4 4h0m6 1h0m2-2h0m17-3h0m1 5h0m2-1h0m8-7h0m6 7h0m1 2h0m8-2h0m3 0h0m2-6h0m3-1h0m5-1h0m3 0h0m0 1h0m1 9h0m8-10h0m3 5h0m-96 8h0m7 1h0m1 0h0m10 1h0m2-1h0m1 2h0m4 2h0m3-7h0m2 6h0m1 4h0m0-9h0m1 2h0m9-1h0m1 5h0m2-4h0m0-2h0m4 1h0m1 5h0m1 4h0m1-5h0m2 2h0m9-5h0m1 5h0m2-3h0m2-2h0m8-2h0m1 1h0m-59 10h0m15 3h0m14-3h0m3 5h0m19 41h0m0 6h0m0-5h0m1 2h0m1 0h0m5 14h0m1 7h0" stroke="#d68c81"/><path d="M0 0m3809 1719h0m-20 53h0m77 44h0m0 31h0m19-11h0m18 11h0m3-7h0m-112 27h0m15 4h0m-3 2h0m24 11h0m-63 0h0m60 16h0m-119 43h0m14 10h0m13 58h0m-63 14h0m44-4h0m85 102h0" stroke="#d57465"/><path d="M0 0m3836 1807h0m12 61h0m15-6h0m53 8h0m-113 10h0m31 26h0m-118 91h0m8 79h0" stroke="#d55c48"/></g><circle cx="1177.8" cy="792.8" r="6" fill="#f1a8b6"/><text x="1194.2" y="799" font-size="19.6" textLength="69.5" lengthAdjust="spacingAndGlyphs">homMG</text><circle cx="1177.8" cy="812.5" r="6" fill="#b09278"/><text x="1194.2" y="818.7" font-size="19.6" textLength="90.7" lengthAdjust="spacingAndGlyphs">repopMG1</text><circle cx="1177.8" cy="833.6" r="6" fill="#c684f2"/><text x="1194.2" y="839.8" font-size="19.6" textLength="92.1" lengthAdjust="spacingAndGlyphs">repopMG2</text><circle cx="1326.4" cy="788.6" r="6" fill="#6cf0b6"/><text x="1342.8" y="794.8" font-size="19.6" textLength="121.9" lengthAdjust="spacingAndGlyphs">Lyve1_sdCAM</text><circle cx="1326.4" cy="810.3" r="6" fill="#a62dc9"/><text x="1342.8" y="816.5" font-size="19.6" textLength="123.3" lengthAdjust="spacingAndGlyphs">MHCII_sdCAM</text><circle cx="1326.4" cy="832.5" r="6" fill="#fa46e1"/><text x="1342.8" y="838.7" font-size="19.6" textLength="64.2" lengthAdjust="spacingAndGlyphs">diffMac</text><circle cx="1326.4" cy="854.2" r="6" fill="#e8962e"/><text x="1342.8" y="860.4" font-size="19.6" textLength="114.9" lengthAdjust="spacingAndGlyphs">dividingMac1</text><circle cx="1326.4" cy="875.9" r="6" fill="#dfa4f3"/><text x="1342.8" y="882.1" font-size="19.6" textLength="116.8" lengthAdjust="spacingAndGlyphs">dividingMac2</text><circle cx="1742.3" cy="863.5" r="6.5" fill="#e89b2f"/><text x="1766.8" y="870.3" font-size="19.6" textLength="32" lengthAdjust="spacingAndGlyphs">CTL</text><circle cx="1742.3" cy="889.3" r="6.5" fill="#8a42b9"/><text x="1766.8" y="896.1" font-size="19.6" textLength="21.7" lengthAdjust="spacingAndGlyphs">5d</text><circle cx="1742.3" cy="915" r="6.5" fill="#5fe87e"/><text x="1766.8" y="921.8" font-size="19.6" textLength="25.7" lengthAdjust="spacingAndGlyphs">8w</text><path d="M1162 1043.5V1089.5H1208" stroke="#000" stroke-width="1.1" fill="none"/><path d="M1162 1036.5l-3.6 9h7.2zM1215 1089.5l-9-3.6v7.2z" fill="#000"/><text x="1165.5" y="1079.8" font-size="19.6" textLength="52.5" lengthAdjust="spacingAndGlyphs">UMAP</text><path d="M1506.6 1043.5V1089.5H1552.6" stroke="#000" stroke-width="1.1" fill="none"/><path d="M1506.6 1036.5l-3.6 9h7.2zM1559.6 1089.5l-9-3.6v7.2z" fill="#000"/><text x="1510" y="1079.8" font-size="19.6" textLength="52.5" lengthAdjust="spacingAndGlyphs">UMAP</text><text x="1963" y="873.6" font-size="22" font-style="italic" textLength="36" lengthAdjust="spacingAndGlyphs">Nes</text><defs><linearGradient id="gn" x1="0" y1="0" x2="0" y2="1"><stop offset="0" stop-color="#d73a22"/><stop offset="0.5" stop-color="#d98a7a"/><stop offset="1" stop-color="#d9d9d9"/></linearGradient></defs><rect x="2095" y="853" width="17.7" height="87.8" fill="url(#gn)"/><path d="M2095 880.3h3.5M2112.7 880.3h-3.5M2095 911.3h3.5M2112.7 911.3h-3.5" stroke="#fff" stroke-width="0.8" fill="none"/><text x="2117.3" y="887" font-size="19">2</text><text x="2117.3" y="918" font-size="19">1</text><text x="2117.3" y="946.5" font-size="19">0</text></g>
<g><text x="893.6" y="1126" font-size="36.5" font-weight="bold">h</text><rect x="1000.7" y="1196.6" width="151.1" height="289" fill="#f2f2f2"/><text x="1078.2" y="1190.8" font-size="22.7" text-anchor="middle" textLength="112.9" lengthAdjust="spacingAndGlyphs">Endothelia</text><rect x="1176" y="1196.6" width="149.5" height="289" fill="#f2f2f2"/><text x="1252.6" y="1190.8" font-size="22.7" text-anchor="middle" textLength="114.9" lengthAdjust="spacingAndGlyphs">Fibroblasts</text><rect x="1351" y="1196.6" width="82.9" height="289" fill="#f2f2f2"/><text x="1392.2" y="1190.8" font-size="22.7" text-anchor="middle" textLength="60.2" lengthAdjust="spacingAndGlyphs">Mural</text><rect x="1457.5" y="1196.6" width="105" height="289" fill="#f2f2f2"/><text x="1509.9" y="1190.8" font-size="22.7" text-anchor="middle" textLength="53.5" lengthAdjust="spacingAndGlyphs">Macs</text><rect x="1585.8" y="1196.6" width="105.2" height="289" fill="#e8e9e9"/><text x="1637.7" y="1190.8" font-size="22.7" text-anchor="middle" textLength="116.6" lengthAdjust="spacingAndGlyphs">repopMacs</text><rect x="1713.2" y="1196.6" width="37.9" height="289" fill="#e8e9e9"/><text x="1736.5" y="1190.8" font-size="22.7" text-anchor="middle" textLength="61.7" lengthAdjust="spacingAndGlyphs">Mono</text><rect x="1775.5" y="1196.6" width="172.4" height="289" fill="#f2f2f2"/><text x="1862" y="1190.8" font-size="22.7" text-anchor="middle" textLength="88.2" lengthAdjust="spacingAndGlyphs">Immune</text><rect x="1969.8" y="1196.6" width="149.8" height="289" fill="#f2f2f2"/><text x="2045.4" y="1190.8" font-size="22.7" text-anchor="middle" textLength="60.3" lengthAdjust="spacingAndGlyphs">Other</text><circle cx="1014" cy="1210.2" r="1.84" fill="#8e8e52"/><circle cx="1036.2" cy="1210.2" r="1.84" fill="#8e8e52"/><circle cx="1058.6" cy="1210.2" r="1.84" fill="#8e8e52"/><circle cx="1080.8" cy="1210.2" r="1.28" fill="#6b7a66"/><circle cx="1103.1" cy="1210.2" r="1.28" fill="#6b7a66"/><circle cx="1125.5" cy="1210.2" r="1.28" fill="#6b7a66"/><circle cx="1147.9" cy="1210.2" r="1.28" fill="#6b7a66"/><circle cx="1186.5" cy="1210.2" r="0.83" fill="#777b72"/><circle cx="1208.9" cy="1210.2" r="0.83" fill="#777b72"/><circle cx="1231.3" cy="1210.2" r="0.83" fill="#777b72"/><circle cx="1253.7" cy="1210.2" r="0.83" fill="#777b72"/><circle cx="1275.9" cy="1210.2" r="0.83" fill="#777b72"/><circle cx="1298.2" cy="1210.2" r="0.83" fill="#777b72"/><circle cx="1320.6" cy="1210.2" r="0.83" fill="#777b72"/><circle cx="1359.5" cy="1210.2" r="0.83" fill="#777b72"/><circle cx="1381.8" cy="1210.2" r="0.83" fill="#777b72"/><circle cx="1403.7" cy="1210.2" r="0.83" fill="#777b72"/><circle cx="1425.9" cy="1210.2" r="0.83" fill="#777b72"/><circle cx="1465.5" cy="1210.2" r="2.2" fill="#8e8e52"/><circle cx="1487.7" cy="1210.2" r="1.47" fill="#7d8560"/><circle cx="1509.9" cy="1210.2" r="2.02" fill="#b19d44"/><circle cx="1532.3" cy="1210.2" r="2.75" fill="#b19d44"/><circle cx="1554.7" cy="1210.2" r="2.2" fill="#8e8e52"/><circle cx="1593.6" cy="1210.2" r="3.3" fill="#b19d44"/><circle cx="1616" cy="1210.2" r="3.12" fill="#8e8e52"/><circle cx="1638.2" cy="1210.2" r="3.3" fill="#8e8e52"/><circle cx="1660.6" cy="1210.2" r="3.12" fill="#7d8560"/><circle cx="1683" cy="1210.2" r="2.94" fill="#8e8e52"/><circle cx="1721.9" cy="1210.2" r="4.04" fill="#eec02f"/><circle cx="1744.1" cy="1210.2" r="4.22" fill="#eec02f"/><circle cx="1783.2" cy="1210.2" r="2.57" fill="#8e8e52"/><circle cx="1805.6" cy="1210.2" r="2.02" fill="#7d8560"/><circle cx="1827.8" cy="1210.2" r="3.85" fill="#eec02f"/><circle cx="1850" cy="1210.2" r="2.02" fill="#cfad3a"/><circle cx="1872.4" cy="1210.2" r="1.65" fill="#7d8560"/><circle cx="1894.8" cy="1210.2" r="2.57" fill="#b19d44"/><circle cx="1917" cy="1210.2" r="3.12" fill="#cfad3a"/><circle cx="1939.4" cy="1210.2" r="1.65" fill="#7d8560"/><circle cx="1978.3" cy="1210.2" r="0.55" fill="#777b72"/><circle cx="2000.7" cy="1210.2" r="0.73" fill="#777b72"/><circle cx="2022.9" cy="1210.2" r="0.73" fill="#777b72"/><circle cx="2045.3" cy="1210.2" r="0.73" fill="#777b72"/><circle cx="2067.7" cy="1210.2" r="0.73" fill="#777b72"/><circle cx="2089.9" cy="1210.2" r="0.73" fill="#777b72"/><circle cx="2112.3" cy="1210.2" r="1.1" fill="#7d8560"/><circle cx="1014" cy="1232.8" r="3.58" fill="#eec02f"/><circle cx="1036.2" cy="1232.8" r="4.22" fill="#eec02f"/><circle cx="1058.6" cy="1232.8" r="3.03" fill="#8e8e52"/><circle cx="1080.8" cy="1232.8" r="1.84" fill="#7d8560"/><circle cx="1103.1" cy="1232.8" r="1.84" fill="#7d8560"/><circle cx="1125.5" cy="1232.8" r="2.29" fill="#7d8560"/><circle cx="1147.9" cy="1232.8" r="2.29" fill="#7d8560"/><circle cx="1186.5" cy="1232.8" r="2.29" fill="#8e8e52"/><circle cx="1208.9" cy="1232.8" r="4.22" fill="#b19d44"/><circle cx="1231.3" cy="1232.8" r="3.58" fill="#eec02f"/><circle cx="1253.7" cy="1232.8" r="3.58" fill="#b19d44"/><circle cx="1275.9" cy="1232.8" r="4.22" fill="#8e8e52"/><circle cx="1298.2" cy="1232.8" r="2.29" fill="#cfad3a"/><circle cx="1320.6" cy="1232.8" r="1.28" fill="#cfad3a"/><circle cx="1359.5" cy="1232.8" r="3.03" fill="#eec02f"/><circle cx="1381.8" cy="1232.8" r="1.84" fill="#8e8e52"/><circle cx="1403.7" cy="1232.8" r="1.28" fill="#6b7a66"/><circle cx="1425.9" cy="1232.8" r="2.29" fill="#7d8560"/><circle cx="1465.5" cy="1232.8" r="2.57" fill="#8e8e52"/><circle cx="1487.7" cy="1232.8" r="1.65" fill="#7d8560"/><circle cx="1509.9" cy="1232.8" r="2.2" fill="#8e8e52"/><circle cx="1532.3" cy="1232.8" r="2.94" fill="#8e8e52"/><circle cx="1554.7" cy="1232.8" r="2.57" fill="#7d8560"/><circle cx="1593.6" cy="1232.8" r="3.49" fill="#8e8e52"/><circle cx="1616" cy="1232.8" r="3.67" fill="#6b7a66"/><circle cx="1638.2" cy="1232.8" r="3.85" fill="#7d8560"/><circle cx="1660.6" cy="1232.8" r="4.41" fill="#6b7a66"/><circle cx="1683" cy="1232.8" r="4.22" fill="#8e8e52"/><circle cx="1721.9" cy="1232.8" r="3.12" fill="#b19d44"/><circle cx="1744.1" cy="1232.8" r="3.49" fill="#cfad3a"/><circle cx="1783.2" cy="1232.8" r="3.67" fill="#8e8e52"/><circle cx="1805.6" cy="1232.8" r="2.75" fill="#7d8560"/><circle cx="1827.8" cy="1232.8" r="2.02" fill="#6b7a66"/><circle cx="1850" cy="1232.8" r="2.75" fill="#cfad3a"/><circle cx="1872.4" cy="1232.8" r="2.02" fill="#7d8560"/><circle cx="1894.8" cy="1232.8" r="2.2" fill="#7d8560"/><circle cx="1917" cy="1232.8" r="2.39" fill="#7d8560"/><circle cx="1939.4" cy="1232.8" r="1.1" fill="#6b7a66"/><circle cx="1978.3" cy="1232.8" r="1.1" fill="#6b7a66"/><circle cx="2000.7" cy="1232.8" r="1.47" fill="#7d8560"/><circle cx="2022.9" cy="1232.8" r="1.28" fill="#6b7a66"/><circle cx="2045.3" cy="1232.8" r="0.73" fill="#777b72"/><circle cx="2067.7" cy="1232.8" r="0.73" fill="#777b72"/><circle cx="2089.9" cy="1232.8" r="0.73" fill="#777b72"/><circle cx="2112.3" cy="1232.8" r="0.92" fill="#777b72"/><circle cx="1014" cy="1255.2" r="0.83" fill="#777b72"/><circle cx="1036.2" cy="1255.2" r="0.83" fill="#777b72"/><circle cx="1058.6" cy="1255.2" r="1.28" fill="#6b7a66"/><circle cx="1080.8" cy="1255.2" r="0.83" fill="#777b72"/><circle cx="1103.1" cy="1255.2" r="1.28" fill="#6b7a66"/><circle cx="1125.5" cy="1255.2" r="0.83" fill="#777b72"/><circle cx="1147.9" cy="1255.2" r="0.83" fill="#777b72"/><circle cx="1186.5" cy="1255.2" r="1.28" fill="#6b7a66"/><circle cx="1208.9" cy="1255.2" r="0.83" fill="#777b72"/><circle cx="1231.3" cy="1255.2" r="1.28" fill="#6b7a66"/><circle cx="1253.7" cy="1255.2" r="0.83" fill="#777b72"/><circle cx="1275.9" cy="1255.2" r="0.83" fill="#777b72"/><circle cx="1298.2" cy="1255.2" r="0.83" fill="#777b72"/><circle cx="1320.6" cy="1255.2" r="0.83" fill="#777b72"/><circle cx="1359.5" cy="1255.2" r="1.28" fill="#6b7a66"/><circle cx="1381.8" cy="1255.2" r="0.83" fill="#777b72"/><circle cx="1403.7" cy="1255.2" r="0.83" fill="#777b72"/><circle cx="1425.9" cy="1255.2" r="0.83" fill="#777b72"/><circle cx="1465.5" cy="1255.2" r="2.39" fill="#b19d44"/><circle cx="1487.7" cy="1255.2" r="1.65" fill="#7d8560"/><circle cx="1509.9" cy="1255.2" r="3.3" fill="#cfad3a"/><circle cx="1532.3" cy="1255.2" r="2.2" fill="#8e8e52"/><circle cx="1554.7" cy="1255.2" r="3.12" fill="#b19d44"/><circle cx="1593.6" cy="1255.2" r="4.59" fill="#cfad3a"/><circle cx="1616" cy="1255.2" r="5.51" fill="#cfad3a"/><circle cx="1638.2" cy="1255.2" r="4.22" fill="#cfad3a"/><circle cx="1660.6" cy="1255.2" r="5.87" fill="#b19d44"/><circle cx="1683" cy="1255.2" r="5.51" fill="#cfad3a"/><circle cx="1721.9" cy="1255.2" r="1.65" fill="#7d8560"/><circle cx="1744.1" cy="1255.2" r="2.2" fill="#8e8e52"/><circle cx="1783.2" cy="1255.2" r="2.02" fill="#7d8560"/><circle cx="1805.6" cy="1255.2" r="2.94" fill="#8e8e52"/><circle cx="1827.8" cy="1255.2" r="3.12" fill="#b19d44"/><circle cx="1850" cy="1255.2" r="1.84" fill="#7d8560"/><circle cx="1872.4" cy="1255.2" r="2.02" fill="#7d8560"/><circle cx="1894.8" cy="1255.2" r="2.75" fill="#b19d44"/><circle cx="1917" cy="1255.2" r="2.57" fill="#8e8e52"/><circle cx="1939.4" cy="1255.2" r="4.41" fill="#eec02f"/><circle cx="1978.3" cy="1255.2" r="0.73" fill="#777b72"/><circle cx="2000.7" cy="1255.2" r="0.73" fill="#777b72"/><circle cx="2022.9" cy="1255.2" r="0.73" fill="#777b72"/><circle cx="2045.3" cy="1255.2" r="0.73" fill="#777b72"/><circle cx="2067.7" cy="1255.2" r="0.73" fill="#777b72"/><circle cx="2089.9" cy="1255.2" r="0.73" fill="#777b72"/><circle cx="2112.3" cy="1255.2" r="1.47" fill="#8e8e52"/><circle cx="1014" cy="1285.9" r="0.83" fill="#777b72"/><circle cx="1036.2" cy="1285.9" r="0.83" fill="#777b72"/><circle cx="1058.6" cy="1285.9" r="0.83" fill="#777b72"/><circle cx="1080.8" cy="1285.9" r="0.83" fill="#777b72"/><circle cx="1103.1" cy="1285.9" r="0.83" fill="#777b72"/><circle cx="1125.5" cy="1285.9" r="0.83" fill="#777b72"/><circle cx="1147.9" cy="1285.9" r="0.83" fill="#777b72"/><circle cx="1186.5" cy="1285.9" r="0.83" fill="#777b72"/><circle cx="1208.9" cy="1285.9" r="0.83" fill="#777b72"/><circle cx="1231.3" cy="1285.9" r="0.83" fill="#777b72"/><circle cx="1253.7" cy="1285.9" r="0.83" fill="#777b72"/><circle cx="1275.9" cy="1285.9" r="0.83" fill="#777b72"/><circle cx="1298.2" cy="1285.9" r="0.83" fill="#777b72"/><circle cx="1320.6" cy="1285.9" r="0.83" fill="#777b72"/><circle cx="1359.5" cy="1285.9" r="1.28" fill="#6b7a66"/><circle cx="1381.8" cy="1285.9" r="0.83" fill="#777b72"/><circle cx="1403.7" cy="1285.9" r="0.83" fill="#777b72"/><circle cx="1425.9" cy="1285.9" r="0.83" fill="#777b72"/><circle cx="1465.5" cy="1285.9" r="1.1" fill="#7d8560"/><circle cx="1487.7" cy="1285.9" r="1.1" fill="#7d8560"/><circle cx="1509.9" cy="1285.9" r="1.28" fill="#7d8560"/><circle cx="1532.3" cy="1285.9" r="0.73" fill="#777b72"/><circle cx="1554.7" cy="1285.9" r="2.39" fill="#b19d44"/><circle cx="1593.6" cy="1285.9" r="2.57" fill="#b19d44"/><circle cx="1616" cy="1285.9" r="1.28" fill="#7d8560"/><circle cx="1638.2" cy="1285.9" r="1.1" fill="#7d8560"/><circle cx="1660.6" cy="1285.9" r="1.28" fill="#7d8560"/><circle cx="1683" cy="1285.9" r="1.84" fill="#7d8560"/><circle cx="1721.9" cy="1285.9" r="2.94" fill="#eec02f"/><circle cx="1744.1" cy="1285.9" r="3.3" fill="#eec02f"/><circle cx="1783.2" cy="1285.9" r="1.84" fill="#8e8e52"/><circle cx="1805.6" cy="1285.9" r="1.1" fill="#7d8560"/><circle cx="1827.8" cy="1285.9" r="2.02" fill="#8e8e52"/><circle cx="1850" cy="1285.9" r="3.3" fill="#eec02f"/><circle cx="1872.4" cy="1285.9" r="2.02" fill="#cfad3a"/><circle cx="1894.8" cy="1285.9" r="2.39" fill="#b19d44"/><circle cx="1917" cy="1285.9" r="1.84" fill="#8e8e52"/><circle cx="1939.4" cy="1285.9" r="0.73" fill="#777b72"/><circle cx="1978.3" cy="1285.9" r="0.73" fill="#777b72"/><circle cx="2000.7" cy="1285.9" r="0.73" fill="#777b72"/><circle cx="2022.9" cy="1285.9" r="0.73" fill="#777b72"/><circle cx="2045.3" cy="1285.9" r="0.73" fill="#777b72"/><circle cx="2067.7" cy="1285.9" r="0.73" fill="#777b72"/><circle cx="2089.9" cy="1285.9" r="0.73" fill="#777b72"/><circle cx="2112.3" cy="1285.9" r="2.39" fill="#b19d44"/><circle cx="1014" cy="1308.4" r="0.83" fill="#777b72"/><circle cx="1036.2" cy="1308.4" r="0.83" fill="#777b72"/><circle cx="1058.6" cy="1308.4" r="0.83" fill="#777b72"/><circle cx="1080.8" cy="1308.4" r="0.83" fill="#777b72"/><circle cx="1103.1" cy="1308.4" r="0.83" fill="#777b72"/><circle cx="1125.5" cy="1308.4" r="0.83" fill="#777b72"/><circle cx="1147.9" cy="1308.4" r="0.83" fill="#777b72"/><circle cx="1186.5" cy="1308.4" r="0.83" fill="#777b72"/><circle cx="1208.9" cy="1308.4" r="0.83" fill="#777b72"/><circle cx="1231.3" cy="1308.4" r="0.83" fill="#777b72"/><circle cx="1253.7" cy="1308.4" r="0.83" fill="#777b72"/><circle cx="1275.9" cy="1308.4" r="0.83" fill="#777b72"/><circle cx="1298.2" cy="1308.4" r="0.83" fill="#777b72"/><circle cx="1320.6" cy="1308.4" r="0.83" fill="#777b72"/><circle cx="1359.5" cy="1308.4" r="0.83" fill="#777b72"/><circle cx="1381.8" cy="1308.4" r="0.83" fill="#777b72"/><circle cx="1403.7" cy="1308.4" r="0.83" fill="#777b72"/><circle cx="1425.9" cy="1308.4" r="0.83" fill="#777b72"/><circle cx="1465.5" cy="1308.4" r="1.1" fill="#7d8560"/><circle cx="1487.7" cy="1308.4" r="5.14" fill="#eec02f"/><circle cx="1509.9" cy="1308.4" r="2.2" fill="#8e8e52"/><circle cx="1532.3" cy="1308.4" r="0.73" fill="#777b72"/><circle cx="1554.7" cy="1308.4" r="2.75" fill="#8e8e52"/><circle cx="1593.6" cy="1308.4" r="5.32" fill="#cfad3a"/><circle cx="1616" cy="1308.4" r="1.65" fill="#7d8560"/><circle cx="1638.2" cy="1308.4" r="1.1" fill="#7d8560"/><circle cx="1660.6" cy="1308.4" r="1.47" fill="#7d8560"/><circle cx="1683" cy="1308.4" r="2.57" fill="#8e8e52"/><circle cx="1721.9" cy="1308.4" r="6.42" fill="#eec02f"/><circle cx="1744.1" cy="1308.4" r="3.67" fill="#cfad3a"/><circle cx="1783.2" cy="1308.4" r="6.24" fill="#cfad3a"/><circle cx="1805.6" cy="1308.4" r="6.06" fill="#eec02f"/><circle cx="1827.8" cy="1308.4" r="1.84" fill="#7d8560"/><circle cx="1850" cy="1308.4" r="1.28" fill="#7d8560"/><circle cx="1872.4" cy="1308.4" r="2.2" fill="#7d8560"/><circle cx="1894.8" cy="1308.4" r="4.22" fill="#b19d44"/><circle cx="1917" cy="1308.4" r="2.75" fill="#8e8e52"/><circle cx="1939.4" cy="1308.4" r="1.28" fill="#7d8560"/><circle cx="1978.3" cy="1308.4" r="0.73" fill="#777b72"/><circle cx="2000.7" cy="1308.4" r="0.73" fill="#777b72"/><circle cx="2022.9" cy="1308.4" r="0.73" fill="#777b72"/><circle cx="2045.3" cy="1308.4" r="0.73" fill="#777b72"/><circle cx="2067.7" cy="1308.4" r="0.73" fill="#777b72"/><circle cx="2089.9" cy="1308.4" r="0.73" fill="#777b72"/><circle cx="2112.3" cy="1308.4" r="1.28" fill="#7d8560"/><circle cx="1014" cy="1339.3" r="0.83" fill="#777b72"/><circle cx="1036.2" cy="1339.3" r="0.83" fill="#777b72"/><circle cx="1058.6" cy="1339.3" r="1.28" fill="#6b7a66"/><circle cx="1080.8" cy="1339.3" r="1.28" fill="#6b7a66"/><circle cx="1103.1" cy="1339.3" r="1.28" fill="#6b7a66"/><circle cx="1125.5" cy="1339.3" r="1.28" fill="#6b7a66"/><circle cx="1147.9" cy="1339.3" r="1.28" fill="#6b7a66"/><circle cx="1186.5" cy="1339.3" r="1.84" fill="#7d8560"/><circle cx="1208.9" cy="1339.3" r="1.28" fill="#6b7a66"/><circle cx="1231.3" cy="1339.3" r="1.84" fill="#7d8560"/><circle cx="1253.7" cy="1339.3" r="1.28" fill="#6b7a66"/><circle cx="1275.9" cy="1339.3" r="0.83" fill="#777b72"/><circle cx="1298.2" cy="1339.3" r="0.83" fill="#777b72"/><circle cx="1320.6" cy="1339.3" r="0.83" fill="#777b72"/><circle cx="1359.5" cy="1339.3" r="1.84" fill="#7d8560"/><circle cx="1381.8" cy="1339.3" r="0.83" fill="#777b72"/><circle cx="1403.7" cy="1339.3" r="0.83" fill="#777b72"/><circle cx="1425.9" cy="1339.3" r="0.83" fill="#777b72"/><circle cx="1465.5" cy="1339.3" r="3.85" fill="#eec02f"/><circle cx="1487.7" cy="1339.3" r="2.2" fill="#b19d44"/><circle cx="1509.9" cy="1339.3" r="3.12" fill="#cfad3a"/><circle cx="1532.3" cy="1339.3" r="2.75" fill="#8e8e52"/><circle cx="1554.7" cy="1339.3" r="2.02" fill="#7d8560"/><circle cx="1593.6" cy="1339.3" r="3.67" fill="#cfad3a"/><circle cx="1616" cy="1339.3" r="6.06" fill="#eec02f"/><circle cx="1638.2" cy="1339.3" r="4.22" fill="#b19d44"/><circle cx="1660.6" cy="1339.3" r="6.42" fill="#eec02f"/><circle cx="1683" cy="1339.3" r="4.59" fill="#b19d44"/><circle cx="1721.9" cy="1339.3" r="0.92" fill="#777b72"/><circle cx="1744.1" cy="1339.3" r="1.65" fill="#7d8560"/><circle cx="1783.2" cy="1339.3" r="2.39" fill="#7d8560"/><circle cx="1805.6" cy="1339.3" r="1.84" fill="#7d8560"/><circle cx="1827.8" cy="1339.3" r="0.73" fill="#777b72"/><circle cx="1850" cy="1339.3" r="1.65" fill="#7d8560"/><circle cx="1872.4" cy="1339.3" r="2.94" fill="#8e8e52"/><circle cx="1894.8" cy="1339.3" r="2.75" fill="#b19d44"/><circle cx="1917" cy="1339.3" r="2.57" fill="#8e8e52"/><circle cx="1939.4" cy="1339.3" r="1.65" fill="#7d8560"/><circle cx="1978.3" cy="1339.3" r="1.65" fill="#7d8560"/><circle cx="2000.7" cy="1339.3" r="1.65" fill="#7d8560"/><circle cx="2022.9" cy="1339.3" r="0.73" fill="#777b72"/><circle cx="2045.3" cy="1339.3" r="0.73" fill="#777b72"/><circle cx="2067.7" cy="1339.3" r="0.73" fill="#777b72"/><circle cx="2089.9" cy="1339.3" r="0.73" fill="#777b72"/><circle cx="2112.3" cy="1339.3" r="2.02" fill="#8e8e52"/><circle cx="1014" cy="1361.7" r="0.83" fill="#777b72"/><circle cx="1036.2" cy="1361.7" r="0.83" fill="#777b72"/><circle cx="1058.6" cy="1361.7" r="0.83" fill="#777b72"/><circle cx="1080.8" cy="1361.7" r="0.83" fill="#777b72"/><circle cx="1103.1" cy="1361.7" r="0.83" fill="#777b72"/><circle cx="1125.5" cy="1361.7" r="0.83" fill="#777b72"/><circle cx="1147.9" cy="1361.7" r="0.83" fill="#777b72"/><circle cx="1186.5" cy="1361.7" r="0.83" fill="#777b72"/><circle cx="1208.9" cy="1361.7" r="0.83" fill="#777b72"/><circle cx="1231.3" cy="1361.7" r="0.83" fill="#777b72"/><circle cx="1253.7" cy="1361.7" r="0.83" fill="#777b72"/><circle cx="1275.9" cy="1361.7" r="0.83" fill="#777b72"/><circle cx="1298.2" cy="1361.7" r="0.83" fill="#777b72"/><circle cx="1320.6" cy="1361.7" r="0.83" fill="#777b72"/><circle cx="1359.5" cy="1361.7" r="0.83" fill="#777b72"/><circle cx="1381.8" cy="1361.7" r="0.83" fill="#777b72"/><circle cx="1403.7" cy="1361.7" r="0.83" fill="#777b72"/><circle cx="1425.9" cy="1361.7" r="0.83" fill="#777b72"/><circle cx="1465.5" cy="1361.7" r="1.1" fill="#7d8560"/><circle cx="1487.7" cy="1361.7" r="1.1" fill="#7d8560"/><circle cx="1509.9" cy="1361.7" r="1.84" fill="#8e8e52"/><circle cx="1532.3" cy="1361.7" r="1.65" fill="#7d8560"/><circle cx="1554.7" cy="1361.7" r="4.96" fill="#eec02f"/><circle cx="1593.6" cy="1361.7" r="4.41" fill="#cfad3a"/><circle cx="1616" cy="1361.7" r="2.39" fill="#8e8e52"/><circle cx="1638.2" cy="1361.7" r="2.2" fill="#8e8e52"/><circle cx="1660.6" cy="1361.7" r="2.75" fill="#8e8e52"/><circle cx="1683" cy="1361.7" r="3.49" fill="#b19d44"/><circle cx="1721.9" cy="1361.7" r="4.59" fill="#eec02f"/><circle cx="1744.1" cy="1361.7" r="3.3" fill="#cfad3a"/><circle cx="1783.2" cy="1361.7" r="1.65" fill="#7d8560"/><circle cx="1805.6" cy="1361.7" r="3.49" fill="#b19d44"/><circle cx="1827.8" cy="1361.7" r="2.39" fill="#8e8e52"/><circle cx="1850" cy="1361.7" r="1.28" fill="#7d8560"/><circle cx="1872.4" cy="1361.7" r="1.65" fill="#7d8560"/><circle cx="1894.8" cy="1361.7" r="2.2" fill="#8e8e52"/><circle cx="1917" cy="1361.7" r="1.84" fill="#7d8560"/><circle cx="1939.4" cy="1361.7" r="1.28" fill="#7d8560"/><circle cx="1978.3" cy="1361.7" r="0.73" fill="#777b72"/><circle cx="2000.7" cy="1361.7" r="0.73" fill="#777b72"/><circle cx="2022.9" cy="1361.7" r="0.73" fill="#777b72"/><circle cx="2045.3" cy="1361.7" r="0.73" fill="#777b72"/><circle cx="2067.7" cy="1361.7" r="0.73" fill="#777b72"/><circle cx="2089.9" cy="1361.7" r="0.73" fill="#777b72"/><circle cx="2112.3" cy="1361.7" r="1.1" fill="#7d8560"/><circle cx="1014" cy="1384" r="0.83" fill="#777b72"/><circle cx="1036.2" cy="1384" r="0.83" fill="#777b72"/><circle cx="1058.6" cy="1384" r="0.83" fill="#777b72"/><circle cx="1080.8" cy="1384" r="0.83" fill="#777b72"/><circle cx="1103.1" cy="1384" r="0.83" fill="#777b72"/><circle cx="1125.5" cy="1384" r="0.83" fill="#777b72"/><circle cx="1147.9" cy="1384" r="0.83" fill="#777b72"/><circle cx="1186.5" cy="1384" r="2.29" fill="#8e8e52"/><circle cx="1208.9" cy="1384" r="2.29" fill="#8e8e52"/><circle cx="1231.3" cy="1384" r="3.58" fill="#eec02f"/><circle cx="1253.7" cy="1384" r="1.28" fill="#6b7a66"/><circle cx="1275.9" cy="1384" r="1.28" fill="#6b7a66"/><circle cx="1298.2" cy="1384" r="1.28" fill="#6b7a66"/><circle cx="1320.6" cy="1384" r="0.83" fill="#777b72"/><circle cx="1359.5" cy="1384" r="2.29" fill="#8e8e52"/><circle cx="1381.8" cy="1384" r="0.83" fill="#777b72"/><circle cx="1403.7" cy="1384" r="0.83" fill="#777b72"/><circle cx="1425.9" cy="1384" r="1.28" fill="#6b7a66"/><circle cx="1465.5" cy="1384" r="3.67" fill="#cfad3a"/><circle cx="1487.7" cy="1384" r="1.28" fill="#7d8560"/><circle cx="1509.9" cy="1384" r="4.22" fill="#cfad3a"/><circle cx="1532.3" cy="1384" r="0.73" fill="#777b72"/><circle cx="1554.7" cy="1384" r="2.94" fill="#8e8e52"/><circle cx="1593.6" cy="1384" r="4.22" fill="#cfad3a"/><circle cx="1616" cy="1384" r="2.57" fill="#8e8e52"/><circle cx="1638.2" cy="1384" r="1.47" fill="#7d8560"/><circle cx="1660.6" cy="1384" r="3.3" fill="#8e8e52"/><circle cx="1683" cy="1384" r="3.12" fill="#8e8e52"/><circle cx="1721.9" cy="1384" r="0.73" fill="#777b72"/><circle cx="1744.1" cy="1384" r="1.65" fill="#7d8560"/><circle cx="1783.2" cy="1384" r="2.94" fill="#8e8e52"/><circle cx="1805.6" cy="1384" r="1.47" fill="#7d8560"/><circle cx="1827.8" cy="1384" r="2.39" fill="#7d8560"/><circle cx="1850" cy="1384" r="1.65" fill="#7d8560"/><circle cx="1872.4" cy="1384" r="2.94" fill="#8e8e52"/><circle cx="1894.8" cy="1384" r="3.67" fill="#b19d44"/><circle cx="1917" cy="1384" r="1.84" fill="#8e8e52"/><circle cx="1939.4" cy="1384" r="5.51" fill="#eec02f"/><circle cx="1978.3" cy="1384" r="2.2" fill="#8e8e52"/><circle cx="2000.7" cy="1384" r="2.2" fill="#8e8e52"/><circle cx="2022.9" cy="1384" r="0.73" fill="#777b72"/><circle cx="2045.3" cy="1384" r="0.73" fill="#777b72"/><circle cx="2067.7" cy="1384" r="0.73" fill="#777b72"/><circle cx="2089.9" cy="1384" r="0.73" fill="#777b72"/><circle cx="2112.3" cy="1384" r="3.3" fill="#8e8e52"/><circle cx="1014" cy="1406.4" r="0.83" fill="#777b72"/><circle cx="1036.2" cy="1406.4" r="0.83" fill="#777b72"/><circle cx="1058.6" cy="1406.4" r="0.83" fill="#777b72"/><circle cx="1080.8" cy="1406.4" r="0.83" fill="#777b72"/><circle cx="1103.1" cy="1406.4" r="0.83" fill="#777b72"/><circle cx="1125.5" cy="1406.4" r="0.83" fill="#777b72"/><circle cx="1147.9" cy="1406.4" r="0.83" fill="#777b72"/><circle cx="1186.5" cy="1406.4" r="1.28" fill="#6b7a66"/><circle cx="1208.9" cy="1406.4" r="0.83" fill="#777b72"/><circle cx="1231.3" cy="1406.4" r="1.28" fill="#6b7a66"/><circle cx="1253.7" cy="1406.4" r="0.83" fill="#777b72"/><circle cx="1275.9" cy="1406.4" r="0.83" fill="#777b72"/><circle cx="1298.2" cy="1406.4" r="0.83" fill="#777b72"/><circle cx="1320.6" cy="1406.4" r="0.83" fill="#777b72"/><circle cx="1359.5" cy="1406.4" r="1.28" fill="#6b7a66"/><circle cx="1381.8" cy="1406.4" r="0.83" fill="#777b72"/><circle cx="1403.7" cy="1406.4" r="0.83" fill="#777b72"/><circle cx="1425.9" cy="1406.4" r="0.83" fill="#777b72"/><circle cx="1465.5" cy="1406.4" r="1.84" fill="#8e8e52"/><circle cx="1487.7" cy="1406.4" r="2.75" fill="#8e8e52"/><circle cx="1509.9" cy="1406.4" r="2.75" fill="#8e8e52"/><circle cx="1532.3" cy="1406.4" r="2.57" fill="#7d8560"/><circle cx="1554.7" cy="1406.4" r="1.84" fill="#8e8e52"/><circle cx="1593.6" cy="1406.4" r="4.59" fill="#b19d44"/><circle cx="1616" cy="1406.4" r="3.12" fill="#7d8560"/><circle cx="1638.2" cy="1406.4" r="3.49" fill="#8e8e52"/><circle cx="1660.6" cy="1406.4" r="3.3" fill="#7d8560"/><circle cx="1683" cy="1406.4" r="3.85" fill="#8e8e52"/><circle cx="1721.9" cy="1406.4" r="6.42" fill="#eec02f"/><circle cx="1744.1" cy="1406.4" r="5.32" fill="#eec02f"/><circle cx="1783.2" cy="1406.4" r="2.94" fill="#7d8560"/><circle cx="1805.6" cy="1406.4" r="4.59" fill="#b19d44"/><circle cx="1827.8" cy="1406.4" r="1.65" fill="#7d8560"/><circle cx="1850" cy="1406.4" r="4.59" fill="#eec02f"/><circle cx="1872.4" cy="1406.4" r="2.02" fill="#8e8e52"/><circle cx="1894.8" cy="1406.4" r="3.12" fill="#8e8e52"/><circle cx="1917" cy="1406.4" r="2.2" fill="#7d8560"/><circle cx="1939.4" cy="1406.4" r="1.47" fill="#7d8560"/><circle cx="1978.3" cy="1406.4" r="1.1" fill="#7d8560"/><circle cx="2000.7" cy="1406.4" r="1.1" fill="#7d8560"/><circle cx="2022.9" cy="1406.4" r="0.73" fill="#777b72"/><circle cx="2045.3" cy="1406.4" r="0.73" fill="#777b72"/><circle cx="2067.7" cy="1406.4" r="0.73" fill="#777b72"/><circle cx="2089.9" cy="1406.4" r="0.73" fill="#777b72"/><circle cx="2112.3" cy="1406.4" r="1.65" fill="#8e8e52"/><circle cx="1014" cy="1429" r="0.83" fill="#777b72"/><circle cx="1036.2" cy="1429" r="0.83" fill="#777b72"/><circle cx="1058.6" cy="1429" r="2.29" fill="#7d8560"/><circle cx="1080.8" cy="1429" r="2.29" fill="#7d8560"/><circle cx="1103.1" cy="1429" r="2.29" fill="#7d8560"/><circle cx="1125.5" cy="1429" r="2.29" fill="#7d8560"/><circle cx="1147.9" cy="1429" r="2.29" fill="#7d8560"/><circle cx="1186.5" cy="1429" r="2.29" fill="#7d8560"/><circle cx="1208.9" cy="1429" r="1.28" fill="#6b7a66"/><circle cx="1231.3" cy="1429" r="2.29" fill="#7d8560"/><circle cx="1253.7" cy="1429" r="1.28" fill="#6b7a66"/><circle cx="1275.9" cy="1429" r="0.83" fill="#777b72"/><circle cx="1298.2" cy="1429" r="0.83" fill="#777b72"/><circle cx="1320.6" cy="1429" r="0.83" fill="#777b72"/><circle cx="1359.5" cy="1429" r="2.29" fill="#7d8560"/><circle cx="1381.8" cy="1429" r="0.83" fill="#777b72"/><circle cx="1403.7" cy="1429" r="1.28" fill="#6b7a66"/><circle cx="1425.9" cy="1429" r="1.84" fill="#7d8560"/><circle cx="1465.5" cy="1429" r="2.75" fill="#8e8e52"/><circle cx="1487.7" cy="1429" r="2.75" fill="#b19d44"/><circle cx="1509.9" cy="1429" r="4.04" fill="#b19d44"/><circle cx="1532.3" cy="1429" r="4.41" fill="#cfad3a"/><circle cx="1554.7" cy="1429" r="3.85" fill="#b19d44"/><circle cx="1593.6" cy="1429" r="5.51" fill="#cfad3a"/><circle cx="1616" cy="1429" r="5.69" fill="#b19d44"/><circle cx="1638.2" cy="1429" r="5.87" fill="#cfad3a"/><circle cx="1660.6" cy="1429" r="6.06" fill="#b19d44"/><circle cx="1683" cy="1429" r="5.87" fill="#cfad3a"/><circle cx="1721.9" cy="1429" r="2.2" fill="#8e8e52"/><circle cx="1744.1" cy="1429" r="2.2" fill="#8e8e52"/><circle cx="1783.2" cy="1429" r="5.32" fill="#b19d44"/><circle cx="1805.6" cy="1429" r="2.94" fill="#8e8e52"/><circle cx="1827.8" cy="1429" r="3.49" fill="#8e8e52"/><circle cx="1850" cy="1429" r="1.84" fill="#7d8560"/><circle cx="1872.4" cy="1429" r="3.12" fill="#8e8e52"/><circle cx="1894.8" cy="1429" r="4.04" fill="#8e8e52"/><circle cx="1917" cy="1429" r="4.77" fill="#cfad3a"/><circle cx="1939.4" cy="1429" r="2.57" fill="#8e8e52"/><circle cx="1978.3" cy="1429" r="2.02" fill="#7d8560"/><circle cx="2000.7" cy="1429" r="1.84" fill="#7d8560"/><circle cx="2022.9" cy="1429" r="0.73" fill="#777b72"/><circle cx="2045.3" cy="1429" r="0.73" fill="#777b72"/><circle cx="2067.7" cy="1429" r="0.73" fill="#777b72"/><circle cx="2089.9" cy="1429" r="0.73" fill="#777b72"/><circle cx="2112.3" cy="1429" r="2.57" fill="#7d8560"/><circle cx="1014" cy="1451.5" r="0.83" fill="#777b72"/><circle cx="1036.2" cy="1451.5" r="0.83" fill="#777b72"/><circle cx="1058.6" cy="1451.5" r="1.28" fill="#6b7a66"/><circle cx="1080.8" cy="1451.5" r="1.28" fill="#6b7a66"/><circle cx="1103.1" cy="1451.5" r="1.28" fill="#6b7a66"/><circle cx="1125.5" cy="1451.5" r="1.28" fill="#6b7a66"/><circle cx="1147.9" cy="1451.5" r="1.28" fill="#6b7a66"/><circle cx="1186.5" cy="1451.5" r="0.83" fill="#777b72"/><circle cx="1208.9" cy="1451.5" r="0.83" fill="#777b72"/><circle cx="1231.3" cy="1451.5" r="1.28" fill="#6b7a66"/><circle cx="1253.7" cy="1451.5" r="0.83" fill="#777b72"/><circle cx="1275.9" cy="1451.5" r="0.83" fill="#777b72"/><circle cx="1298.2" cy="1451.5" r="0.83" fill="#777b72"/><circle cx="1320.6" cy="1451.5" r="0.83" fill="#777b72"/><circle cx="1359.5" cy="1451.5" r="1.28" fill="#6b7a66"/><circle cx="1381.8" cy="1451.5" r="0.83" fill="#777b72"/><circle cx="1403.7" cy="1451.5" r="0.83" fill="#777b72"/><circle cx="1425.9" cy="1451.5" r="0.83" fill="#777b72"/><circle cx="1465.5" cy="1451.5" r="2.57" fill="#b19d44"/><circle cx="1487.7" cy="1451.5" r="2.39" fill="#cfad3a"/><circle cx="1509.9" cy="1451.5" r="2.75" fill="#b19d44"/><circle cx="1532.3" cy="1451.5" r="3.67" fill="#cfad3a"/><circle cx="1554.7" cy="1451.5" r="2.2" fill="#7d8560"/><circle cx="1593.6" cy="1451.5" r="4.22" fill="#cfad3a"/><circle cx="1616" cy="1451.5" r="4.96" fill="#b19d44"/><circle cx="1638.2" cy="1451.5" r="5.32" fill="#eec02f"/><circle cx="1660.6" cy="1451.5" r="5.51" fill="#b19d44"/><circle cx="1683" cy="1451.5" r="4.77" fill="#cfad3a"/><circle cx="1721.9" cy="1451.5" r="2.2" fill="#8e8e52"/><circle cx="1744.1" cy="1451.5" r="2.2" fill="#8e8e52"/><circle cx="1783.2" cy="1451.5" r="2.02" fill="#7d8560"/><circle cx="1805.6" cy="1451.5" r="2.2" fill="#8e8e52"/><circle cx="1827.8" cy="1451.5" r="1.65" fill="#7d8560"/><circle cx="1850" cy="1451.5" r="1.47" fill="#7d8560"/><circle cx="1872.4" cy="1451.5" r="2.02" fill="#8e8e52"/><circle cx="1894.8" cy="1451.5" r="2.75" fill="#8e8e52"/><circle cx="1917" cy="1451.5" r="3.3" fill="#cfad3a"/><circle cx="1939.4" cy="1451.5" r="1.1" fill="#7d8560"/><circle cx="1978.3" cy="1451.5" r="1.1" fill="#7d8560"/><circle cx="2000.7" cy="1451.5" r="1.1" fill="#7d8560"/><circle cx="2022.9" cy="1451.5" r="0.73" fill="#777b72"/><circle cx="2045.3" cy="1451.5" r="0.73" fill="#777b72"/><circle cx="2067.7" cy="1451.5" r="0.73" fill="#777b72"/><circle cx="2089.9" cy="1451.5" r="0.73" fill="#777b72"/><circle cx="2112.3" cy="1451.5" r="1.28" fill="#7d8560"/><circle cx="1014" cy="1474" r="0.83" fill="#777b72"/><circle cx="1036.2" cy="1474" r="0.83" fill="#777b72"/><circle cx="1058.6" cy="1474" r="1.28" fill="#6b7a66"/><circle cx="1080.8" cy="1474" r="1.28" fill="#6b7a66"/><circle cx="1103.1" cy="1474" r="1.28" fill="#6b7a66"/><circle cx="1125.5" cy="1474" r="1.28" fill="#6b7a66"/><circle cx="1147.9" cy="1474" r="1.28" fill="#6b7a66"/><circle cx="1186.5" cy="1474" r="2.29" fill="#8e8e52"/><circle cx="1208.9" cy="1474" r="2.29" fill="#7d8560"/><circle cx="1231.3" cy="1474" r="3.58" fill="#b19d44"/><circle cx="1253.7" cy="1474" r="1.28" fill="#6b7a66"/><circle cx="1275.9" cy="1474" r="1.28" fill="#6b7a66"/><circle cx="1298.2" cy="1474" r="1.28" fill="#7d8560"/><circle cx="1320.6" cy="1474" r="0.83" fill="#777b72"/><circle cx="1359.5" cy="1474" r="3.03" fill="#8e8e52"/><circle cx="1381.8" cy="1474" r="0.83" fill="#777b72"/><circle cx="1403.7" cy="1474" r="1.28" fill="#6b7a66"/><circle cx="1425.9" cy="1474" r="1.28" fill="#6b7a66"/><circle cx="1465.5" cy="1474" r="3.67" fill="#cfad3a"/><circle cx="1487.7" cy="1474" r="1.84" fill="#7d8560"/><circle cx="1509.9" cy="1474" r="5.14" fill="#cfad3a"/><circle cx="1532.3" cy="1474" r="1.84" fill="#7d8560"/><circle cx="1554.7" cy="1474" r="3.85" fill="#8e8e52"/><circle cx="1593.6" cy="1474" r="5.14" fill="#cfad3a"/><circle cx="1616" cy="1474" r="6.06" fill="#b19d44"/><circle cx="1638.2" cy="1474" r="4.59" fill="#b19d44"/><circle cx="1660.6" cy="1474" r="6.42" fill="#b19d44"/><circle cx="1683" cy="1474" r="5.32" fill="#cfad3a"/><circle cx="1721.9" cy="1474" r="2.02" fill="#7d8560"/><circle cx="1744.1" cy="1474" r="2.2" fill="#8e8e52"/><circle cx="1783.2" cy="1474" r="4.41" fill="#8e8e52"/><circle cx="1805.6" cy="1474" r="2.02" fill="#7d8560"/><circle cx="1827.8" cy="1474" r="2.57" fill="#8e8e52"/><circle cx="1850" cy="1474" r="1.65" fill="#7d8560"/><circle cx="1872.4" cy="1474" r="3.67" fill="#8e8e52"/><circle cx="1894.8" cy="1474" r="4.22" fill="#b19d44"/><circle cx="1917" cy="1474" r="2.75" fill="#8e8e52"/><circle cx="1939.4" cy="1474" r="6.24" fill="#eec02f"/><circle cx="1978.3" cy="1474" r="2.57" fill="#8e8e52"/><circle cx="2000.7" cy="1474" r="2.94" fill="#8e8e52"/><circle cx="2022.9" cy="1474" r="0.73" fill="#777b72"/><circle cx="2045.3" cy="1474" r="0.73" fill="#777b72"/><circle cx="2067.7" cy="1474" r="0.73" fill="#777b72"/><circle cx="2089.9" cy="1474" r="0.73" fill="#777b72"/><circle cx="2112.3" cy="1474" r="3.49" fill="#8e8e52"/><path d="M1000.7 1270.6H2126M1000.7 1323.8H2126" stroke="#222" stroke-width="1.1" fill="none"/><path d="M1000.7 1196.6V1487H2126.3M1000.7 1210.2h-5M1000.7 1232.8h-5M1000.7 1255.2h-5M1000.7 1285.9h-5M1000.7 1308.4h-5M1000.7 1339.3h-5M1000.7 1361.7h-5M1000.7 1384h-5M1000.7 1406.4h-5M1000.7 1429h-5M1000.7 1451.5h-5M1000.7 1474h-5M1014 1487v5.6M1036.2 1487v5.6M1058.6 1487v5.6M1080.8 1487v5.6M1103.1 1487v5.6M1125.5 1487v5.6M1147.9 1487v5.6M1186.5 1487v5.6M1208.9 1487v5.6M1231.3 1487v5.6M1253.7 1487v5.6M1275.9 1487v5.6M1298.2 1487v5.6M1320.6 1487v5.6M1359.5 1487v5.6M1381.8 1487v5.6M1403.7 1487v5.6M1425.9 1487v5.6M1465.5 1487v5.6M1487.7 1487v5.6M1509.9 1487v5.6M1532.3 1487v5.6M1554.7 1487v5.6M1593.6 1487v5.6M1616 1487v5.6M1638.2 1487v5.6M1660.6 1487v5.6M1683 1487v5.6M1721.9 1487v5.6M1744.1 1487v5.6M1783.2 1487v5.6M1805.6 1487v5.6M1827.8 1487v5.6M1850 1487v5.6M1872.4 1487v5.6M1894.8 1487v5.6M1917 1487v5.6M1939.4 1487v5.6M1978.3 1487v5.6M2000.7 1487v5.6M2022.9 1487v5.6M2045.3 1487v5.6M2067.7 1487v5.6M2089.9 1487v5.6M2112.3 1487v5.6" stroke="#000" stroke-width="1.75" fill="none"/><text x="990.8" y="1216.4" font-size="18.6" text-anchor="end" font-style="italic" textLength="66.6" lengthAdjust="spacingAndGlyphs">Tnfrsf1b</text><text x="990.8" y="1239" font-size="18.6" text-anchor="end" font-style="italic" textLength="64.9" lengthAdjust="spacingAndGlyphs">Tnfrsf1a</text><text x="990.8" y="1261.4" font-size="18.6" text-anchor="end" font-style="italic" textLength="26" lengthAdjust="spacingAndGlyphs">Tnf</text><text x="990.8" y="1292.1" font-size="18.6" text-anchor="end" font-style="italic" textLength="45.1" lengthAdjust="spacingAndGlyphs">Cxcr4</text><text x="990.8" y="1314.6" font-size="18.6" text-anchor="end" font-style="italic" textLength="36.1" lengthAdjust="spacingAndGlyphs">Ccr2</text><text x="990.8" y="1345.5" font-size="18.6" text-anchor="end" font-style="italic" textLength="44.3" lengthAdjust="spacingAndGlyphs">Ccl12</text><text x="990.8" y="1367.9" font-size="18.6" text-anchor="end" font-style="italic" textLength="34.4" lengthAdjust="spacingAndGlyphs">Ccl9</text><text x="990.8" y="1390.2" font-size="18.6" text-anchor="end" font-style="italic" textLength="34.4" lengthAdjust="spacingAndGlyphs">Ccl7</text><text x="990.8" y="1412.6" font-size="18.6" text-anchor="end" font-style="italic" textLength="34.4" lengthAdjust="spacingAndGlyphs">Ccl6</text><text x="990.8" y="1435.2" font-size="18.6" text-anchor="end" font-style="italic" textLength="34.4" lengthAdjust="spacingAndGlyphs">Ccl4</text><text x="990.8" y="1457.7" font-size="18.6" text-anchor="end" font-style="italic" textLength="34.4" lengthAdjust="spacingAndGlyphs">Ccl3</text><text x="990.8" y="1480.2" font-size="18.6" text-anchor="end" font-style="italic" textLength="34.4" lengthAdjust="spacingAndGlyphs">Ccl2</text><text x="1019.4" y="1505.3" font-size="18.5" text-anchor="end" transform="rotate(-45 1019.4 1505.3)" textLength="86.2" lengthAdjust="spacingAndGlyphs">ven_duEC</text><text x="1041.6" y="1505.3" font-size="18.5" text-anchor="end" transform="rotate(-45 1041.6 1505.3)" textLength="78.1" lengthAdjust="spacingAndGlyphs">art_duEC</text><text x="1064" y="1505.3" font-size="18.5" text-anchor="end" transform="rotate(-45 1064 1505.3)" textLength="83.7" lengthAdjust="spacingAndGlyphs">venousEC</text><text x="1086.2" y="1505.3" font-size="18.5" text-anchor="end" transform="rotate(-45 1086.2 1505.3)" textLength="103.4" lengthAdjust="spacingAndGlyphs">capillaryEC1</text><text x="1108.5" y="1505.3" font-size="18.5" text-anchor="end" transform="rotate(-45 1108.5 1505.3)" textLength="103.4" lengthAdjust="spacingAndGlyphs">capillaryEC2</text><text x="1130.9" y="1505.3" font-size="18.5" text-anchor="end" transform="rotate(-45 1130.9 1505.3)" textLength="81.4" lengthAdjust="spacingAndGlyphs">arterialEC</text><text x="1153.3" y="1505.3" font-size="18.5" text-anchor="end" transform="rotate(-45 1153.3 1505.3)" textLength="48.3" lengthAdjust="spacingAndGlyphs">iegEC</text><text x="1191.9" y="1505.3" font-size="18.5" text-anchor="end" transform="rotate(-45 1191.9 1505.3)" textLength="94.9" lengthAdjust="spacingAndGlyphs">periostalFB</text><text x="1214.3" y="1505.3" font-size="18.5" text-anchor="end" transform="rotate(-45 1214.3 1505.3)" textLength="54.2" lengthAdjust="spacingAndGlyphs">duFB1</text><text x="1236.7" y="1505.3" font-size="18.5" text-anchor="end" transform="rotate(-45 1236.7 1505.3)" textLength="54.2" lengthAdjust="spacingAndGlyphs">duFB2</text><text x="1259.1" y="1505.3" font-size="18.5" text-anchor="end" transform="rotate(-45 1259.1 1505.3)" textLength="47.3" lengthAdjust="spacingAndGlyphs">araFB</text><text x="1281.3" y="1505.3" font-size="18.5" text-anchor="end" transform="rotate(-45 1281.3 1505.3)" textLength="52" lengthAdjust="spacingAndGlyphs">pialFB</text><text x="1303.6" y="1505.3" font-size="18.5" text-anchor="end" transform="rotate(-45 1303.6 1505.3)" textLength="52.9" lengthAdjust="spacingAndGlyphs">pvFB1</text><text x="1326" y="1505.3" font-size="18.5" text-anchor="end" transform="rotate(-45 1326 1505.3)" textLength="52.9" lengthAdjust="spacingAndGlyphs">pvFB2</text><text x="1364.9" y="1505.3" font-size="18.5" text-anchor="end" transform="rotate(-45 1364.9 1505.3)" textLength="45.4" lengthAdjust="spacingAndGlyphs">duPC</text><text x="1387.2" y="1505.3" font-size="18.5" text-anchor="end" transform="rotate(-45 1387.2 1505.3)" textLength="22.7" lengthAdjust="spacingAndGlyphs">PC</text><text x="1409.1" y="1505.3" font-size="18.5" text-anchor="end" transform="rotate(-45 1409.1 1505.3)" textLength="111.5" lengthAdjust="spacingAndGlyphs">venousVSMC</text><text x="1431.3" y="1505.3" font-size="18.5" text-anchor="end" transform="rotate(-45 1431.3 1505.3)" textLength="109.2" lengthAdjust="spacingAndGlyphs">arterialVSMC</text><text x="1470.9" y="1505.3" font-size="18.5" text-anchor="end" transform="rotate(-45 1470.9 1505.3)" textLength="120.2" lengthAdjust="spacingAndGlyphs">Lyve1_sdCAM</text><text x="1493.1" y="1505.3" font-size="18.5" text-anchor="end" transform="rotate(-45 1493.1 1505.3)" textLength="121.8" lengthAdjust="spacingAndGlyphs">MHCII_sdCAM</text><text x="1515.3" y="1505.3" font-size="18.5" text-anchor="end" transform="rotate(-45 1515.3 1505.3)" textLength="57" lengthAdjust="spacingAndGlyphs">dlCAM</text><text x="1537.7" y="1505.3" font-size="18.5" text-anchor="end" transform="rotate(-45 1537.7 1505.3)" textLength="69.1" lengthAdjust="spacingAndGlyphs">homMG</text><text x="1560.1" y="1505.3" font-size="18.5" text-anchor="end" transform="rotate(-45 1560.1 1505.3)" textLength="88.9" lengthAdjust="spacingAndGlyphs">Osteoclast</text><text x="1599" y="1505.3" font-size="18.5" text-anchor="end" transform="rotate(-45 1599 1505.3)" textLength="63.6" lengthAdjust="spacingAndGlyphs">diffMac</text><text x="1621.4" y="1505.3" font-size="18.5" text-anchor="end" transform="rotate(-45 1621.4 1505.3)" textLength="91.4" lengthAdjust="spacingAndGlyphs">repopMG1</text><text x="1643.6" y="1505.3" font-size="18.5" text-anchor="end" transform="rotate(-45 1643.6 1505.3)" textLength="91.4" lengthAdjust="spacingAndGlyphs">repopMG2</text><text x="1666" y="1505.3" font-size="18.5" text-anchor="end" transform="rotate(-45 1666 1505.3)" textLength="115.7" lengthAdjust="spacingAndGlyphs">dividingMac1</text><text x="1688.4" y="1505.3" font-size="18.5" text-anchor="end" transform="rotate(-45 1688.4 1505.3)" textLength="115.7" lengthAdjust="spacingAndGlyphs">dividingMac2</text><text x="1727.3" y="1505.3" font-size="18.5" text-anchor="end" transform="rotate(-45 1727.3 1505.3)" textLength="99.8" lengthAdjust="spacingAndGlyphs">clMonocyte</text><text x="1749.5" y="1505.3" font-size="18.5" text-anchor="end" transform="rotate(-45 1749.5 1505.3)" textLength="106.3" lengthAdjust="spacingAndGlyphs">ncMonocyte</text><text x="1788.6" y="1505.3" font-size="18.5" text-anchor="end" transform="rotate(-45 1788.6 1505.3)" textLength="45" lengthAdjust="spacingAndGlyphs">cDC1</text><text x="1811" y="1505.3" font-size="18.5" text-anchor="end" transform="rotate(-45 1811 1505.3)" textLength="45" lengthAdjust="spacingAndGlyphs">cDC2</text><text x="1833.2" y="1505.3" font-size="18.5" text-anchor="end" transform="rotate(-45 1833.2 1505.3)" textLength="58.6" lengthAdjust="spacingAndGlyphs">migDC</text><text x="1855.4" y="1505.3" font-size="18.5" text-anchor="end" transform="rotate(-45 1855.4 1505.3)" textLength="92" lengthAdjust="spacingAndGlyphs">Neutrophil</text><text x="1877.8" y="1505.3" font-size="18.5" text-anchor="end" transform="rotate(-45 1877.8 1505.3)" textLength="50.2" lengthAdjust="spacingAndGlyphs">B_cell</text><text x="1900.2" y="1505.3" font-size="18.5" text-anchor="end" transform="rotate(-45 1900.2 1505.3)" textLength="31.9" lengthAdjust="spacingAndGlyphs">Th2</text><text x="1922.4" y="1505.3" font-size="18.5" text-anchor="end" transform="rotate(-45 1922.4 1505.3)" textLength="34.6" lengthAdjust="spacingAndGlyphs">NKT</text><text x="1944.8" y="1505.3" font-size="18.5" text-anchor="end" transform="rotate(-45 1944.8 1505.3)" textLength="80.3" lengthAdjust="spacingAndGlyphs">Mast_cell</text><text x="1983.7" y="1505.3" font-size="18.5" text-anchor="end" transform="rotate(-45 1983.7 1505.3)" textLength="73.7" lengthAdjust="spacingAndGlyphs">myel_SC</text><text x="2006.1" y="1505.3" font-size="18.5" text-anchor="end" transform="rotate(-45 2006.1 1505.3)" textLength="117.8" lengthAdjust="spacingAndGlyphs">non_myel_SC</text><text x="2028.3" y="1505.3" font-size="18.5" text-anchor="end" transform="rotate(-45 2028.3 1505.3)" textLength="45.2" lengthAdjust="spacingAndGlyphs">Astro</text><text x="2050.7" y="1505.3" font-size="18.5" text-anchor="end" transform="rotate(-45 2050.7 1505.3)" textLength="36.7" lengthAdjust="spacingAndGlyphs">OPC</text><text x="2073.1" y="1505.3" font-size="18.5" text-anchor="end" transform="rotate(-45 2073.1 1505.3)" textLength="134.9" lengthAdjust="spacingAndGlyphs">intermed_Oligo</text><text x="2095.3" y="1505.3" font-size="18.5" text-anchor="end" transform="rotate(-45 2095.3 1505.3)" textLength="118.2" lengthAdjust="spacingAndGlyphs">mature_Oligo</text><text x="2117.7" y="1505.3" font-size="18.5" text-anchor="end" transform="rotate(-45 2117.7 1505.3)" textLength="98" lengthAdjust="spacingAndGlyphs">Erythrocyte</text><text x="1002.6" y="1153.4" font-size="22.5" textLength="201.1" lengthAdjust="spacingAndGlyphs">Average Expression</text><defs><linearGradient id="gh" x1="0" y1="0" x2="1" y2="0"><stop offset="0" stop-color="#3f7c7c"/><stop offset="0.45" stop-color="#8a8c52"/><stop offset="1" stop-color="#f2c22e"/></linearGradient></defs><rect x="1218.8" y="1143.1" width="96.2" height="19" fill="url(#gh)"/><path d="M1238.5 1143.1v3.4M1238.5 1162.1v-3.4M1260 1143.1v3.4M1260 1162.1v-3.4M1281 1143.1v3.4M1281 1162.1v-3.4M1303 1143.1v3.4M1303 1162.1v-3.4" stroke="#fff" stroke-width="0.7" fill="none" opacity="0.8"/><text x="1235.5" y="1140" font-size="17.6" text-anchor="middle">−1</text><text x="1260" y="1140" font-size="17.6" text-anchor="middle">0</text><text x="1281" y="1140" font-size="17.6" text-anchor="middle">1</text><text x="1303.4" y="1140" font-size="17.6" text-anchor="middle">2</text><text x="1441.8" y="1151" font-size="22.5" textLength="188.5" lengthAdjust="spacingAndGlyphs">Percent Expressed</text><text x="1658.6" y="1145.4" font-size="17.6" text-anchor="middle">0</text><circle cx="1658.6" cy="1155.2" r="0.5" fill="#000"/><text x="1684" y="1145.4" font-size="17.6" text-anchor="middle">25</text><circle cx="1684" cy="1155.2" r="1.9" fill="#000"/><text x="1714.3" y="1145.4" font-size="17.6" text-anchor="middle">50</text><circle cx="1714.3" cy="1155.2" r="3.6" fill="#000"/><text x="1744.5" y="1145.4" font-size="17.6" text-anchor="middle">75</text><circle cx="1744.5" cy="1155.2" r="5.1" fill="#000"/></g></svg></body></html>
